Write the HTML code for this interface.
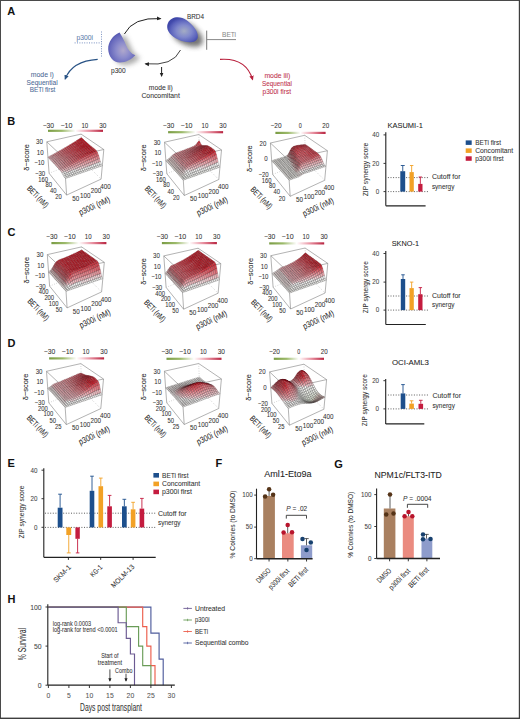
<!DOCTYPE html>
<html><head><meta charset="utf-8"><style>
html,body{margin:0;padding:0;background:#fff;}
body{width:520px;height:719px;overflow:hidden;}
svg{display:block;font-family:"Liberation Sans", sans-serif;}
text{stroke-width:0.06px;}
</style></head><body>
<svg width="520" height="719" viewBox="0 0 520 719">
<rect x="0" y="0" width="520" height="719" fill="#fff"/>
<defs>
<radialGradient id="gP300" cx="0.55" cy="0.58" r="0.62" fx="0.55" fy="0.6">
<stop offset="0" stop-color="#b0a8cc"/><stop offset="0.4" stop-color="#8c8ccc"/><stop offset="0.8" stop-color="#6668bc"/><stop offset="1" stop-color="#4a4eac"/>
</radialGradient>
<radialGradient id="gBRD" cx="0.55" cy="0.55" r="0.55" fx="0.55" fy="0.55">
<stop offset="0" stop-color="#a4acc4"/><stop offset="0.45" stop-color="#8088cc"/><stop offset="0.8" stop-color="#5a62bc"/><stop offset="1" stop-color="#4048aa"/>
</radialGradient>
<filter id="blur3" x="-50%" y="-50%" width="200%" height="200%"><feGaussianBlur stdDeviation="2.6"/></filter>
<filter id="blur1" x="-50%" y="-50%" width="200%" height="200%"><feGaussianBlur stdDeviation="0.6"/></filter>
<marker id="ahK" viewBox="0 0 10 10" refX="7" refY="5" markerWidth="5" markerHeight="5" orient="auto"><path d="M0,1 L9,5 L0,9 z" fill="#222"/></marker>
<marker id="ahB" viewBox="0 0 10 10" refX="7" refY="5" markerWidth="5" markerHeight="5" orient="auto"><path d="M0,1 L9,5 L0,9 z" fill="#2a5486"/></marker>
<marker id="ahR" viewBox="0 0 10 10" refX="7" refY="5" markerWidth="5" markerHeight="5" orient="auto"><path d="M0,1 L9,5 L0,9 z" fill="#b8203c"/></marker>
</defs>
<text x="7.2" y="15.2" font-size="11" font-weight="bold" fill="#111">A</text>
<text x="7.2" y="124.6" font-size="11" font-weight="bold" fill="#111">B</text>
<text x="7.6" y="235.8" font-size="11" font-weight="bold" fill="#111">C</text>
<text x="7.6" y="347.4" font-size="11" font-weight="bold" fill="#111">D</text>
<text x="7.4" y="467.4" font-size="11" font-weight="bold" fill="#111">E</text>
<text x="215.6" y="467.4" font-size="11" font-weight="bold" fill="#111">F</text>
<text x="334.2" y="467.6" font-size="11" font-weight="bold" fill="#111">G</text>
<text x="7.6" y="602.8" font-size="11" font-weight="bold" fill="#111">H</text>
<text x="76.50" y="39.68" font-size="6.6" fill="#5f7fae" stroke="#5f7fae" textLength="16.50" lengthAdjust="spacingAndGlyphs">p300i</text>
<line x1="74.60" y1="42.90" x2="101.30" y2="42.90" stroke="#7890c0" stroke-width="1.0" stroke-dasharray="1 1.4"/>
<line x1="101.50" y1="31.50" x2="101.50" y2="56.50" stroke="#7890c0" stroke-width="1.0" stroke-dasharray="1 1.4"/>
<path d="M119.5,32.4 C122,36 124.5,41 126,45 C128,50 131,53.5 135.3,55.3 C132,59 126,62.5 119.9,62.6 C113,62.5 108.5,56 108.2,49.2 C108,42 113,35 119.5,32.4 Z" fill="#666" opacity="0.55" filter="url(#blur3)" transform="translate(5,2.5)"/>
<path d="M119.5,32.4 C122,36 124.5,41 126,45 C128,50 131,53.5 135.3,55.3 C132,59 126,62.5 119.9,62.6 C113,62.5 108.5,56 108.2,49.2 C108,42 113,35 119.5,32.4 Z" fill="url(#gP300)"/>
<text x="111.00" y="72.78" font-size="6.6" fill="#333" stroke="#333" textLength="14.60" lengthAdjust="spacingAndGlyphs">p300</text>
<path d="M168,23 C171,16.5 180,15.5 187,20.5 C193,25 198.5,31.5 197.8,37.2 C197,42.5 190,43 184,41.6 C176,39.6 169,34.5 167.6,29.5 C167,27 167,25 168,23 Z" fill="#3a3a3a" opacity="0.7" filter="url(#blur3)" transform="translate(5,4.5)"/>
<path d="M168,23 C171,16.5 180,15.5 187,20.5 C193,25 198.5,31.5 197.8,37.2 C197,42.5 190,43 184,41.6 C176,39.6 169,34.5 167.6,29.5 C167,27 167,25 168,23 Z" fill="url(#gBRD)"/>
<text x="187.00" y="18.98" font-size="6.6" fill="#333" stroke="#333" textLength="17.00" lengthAdjust="spacingAndGlyphs">BRD4</text>
<path d="M124.4,34 Q133,17 160.5,18.6" fill="none" stroke="#222" stroke-width="1" marker-end="url(#ahK)"/>
<path d="M180.5,50 Q173,66.5 145.5,63.8" fill="none" stroke="#444" stroke-width="1" marker-end="url(#ahK)"/>
<path d="M161.6,67 L161.6,76" fill="none" stroke="#222" stroke-width="1" marker-end="url(#ahK)"/>
<path d="M97.7,59.4 Q72,61 65.2,79" fill="none" stroke="#2a5486" stroke-width="1.1" marker-end="url(#ahB)"/>
<path d="M220,59.4 Q246,57.5 252.6,79.5" fill="none" stroke="#b8203c" stroke-width="1.1" marker-end="url(#ahR)"/>
<line x1="206.70" y1="30.60" x2="206.70" y2="49.80" stroke="#777" stroke-width="1"/>
<line x1="206.70" y1="39.60" x2="236.00" y2="39.60" stroke="#888" stroke-width="1"/>
<text x="222.00" y="36.78" font-size="6.6" fill="#8a8a8a" stroke="#8a8a8a" textLength="14.00" lengthAdjust="spacingAndGlyphs">BETi</text>
<text x="30.80" y="77.23" font-size="7.3" fill="#4c6a96" stroke="#4c6a96" textLength="23.00" lengthAdjust="spacingAndGlyphs">mode i)</text>
<text x="26.60" y="84.93" font-size="7.3" fill="#4c6a96" stroke="#4c6a96" textLength="31.10" lengthAdjust="spacingAndGlyphs">Sequential</text>
<text x="29.70" y="92.33" font-size="7.3" fill="#4c6a96" stroke="#4c6a96" textLength="25.70" lengthAdjust="spacingAndGlyphs">BETi first</text>
<text x="148.80" y="89.93" font-size="7.3" fill="#333" stroke="#333" textLength="24.00" lengthAdjust="spacingAndGlyphs">mode ii)</text>
<text x="141.40" y="97.73" font-size="7.3" fill="#333" stroke="#333" textLength="38.40" lengthAdjust="spacingAndGlyphs">Concomitant</text>
<text x="264.40" y="78.43" font-size="7.3" fill="#c0304a" stroke="#c0304a" textLength="26.00" lengthAdjust="spacingAndGlyphs">mode iii)</text>
<text x="262.00" y="85.63" font-size="7.3" fill="#c0304a" stroke="#c0304a" textLength="30.00" lengthAdjust="spacingAndGlyphs">Sequential</text>
<text x="262.50" y="93.83" font-size="7.3" fill="#c0304a" stroke="#c0304a" textLength="28.50" lengthAdjust="spacingAndGlyphs">p300i first</text>
<defs><linearGradient id="cbar" x1="0" x2="1" y1="0" y2="0">
<stop offset="0" stop-color="#7a9c44"/><stop offset="0.25" stop-color="#9cba6a"/><stop offset="0.44" stop-color="#e8eedc"/>
<stop offset="0.5" stop-color="#ffffff"/><stop offset="0.56" stop-color="#fbe4e8"/><stop offset="0.75" stop-color="#e890a0"/><stop offset="1" stop-color="#b82440"/>
</linearGradient></defs>
<line x1="49.10" y1="173.30" x2="66.60" y2="195.10" stroke="#808080" stroke-width="0.6"/>
<line x1="66.60" y1="195.10" x2="101.10" y2="179.10" stroke="#808080" stroke-width="0.6"/>
<line x1="46.80" y1="141.80" x2="49.10" y2="173.30" stroke="#808080" stroke-width="0.6"/>
<line x1="103.80" y1="149.50" x2="101.10" y2="179.10" stroke="#808080" stroke-width="0.6"/>
<line x1="64.20" y1="158.20" x2="66.60" y2="195.10" stroke="#808080" stroke-width="0.6"/>
<line x1="46.80" y1="141.80" x2="81.10" y2="134.10" stroke="#808080" stroke-width="0.6"/>
<line x1="81.10" y1="134.10" x2="103.80" y2="149.50" stroke="#808080" stroke-width="0.6"/>
<line x1="46.80" y1="141.80" x2="64.20" y2="158.20" stroke="#808080" stroke-width="0.6"/>
<line x1="64.20" y1="158.20" x2="103.80" y2="149.50" stroke="#808080" stroke-width="0.6"/>
<line x1="49.10" y1="173.30" x2="82.10" y2="160.10" stroke="#999" stroke-width="0.5" stroke-dasharray="0.8 1.6"/>
<line x1="82.10" y1="160.10" x2="101.10" y2="179.10" stroke="#999" stroke-width="0.5" stroke-dasharray="0.8 1.6"/>
<line x1="81.10" y1="134.10" x2="82.10" y2="160.10" stroke="#999" stroke-width="0.5" stroke-dasharray="0.8 1.6"/>
<g stroke="#4a0810" stroke-width="0.5" stroke-opacity="0.48" stroke-linejoin="round"><path d="M80.7,139.7l1.7-1.1-1.1-1-1.7,1.1z" fill="#be1c26"/><path d="M79.0,140.8l1.7-1.1-1.1-1-1.7,1.1z" fill="#be1c26"/><path d="M81.8,140.7l1.7-1.1-1.1-1-1.7,1.1z" fill="#bf1c26"/><path d="M77.3,141.8l1.7-1.1-1.1-1-1.7,1.1z" fill="#be1c26"/><path d="M80.0,141.7l1.7-1.1-1.1-1-1.7,1.1z" fill="#bf1c26"/><path d="M82.8,141.6l1.7-1.1-1.1-1-1.7,1.1z" fill="#c01b26"/><path d="M75.6,142.9l1.7-1-1.1-1-1.7,1.1z" fill="#be1c26"/><path d="M78.3,142.8l1.7-1.1-1.1-1-1.7,1.1z" fill="#bf1c26"/><path d="M81.1,142.7l1.7-1-1.1-1-1.7,1.1z" fill="#bf1c26"/><path d="M83.9,142.6l1.7-1-1.1-1-1.7,1.1z" fill="#c01b26"/><path d="M73.9,143.9l1.7-1-1.1-.9-1.7,1z" fill="#bf202a"/><path d="M76.6,143.8l1.7-1-1.1-.9-1.7,1z" fill="#bf1c26"/><path d="M79.4,143.7l1.7-1-1.1-1-1.7,1.1z" fill="#bf1c26"/><path d="M82.2,143.6l1.7-1-1.1-1-1.7,1z" fill="#c01b26"/><path d="M85.0,143.5l1.8-1-1.1-1-1.7,1z" fill="#c01b26"/><path d="M72.2,144.9l1.7-1-1-.9-1.7,1z" fill="#c22a34"/><path d="M74.9,144.8l1.7-1-1.1-.9-1.7,1z" fill="#c0212c"/><path d="M77.7,144.7l1.7-1-1.1-.9-1.7,1z" fill="#bf1c26"/><path d="M80.5,144.6l1.7-1-1.1-1-1.7,1z" fill="#c01b26"/><path d="M83.3,144.6l1.8-1-1.1-1-1.7,1z" fill="#c01b26"/><path d="M86.1,144.5l1.8-1-1.1-1-1.8,1z" fill="#c11b26"/><path d="M70.5,145.9l1.7-1-1-.9-1.7,1z" fill="#c4343e"/><path d="M73.2,145.8l1.7-1-1-.9-1.7,1z" fill="#c22b35"/><path d="M76.0,145.7l1.7-1-1-.9-1.7,1z" fill="#c1232e"/><path d="M78.7,145.7l1.7-1-1.1-.9-1.7,1z" fill="#bf1c26"/><path d="M81.5,145.6l1.7-1-1.1-.9-1.7,1z" fill="#c01b26"/><path d="M84.3,145.5l1.8-1-1.1-.9-1.8,1z" fill="#c01b26"/><path d="M87.2,145.4l1.8-1-1.1-1-1.8,1z" fill="#c11b26"/><path d="M68.9,146.9l1.7-1-1-.9-1.7,1z" fill="#c73e47"/><path d="M71.5,146.8l1.7-1-1-.9-1.7,1z" fill="#c5353f"/><path d="M74.3,146.8l1.7-1-1-.9-1.7,1z" fill="#c32d37"/><path d="M77.0,146.7l1.7-1-1-.9-1.7,1z" fill="#c1252f"/><path d="M79.8,146.6l1.7-1-1.1-.9-1.7,1z" fill="#c01d28"/><path d="M82.6,146.5l1.8-1-1.1-.9-1.7,1z" fill="#c01b26"/><path d="M85.4,146.4l1.8-1-1.1-.9-1.8,1z" fill="#c11b26"/><path d="M88.3,146.4l1.8-1-1.1-.9-1.8,1z" fill="#c11b26"/><path d="M67.2,147.9l1.7-1-1-.9-1.7,1z" fill="#c94750"/><path d="M69.9,147.8l1.7-1-1-.9-1.7,1z" fill="#c73f48"/><path d="M72.6,147.7l1.7-1-1-.9-1.7,1z" fill="#c53640"/><path d="M75.3,147.7l1.7-1-1-.9-1.7,1z" fill="#c42e38"/><path d="M78.0,147.6l1.7-1-1-.9-1.7,1z" fill="#c22631"/><path d="M80.8,147.5l1.8-1-1.1-.9-1.7,1z" fill="#c11e29"/><path d="M83.6,147.4l1.8-1-1.1-.9-1.8,1z" fill="#c01b26"/><path d="M86.5,147.4l1.8-1-1.1-.9-1.8,1z" fill="#c11b26"/><path d="M89.4,147.3l1.8-1-1.1-.9-1.8,1z" fill="#c11b26"/><path d="M65.5,148.9l1.7-1-1-.9-1.7,1z" fill="#cc5159"/><path d="M68.2,148.8l1.7-1-1-.9-1.7,1z" fill="#ca4851"/><path d="M70.8,148.7l1.7-1-1-.9-1.7,1z" fill="#c84049"/><path d="M73.6,148.7l1.7-1-1-.9-1.7,1z" fill="#c63841"/><path d="M76.3,148.6l1.7-1-1-.9-1.7,1z" fill="#c42f3a"/><path d="M79.1,148.5l1.8-1-1-.9-1.7,1z" fill="#c32832"/><path d="M81.9,148.4l1.8-1-1.1-.9-1.8,1z" fill="#c1202b"/><path d="M84.7,148.3l1.8-1-1.1-.9-1.8,1z" fill="#c11b26"/><path d="M87.6,148.3l1.8-1-1.1-.9-1.8,1z" fill="#c11b26"/><path d="M90.5,148.2l1.8-1-1.1-.9-1.8,1z" fill="#c11b26"/><path d="M63.8,149.8l1.7-1-1-.9-1.7,1z" fill="#ce5a63" stroke="#400e14"/><path d="M66.5,149.8l1.7-1-1-.9-1.7,1z" fill="#cc525a"/><path d="M69.1,149.7l1.7-1-1-.9-1.7,1z" fill="#ca4952"/><path d="M71.8,149.6l1.7-1-1-.9-1.7,1z" fill="#c8414a"/><path d="M74.6,149.6l1.7-1-1-.9-1.7,1z" fill="#c63942"/><path d="M77.3,149.5l1.8-1-1-.9-1.7,1z" fill="#c5313b"/><path d="M80.1,149.4l1.8-1-1-.9-1.8,1z" fill="#c32933"/><path d="M82.9,149.3l1.8-1-1.1-.9-1.8,1z" fill="#c2212c"/><path d="M85.8,149.2l1.8-1-1.1-.9-1.8,1z" fill="#c11b26"/><path d="M88.6,149.2l1.8-1-1.1-.9-1.8,1z" fill="#c11b26"/><path d="M91.5,149.1l1.8-1-1.1-.9-1.8,1z" fill="#c11b26"/><path d="M62.1,150.8l1.7-.9-1-.9-1.7,.9z" fill="#d1646c" stroke="#400e14"/><path d="M64.8,150.7l1.7-1-1-.9-1.7,1z" fill="#ce5b63" stroke="#400e14"/><path d="M67.4,150.7l1.7-1-1-.9-1.7,1z" fill="#cc525b"/><path d="M70.1,150.6l1.7-1-1-.9-1.7,1z" fill="#ca4a53"/><path d="M72.8,150.5l1.7-1-1-.9-1.7,1z" fill="#c9424b"/><path d="M75.6,150.5l1.7-1-1-.9-1.7,1z" fill="#c73a43"/><path d="M78.3,150.4l1.8-1-1-.9-1.8,1z" fill="#c5323c"/><path d="M81.1,150.3l1.8-1-1-.9-1.8,1z" fill="#c42a35"/><path d="M84.0,150.2l1.8-1-1.1-.9-1.8,1z" fill="#c2232e"/><path d="M86.8,150.1l1.8-1-1.1-.9-1.8,1z" fill="#c11c27"/><path d="M89.7,150.1l1.8-1-1.1-.9-1.8,1z" fill="#c11b26"/><path d="M92.6,150.0l1.9-1-1.1-.9-1.8,1z" fill="#c11b26"/><path d="M60.5,151.7l1.7-.9-.9-.9-1.7,.9z" fill="#d36d75" stroke="#400e14"/><path d="M63.1,151.7l1.7-.9-1-.9-1.7,.9z" fill="#d1646c" stroke="#400e14"/><path d="M65.7,151.6l1.7-1-1-.9-1.7,1z" fill="#cf5b64" stroke="#400e14"/><path d="M68.4,151.6l1.7-1-1-.9-1.7,1z" fill="#cd535c"/><path d="M71.1,151.5l1.7-1-1-.9-1.7,1z" fill="#cb4b54"/><path d="M73.8,151.4l1.7-1-1-.9-1.7,1z" fill="#c9434c"/><path d="M76.6,151.4l1.8-1-1-.9-1.7,1z" fill="#c73b44"/><path d="M79.4,151.3l1.8-1-1-.9-1.8,1z" fill="#c6333d"/><path d="M82.2,151.2l1.8-1-1-.9-1.8,1z" fill="#c42b36"/><path d="M85.0,151.1l1.8-1-1.1-.9-1.8,1z" fill="#c3242f"/><path d="M87.9,151.0l1.8-1-1.1-.9-1.8,1z" fill="#c11d28"/><path d="M90.8,151.0l1.8-1-1.1-.9-1.8,1z" fill="#c11b26"/><path d="M93.7,150.9l1.9-.9-1.1-.9-1.9,1z" fill="#c11b26"/><path d="M58.8,152.6l1.7-.9-.9-.9-1.7,.9z" fill="#d6767e" stroke="#361519"/><path d="M61.4,152.6l1.7-.9-.9-.9-1.7,.9z" fill="#d36d75" stroke="#400e14"/><path d="M64.0,152.6l1.7-1-1-.9-1.7,.9z" fill="#d1656c" stroke="#400e14"/><path d="M66.7,152.5l1.7-1-1-.9-1.7,1z" fill="#cf5c64" stroke="#400e14"/><path d="M69.4,152.5l1.7-1-1-.9-1.7,1z" fill="#cd545c"/><path d="M72.1,152.4l1.7-1-1-.9-1.7,1z" fill="#cb4b54"/><path d="M74.8,152.3l1.8-1-1-.9-1.7,1z" fill="#c9434d"/><path d="M77.6,152.2l1.8-1-1-.9-1.8,1z" fill="#c83c45"/><path d="M80.4,152.2l1.8-1-1-.9-1.8,1z" fill="#c6343e"/><path d="M83.2,152.1l1.8-1-1-.9-1.8,1z" fill="#c42d37"/><path d="M86.0,152.0l1.8-1-1.1-.9-1.8,1z" fill="#c32530"/><path d="M88.9,151.9l1.8-1-1.1-.9-1.8,1z" fill="#c21e29"/><path d="M91.8,151.9l1.9-1-1.1-.9-1.8,1z" fill="#c11b26"/><path d="M94.8,151.9l1.9-.9-1.1-1-1.9,.9z" fill="#c51b26"/><path d="M57.1,153.6l1.7-.9-.9-.9-1.7,.9z" fill="#d88087" stroke="#361519"/><path d="M59.7,153.6l1.7-.9-.9-.9-1.7,.9z" fill="#d6777e" stroke="#361519"/><path d="M62.4,153.5l1.7-.9-.9-.9-1.7,.9z" fill="#d36e75" stroke="#400e14"/><path d="M65.0,153.5l1.7-1-1-.9-1.7,1z" fill="#d1656d" stroke="#400e14"/><path d="M67.7,153.4l1.7-1-1-.9-1.7,1z" fill="#cf5c65" stroke="#400e14"/><path d="M70.4,153.4l1.7-1-1-.9-1.7,1z" fill="#cd545d"/><path d="M73.1,153.3l1.8-1-1-.9-1.7,1z" fill="#cb4c55"/><path d="M75.8,153.2l1.8-1-1-.9-1.8,1z" fill="#ca444d"/><path d="M78.6,153.1l1.8-1-1-.9-1.8,1z" fill="#c83c46"/><path d="M81.4,153.1l1.8-1-1-.9-1.8,1z" fill="#c6353f"/><path d="M84.2,153.0l1.8-1-1-.9-1.8,1z" fill="#c52e38"/><path d="M87.1,152.9l1.8-1-1.1-.9-1.8,1z" fill="#c32631"/><path d="M90.0,152.8l1.9-1-1.1-.9-1.8,1z" fill="#c21f2a"/><path d="M92.9,152.8l1.9-.9-1.1-1-1.9,1z" fill="#c51b26"/><path d="M95.8,153.8l1.9-.9-1-1.9-1.9,.9z" fill="#d5454e"/><path d="M55.5,154.5l1.7-.9-.9-.9-1.7,.9z" fill="#db8990" stroke="#361519"/><path d="M58.0,154.5l1.7-.9-.9-.9-1.7,.9z" fill="#d88087" stroke="#361519"/><path d="M60.7,154.5l1.7-.9-.9-.9-1.7,.9z" fill="#d6777e" stroke="#361519"/><path d="M63.3,154.4l1.7-.9-.9-.9-1.7,.9z" fill="#d46e76" stroke="#400e14"/><path d="M65.9,154.4l1.7-1-1-.9-1.7,1z" fill="#d1656d" stroke="#400e14"/><path d="M68.6,154.3l1.7-1-1-.9-1.7,1z" fill="#cf5d65" stroke="#400e14"/><path d="M71.3,154.3l1.7-1-1-.9-1.7,1z" fill="#cd555d"/><path d="M74.1,154.2l1.8-1-1-.9-1.8,1z" fill="#cc4d56"/><path d="M76.8,154.1l1.8-1-1-.9-1.8,1z" fill="#ca454e"/><path d="M79.6,154.0l1.8-1-1-.9-1.8,1z" fill="#c83d47"/><path d="M82.4,153.9l1.8-1-1-.9-1.8,1z" fill="#c73640"/><path d="M85.3,153.9l1.8-1-1-.9-1.8,1z" fill="#c52e39"/><path d="M88.1,153.8l1.8-1-1.1-.9-1.8,1z" fill="#c42732"/><path d="M91.0,153.8l1.9-1-1.1-1-1.9,1z" fill="#c6212c"/><path d="M93.9,154.7l1.9-.9-1-1.9-1.9,.9z" fill="#d64a54"/><path d="M96.8,156.5l1.9-.8-1-2.7-1.9,.9z" fill="#dd6971"/><path d="M53.8,155.4l1.7-.9-.9-.9-1.7,.9z" fill="#de9399" stroke="#2c1b1d"/><path d="M56.4,155.4l1.7-.9-.9-.9-1.7,.9z" fill="#db8990" stroke="#361519"/><path d="M59.0,155.4l1.7-.9-.9-.9-1.7,.9z" fill="#d88087" stroke="#361519"/><path d="M61.6,155.4l1.7-.9-.9-.9-1.7,.9z" fill="#d6777e" stroke="#361519"/><path d="M64.2,155.3l1.7-1-.9-.9-1.7,.9z" fill="#d46e76" stroke="#400e14"/><path d="M66.9,155.3l1.7-1-1-.9-1.7,1z" fill="#d2666e" stroke="#400e14"/><path d="M69.6,155.2l1.7-1-1-.9-1.7,1z" fill="#d05d66" stroke="#400e14"/><path d="M72.3,155.2l1.8-1-1-.9-1.7,1z" fill="#ce555e"/><path d="M75.0,155.1l1.8-1-1-.9-1.8,1z" fill="#cc4d56"/><path d="M77.8,155.0l1.8-1-1-.9-1.8,1z" fill="#ca454f"/><path d="M80.6,154.9l1.8-1-1-.9-1.8,1z" fill="#c83e47"/><path d="M83.4,154.8l1.8-1-1-.9-1.8,1z" fill="#c73740"/><path d="M86.3,154.7l1.8-1-1-.9-1.8,1z" fill="#c52f39"/><path d="M89.2,154.7l1.9-1-1.1-1-1.8,1z" fill="#c82934"/><path d="M92.0,155.6l1.9-.9-1-1.9-1.9,1z" fill="#d75059"/><path d="M94.9,157.3l1.9-.8-1-2.7-1.9,.9z" fill="#de6e76"/><path d="M97.7,159.5l1.9-.8-.9-3.1-1.9,.8z" fill="#e68d93" stroke="#400e14"/><path d="M52.1,156.3l1.7-.9-.9-.9-1.7,.9z" fill="#e09da3" stroke="#2c1b1d"/><path d="M54.7,156.3l1.7-.9-.9-.9-1.7,.9z" fill="#de9399" stroke="#2c1b1d"/><path d="M57.3,156.3l1.7-.9-.9-.9-1.7,.9z" fill="#db8990" stroke="#361519"/><path d="M59.9,156.3l1.7-.9-.9-.9-1.7,.9z" fill="#d98087" stroke="#361519"/><path d="M62.5,156.3l1.7-.9-.9-.9-1.7,.9z" fill="#d6777e" stroke="#361519"/><path d="M65.2,156.2l1.7-1-.9-.9-1.7,1z" fill="#d46f76" stroke="#400e14"/><path d="M67.8,156.2l1.7-1-1-.9-1.7,1z" fill="#d2666e" stroke="#400e14"/><path d="M70.5,156.1l1.8-1-1-.9-1.7,1z" fill="#d05e66" stroke="#400e14"/><path d="M73.3,156.1l1.8-1-1-.9-1.8,1z" fill="#ce565e"/><path d="M76.0,156.0l1.8-1-1-.9-1.8,1z" fill="#cc4e57"/><path d="M78.8,155.9l1.8-1-1-.9-1.8,1z" fill="#ca464f"/><path d="M81.6,155.8l1.8-1-1-.9-1.8,1z" fill="#c93f48"/><path d="M84.4,155.7l1.8-1-1-.9-1.8,1z" fill="#c73741"/><path d="M87.3,155.7l1.9-1-1-1-1.8,1z" fill="#c9313c"/><path d="M90.2,156.5l1.9-.9-1-1.8-1.9,1z" fill="#d9555e"/><path d="M93.0,158.2l1.9-.9-1-2.6-1.9,.9z" fill="#e0737b"/><path d="M95.8,160.3l1.9-.8-.9-3-1.9,.8z" fill="#e79198" stroke="#400e14"/><path d="M98.6,162.5l1.8-.7-.9-3-1.9,.8z" fill="#f0b7bc" stroke="#361519"/><path d="M50.5,157.1l1.7-.9-.9-.9-1.7,.9z" fill="#e3a7ad" stroke="#2c1b1d"/><path d="M53.0,157.2l1.7-.9-.9-.9-1.7,.9z" fill="#e09da3" stroke="#2c1b1d"/><path d="M55.6,157.2l1.7-.9-.9-.9-1.7,.9z" fill="#de9399" stroke="#2c1b1d"/><path d="M58.2,157.2l1.7-.9-.9-.9-1.7,.9z" fill="#db8a90" stroke="#361519"/><path d="M60.8,157.2l1.7-.9-.9-.9-1.7,.9z" fill="#d98087" stroke="#361519"/><path d="M63.4,157.2l1.7-1-.9-.9-1.7,.9z" fill="#d6777f" stroke="#361519"/><path d="M66.1,157.2l1.7-1-.9-.9-1.7,1z" fill="#d46f76" stroke="#400e14"/><path d="M68.8,157.1l1.8-1-1-.9-1.7,1z" fill="#d2666e" stroke="#400e14"/><path d="M71.5,157.0l1.8-1-1-.9-1.8,1z" fill="#d05e66" stroke="#400e14"/><path d="M74.2,156.9l1.8-1-1-.9-1.8,1z" fill="#ce565f"/><path d="M77.0,156.9l1.8-1-1-.9-1.8,1z" fill="#cc4e57"/><path d="M79.8,156.8l1.8-1-1-.9-1.8,1z" fill="#cb4750"/><path d="M82.6,156.7l1.8-1-1-.9-1.8,1z" fill="#c93f49"/><path d="M85.5,156.7l1.8-1-1-1-1.8,1z" fill="#cb3943"/><path d="M88.3,157.5l1.9-.9-1-1.8-1.9,1z" fill="#da5b64"/><path d="M91.2,159.0l1.9-.9-1-2.5-1.9,.9z" fill="#e17980"/><path d="M94.0,161.0l1.9-.8-.9-3-1.9,.9z" fill="#e8969c" stroke="#400e14"/><path d="M96.7,163.2l1.8-.7-.9-3-1.9,.8z" fill="#f0babf" stroke="#2c1b1d"/><path d="M99.5,164.9l1.8-.7-.9-2.5-1.8,.7z" fill="#f7f6f6" stroke="#222222"/><path d="M48.8,158.0l1.7-.8-.9-.9-1.7,.8z" fill="#e7b3b8" stroke="#2c1b1d"/><path d="M51.3,158.1l1.7-.9-.9-.9-1.7,.9z" fill="#e3a7ad" stroke="#2c1b1d"/><path d="M53.9,158.1l1.7-.9-.9-.9-1.7,.9z" fill="#e09da3" stroke="#2c1b1d"/><path d="M56.5,158.2l1.7-.9-.9-.9-1.7,.9z" fill="#de9399" stroke="#2c1b1d"/><path d="M59.1,158.2l1.7-.9-.9-.9-1.7,.9z" fill="#db8a90" stroke="#361519"/><path d="M61.7,158.1l1.7-.9-.9-.9-1.7,.9z" fill="#d98087" stroke="#361519"/><path d="M64.4,158.1l1.7-1-.9-.9-1.7,1z" fill="#d6787f" stroke="#361519"/><path d="M67.0,158.1l1.7-1-.9-.9-1.7,1z" fill="#d46f77" stroke="#400e14"/><path d="M69.7,158.0l1.8-1-1-.9-1.8,1z" fill="#d2676f" stroke="#400e14"/><path d="M72.5,157.9l1.8-1-1-.9-1.8,1z" fill="#d05e67" stroke="#400e14"/><path d="M75.2,157.8l1.8-1-1-.9-1.8,1z" fill="#ce565f"/><path d="M78.0,157.7l1.8-1-1-.9-1.8,1z" fill="#cc4f58"/><path d="M80.8,157.7l1.8-1-1-.9-1.8,1z" fill="#cb4750"/><path d="M83.6,157.6l1.8-1-1-1-1.8,1z" fill="#cd414b"/><path d="M86.5,158.4l1.9-.9-1-1.8-1.8,1z" fill="#dc6169"/><path d="M89.3,159.9l1.9-.9-1-2.5-1.9,.9z" fill="#e27e85"/><path d="M92.1,161.8l1.9-.8-.9-2.9-1.9,.9z" fill="#e99aa0" stroke="#400e14"/><path d="M94.9,163.9l1.8-.7-.9-2.9-1.9,.8z" fill="#f1bdc2" stroke="#2c1b1d"/><path d="M97.7,165.6l1.8-.7-.9-2.5-1.8,.7z" fill="#f7f6f6" stroke="#222222"/><path d="M100.5,166.4l1.8-.6-1-1.5-1.8,.7z" fill="#f4f3f2" stroke="#222222"/><path d="M49.7,158.9l1.7-.8-.9-.9-1.7,.8z" fill="#e7b3b8" stroke="#2c1b1d"/><path d="M52.2,159.0l1.7-.9-.9-.9-1.7,.9z" fill="#e3a7ad" stroke="#2c1b1d"/><path d="M54.8,159.1l1.7-.9-.9-.9-1.7,.9z" fill="#e09da3" stroke="#2c1b1d"/><path d="M57.4,159.1l1.7-.9-.9-.9-1.7,.9z" fill="#de9399" stroke="#2c1b1d"/><path d="M60.0,159.1l1.7-.9-.9-.9-1.7,.9z" fill="#db8a90" stroke="#361519"/><path d="M62.6,159.1l1.7-1-.9-.9-1.7,.9z" fill="#d98188" stroke="#361519"/><path d="M65.3,159.0l1.7-1-.9-.9-1.7,1z" fill="#d6787f" stroke="#361519"/><path d="M68.0,159.0l1.8-1-.9-.9-1.7,1z" fill="#d46f77" stroke="#400e14"/><path d="M70.7,158.9l1.8-1-1-.9-1.8,1z" fill="#d2676f" stroke="#400e14"/><path d="M73.4,158.8l1.8-1-1-.9-1.8,1z" fill="#d05f67" stroke="#400e14"/><path d="M76.2,158.7l1.8-1-1-.9-1.8,1z" fill="#ce575f"/><path d="M79.0,158.6l1.8-1-1-.9-1.8,1z" fill="#cd4f58"/><path d="M81.8,158.6l1.8-1-1-1-1.8,1z" fill="#ce4953"/><path d="M84.6,159.3l1.8-.9-1-1.7-1.8,1z" fill="#dd666f"/><path d="M87.4,160.7l1.9-.9-1-2.4-1.9,.9z" fill="#e3838a"/><path d="M90.3,162.6l1.9-.8-.9-2.8-1.9,.9z" fill="#ea9fa5" stroke="#361519"/><path d="M93.0,164.6l1.8-.7-.9-2.8-1.9,.8z" fill="#f2c1c5" stroke="#2c1b1d"/><path d="M95.8,166.2l1.8-.7-.9-2.4-1.8,.7z" fill="#f7f6f6" stroke="#222222"/><path d="M98.6,167.1l1.8-.6-1-1.5-1.8,.7z" fill="#f4f3f1" stroke="#222222"/><path d="M50.5,159.9l1.7-.8-.9-.9-1.7,.8z" fill="#e7b3b8" stroke="#2c1b1d"/><path d="M53.1,160.0l1.7-.9-.9-.9-1.7,.9z" fill="#e3a7ad" stroke="#2c1b1d"/><path d="M55.7,160.0l1.7-.9-.9-.9-1.7,.9z" fill="#e09da3" stroke="#2c1b1d"/><path d="M58.3,160.0l1.7-.9-.9-.9-1.7,.9z" fill="#de9399" stroke="#2c1b1d"/><path d="M60.9,160.0l1.7-.9-.9-.9-1.7,.9z" fill="#db8a90" stroke="#361519"/><path d="M63.6,160.0l1.7-1-.9-.9-1.7,1z" fill="#d98188" stroke="#361519"/><path d="M66.2,159.9l1.8-1-.9-.9-1.7,1z" fill="#d7787f" stroke="#361519"/><path d="M68.9,159.9l1.8-1-.9-.9-1.8,1z" fill="#d46f77" stroke="#400e14"/><path d="M71.6,159.8l1.8-1-1-.9-1.8,1z" fill="#d2676f" stroke="#400e14"/><path d="M74.4,159.7l1.8-1-1-.9-1.8,1z" fill="#d05f67" stroke="#400e14"/><path d="M77.2,159.6l1.8-1-1-.9-1.8,1z" fill="#ce5760"/><path d="M80.0,159.6l1.8-1-1-1-1.8,1z" fill="#d0525b"/><path d="M82.8,160.3l1.8-.9-1-1.7-1.8,1z" fill="#df6c75"/><path d="M85.6,161.6l1.8-.9-1-2.4-1.8,.9z" fill="#e5888f" stroke="#400e14"/><path d="M88.4,163.4l1.8-.8-1-2.7-1.9,.9z" fill="#eba3a9" stroke="#361519"/><path d="M91.2,165.3l1.8-.7-.9-2.7-1.9,.8z" fill="#f3c4c8" stroke="#2c1b1d"/><path d="M94.0,166.9l1.8-.7-.9-2.4-1.8,.7z" fill="#f7f6f5" stroke="#222222"/><path d="M96.8,167.7l1.8-.6-1-1.5-1.8,.7z" fill="#f4f3f1" stroke="#222222"/><path d="M51.4,160.8l1.7-.9-.9-.9-1.7,.8z" fill="#e7b3b8" stroke="#2c1b1d"/><path d="M54.0,160.9l1.7-.9-.9-.9-1.7,.9z" fill="#e3a7ad" stroke="#2c1b1d"/><path d="M56.6,160.9l1.7-.9-.9-.9-1.7,.9z" fill="#e09da3" stroke="#2c1b1d"/><path d="M59.2,160.9l1.7-.9-.9-.9-1.7,.9z" fill="#de9399" stroke="#2c1b1d"/><path d="M61.8,160.9l1.7-1-.9-.9-1.7,.9z" fill="#db8a90" stroke="#361519"/><path d="M64.5,160.9l1.8-1-.9-.9-1.7,1z" fill="#d98188" stroke="#361519"/><path d="M67.2,160.8l1.8-1-.9-.9-1.8,1z" fill="#d7787f" stroke="#361519"/><path d="M69.9,160.8l1.8-1-.9-.9-1.8,1z" fill="#d47077" stroke="#400e14"/><path d="M72.6,160.7l1.8-1-1-.9-1.8,1z" fill="#d2676f" stroke="#400e14"/><path d="M75.3,160.6l1.8-1-1-.9-1.8,1z" fill="#d05f67" stroke="#400e14"/><path d="M78.1,160.6l1.8-1-1-1-1.8,1z" fill="#d25a62"/><path d="M80.9,161.2l1.8-.9-1-1.6-1.8,1z" fill="#e0727a"/><path d="M83.8,162.5l1.8-.9-1-2.3-1.8,.9z" fill="#e68e94" stroke="#400e14"/><path d="M86.6,164.2l1.8-.8-1-2.7-1.8,.9z" fill="#eca8ad" stroke="#361519"/><path d="M89.4,166.0l1.8-.7-.9-2.7-1.8,.8z" fill="#f3c7cb" stroke="#2c1b1d"/><path d="M92.1,167.5l1.8-.7-.9-2.3-1.8,.7z" fill="#f7f5f5" stroke="#222222"/><path d="M95.0,168.3l1.8-.6-1-1.5-1.8,.7z" fill="#f4f3f1" stroke="#222222"/><path d="M52.3,161.8l1.7-.9-.9-.9-1.7,.9z" fill="#e7b3b8" stroke="#2c1b1d"/><path d="M54.9,161.9l1.7-.9-.9-.9-1.7,.9z" fill="#e3a7ad" stroke="#2c1b1d"/><path d="M57.5,161.9l1.7-.9-.9-.9-1.7,.9z" fill="#e09da3" stroke="#2c1b1d"/><path d="M60.1,161.9l1.7-.9-.9-.9-1.7,.9z" fill="#de9399" stroke="#2c1b1d"/><path d="M62.7,161.8l1.7-1-.9-.9-1.7,1z" fill="#db8a91" stroke="#361519"/><path d="M65.4,161.8l1.8-1-.9-.9-1.8,1z" fill="#d98188" stroke="#361519"/><path d="M68.1,161.7l1.8-1-.9-.9-1.8,1z" fill="#d7787f" stroke="#361519"/><path d="M70.8,161.7l1.8-1-.9-.9-1.8,1z" fill="#d57077" stroke="#400e14"/><path d="M73.5,161.6l1.8-1-1-.9-1.8,1z" fill="#d3676f" stroke="#400e14"/><path d="M76.3,161.6l1.8-1-1-1-1.8,1z" fill="#d4626a" stroke="#400e14"/><path d="M79.1,162.1l1.8-.9-1-1.6-1.8,1z" fill="#e27880" stroke="#400e14"/><path d="M81.9,163.3l1.8-.9-1-2.2-1.8,.9z" fill="#e79399" stroke="#400e14"/><path d="M84.7,165.0l1.8-.8-1-2.6-1.8,.9z" fill="#edacb1" stroke="#361519"/><path d="M87.5,166.7l1.8-.7-.9-2.6-1.8,.8z" fill="#f4cacf" stroke="#2c1b1d"/><path d="M90.3,168.2l1.8-.7-.9-2.2-1.8,.7z" fill="#f7f5f5" stroke="#222222"/><path d="M93.1,169.0l1.8-.6-1-1.4-1.8,.7z" fill="#f3f3f1" stroke="#222222"/><path d="M53.1,162.7l1.7-.9-.9-.9-1.7,.9z" fill="#e7b3b8" stroke="#2c1b1d"/><path d="M55.7,162.8l1.7-.9-.9-.9-1.7,.9z" fill="#e3a7ad" stroke="#2c1b1d"/><path d="M58.4,162.8l1.7-.9-.9-.9-1.7,.9z" fill="#e09da3" stroke="#2c1b1d"/><path d="M61.0,162.8l1.7-1-.9-.9-1.7,.9z" fill="#de939a" stroke="#2c1b1d"/><path d="M63.6,162.8l1.8-1-.9-.9-1.7,1z" fill="#db8a91" stroke="#361519"/><path d="M66.3,162.7l1.8-1-.9-.9-1.8,1z" fill="#d98188" stroke="#361519"/><path d="M69.0,162.7l1.8-1-.9-.9-1.8,1z" fill="#d77880" stroke="#361519"/><path d="M71.7,162.6l1.8-1-.9-.9-1.8,1z" fill="#d57077" stroke="#400e14"/><path d="M74.5,162.5l1.8-1-1-1-1.8,1z" fill="#d66a72" stroke="#400e14"/><path d="M77.3,163.1l1.8-.9-1-1.6-1.8,1z" fill="#e37f86" stroke="#400e14"/><path d="M80.1,164.2l1.8-.9-1-2.2-1.8,.9z" fill="#e9989e" stroke="#400e14"/><path d="M82.9,165.8l1.8-.8-1-2.5-1.8,.9z" fill="#eeb0b6" stroke="#361519"/><path d="M85.7,167.4l1.8-.7-1-2.5-1.8,.8z" fill="#f5ced2" stroke="#2c1b1d"/><path d="M88.5,168.8l1.8-.7-.9-2.2-1.8,.7z" fill="#f6f5f5" stroke="#222222"/><path d="M91.3,169.6l1.8-.6-1-1.4-1.8,.7z" fill="#f3f3f1" stroke="#222222"/><path d="M54.0,163.7l1.7-.9-.9-.9-1.7,.9z" fill="#e7b3b8" stroke="#2c1b1d"/><path d="M56.6,163.7l1.7-.9-.9-.9-1.7,.9z" fill="#e3a7ad" stroke="#2c1b1d"/><path d="M59.2,163.8l1.7-.9-.9-.9-1.7,.9z" fill="#e09da3" stroke="#2c1b1d"/><path d="M61.9,163.7l1.8-1-.9-.9-1.7,1z" fill="#de939a" stroke="#2c1b1d"/><path d="M64.5,163.7l1.8-1-.9-.9-1.8,1z" fill="#db8a91" stroke="#361519"/><path d="M67.2,163.6l1.8-1-.9-.9-1.8,1z" fill="#d98188" stroke="#361519"/><path d="M69.9,163.6l1.8-1-.9-.9-1.8,1z" fill="#d77880" stroke="#361519"/><path d="M72.7,163.5l1.8-1-1-1-1.8,1z" fill="#d7737a" stroke="#400e14"/><path d="M75.5,164.0l1.8-.9-1-1.5-1.8,1z" fill="#e5858d" stroke="#400e14"/><path d="M78.2,165.1l1.8-.9-1-2.1-1.8,.9z" fill="#ea9da3" stroke="#361519"/><path d="M81.0,166.6l1.8-.8-1-2.4-1.8,.9z" fill="#efb5ba" stroke="#361519"/><path d="M83.8,168.1l1.8-.7-1-2.4-1.8,.8z" fill="#f6d1d5" stroke="#2c1b1d"/><path d="M86.6,169.5l1.8-.7-1-2.1-1.8,.7z" fill="#f6f5f5" stroke="#222222"/><path d="M89.4,170.2l1.8-.6-1-1.4-1.8,.7z" fill="#f3f3f1" stroke="#222222"/><path d="M54.9,164.6l1.7-.9-.9-.9-1.7,.9z" fill="#e7b3b8" stroke="#2c1b1d"/><path d="M57.5,164.7l1.7-.9-.9-.9-1.7,.9z" fill="#e3a7ad" stroke="#2c1b1d"/><path d="M60.1,164.7l1.8-1-.9-.9-1.7,.9z" fill="#e09da3" stroke="#2c1b1d"/><path d="M62.8,164.7l1.8-1-.9-.9-1.8,1z" fill="#de939a" stroke="#2c1b1d"/><path d="M65.5,164.6l1.8-1-.9-.9-1.8,1z" fill="#db8a91" stroke="#361519"/><path d="M68.2,164.5l1.8-1-.9-.9-1.8,1z" fill="#d98188" stroke="#361519"/><path d="M70.9,164.5l1.8-1-.9-1-1.8,1z" fill="#d97b82" stroke="#361519"/><path d="M73.6,165.0l1.8-1-1-1.5-1.8,1z" fill="#e78c93" stroke="#361519"/><path d="M76.4,166.0l1.8-.9-1-2-1.8,.9z" fill="#eba2a8" stroke="#361519"/><path d="M79.2,167.3l1.8-.8-1-2.3-1.8,.9z" fill="#f0b9be" stroke="#2c1b1d"/><path d="M82.0,168.8l1.8-.7-1-2.4-1.8,.8z" fill="#f7d5d8" stroke="#222222"/><path d="M84.8,170.1l1.8-.7-1-2.1-1.8,.7z" fill="#f6f5f4" stroke="#222222"/><path d="M87.6,170.9l1.8-.6-1-1.4-1.8,.7z" fill="#f3f3f1" stroke="#222222"/><path d="M55.8,165.6l1.7-.9-.9-.9-1.7,.9z" fill="#e7b3b8" stroke="#2c1b1d"/><path d="M58.4,165.6l1.7-.9-.9-.9-1.7,.9z" fill="#e3a7ad" stroke="#2c1b1d"/><path d="M61.0,165.6l1.8-1-.9-.9-1.8,1z" fill="#e09da3" stroke="#2c1b1d"/><path d="M63.7,165.6l1.8-1-.9-.9-1.8,1z" fill="#de939a" stroke="#2c1b1d"/><path d="M66.4,165.5l1.8-1-.9-.9-1.8,1z" fill="#db8a91" stroke="#361519"/><path d="M69.1,165.5l1.8-1-.9-1-1.8,1z" fill="#dc848b" stroke="#361519"/><path d="M71.8,165.9l1.8-1-1-1.5-1.8,1z" fill="#e8939a" stroke="#361519"/><path d="M74.6,166.9l1.8-.9-1-1.9-1.8,1z" fill="#eda8ae" stroke="#361519"/><path d="M77.4,168.1l1.8-.8-1-2.2-1.8,.9z" fill="#f1bec2" stroke="#2c1b1d"/><path d="M80.2,169.6l1.8-.7-1-2.3-1.8,.8z" fill="#f8d9dc" stroke="#222222"/><path d="M83.0,170.8l1.8-.7-1-2-1.8,.7z" fill="#f6f5f4" stroke="#222222"/><path d="M85.8,171.5l1.8-.6-1-1.4-1.8,.7z" fill="#f3f2f0" stroke="#222222"/><path d="M56.6,166.5l1.7-.9-.9-.9-1.7,.9z" fill="#e7b3b8" stroke="#2c1b1d"/><path d="M59.3,166.6l1.8-.9-.9-.9-1.7,.9z" fill="#e3a7ad" stroke="#2c1b1d"/><path d="M61.9,166.6l1.8-1-.9-.9-1.8,1z" fill="#e19da3" stroke="#2c1b1d"/><path d="M64.6,166.5l1.8-1-.9-.9-1.8,1z" fill="#de939a" stroke="#2c1b1d"/><path d="M67.3,166.5l1.8-1-.9-1-1.8,1z" fill="#de8d93" stroke="#361519"/><path d="M70.0,166.9l1.8-1-.9-1.4-1.8,1z" fill="#ea9ba2" stroke="#361519"/><path d="M72.8,167.7l1.8-.9-1-1.9-1.8,1z" fill="#eeaeb3" stroke="#361519"/><path d="M75.6,168.9l1.8-.8-1-2.2-1.8,.9z" fill="#f3c2c7" stroke="#2c1b1d"/><path d="M78.3,170.3l1.8-.7-1-2.2-1.8,.8z" fill="#f9dde0" stroke="#222222"/><path d="M81.1,171.5l1.8-.7-1-2-1.8,.7z" fill="#f6f5f4" stroke="#222222"/><path d="M83.9,172.1l1.8-.6-1-1.4-1.8,.7z" fill="#f3f2f0" stroke="#222222"/><path d="M57.5,167.5l1.8-.9-.9-.9-1.7,.9z" fill="#e7b3b8" stroke="#2c1b1d"/><path d="M60.1,167.5l1.8-1-.9-.9-1.8,.9z" fill="#e3a7ad" stroke="#2c1b1d"/><path d="M62.8,167.5l1.8-1-.9-.9-1.8,1z" fill="#e19da3" stroke="#2c1b1d"/><path d="M65.5,167.5l1.8-1-.9-1-1.8,1z" fill="#e0969c" stroke="#2c1b1d"/><path d="M68.2,167.8l1.8-1-.9-1.4-1.8,1z" fill="#eca3a9" stroke="#2c1b1d"/><path d="M71.0,168.6l1.8-.9-1-1.8-1.8,1z" fill="#efb3b9" stroke="#2c1b1d"/><path d="M73.7,169.7l1.8-.8-1-2.1-1.8,.9z" fill="#f4c7cb" stroke="#2c1b1d"/><path d="M76.5,171.0l1.8-.7-1-2.1-1.8,.8z" fill="#fae1e5" stroke="#222222"/><path d="M79.3,172.1l1.8-.7-1-1.9-1.8,.7z" fill="#f5f4f3" stroke="#222222"/><path d="M82.1,172.8l1.8-.6-1-1.3-1.8,.7z" fill="#f3f2f0" stroke="#222222"/><path d="M58.4,168.4l1.8-.9-.9-.9-1.8,.9z" fill="#e7b3b8" stroke="#2c1b1d"/><path d="M61.0,168.5l1.8-1-.9-.9-1.8,1z" fill="#e3a7ad" stroke="#2c1b1d"/><path d="M63.7,168.5l1.8-1-.9-1-1.8,1z" fill="#e2a0a5" stroke="#2c1b1d"/><path d="M66.4,168.8l1.8-1-.9-1.3-1.8,1z" fill="#eeabb2" stroke="#2c1b1d"/><path d="M69.1,169.5l1.8-.9-.9-1.7-1.8,1z" fill="#f1babf" stroke="#2c1b1d"/><path d="M71.9,170.5l1.8-.8-1-2-1.8,.9z" fill="#f5ccd0" stroke="#2c1b1d"/><path d="M74.7,171.7l1.8-.7-1-2-1.8,.8z" fill="#f7f5f5" stroke="#222222"/><path d="M77.5,172.8l1.8-.7-1-1.8-1.8,.7z" fill="#f5f4f3" stroke="#222222"/><path d="M80.2,173.4l1.8-.6-.9-1.3-1.8,.7z" fill="#f2f2f0" stroke="#222222"/><path d="M59.3,169.4l1.8-.9-.9-.9-1.8,.9z" fill="#e7b3b8" stroke="#2c1b1d"/><path d="M61.9,169.4l1.8-1-.9-1-1.8,1z" fill="#e5aaaf" stroke="#2c1b1d"/><path d="M64.6,169.7l1.8-.9-.9-1.3-1.8,1z" fill="#f1b4ba" stroke="#2c1b1d"/><path d="M67.3,170.4l1.8-.9-.9-1.7-1.8,1z" fill="#f3c0c5" stroke="#2c1b1d"/><path d="M70.1,171.3l1.8-.8-1-1.9-1.8,.9z" fill="#f6d1d6" stroke="#222222"/><path d="M72.9,172.4l1.8-.7-1-2-1.8,.8z" fill="#f7f5f5" stroke="#222222"/><path d="M75.6,173.4l1.8-.7-.9-1.8-1.8,.7z" fill="#f5f4f3" stroke="#222222"/><path d="M78.4,174.0l1.8-.6-.9-1.3-1.8,.7z" fill="#f2f2f0" stroke="#222222"/><path d="M60.1,170.4l1.8-.9-.9-1-1.8,.9z" fill="#e9b5ba" stroke="#2c1b1d"/><path d="M62.8,170.7l1.8-.9-.9-1.3-1.8,1z" fill="#f3bec3" stroke="#2c1b1d"/><path d="M65.5,171.3l1.8-.9-.9-1.6-1.8,.9z" fill="#f5c8cc" stroke="#2c1b1d"/><path d="M68.3,172.1l1.8-.8-.9-1.8-1.8,.9z" fill="#f8d8dc" stroke="#222222"/><path d="M71.0,173.1l1.8-.7-.9-1.9-1.8,.8z" fill="#f6f5f5" stroke="#222222"/><path d="M73.8,174.1l1.8-.7-.9-1.7-1.8,.7z" fill="#f5f4f2" stroke="#222222"/><path d="M76.6,174.7l1.8-.6-.9-1.3-1.8,.7z" fill="#f2f2f0" stroke="#222222"/><path d="M61.0,171.6l1.8-.9-.9-1.2-1.8,.9z" fill="#f5c8cd" stroke="#222222"/><path d="M63.7,172.1l1.8-.9-.9-1.5-1.8,.9z" fill="#f7d0d4" stroke="#222222"/><path d="M66.5,172.9l1.8-.8-.9-1.7-1.8,.9z" fill="#fadfe3" stroke="#222222"/><path d="M69.2,173.9l1.8-.7-.9-1.8-1.8,.8z" fill="#f6f5f4" stroke="#222222"/><path d="M72.0,174.7l1.8-.7-.9-1.7-1.8,.7z" fill="#f4f3f2" stroke="#222222"/><path d="M74.7,175.3l1.8-.6-.9-1.3-1.8,.7z" fill="#f2f2ef" stroke="#222222"/><path d="M61.9,173.0l1.8-.8-.9-1.5-1.8,.9z" fill="#f9d9dd" stroke="#222222"/><path d="M64.6,173.7l1.8-.8-.9-1.7-1.8,.9z" fill="#f6f5f4" stroke="#222222"/><path d="M67.4,174.6l1.8-.7-.9-1.7-1.8,.8z" fill="#f5f4f3" stroke="#222222"/><path d="M70.1,175.4l1.8-.7-.9-1.6-1.8,.7z" fill="#f4f3f2" stroke="#222222"/><path d="M72.9,176.0l1.8-.6-.9-1.2-1.8,.7z" fill="#f2f2ef" stroke="#222222"/><path d="M62.8,174.5l1.8-.8-.9-1.6-1.8,.8z" fill="#f6f4f4" stroke="#222222"/><path d="M65.6,175.3l1.8-.7-.9-1.6-1.8,.8z" fill="#f5f4f3" stroke="#222222"/><path d="M68.3,176.1l1.8-.7-.9-1.5-1.8,.7z" fill="#f4f3f1" stroke="#222222"/><path d="M71.0,176.6l1.8-.6-.9-1.2-1.8,.7z" fill="#f2f1ef" stroke="#222222"/><path d="M63.7,176.0l1.8-.7-.9-1.6-1.8,.8z" fill="#f4f3f2" stroke="#222222"/><path d="M66.5,176.7l1.8-.7-.9-1.5-1.8,.7z" fill="#f3f3f1" stroke="#222222"/><path d="M69.2,177.2l1.8-.6-.9-1.2-1.8,.7z" fill="#f2f1ef" stroke="#222222"/><path d="M64.6,177.4l1.8-.7-.9-1.4-1.8,.7z" fill="#f3f2f0" stroke="#222222"/><path d="M67.4,177.9l1.8-.6-.9-1.2-1.8,.7z" fill="#f1f1ef" stroke="#222222"/><path d="M65.5,178.5l1.8-.6-.9-1.1-1.8,.7z" fill="#f1f1ee" stroke="#222222"/></g>
<text x="36.00" y="144.32" font-size="7.0" fill="#333" stroke="#333" stroke-width="0.2" textLength="6.80" lengthAdjust="spacingAndGlyphs">30</text>
<text x="36.77" y="154.82" font-size="7.0" fill="#333" stroke="#333" stroke-width="0.2" textLength="6.80" lengthAdjust="spacingAndGlyphs">10</text>
<text x="34.13" y="165.32" font-size="7.0" fill="#333" stroke="#333" stroke-width="0.2" textLength="10.20" lengthAdjust="spacingAndGlyphs">&#8722;10</text>
<text x="34.90" y="175.82" font-size="7.0" fill="#333" stroke="#333" stroke-width="0.2" textLength="10.20" lengthAdjust="spacingAndGlyphs">&#8722;30</text>
<text x="38.22" y="181.52" font-size="7.0" fill="#333" stroke="#333" stroke-width="0.2" textLength="9.75" lengthAdjust="spacingAndGlyphs">160</text>
<text x="45.50" y="186.92" font-size="7.0" fill="#333" stroke="#333" stroke-width="0.2" textLength="6.50" lengthAdjust="spacingAndGlyphs">80</text>
<text x="49.90" y="193.12" font-size="7.0" fill="#333" stroke="#333" stroke-width="0.2" textLength="6.50" lengthAdjust="spacingAndGlyphs">40</text>
<text x="55.20" y="199.32" font-size="7.0" fill="#333" stroke="#333" stroke-width="0.2" textLength="6.50" lengthAdjust="spacingAndGlyphs">20</text>
<text x="72.35" y="200.82" font-size="7.0" fill="#333" stroke="#333" stroke-width="0.2" textLength="7.00" lengthAdjust="spacingAndGlyphs">50</text>
<text x="80.05" y="197.82" font-size="7.0" fill="#333" stroke="#333" stroke-width="0.2" textLength="10.50" lengthAdjust="spacingAndGlyphs">100</text>
<text x="90.80" y="193.42" font-size="7.0" fill="#333" stroke="#333" stroke-width="0.2" textLength="10.50" lengthAdjust="spacingAndGlyphs">200</text>
<text x="100.25" y="188.92" font-size="7.0" fill="#333" stroke="#333" stroke-width="0.2" textLength="10.50" lengthAdjust="spacingAndGlyphs">400</text>
<g transform="translate(25.80,157.40) rotate(-90)"><text x="-13.35" y="2.84" font-size="7.9" fill="#2a2a2a" stroke="#2a2a2a" stroke-width="0.25" textLength="26.70" lengthAdjust="spacingAndGlyphs">&#948;&#8722;score</text></g>
<g transform="translate(38.00,196.50) rotate(46)"><text x="-13.50" y="3.02" font-size="8.4" fill="#2a2a2a" stroke="#2a2a2a" stroke-width="0.25" textLength="27.00" lengthAdjust="spacingAndGlyphs">BETi (nM)</text></g>
<g transform="translate(94.30,205.70) rotate(-25)"><text x="-16.65" y="3.10" font-size="8.6" fill="#2a2a2a" stroke="#2a2a2a" stroke-width="0.25" textLength="33.30" lengthAdjust="spacingAndGlyphs">p300i (nM)</text></g>
<rect x="48.00" y="129.70" width="55.00" height="2.20" fill="url(#cbar)"/>
<text x="42.70" y="128.22" font-size="7.0" fill="#333" stroke="#333" stroke-width="0.15" textLength="11.40" lengthAdjust="spacingAndGlyphs">&#8722;30</text>
<text x="60.40" y="128.22" font-size="7.0" fill="#333" stroke="#333" stroke-width="0.15" textLength="12.00" lengthAdjust="spacingAndGlyphs">&#8722;10</text>
<text x="81.40" y="128.22" font-size="7.0" fill="#333" stroke="#333" stroke-width="0.15" textLength="6.80" lengthAdjust="spacingAndGlyphs">10</text>
<text x="99.20" y="128.22" font-size="7.0" fill="#333" stroke="#333" stroke-width="0.15" textLength="7.20" lengthAdjust="spacingAndGlyphs">30</text>
<line x1="166.80" y1="173.70" x2="184.30" y2="195.50" stroke="#808080" stroke-width="0.6"/>
<line x1="184.30" y1="195.50" x2="218.80" y2="179.50" stroke="#808080" stroke-width="0.6"/>
<line x1="164.50" y1="142.20" x2="166.80" y2="173.70" stroke="#808080" stroke-width="0.6"/>
<line x1="221.50" y1="149.90" x2="218.80" y2="179.50" stroke="#808080" stroke-width="0.6"/>
<line x1="181.90" y1="158.60" x2="184.30" y2="195.50" stroke="#808080" stroke-width="0.6"/>
<line x1="164.50" y1="142.20" x2="198.80" y2="134.50" stroke="#808080" stroke-width="0.6"/>
<line x1="198.80" y1="134.50" x2="221.50" y2="149.90" stroke="#808080" stroke-width="0.6"/>
<line x1="164.50" y1="142.20" x2="181.90" y2="158.60" stroke="#808080" stroke-width="0.6"/>
<line x1="181.90" y1="158.60" x2="221.50" y2="149.90" stroke="#808080" stroke-width="0.6"/>
<line x1="166.80" y1="173.70" x2="199.80" y2="160.50" stroke="#999" stroke-width="0.5" stroke-dasharray="0.8 1.6"/>
<line x1="199.80" y1="160.50" x2="218.80" y2="179.50" stroke="#999" stroke-width="0.5" stroke-dasharray="0.8 1.6"/>
<line x1="198.80" y1="134.50" x2="199.80" y2="160.50" stroke="#999" stroke-width="0.5" stroke-dasharray="0.8 1.6"/>
<g stroke="#4a0810" stroke-width="0.5" stroke-opacity="0.48" stroke-linejoin="round"><path d="M198.5,144.1l1.7-1.5-1.1-2-1.6,2z" fill="#c5313b"/><path d="M196.8,145.8l1.7-1.7-1.1-1.5-1.6,2.3z" fill="#b6444c"/><path d="M199.6,145.6l1.7-.9-1.1-2.1-1.7,1.5z" fill="#d9525c"/><path d="M195.1,146.8l1.7-1-1.1-.9-1.7,1.1z" fill="#ca6068" stroke="#400e14"/><path d="M197.9,146.6l1.7-1-1.1-1.5-1.7,1.7z" fill="#c9535b"/><path d="M200.6,146.2l1.7-.8-1.1-.7-1.7,.9z" fill="#bf474f"/><path d="M193.5,147.5l1.7-.7-1-.8-1.7,.7z" fill="#d36e75" stroke="#400e14"/><path d="M196.2,147.4l1.7-.8-1-.7-1.7,1z" fill="#c65c63" stroke="#400e14"/><path d="M198.9,147.0l1.7-.8-1.1-.6-1.7,1z" fill="#ba4a52"/><path d="M201.7,146.4l1.7-.9-1.1-.1-1.7,.8z" fill="#a7383f"/><path d="M191.8,148.2l1.7-.7-1-.8-1.7,.7z" fill="#d6747b" stroke="#361519"/><path d="M194.5,148.1l1.7-.7-1-.6-1.7,.7z" fill="#c86269" stroke="#400e14"/><path d="M197.2,147.8l1.7-.8-1-.4-1.7,.8z" fill="#ba4f56" stroke="#400e14"/><path d="M200.0,147.2l1.7-.9-1.1-.2-1.7,.8z" fill="#ac3d45"/><path d="M202.7,146.5l1.7-1-1.1-0-1.7,.9z" fill="#a02f36"/><path d="M190.1,148.9l1.7-.7-1-.8-1.7,.7z" fill="#d87980" stroke="#361519"/><path d="M192.8,148.8l1.7-.7-1-.6-1.7,.7z" fill="#cb686f" stroke="#400e14"/><path d="M195.5,148.6l1.7-.8-1-.4-1.7,.7z" fill="#bd555d" stroke="#400e14"/><path d="M198.2,148.1l1.7-.9-1-.2-1.7,.8z" fill="#b0444b"/><path d="M201.0,147.4l1.7-1-1.1-.1-1.7,.9z" fill="#a5343b"/><path d="M203.8,146.6l1.8-1-1.1-0-1.7,1z" fill="#9d272f"/><path d="M188.4,149.6l1.7-.7-1-.8-1.7,.7z" fill="#da7e85" stroke="#361519"/><path d="M191.1,149.6l1.7-.7-1-.6-1.7,.7z" fill="#ce6e75" stroke="#361519"/><path d="M193.8,149.4l1.7-.8-1-.5-1.7,.7z" fill="#c15c63" stroke="#400e14"/><path d="M196.5,148.9l1.7-.9-1-.3-1.7,.8z" fill="#b54a51"/><path d="M199.3,148.4l1.7-.9-1-.2-1.7,.9z" fill="#aa3a41"/><path d="M202.1,147.6l1.8-1-1.1-.1-1.7,1z" fill="#a22d34"/><path d="M204.9,146.7l1.8-1.1-1.1-.1-1.8,1z" fill="#9c2129"/><path d="M186.7,150.2l1.7-.7-1-.8-1.7,.6z" fill="#dc8289" stroke="#361519"/><path d="M189.4,150.3l1.7-.7-1-.7-1.7,.7z" fill="#d1747b" stroke="#361519"/><path d="M192.1,150.1l1.7-.8-1-.5-1.7,.7z" fill="#c6636a" stroke="#400e14"/><path d="M194.8,149.8l1.7-.8-1-.4-1.7,.8z" fill="#ba5158" stroke="#400e14"/><path d="M197.5,149.3l1.7-.9-1-.3-1.7,.9z" fill="#af4148"/><path d="M200.3,148.6l1.8-1-1.1-.2-1.7,.9z" fill="#a7333a"/><path d="M203.1,147.8l1.8-1.1-1.1-.1-1.8,1z" fill="#a1262e"/><path d="M206.0,147.0l1.8-1.2-1.1-.2-1.8,1.1z" fill="#a02129"/><path d="M185.0,150.9l1.7-.7-1-.8-1.7,.6z" fill="#de878e" stroke="#361519"/><path d="M187.7,151.0l1.7-.7-1-.7-1.7,.7z" fill="#d47a80" stroke="#361519"/><path d="M190.4,150.9l1.7-.8-1-.6-1.7,.7z" fill="#ca6a71" stroke="#361519"/><path d="M193.1,150.6l1.7-.8-1-.4-1.7,.8z" fill="#bf5860" stroke="#400e14"/><path d="M195.8,150.2l1.7-.9-1-.3-1.7,.8z" fill="#b4484f"/><path d="M198.6,149.6l1.8-1-1-.2-1.7,.9z" fill="#ac3941"/><path d="M201.3,148.9l1.8-1.1-1.1-.2-1.8,1z" fill="#a62c34"/><path d="M204.2,148.1l1.8-1.2-1.1-.3-1.8,1.1z" fill="#a32028"/><path d="M207.1,147.4l1.8-1.2-1.1-.4-1.8,1.2z" fill="#a72028"/><path d="M183.3,151.5l1.7-.6-1-.8-1.7,.6z" fill="#df8b92" stroke="#361519"/><path d="M186.0,151.6l1.7-.7-1-.7-1.7,.7z" fill="#d77f86" stroke="#361519"/><path d="M188.6,151.6l1.7-.7-1-.6-1.7,.7z" fill="#ce7077" stroke="#361519"/><path d="M191.3,151.4l1.7-.8-1-.5-1.7,.8z" fill="#c36067" stroke="#400e14"/><path d="M194.1,151.1l1.7-.9-1-.4-1.7,.8z" fill="#ba5057" stroke="#400e14"/><path d="M196.8,150.6l1.7-1-1-.3-1.7,.9z" fill="#b14048"/><path d="M199.6,149.9l1.8-1.1-1-.3-1.8,1z" fill="#ab333b"/><path d="M202.4,149.3l1.8-1.1-1.1-.3-1.8,1.1z" fill="#a8262e"/><path d="M205.3,148.6l1.8-1.2-1.1-.4-1.8,1.2z" fill="#a91f28"/><path d="M208.2,148.1l1.8-1.2-1.1-.6-1.8,1.2z" fill="#b01e27"/><path d="M181.6,152.2l1.7-.6-1-.9-1.7,.6z" fill="#e18f96" stroke="#361519"/><path d="M184.3,152.3l1.7-.7-1-.8-1.7,.6z" fill="#da848b" stroke="#361519"/><path d="M186.9,152.3l1.7-.7-1-.6-1.7,.7z" fill="#d1777e" stroke="#361519"/><path d="M189.6,152.2l1.7-.8-1-.5-1.7,.7z" fill="#c8676e" stroke="#400e14"/><path d="M192.3,151.9l1.7-.9-1-.4-1.7,.8z" fill="#bf575f" stroke="#400e14"/><path d="M195.1,151.5l1.7-.9-1-.4-1.7,.9z" fill="#b64850"/><path d="M197.8,151.0l1.8-1-1-.4-1.7,1z" fill="#b03a42"/><path d="M200.6,150.4l1.8-1.1-1.1-.4-1.8,1.1z" fill="#ac2e36"/><path d="M203.5,149.8l1.8-1.2-1.1-.5-1.8,1.1z" fill="#ac212a"/><path d="M206.3,149.3l1.8-1.2-1.1-.7-1.8,1.2z" fill="#b21e27"/><path d="M209.3,148.9l1.9-1.2-1.1-.8-1.8,1.2z" fill="#b51d27"/><path d="M179.9,152.8l1.7-.6-1-.9-1.7,.6z" fill="#e29399" stroke="#361519"/><path d="M182.6,153.0l1.7-.7-1-.8-1.7,.6z" fill="#dd8990" stroke="#361519"/><path d="M185.2,153.0l1.7-.7-1-.7-1.7,.7z" fill="#d57d84" stroke="#361519"/><path d="M187.9,153.0l1.7-.8-1-.6-1.7,.7z" fill="#cc6f76" stroke="#361519"/><path d="M190.6,152.8l1.7-.8-1-.5-1.7,.8z" fill="#c45f66" stroke="#400e14"/><path d="M193.3,152.4l1.7-.9-1-.4-1.7,.9z" fill="#bc5058" stroke="#400e14"/><path d="M196.1,152.0l1.8-1-1-.4-1.7,.9z" fill="#b5424a"/><path d="M198.8,151.4l1.8-1.1-1-.4-1.8,1z" fill="#b1353e"/><path d="M201.7,150.9l1.8-1.1-1.1-.5-1.8,1.1z" fill="#b02932"/><path d="M204.5,150.5l1.8-1.2-1.1-.7-1.8,1.2z" fill="#b31e27"/><path d="M207.4,150.1l1.8-1.2-1.1-.8-1.8,1.2z" fill="#b71d27"/><path d="M210.3,149.7l1.9-1.3-1.1-.8-1.9,1.2z" fill="#b51d27"/><path d="M178.3,153.4l1.7-.6-.9-.9-1.7,.6z" fill="#e4969d" stroke="#2c1b1d"/><path d="M180.9,153.6l1.7-.6-.9-.8-1.7,.6z" fill="#df8e95" stroke="#361519"/><path d="M183.5,153.7l1.7-.7-1-.7-1.7,.7z" fill="#d8838a" stroke="#361519"/><path d="M186.2,153.7l1.7-.8-1-.6-1.7,.7z" fill="#d1767d" stroke="#361519"/><path d="M188.9,153.6l1.7-.8-1-.6-1.7,.8z" fill="#c9676e" stroke="#400e14"/><path d="M191.6,153.3l1.7-.9-1-.5-1.7,.8z" fill="#c15960" stroke="#400e14"/><path d="M194.3,153.0l1.8-1-1-.5-1.7,.9z" fill="#bb4b52"/><path d="M197.1,152.5l1.8-1.1-1-.5-1.8,1z" fill="#b63e46"/><path d="M199.9,152.0l1.8-1.1-1-.6-1.8,1.1z" fill="#b5323b"/><path d="M202.7,151.7l1.8-1.2-1.1-.7-1.8,1.1z" fill="#b72730"/><path d="M205.6,151.3l1.8-1.2-1.1-.8-1.8,1.2z" fill="#b81d27"/><path d="M208.5,150.9l1.9-1.2-1.1-.8-1.8,1.2z" fill="#b71d27"/><path d="M211.4,150.5l1.9-1.3-1.1-.8-1.9,1.3z" fill="#b51d27"/><path d="M176.6,154.0l1.7-.6-.9-.9-1.7,.6z" fill="#e599a0" stroke="#2c1b1d"/><path d="M179.2,154.2l1.7-.6-.9-.8-1.7,.6z" fill="#e19299" stroke="#361519"/><path d="M181.8,154.4l1.7-.7-.9-.8-1.7,.6z" fill="#db898f" stroke="#361519"/><path d="M184.5,154.5l1.7-.7-1-.7-1.7,.7z" fill="#d57d84" stroke="#361519"/><path d="M187.1,154.4l1.7-.8-1-.6-1.7,.8z" fill="#cd6f76" stroke="#361519"/><path d="M189.8,154.2l1.7-.9-1-.6-1.7,.8z" fill="#c66168" stroke="#400e14"/><path d="M192.6,153.9l1.8-1-1-.5-1.7,.9z" fill="#c0535b" stroke="#400e14"/><path d="M195.3,153.5l1.8-1-1-.5-1.8,1z" fill="#bb474f"/><path d="M198.1,153.1l1.8-1.1-1-.6-1.8,1.1z" fill="#b93b44"/><path d="M200.9,152.8l1.8-1.1-1-.7-1.8,1.1z" fill="#bb303a"/><path d="M203.7,152.5l1.8-1.2-1.1-.8-1.8,1.2z" fill="#bb262f"/><path d="M206.6,152.1l1.9-1.2-1.1-.8-1.8,1.2z" fill="#b81d27"/><path d="M209.6,151.7l1.9-1.2-1.1-.8-1.9,1.2z" fill="#b71d27"/><path d="M212.5,151.3l1.9-1.3-1.1-.8-1.9,1.3z" fill="#b51d27"/><path d="M174.9,154.9l1.7-.9-.9-.9-1.7,.9z" fill="#de969c" stroke="#2c1b1d"/><path d="M177.5,154.9l1.7-.6-.9-.9-1.7,.6z" fill="#e3969d" stroke="#2c1b1d"/><path d="M180.1,155.1l1.7-.7-.9-.8-1.7,.6z" fill="#de8e95" stroke="#361519"/><path d="M182.8,155.2l1.7-.7-.9-.7-1.7,.7z" fill="#d8838a" stroke="#361519"/><path d="M185.4,155.2l1.7-.8-1-.7-1.7,.7z" fill="#d2777e" stroke="#361519"/><path d="M188.1,155.1l1.7-.9-1-.6-1.7,.8z" fill="#cb6a71" stroke="#400e14"/><path d="M190.8,154.8l1.7-.9-1-.6-1.7,.9z" fill="#c55c64" stroke="#400e14"/><path d="M193.5,154.5l1.8-1-1-.6-1.8,1z" fill="#c05058"/><path d="M196.3,154.2l1.8-1.1-1-.6-1.8,1z" fill="#be444d"/><path d="M199.1,153.9l1.8-1.1-1-.8-1.8,1.1z" fill="#bf3a43"/><path d="M201.9,153.6l1.8-1.1-1-.8-1.8,1.1z" fill="#be303a"/><path d="M204.8,153.3l1.8-1.2-1.1-.8-1.8,1.2z" fill="#bb262f"/><path d="M207.7,153.0l1.9-1.2-1.1-.8-1.9,1.2z" fill="#b81d27"/><path d="M210.6,152.6l1.9-1.3-1.1-.8-1.9,1.2z" fill="#b71d27"/><path d="M213.6,153.0l1.9-1.2-1-1.7-1.9,1.3z" fill="#cd222d"/><path d="M173.3,156.2l1.6-1.3-.9-.9-1.6,1.3z" fill="#d29398" stroke="#2c1b1d"/><path d="M175.8,155.8l1.7-.9-.9-.9-1.7,.9z" fill="#dc9399" stroke="#2c1b1d"/><path d="M178.4,155.7l1.7-.6-.9-.8-1.7,.6z" fill="#e19399" stroke="#2c1b1d"/><path d="M181.0,155.9l1.7-.7-.9-.8-1.7,.7z" fill="#dc8a90" stroke="#361519"/><path d="M183.7,155.9l1.7-.8-.9-.7-1.7,.7z" fill="#d67e85" stroke="#361519"/><path d="M186.4,155.9l1.7-.8-1-.7-1.7,.8z" fill="#cf7279" stroke="#361519"/><path d="M189.1,155.7l1.7-.9-1-.6-1.7,.9z" fill="#ca656c" stroke="#400e14"/><path d="M191.8,155.5l1.8-1-1-.6-1.7,.9z" fill="#c55961" stroke="#400e14"/><path d="M194.5,155.2l1.8-1-1-.7-1.8,1z" fill="#c24e56"/><path d="M197.3,155.0l1.8-1.1-1-.8-1.8,1.1z" fill="#c3444d"/><path d="M200.1,154.8l1.8-1.1-1-.8-1.8,1.1z" fill="#c23b44"/><path d="M203.0,154.5l1.8-1.2-1-.8-1.8,1.1z" fill="#be303a"/><path d="M205.8,154.2l1.9-1.2-1.1-.8-1.8,1.2z" fill="#bb262f"/><path d="M208.7,153.8l1.9-1.2-1.1-.8-1.9,1.2z" fill="#b81d27"/><path d="M211.7,154.2l1.9-1.2-1-1.6-1.9,1.3z" fill="#cd222d"/><path d="M214.5,155.9l1.9-1.1-.9-3-1.9,1.2z" fill="#d64852"/><path d="M171.6,157.8l1.6-1.6-.9-.9-1.6,1.6z" fill="#d1a4a8" stroke="#222222"/><path d="M174.2,157.2l1.6-1.4-.9-.9-1.6,1.3z" fill="#d19197" stroke="#2c1b1d"/><path d="M176.7,156.7l1.7-1-.9-.9-1.7,.9z" fill="#da9197" stroke="#2c1b1d"/><path d="M179.3,156.6l1.7-.7-.9-.8-1.7,.6z" fill="#df8f96" stroke="#361519"/><path d="M182.0,156.7l1.7-.7-.9-.8-1.7,.7z" fill="#da858c" stroke="#361519"/><path d="M184.6,156.7l1.7-.8-.9-.7-1.7,.8z" fill="#d47a81" stroke="#361519"/><path d="M187.3,156.6l1.7-.9-1-.7-1.7,.8z" fill="#ce6e75" stroke="#361519"/><path d="M190.0,156.5l1.8-.9-1-.7-1.7,.9z" fill="#ca626a" stroke="#400e14"/><path d="M192.8,156.2l1.8-1-1-.7-1.8,1z" fill="#c7575f" stroke="#400e14"/><path d="M195.5,156.0l1.8-1.1-1-.8-1.8,1z" fill="#c74e57"/><path d="M198.3,155.8l1.8-1.1-1-.8-1.8,1.1z" fill="#c6454e"/><path d="M201.1,155.6l1.8-1.1-1-.8-1.8,1.1z" fill="#c23b44"/><path d="M204.0,155.3l1.8-1.2-1-.8-1.8,1.2z" fill="#be303a"/><path d="M206.9,155.0l1.9-1.2-1.1-.8-1.9,1.2z" fill="#bb262f"/><path d="M209.8,155.4l1.9-1.2-1-1.6-1.9,1.2z" fill="#ce2732"/><path d="M212.6,157.0l1.9-1.1-1-2.9-1.9,1.2z" fill="#d8545d"/><path d="M215.4,159.5l1.9-1-.9-3.7-1.9,1.1z" fill="#e1777f"/><path d="M170.0,159.4l1.6-1.6-.9-.9-1.6,1.5z" fill="#cdb3b4" stroke="#222222"/><path d="M172.5,158.7l1.6-1.6-.9-.9-1.6,1.6z" fill="#d1a3a7" stroke="#222222"/><path d="M175.1,158.1l1.7-1.4-.9-.9-1.6,1.4z" fill="#d09095" stroke="#2c1b1d"/><path d="M177.6,157.5l1.7-1-.9-.8-1.7,1z" fill="#d98e94" stroke="#2c1b1d"/><path d="M180.3,157.4l1.7-.7-.9-.8-1.7,.7z" fill="#dd8c93" stroke="#361519"/><path d="M182.9,157.5l1.7-.8-.9-.8-1.7,.7z" fill="#d88289" stroke="#361519"/><path d="M185.6,157.5l1.7-.8-1-.7-1.7,.8z" fill="#d3777e" stroke="#361519"/><path d="M188.3,157.4l1.8-.9-1-.7-1.7,.9z" fill="#ce6b73" stroke="#400e14"/><path d="M191.0,157.2l1.8-1-1-.7-1.8,.9z" fill="#cb6169" stroke="#400e14"/><path d="M193.7,157.1l1.8-1-1-.8-1.8,1z" fill="#ca5860" stroke="#400e14"/><path d="M196.5,156.9l1.8-1.1-1-.9-1.8,1.1z" fill="#c94f58"/><path d="M199.3,156.7l1.8-1.1-1-.8-1.8,1.1z" fill="#c6454e"/><path d="M202.1,156.5l1.8-1.1-1-.8-1.8,1.1z" fill="#c23b44"/><path d="M205.0,156.2l1.9-1.2-1-.8-1.8,1.2z" fill="#be303a"/><path d="M207.9,156.5l1.9-1.2-1-1.6-1.9,1.2z" fill="#d2343f"/><path d="M210.7,158.1l1.9-1.1-1-2.8-1.9,1.2z" fill="#db5f67"/><path d="M213.5,160.4l1.9-1-.9-3.6-1.9,1.1z" fill="#e38188"/><path d="M216.3,163.1l1.9-.8-.8-3.8-1.9,1z" fill="#eeb0b5" stroke="#361519"/><path d="M168.4,160.7l1.6-1.3-.9-1-1.6,1.3z" fill="#d3c0be" stroke="#222222"/><path d="M170.9,160.3l1.6-1.6-.9-.9-1.6,1.6z" fill="#cdb3b3" stroke="#222222"/><path d="M173.4,159.7l1.6-1.6-.9-.9-1.6,1.6z" fill="#d0a2a6" stroke="#222222"/><path d="M176.0,159.0l1.7-1.4-.9-.9-1.7,1.4z" fill="#ce8e93" stroke="#2c1b1d"/><path d="M178.5,158.4l1.7-1-.9-.8-1.7,1z" fill="#d78b91" stroke="#2c1b1d"/><path d="M181.2,158.2l1.7-.7-.9-.8-1.7,.7z" fill="#dc8990" stroke="#361519"/><path d="M183.8,158.3l1.7-.8-.9-.8-1.7,.8z" fill="#d77f86" stroke="#361519"/><path d="M186.5,158.2l1.8-.9-1-.8-1.7,.8z" fill="#d3747b" stroke="#361519"/><path d="M189.2,158.2l1.8-.9-1-.8-1.8,.9z" fill="#cf6a72" stroke="#400e14"/><path d="M192.0,158.1l1.8-1-1-.8-1.8,1z" fill="#ce626a" stroke="#400e14"/><path d="M194.7,157.9l1.8-1-1-.9-1.8,1z" fill="#cd5961" stroke="#400e14"/><path d="M197.5,157.8l1.8-1.1-1-.9-1.8,1.1z" fill="#c94f58"/><path d="M200.3,157.6l1.8-1.1-1-.8-1.8,1.1z" fill="#c6454e"/><path d="M203.2,157.3l1.9-1.1-1-.8-1.8,1.1z" fill="#c23b44"/><path d="M206.0,157.7l1.9-1.1-1-1.5-1.9,1.2z" fill="#d5414b"/><path d="M208.9,159.1l1.9-1.1-1-2.7-1.9,1.2z" fill="#dd6971"/><path d="M211.7,161.3l1.9-.9-.9-3.4-1.9,1.1z" fill="#e58a91" stroke="#400e14"/><path d="M214.4,163.9l1.9-.8-.9-3.6-1.9,1z" fill="#f0b6bb" stroke="#2c1b1d"/><path d="M217.1,166.1l1.8-.7-.9-3.1-1.9,.8z" fill="#f6f5f5" stroke="#222222"/><path d="M166.7,161.6l1.7-.9-.9-1-1.7,.9z" fill="#e1dad6" stroke="#222222"/><path d="M169.3,161.7l1.6-1.3-.9-1-1.6,1.3z" fill="#d3c0be" stroke="#222222"/><path d="M171.8,161.3l1.6-1.6-.9-.9-1.6,1.6z" fill="#ccb3b3" stroke="#222222"/><path d="M174.3,160.6l1.6-1.6-.9-.9-1.6,1.6z" fill="#cfa0a5" stroke="#222222"/><path d="M176.9,159.9l1.7-1.5-.9-.9-1.7,1.4z" fill="#cd8c91" stroke="#2c1b1d"/><path d="M179.5,159.3l1.7-1.1-.9-.8-1.7,1z" fill="#d6898f" stroke="#2c1b1d"/><path d="M182.1,159.0l1.7-.8-.9-.8-1.7,.7z" fill="#db878d" stroke="#361519"/><path d="M184.8,159.1l1.8-.8-.9-.8-1.7,.8z" fill="#d77d84" stroke="#361519"/><path d="M187.5,159.1l1.8-.9-1-.8-1.8,.9z" fill="#d3737b" stroke="#361519"/><path d="M190.2,159.0l1.8-1-1-.8-1.8,.9z" fill="#d26b73" stroke="#400e14"/><path d="M192.9,158.9l1.8-1-1-.9-1.8,1z" fill="#d0636b" stroke="#400e14"/><path d="M195.7,158.8l1.8-1-1-.9-1.8,1z" fill="#cd5961" stroke="#400e14"/><path d="M198.5,158.6l1.8-1.1-1-.9-1.8,1.1z" fill="#c94f58"/><path d="M201.3,158.4l1.8-1.1-1-.8-1.8,1.1z" fill="#c6454e"/><path d="M204.2,158.8l1.9-1.1-1-1.5-1.9,1.1z" fill="#d84d57"/><path d="M207.0,160.2l1.9-1-1-2.6-1.9,1.1z" fill="#e0737b"/><path d="M209.8,162.3l1.9-.9-.9-3.3-1.9,1.1z" fill="#e79299" stroke="#400e14"/><path d="M212.6,164.7l1.8-.8-.9-3.5-1.9,.9z" fill="#f1bdc2" stroke="#2c1b1d"/><path d="M215.3,166.8l1.8-.7-.9-3-1.9,.8z" fill="#f6f5f4" stroke="#222222"/><path d="M218.1,167.8l1.8-.6-.9-1.8-1.8,.7z" fill="#f2f2ef" stroke="#222222"/><path d="M167.6,162.5l1.7-.9-.9-1-1.7,.9z" fill="#e1dad6" stroke="#222222"/><path d="M170.1,162.6l1.6-1.4-.9-1-1.6,1.3z" fill="#d3c0be" stroke="#222222"/><path d="M172.7,162.2l1.6-1.6-.9-.9-1.6,1.6z" fill="#ccb2b2" stroke="#222222"/><path d="M175.2,161.6l1.7-1.7-.9-.9-1.6,1.6z" fill="#ce9fa3" stroke="#222222"/><path d="M177.8,160.8l1.7-1.5-.9-.9-1.7,1.5z" fill="#cc8a8f" stroke="#2c1b1d"/><path d="M180.4,160.1l1.7-1.1-.9-.8-1.7,1.1z" fill="#d5878d" stroke="#2c1b1d"/><path d="M183.0,159.9l1.7-.8-.9-.8-1.7,.8z" fill="#da858c" stroke="#361519"/><path d="M185.7,159.9l1.8-.9-.9-.8-1.8,.8z" fill="#d77c83" stroke="#361519"/><path d="M188.4,159.9l1.8-.9-1-.9-1.8,.9z" fill="#d5747b" stroke="#361519"/><path d="M191.1,159.9l1.8-1-1-.9-1.8,1z" fill="#d46c74" stroke="#400e14"/><path d="M193.9,159.8l1.8-1-1-.9-1.8,1z" fill="#d0636b" stroke="#400e14"/><path d="M196.7,159.7l1.8-1-1-.9-1.8,1z" fill="#cd5961" stroke="#400e14"/><path d="M199.5,159.5l1.8-1.1-1-.9-1.8,1.1z" fill="#c94f58"/><path d="M202.3,159.9l1.9-1.1-1-1.5-1.8,1.1z" fill="#da5862"/><path d="M205.1,161.2l1.9-1-1-2.5-1.9,1.1z" fill="#e27d84"/><path d="M208.0,163.2l1.9-.9-.9-3.2-1.9,1z" fill="#e99ba1" stroke="#400e14"/><path d="M210.7,165.5l1.8-.8-.9-3.3-1.9,.9z" fill="#f3c4c8" stroke="#2c1b1d"/><path d="M213.5,167.5l1.8-.7-.9-2.9-1.8,.8z" fill="#f6f5f4" stroke="#222222"/><path d="M216.3,168.5l1.8-.6-1-1.7-1.8,.7z" fill="#f2f2ef" stroke="#222222"/><path d="M168.5,163.5l1.7-.9-.9-1-1.7,.9z" fill="#e1dad6" stroke="#222222"/><path d="M171.0,163.6l1.7-1.4-.9-1-1.6,1.4z" fill="#d3c0be" stroke="#222222"/><path d="M173.6,163.2l1.7-1.6-.9-.9-1.6,1.6z" fill="#ccb2b2" stroke="#222222"/><path d="M176.1,162.5l1.7-1.7-.9-.9-1.7,1.7z" fill="#ce9da2" stroke="#222222"/><path d="M178.7,161.7l1.7-1.6-.9-.9-1.7,1.5z" fill="#cb888d" stroke="#2c1b1d"/><path d="M181.3,161.0l1.7-1.1-.9-.8-1.7,1.1z" fill="#d4858c" stroke="#361519"/><path d="M183.9,160.8l1.8-.8-.9-.8-1.7,.8z" fill="#db848b" stroke="#361519"/><path d="M186.6,160.8l1.8-.9-.9-.9-1.8,.9z" fill="#d97d84" stroke="#361519"/><path d="M189.4,160.8l1.8-.9-1-.9-1.8,.9z" fill="#d7757c" stroke="#361519"/><path d="M192.1,160.8l1.8-1-1-.9-1.8,1z" fill="#d46c74" stroke="#400e14"/><path d="M194.9,160.7l1.8-1-1-.9-1.8,1z" fill="#d0636b" stroke="#400e14"/><path d="M197.7,160.6l1.8-1.1-1-.9-1.8,1z" fill="#cd5961" stroke="#400e14"/><path d="M200.5,160.9l1.8-1.1-1-1.4-1.8,1.1z" fill="#dd646c"/><path d="M203.3,162.2l1.9-1-1-2.4-1.9,1.1z" fill="#e4868d" stroke="#400e14"/><path d="M206.1,164.1l1.8-.9-.9-3-1.9,1z" fill="#eba3a8" stroke="#361519"/><path d="M208.9,166.3l1.8-.8-.9-3.2-1.9,.9z" fill="#f4cace" stroke="#2c1b1d"/><path d="M211.6,168.1l1.8-.7-.9-2.8-1.8,.8z" fill="#f5f5f4" stroke="#222222"/><path d="M214.4,169.1l1.8-.6-1-1.7-1.8,.7z" fill="#f1f2ef" stroke="#222222"/><path d="M169.3,164.5l1.7-.9-.9-1-1.7,.9z" fill="#e1dad6" stroke="#222222"/><path d="M171.9,164.6l1.7-1.4-.9-1-1.7,1.4z" fill="#d3c0be" stroke="#222222"/><path d="M174.5,164.1l1.7-1.7-.9-.9-1.7,1.6z" fill="#ccb1b2" stroke="#222222"/><path d="M177.0,163.4l1.7-1.7-.9-.9-1.7,1.7z" fill="#cd9ca0" stroke="#222222"/><path d="M179.6,162.6l1.7-1.6-.9-.9-1.7,1.6z" fill="#cb878c" stroke="#2c1b1d"/><path d="M182.2,161.9l1.7-1.1-.9-.9-1.7,1.1z" fill="#d4858b" stroke="#361519"/><path d="M184.9,161.6l1.8-.8-.9-.9-1.8,.8z" fill="#dc858c" stroke="#361519"/><path d="M187.6,161.7l1.8-.9-.9-.9-1.8,.9z" fill="#da7d85" stroke="#361519"/><path d="M190.3,161.7l1.8-.9-1-.9-1.8,.9z" fill="#d7757c" stroke="#361519"/><path d="M193.1,161.7l1.8-1-1-.9-1.8,1z" fill="#d46c74" stroke="#400e14"/><path d="M195.8,161.6l1.8-1-1-.9-1.8,1z" fill="#d0636b" stroke="#400e14"/><path d="M198.6,161.9l1.8-1-1-1.4-1.8,1.1z" fill="#e06e77" stroke="#400e14"/><path d="M201.5,163.2l1.8-1-1-2.3-1.8,1.1z" fill="#e68e95" stroke="#400e14"/><path d="M204.3,165.0l1.8-.9-1-2.9-1.9,1z" fill="#edaab0" stroke="#361519"/><path d="M207.0,167.0l1.8-.8-.9-3.1-1.8,.9z" fill="#f6d0d4" stroke="#2c1b1d"/><path d="M209.8,168.8l1.8-.7-.9-2.7-1.8,.8z" fill="#f5f4f3" stroke="#222222"/><path d="M212.6,169.8l1.8-.6-1-1.7-1.8,.7z" fill="#f1f2ee" stroke="#222222"/><path d="M170.2,165.5l1.7-.9-.9-1-1.7,.9z" fill="#e1dad6" stroke="#222222"/><path d="M172.8,165.5l1.7-1.4-.9-1-1.7,1.4z" fill="#d3c0be" stroke="#222222"/><path d="M175.3,165.1l1.7-1.7-.9-.9-1.7,1.7z" fill="#cbb1b1" stroke="#222222"/><path d="M177.9,164.4l1.7-1.8-.9-.9-1.7,1.7z" fill="#cc9b9f" stroke="#222222"/><path d="M180.5,163.5l1.7-1.6-.9-.9-1.7,1.6z" fill="#ca868c" stroke="#2c1b1d"/><path d="M183.1,162.8l1.8-1.2-.9-.9-1.7,1.1z" fill="#d5858b" stroke="#361519"/><path d="M185.8,162.6l1.8-.8-.9-.9-1.8,.8z" fill="#dd858c" stroke="#361519"/><path d="M188.5,162.6l1.8-.9-.9-.9-1.8,.9z" fill="#da7d85" stroke="#361519"/><path d="M191.3,162.6l1.8-.9-1-.9-1.8,.9z" fill="#d7757c" stroke="#361519"/><path d="M194.0,162.6l1.8-1-1-.9-1.8,1z" fill="#d46c74" stroke="#400e14"/><path d="M196.8,162.9l1.8-1-1-1.4-1.8,1z" fill="#e27880" stroke="#400e14"/><path d="M199.6,164.1l1.8-1-1-2.2-1.8,1z" fill="#e8969d" stroke="#400e14"/><path d="M202.4,165.9l1.8-.9-1-2.8-1.8,1z" fill="#eeb1b6" stroke="#361519"/><path d="M205.2,167.8l1.8-.8-.9-2.9-1.8,.9z" fill="#f7d6da" stroke="#222222"/><path d="M208.0,169.5l1.8-.7-.9-2.6-1.8,.8z" fill="#f5f4f3" stroke="#222222"/><path d="M210.8,170.4l1.8-.6-1-1.6-1.8,.7z" fill="#f1f1ee" stroke="#222222"/><path d="M171.1,166.4l1.7-.9-.9-1-1.7,.9z" fill="#e1dad6" stroke="#222222"/><path d="M173.7,166.5l1.7-1.4-.9-1-1.7,1.4z" fill="#d3bfbe" stroke="#222222"/><path d="M176.2,166.1l1.7-1.7-.9-.9-1.7,1.7z" fill="#cbb1b1" stroke="#222222"/><path d="M178.8,165.3l1.7-1.8-.9-.9-1.7,1.8z" fill="#cc9b9f" stroke="#222222"/><path d="M181.4,164.4l1.7-1.6-.9-.9-1.7,1.6z" fill="#cb868c" stroke="#2c1b1d"/><path d="M184.0,163.7l1.8-1.2-.9-.9-1.8,1.2z" fill="#d5858c" stroke="#361519"/><path d="M186.7,163.5l1.8-.9-.9-.9-1.8,.8z" fill="#dd858c" stroke="#361519"/><path d="M189.5,163.5l1.8-.9-.9-.9-1.8,.9z" fill="#da7d85" stroke="#361519"/><path d="M192.2,163.5l1.8-.9-1-.9-1.8,.9z" fill="#d7757c" stroke="#361519"/><path d="M195.0,163.9l1.8-1-1-1.4-1.8,1z" fill="#e48289" stroke="#400e14"/><path d="M197.8,165.0l1.8-.9-1-2.2-1.8,1z" fill="#ea9ea4" stroke="#361519"/><path d="M200.6,166.7l1.8-.9-1-2.7-1.8,1z" fill="#f0b8bd" stroke="#2c1b1d"/><path d="M203.4,168.6l1.8-.8-.9-2.8-1.8,.9z" fill="#f9dde0" stroke="#222222"/><path d="M206.1,170.2l1.8-.7-.9-2.5-1.8,.8z" fill="#f5f4f3" stroke="#222222"/><path d="M208.9,171.1l1.8-.6-1-1.6-1.8,.7z" fill="#f1f1ee" stroke="#222222"/><path d="M172.0,167.4l1.7-.9-.9-1-1.7,.9z" fill="#e1dad6" stroke="#222222"/><path d="M174.5,167.5l1.7-1.4-.9-1-1.7,1.4z" fill="#d2bfbe" stroke="#222222"/><path d="M177.1,167.0l1.7-1.7-.9-.9-1.7,1.7z" fill="#cbb1b1" stroke="#222222"/><path d="M179.7,166.2l1.7-1.8-.9-.9-1.7,1.8z" fill="#cc9a9f" stroke="#222222"/><path d="M182.3,165.4l1.7-1.6-.9-.9-1.7,1.6z" fill="#cb878c" stroke="#2c1b1d"/><path d="M185.0,164.6l1.8-1.2-.9-.9-1.8,1.2z" fill="#d5858c" stroke="#361519"/><path d="M187.7,164.4l1.8-.9-.9-.9-1.8,.9z" fill="#dd858c" stroke="#361519"/><path d="M190.4,164.4l1.8-.9-.9-.9-1.8,.9z" fill="#da7d85" stroke="#361519"/><path d="M193.2,164.8l1.8-.9-1-1.3-1.8,.9z" fill="#e68b92" stroke="#361519"/><path d="M196.0,165.9l1.8-.9-1-2.1-1.8,1z" fill="#eca5ab" stroke="#361519"/><path d="M198.8,167.5l1.8-.8-1-2.6-1.8,.9z" fill="#f1bec3" stroke="#2c1b1d"/><path d="M201.5,169.3l1.8-.8-1-2.7-1.8,.9z" fill="#fae4e7" stroke="#222222"/><path d="M204.3,170.9l1.8-.7-.9-2.4-1.8,.8z" fill="#f4f4f2" stroke="#222222"/><path d="M207.1,171.7l1.8-.6-1-1.5-1.8,.7z" fill="#f0f1ed" stroke="#222222"/><path d="M172.8,168.4l1.7-.9-.9-1-1.7,.9z" fill="#e1dad6" stroke="#222222"/><path d="M175.4,168.4l1.7-1.4-.9-1-1.7,1.4z" fill="#d2bfbe" stroke="#222222"/><path d="M178.0,168.0l1.7-1.7-.9-.9-1.7,1.7z" fill="#cbb1b1" stroke="#222222"/><path d="M180.6,167.2l1.7-1.8-.9-.9-1.7,1.8z" fill="#cc9b9f" stroke="#222222"/><path d="M183.2,166.3l1.7-1.7-.9-.9-1.7,1.6z" fill="#cb878c" stroke="#2c1b1d"/><path d="M185.9,165.6l1.8-1.2-.9-.9-1.8,1.2z" fill="#d5858c" stroke="#361519"/><path d="M188.6,165.3l1.8-.9-.9-.9-1.8,.9z" fill="#dd858c" stroke="#361519"/><path d="M191.3,165.7l1.8-.9-1-1.3-1.8,.9z" fill="#e8939a" stroke="#361519"/><path d="M194.1,166.8l1.8-.9-1-2-1.8,.9z" fill="#edabb1" stroke="#361519"/><path d="M196.9,168.4l1.8-.8-1-2.5-1.8,.9z" fill="#f3c4c9" stroke="#2c1b1d"/><path d="M199.7,170.1l1.8-.7-1-2.6-1.8,.8z" fill="#f7f6f6" stroke="#222222"/><path d="M202.5,171.5l1.8-.7-.9-2.3-1.8,.8z" fill="#f4f4f2" stroke="#222222"/><path d="M205.3,172.3l1.8-.6-1-1.5-1.8,.7z" fill="#f0f1ed" stroke="#222222"/><path d="M173.7,169.4l1.7-.9-.9-1-1.7,.9z" fill="#e1dad6" stroke="#222222"/><path d="M176.3,169.4l1.7-1.4-.9-1-1.7,1.4z" fill="#d2bfbe" stroke="#222222"/><path d="M178.9,168.9l1.7-1.7-.9-.9-1.7,1.7z" fill="#cbb1b1" stroke="#222222"/><path d="M181.5,168.1l1.7-1.8-.9-.9-1.7,1.8z" fill="#cc9b9f" stroke="#222222"/><path d="M184.1,167.2l1.8-1.7-.9-.9-1.7,1.7z" fill="#cb878c" stroke="#2c1b1d"/><path d="M186.8,166.5l1.8-1.2-.9-.9-1.8,1.2z" fill="#d5858c" stroke="#361519"/><path d="M189.5,166.6l1.8-.9-.9-1.3-1.8,.9z" fill="#ea9aa1" stroke="#361519"/><path d="M192.3,167.7l1.8-.8-1-2-1.8,.9z" fill="#efb2b7" stroke="#2c1b1d"/><path d="M195.1,169.2l1.8-.8-1-2.4-1.8,.9z" fill="#f4cace" stroke="#2c1b1d"/><path d="M197.9,170.8l1.8-.7-1-2.5-1.8,.8z" fill="#f7f5f5" stroke="#222222"/><path d="M200.7,172.2l1.8-.7-1-2.2-1.8,.7z" fill="#f4f4f2" stroke="#222222"/><path d="M203.4,173.0l1.8-.6-1-1.5-1.8,.7z" fill="#f0f1ed" stroke="#222222"/><path d="M174.6,170.3l1.7-.9-.9-1-1.7,.9z" fill="#e1dad6" stroke="#222222"/><path d="M177.2,170.4l1.7-1.5-.9-1-1.7,1.4z" fill="#d2bfbe" stroke="#222222"/><path d="M179.8,169.9l1.7-1.8-.9-.9-1.7,1.7z" fill="#cbb1b1" stroke="#222222"/><path d="M182.4,169.1l1.7-1.8-.9-.9-1.7,1.8z" fill="#cc9b9f" stroke="#222222"/><path d="M185.0,168.2l1.8-1.7-.9-.9-1.8,1.7z" fill="#cb878c" stroke="#2c1b1d"/><path d="M187.7,167.7l1.8-1.2-.9-1.3-1.8,1.2z" fill="#e79aa1" stroke="#2c1b1d"/><path d="M190.5,168.5l1.8-.8-1-1.9-1.8,.9z" fill="#f0b7bc" stroke="#2c1b1d"/><path d="M193.3,169.9l1.8-.8-1-2.3-1.8,.8z" fill="#f5cfd3" stroke="#2c1b1d"/><path d="M196.1,171.5l1.8-.7-1-2.4-1.8,.8z" fill="#f6f5f5" stroke="#222222"/><path d="M198.8,172.9l1.8-.7-1-2.2-1.8,.7z" fill="#f4f3f1" stroke="#222222"/><path d="M201.6,173.6l1.8-.6-1-1.5-1.8,.7z" fill="#f0f1ed" stroke="#222222"/><path d="M175.4,171.3l1.7-.9-.9-1-1.7,.9z" fill="#e1dad6" stroke="#222222"/><path d="M178.1,171.4l1.7-1.5-.9-1-1.7,1.5z" fill="#d2bfbe" stroke="#222222"/><path d="M180.7,170.8l1.7-1.8-.9-.9-1.7,1.8z" fill="#cbb1b1" stroke="#222222"/><path d="M183.3,170.0l1.7-1.9-.9-.9-1.7,1.8z" fill="#cc9b9f" stroke="#222222"/><path d="M186.0,169.4l1.8-1.6-.9-1.3-1.8,1.7z" fill="#da9a9f" stroke="#2c1b1d"/><path d="M188.7,169.5l1.8-1.1-1-1.9-1.8,1.2z" fill="#f1b9be" stroke="#2c1b1d"/><path d="M191.4,170.7l1.8-.8-1-2.3-1.8,.8z" fill="#f7d4d8" stroke="#222222"/><path d="M194.2,172.2l1.8-.7-1-2.4-1.8,.8z" fill="#f6f5f4" stroke="#222222"/><path d="M197.0,173.6l1.8-.7-1-2.1-1.8,.7z" fill="#f3f3f1" stroke="#222222"/><path d="M199.8,174.3l1.8-.6-.9-1.4-1.8,.7z" fill="#f0f0ec" stroke="#222222"/><path d="M176.3,172.3l1.7-.9-.9-1-1.7,.9z" fill="#e1dad6" stroke="#222222"/><path d="M178.9,172.3l1.7-1.5-.9-1-1.7,1.5z" fill="#d2bfbe" stroke="#222222"/><path d="M181.6,171.8l1.7-1.8-.9-.9-1.7,1.8z" fill="#cbb1b1" stroke="#222222"/><path d="M184.2,171.1l1.8-1.8-.9-1.2-1.7,1.9z" fill="#d8aeb2" stroke="#222222"/><path d="M186.9,171.0l1.8-1.4-1-1.8-1.8,1.6z" fill="#f2c2c7" stroke="#222222"/><path d="M189.6,171.6l1.8-.9-1-2.2-1.8,1.1z" fill="#f8dadd" stroke="#222222"/><path d="M192.4,172.9l1.8-.7-1-2.3-1.8,.8z" fill="#f6f5f4" stroke="#222222"/><path d="M195.2,174.2l1.8-.7-1-2-1.8,.7z" fill="#f3f3f1" stroke="#222222"/><path d="M197.9,174.9l1.8-.6-.9-1.4-1.8,.7z" fill="#eff0ec" stroke="#222222"/><path d="M177.2,173.3l1.8-1-.9-1-1.7,.9z" fill="#e1dad6" stroke="#222222"/><path d="M179.8,173.3l1.7-1.5-.9-1-1.7,1.5z" fill="#d2bfbe" stroke="#222222"/><path d="M182.5,172.9l1.7-1.7-.9-1.1-1.7,1.8z" fill="#d2bcbc" stroke="#222222"/><path d="M185.1,172.5l1.8-1.6-.9-1.6-1.8,1.8z" fill="#e7dcdc" stroke="#222222"/><path d="M187.8,172.8l1.8-1.2-1-2.1-1.8,1.4z" fill="#f6f4f4" stroke="#222222"/><path d="M190.6,173.7l1.8-.8-1-2.2-1.8,.9z" fill="#f5f4f3" stroke="#222222"/><path d="M193.4,174.9l1.8-.7-1-2-1.8,.7z" fill="#f3f3f0" stroke="#222222"/><path d="M196.1,175.6l1.8-.6-.9-1.4-1.8,.7z" fill="#eff0ec" stroke="#222222"/><path d="M178.1,174.3l1.8-1-.9-1-1.8,1z" fill="#e1dad6" stroke="#222222"/><path d="M180.7,174.3l1.7-1.4-.9-1-1.7,1.5z" fill="#d6c5c3" stroke="#222222"/><path d="M183.4,174.0l1.8-1.5-.9-1.4-1.7,1.7z" fill="#dfd1d0" stroke="#222222"/><path d="M186.0,174.1l1.8-1.3-.9-1.8-1.8,1.6z" fill="#f3f2f1" stroke="#222222"/><path d="M188.8,174.6l1.8-.9-1-2.1-1.8,1.2z" fill="#f4f3f1" stroke="#222222"/><path d="M191.5,175.6l1.8-.7-.9-2-1.8,.8z" fill="#f2f2f0" stroke="#222222"/><path d="M194.3,176.2l1.8-.6-.9-1.4-1.8,.7z" fill="#eff0ec" stroke="#222222"/><path d="M178.9,175.2l1.8-.9-.9-1-1.8,1z" fill="#e2dbd7" stroke="#222222"/><path d="M181.6,175.3l1.8-1.3-.9-1.2-1.7,1.4z" fill="#ddd2cf" stroke="#222222"/><path d="M184.3,175.3l1.8-1.2-.9-1.5-1.8,1.5z" fill="#eae5e3" stroke="#222222"/><path d="M187.0,175.6l1.8-1-.9-1.8-1.8,1.3z" fill="#f2f2ef" stroke="#222222"/><path d="M189.7,176.3l1.8-.7-.9-1.8-1.8,.9z" fill="#f1f2ef" stroke="#222222"/><path d="M192.5,176.9l1.8-.6-.9-1.4-1.8,.7z" fill="#eff0eb" stroke="#222222"/><path d="M179.8,176.2l1.8-.9-.9-1-1.8,.9z" fill="#e4dfdb" stroke="#222222"/><path d="M182.5,176.4l1.8-1.1-.9-1.3-1.8,1.3z" fill="#e5dfdb" stroke="#222222"/><path d="M185.2,176.6l1.8-1-.9-1.5-1.8,1.2z" fill="#eff0ec" stroke="#222222"/><path d="M187.9,177.0l1.8-.7-.9-1.6-1.8,1z" fill="#f0f1ed" stroke="#222222"/><path d="M190.6,177.5l1.8-.6-.9-1.3-1.8,.7z" fill="#eeefeb" stroke="#222222"/><path d="M180.7,177.2l1.8-.8-.9-1.1-1.8,.9z" fill="#e6e3de" stroke="#222222"/><path d="M183.4,177.4l1.8-.9-.9-1.3-1.8,1.1z" fill="#eae9e5" stroke="#222222"/><path d="M186.1,177.8l1.8-.7-.9-1.4-1.8,1z" fill="#efefeb" stroke="#222222"/><path d="M188.8,178.2l1.8-.6-.9-1.2-1.8,.7z" fill="#eeefea" stroke="#222222"/><path d="M181.6,178.2l1.8-.7-.9-1.1-1.8,.8z" fill="#e8e6e2" stroke="#222222"/><path d="M184.2,178.5l1.8-.7-.9-1.2-1.8,.9z" fill="#edeee9" stroke="#222222"/><path d="M187.0,178.8l1.8-.6-.9-1.1-1.8,.7z" fill="#edeee9" stroke="#222222"/><path d="M182.4,179.1l1.8-.7-.9-1-1.8,.7z" fill="#eae9e4" stroke="#222222"/><path d="M185.1,179.5l1.8-.6-.9-1.1-1.8,.7z" fill="#ebece7" stroke="#222222"/><path d="M183.3,180.1l1.8-.6-.9-1-1.8,.7z" fill="#eae9e4" stroke="#222222"/></g>
<text x="153.70" y="144.72" font-size="7.0" fill="#333" stroke="#333" stroke-width="0.2" textLength="6.80" lengthAdjust="spacingAndGlyphs">30</text>
<text x="154.47" y="155.22" font-size="7.0" fill="#333" stroke="#333" stroke-width="0.2" textLength="6.80" lengthAdjust="spacingAndGlyphs">10</text>
<text x="151.83" y="165.72" font-size="7.0" fill="#333" stroke="#333" stroke-width="0.2" textLength="10.20" lengthAdjust="spacingAndGlyphs">&#8722;10</text>
<text x="152.60" y="176.22" font-size="7.0" fill="#333" stroke="#333" stroke-width="0.2" textLength="10.20" lengthAdjust="spacingAndGlyphs">&#8722;30</text>
<text x="155.93" y="181.92" font-size="7.0" fill="#333" stroke="#333" stroke-width="0.2" textLength="9.75" lengthAdjust="spacingAndGlyphs">160</text>
<text x="163.20" y="187.32" font-size="7.0" fill="#333" stroke="#333" stroke-width="0.2" textLength="6.50" lengthAdjust="spacingAndGlyphs">80</text>
<text x="167.60" y="193.52" font-size="7.0" fill="#333" stroke="#333" stroke-width="0.2" textLength="6.50" lengthAdjust="spacingAndGlyphs">40</text>
<text x="172.90" y="199.72" font-size="7.0" fill="#333" stroke="#333" stroke-width="0.2" textLength="6.50" lengthAdjust="spacingAndGlyphs">20</text>
<text x="190.05" y="201.22" font-size="7.0" fill="#333" stroke="#333" stroke-width="0.2" textLength="7.00" lengthAdjust="spacingAndGlyphs">50</text>
<text x="197.75" y="198.22" font-size="7.0" fill="#333" stroke="#333" stroke-width="0.2" textLength="10.50" lengthAdjust="spacingAndGlyphs">100</text>
<text x="208.50" y="193.82" font-size="7.0" fill="#333" stroke="#333" stroke-width="0.2" textLength="10.50" lengthAdjust="spacingAndGlyphs">200</text>
<text x="217.95" y="189.32" font-size="7.0" fill="#333" stroke="#333" stroke-width="0.2" textLength="10.50" lengthAdjust="spacingAndGlyphs">400</text>
<g transform="translate(143.50,157.80) rotate(-90)"><text x="-13.35" y="2.84" font-size="7.9" fill="#2a2a2a" stroke="#2a2a2a" stroke-width="0.25" textLength="26.70" lengthAdjust="spacingAndGlyphs">&#948;&#8722;score</text></g>
<g transform="translate(155.70,196.90) rotate(46)"><text x="-13.50" y="3.02" font-size="8.4" fill="#2a2a2a" stroke="#2a2a2a" stroke-width="0.25" textLength="27.00" lengthAdjust="spacingAndGlyphs">BETi (nM)</text></g>
<g transform="translate(212.00,206.10) rotate(-25)"><text x="-16.65" y="3.10" font-size="8.6" fill="#2a2a2a" stroke="#2a2a2a" stroke-width="0.25" textLength="33.30" lengthAdjust="spacingAndGlyphs">p300i (nM)</text></g>
<rect x="168.10" y="131.10" width="55.00" height="2.20" fill="url(#cbar)"/>
<text x="162.80" y="128.22" font-size="7.0" fill="#333" stroke="#333" stroke-width="0.15" textLength="11.40" lengthAdjust="spacingAndGlyphs">&#8722;30</text>
<text x="180.50" y="128.22" font-size="7.0" fill="#333" stroke="#333" stroke-width="0.15" textLength="12.00" lengthAdjust="spacingAndGlyphs">&#8722;10</text>
<text x="201.50" y="128.22" font-size="7.0" fill="#333" stroke="#333" stroke-width="0.15" textLength="6.80" lengthAdjust="spacingAndGlyphs">10</text>
<text x="219.30" y="128.22" font-size="7.0" fill="#333" stroke="#333" stroke-width="0.15" textLength="7.20" lengthAdjust="spacingAndGlyphs">30</text>
<line x1="272.70" y1="174.50" x2="290.20" y2="196.30" stroke="#808080" stroke-width="0.6"/>
<line x1="290.20" y1="196.30" x2="324.70" y2="180.30" stroke="#808080" stroke-width="0.6"/>
<line x1="270.40" y1="143.00" x2="272.70" y2="174.50" stroke="#808080" stroke-width="0.6"/>
<line x1="327.40" y1="150.70" x2="324.70" y2="180.30" stroke="#808080" stroke-width="0.6"/>
<line x1="287.80" y1="159.40" x2="290.20" y2="196.30" stroke="#808080" stroke-width="0.6"/>
<line x1="270.40" y1="143.00" x2="304.70" y2="135.30" stroke="#808080" stroke-width="0.6"/>
<line x1="304.70" y1="135.30" x2="327.40" y2="150.70" stroke="#808080" stroke-width="0.6"/>
<line x1="270.40" y1="143.00" x2="287.80" y2="159.40" stroke="#808080" stroke-width="0.6"/>
<line x1="287.80" y1="159.40" x2="327.40" y2="150.70" stroke="#808080" stroke-width="0.6"/>
<line x1="272.70" y1="174.50" x2="305.70" y2="161.30" stroke="#999" stroke-width="0.5" stroke-dasharray="0.8 1.6"/>
<line x1="305.70" y1="161.30" x2="324.70" y2="180.30" stroke="#999" stroke-width="0.5" stroke-dasharray="0.8 1.6"/>
<line x1="304.70" y1="135.30" x2="305.70" y2="161.30" stroke="#999" stroke-width="0.5" stroke-dasharray="0.8 1.6"/>
<g stroke="#4a0810" stroke-width="0.5" stroke-opacity="0.48" stroke-linejoin="round"><path d="M304.4,145.2l1.7-.1-1.1-.6-1.7,.2z" fill="#cf545d"/><path d="M302.7,145.4l1.7-.1-1.1-.6-1.7,.2z" fill="#cb4c55"/><path d="M305.5,145.8l1.7-.1-1.1-.7-1.7,.1z" fill="#d2515a"/><path d="M301.0,145.5l1.7-.2-1-.5-1.7,.2z" fill="#c6444d"/><path d="M303.7,145.9l1.7-.1-1.1-.6-1.7,.1z" fill="#ce4851"/><path d="M306.5,146.5l1.7-.1-1.1-.7-1.7,.1z" fill="#d54f58"/><path d="M299.3,145.7l1.7-.2-1-.5-1.7,.3z" fill="#c23e47"/><path d="M302.0,146.1l1.7-.1-1-.6-1.7,.2z" fill="#ca404a"/><path d="M304.8,146.6l1.7-.1-1.1-.7-1.7,.1z" fill="#d34650"/><path d="M307.6,147.3l1.7-.1-1.1-.8-1.7,.1z" fill="#d84f59"/><path d="M297.5,146.0l1.7-.3-1-.4-1.7,.3z" fill="#be3a43"/><path d="M300.3,146.3l1.7-.2-1-.6-1.7,.2z" fill="#c73a43"/><path d="M303.1,146.8l1.7-.1-1.1-.7-1.7,.1z" fill="#d03e48"/><path d="M305.8,147.4l1.7-.1-1.1-.8-1.7,.1z" fill="#d74852"/><path d="M308.7,148.2l1.7-.1-1.1-.8-1.7,.1z" fill="#d9535c"/><path d="M295.8,146.4l1.7-.4-1-.4-1.7,.4z" fill="#bb3840"/><path d="M298.6,146.6l1.7-.3-1-.5-1.7,.3z" fill="#c4353f"/><path d="M301.3,147.0l1.7-.2-1-.7-1.7,.2z" fill="#ce3741"/><path d="M304.1,147.6l1.7-.2-1.1-.8-1.7,.1z" fill="#d5414c"/><path d="M306.9,148.3l1.7-.2-1.1-.8-1.7,.1z" fill="#d84f58"/><path d="M309.7,149.1l1.8-.2-1.1-.8-1.7,.1z" fill="#d9545e"/><path d="M294.1,147.0l1.7-.5-1-.4-1.7,.5z" fill="#b93740"/><path d="M296.8,147.0l1.7-.4-1-.5-1.7,.4z" fill="#c1333c"/><path d="M299.6,147.3l1.7-.3-1-.7-1.7,.3z" fill="#cb323d"/><path d="M302.4,147.8l1.7-.2-1-.8-1.7,.2z" fill="#d43c46"/><path d="M305.2,148.6l1.8-.2-1.1-.9-1.7,.2z" fill="#d74c55"/><path d="M308.0,149.3l1.8-.2-1.1-.9-1.7,.2z" fill="#d9525c"/><path d="M310.8,149.9l1.8-.3-1.1-.8-1.8,.2z" fill="#d9525c"/><path d="M292.5,148.1l1.7-1.1-1-.4-1.6,1.4z" fill="#a5363d"/><path d="M295.1,147.5l1.7-.5-1-.5-1.7,.5z" fill="#be323c"/><path d="M297.9,147.7l1.7-.4-1-.7-1.7,.4z" fill="#c9303a"/><path d="M300.6,148.2l1.7-.3-1-.9-1.7,.3z" fill="#d23641"/><path d="M303.4,148.8l1.8-.3-1.1-1-1.7,.2z" fill="#d64953"/><path d="M306.2,149.6l1.8-.3-1.1-1-1.8,.2z" fill="#d9525c"/><path d="M309.0,150.3l1.8-.3-1.1-.9-1.8,.2z" fill="#d9525c"/><path d="M311.9,150.8l1.8-.4-1.1-.8-1.8,.3z" fill="#d84e58"/><path d="M290.9,150.9l1.6-2.8-1-.1-1.6,2.9z" fill="#9c3f44" stroke="#400e14"/><path d="M293.4,148.4l1.7-.9-1-.5-1.7,1.1z" fill="#b0343c"/><path d="M296.1,148.2l1.7-.6-1-.7-1.7,.5z" fill="#c7303a"/><path d="M298.9,148.6l1.7-.4-1-.9-1.7,.4z" fill="#d1323d"/><path d="M301.7,149.2l1.8-.4-1-1-1.7,.3z" fill="#d64750"/><path d="M304.4,150.0l1.8-.4-1.1-1-1.8,.3z" fill="#d8525c"/><path d="M307.3,150.7l1.8-.4-1.1-1-1.8,.3z" fill="#d9545e"/><path d="M310.1,151.2l1.8-.4-1.1-.8-1.8,.3z" fill="#d84f59"/><path d="M312.9,151.6l1.8-.4-1.1-.7-1.8,.4z" fill="#d54c56"/><path d="M289.3,154.2l1.5-3.3-.9-.1-1.5,3.1z" fill="#a1565b" stroke="#2c1b1d"/><path d="M291.8,151.0l1.6-2.7-1-.3-1.6,2.8z" fill="#9a393f"/><path d="M294.4,149.0l1.7-.7-1-.7-1.7,.9z" fill="#bf323c"/><path d="M297.1,149.2l1.7-.6-1-.9-1.7,.6z" fill="#d0303b"/><path d="M299.9,149.7l1.7-.5-1-1.1-1.7,.4z" fill="#d5444e"/><path d="M302.7,150.4l1.8-.4-1-1.1-1.8,.4z" fill="#d8525b"/><path d="M305.5,151.1l1.8-.5-1-1.1-1.8,.4z" fill="#d95760"/><path d="M308.3,151.7l1.8-.5-1.1-.9-1.8,.4z" fill="#d9525c"/><path d="M311.1,152.1l1.8-.5-1.1-.8-1.8,.4z" fill="#d64b55"/><path d="M314.0,152.4l1.8-.5-1.1-.7-1.8,.4z" fill="#d34a54"/><path d="M287.7,156.6l1.6-2.4-.9-.3-1.6,1.9z" fill="#a9797b" stroke="#222222"/><path d="M290.2,154.5l1.6-3.5-.9-.1-1.5,3.3z" fill="#a04f54" stroke="#361519"/><path d="M292.8,151.3l1.6-2.3-1-.6-1.6,2.7z" fill="#99353b"/><path d="M295.4,149.9l1.7-.7-1-.9-1.7,.7z" fill="#cd333e"/><path d="M298.2,150.3l1.7-.6-1-1.1-1.7,.6z" fill="#d4404b"/><path d="M300.9,150.9l1.8-.5-1-1.2-1.7,.5z" fill="#d8515a"/><path d="M303.7,151.6l1.8-.5-1-1.2-1.8,.4z" fill="#da5962"/><path d="M306.5,152.2l1.8-.6-1-1-1.8,.5z" fill="#da5760"/><path d="M309.3,152.7l1.8-.6-1.1-.9-1.8,.5z" fill="#d84e58"/><path d="M312.2,153.0l1.8-.6-1.1-.8-1.8,.5z" fill="#d44a54"/><path d="M315.0,153.2l1.8-.5-1.1-.8-1.8,.5z" fill="#d44953"/><path d="M286.1,157.3l1.7-.8-.9-.8-1.7,.6z" fill="#e4dcd9" stroke="#222222"/><path d="M288.7,157.2l1.6-2.8-.9-.3-1.6,2.4z" fill="#a36f71" stroke="#222222"/><path d="M291.2,154.7l1.6-3.5-1-.2-1.6,3.5z" fill="#9e494e" stroke="#361519"/><path d="M293.7,151.7l1.7-1.9-1-.9-1.6,2.3z" fill="#a4363d"/><path d="M296.4,151.0l1.7-.7-1-1.1-1.7,.7z" fill="#d43e48"/><path d="M299.2,151.5l1.8-.6-1-1.2-1.7,.6z" fill="#d85059"/><path d="M302.0,152.2l1.8-.6-1-1.2-1.8,.5z" fill="#da5a63"/><path d="M304.7,152.9l1.8-.6-1-1.1-1.8,.5z" fill="#db5b64"/><path d="M307.6,153.3l1.8-.6-1-1-1.8,.6z" fill="#d9545d"/><path d="M310.4,153.6l1.8-.7-1.1-.9-1.8,.6z" fill="#d64c56"/><path d="M313.2,153.9l1.8-.6-1.1-.8-1.8,.6z" fill="#d34a54"/><path d="M316.1,154.1l1.8-.6-1.1-.9-1.8,.5z" fill="#d64b55"/><path d="M284.4,157.9l1.7-.5-.9-.9-1.7,.5z" fill="#eceae6" stroke="#222222"/><path d="M287.0,158.3l1.7-1-.9-.7-1.7,.8z" fill="#dacbc9" stroke="#222222"/><path d="M289.6,157.8l1.6-3.1-.9-.3-1.6,2.8z" fill="#a46f71" stroke="#222222"/><path d="M292.1,155.1l1.6-3.3-1-.4-1.6,3.5z" fill="#9d444a" stroke="#400e14"/><path d="M294.7,152.4l1.7-1.4-1-1.1-1.7,1.9z" fill="#b63b43"/><path d="M297.4,152.3l1.8-.7-1-1.3-1.7,.7z" fill="#d84e58"/><path d="M300.2,152.9l1.8-.7-1-1.3-1.8,.6z" fill="#da5a63"/><path d="M303.0,153.5l1.8-.6-1-1.2-1.8,.6z" fill="#db5e67"/><path d="M305.8,154.0l1.8-.7-1-1.1-1.8,.6z" fill="#db5a63"/><path d="M308.6,154.4l1.8-.7-1-1-1.8,.6z" fill="#d9505a"/><path d="M311.4,154.6l1.8-.7-1.1-.9-1.8,.7z" fill="#d44d57"/><path d="M314.3,154.8l1.8-.7-1.1-.9-1.8,.6z" fill="#d54c55"/><path d="M317.2,155.1l1.8-.6-1.1-1-1.8,.6z" fill="#d9525b"/><path d="M282.7,158.4l1.7-.5-.9-.9-1.7,.5z" fill="#eceae6" stroke="#222222"/><path d="M285.3,158.8l1.7-.5-.9-.9-1.7,.5z" fill="#eceae6" stroke="#222222"/><path d="M287.9,159.2l1.7-1.4-.9-.6-1.7,1z" fill="#cdb5b4" stroke="#222222"/><path d="M290.5,158.3l1.6-3.2-.9-.3-1.6,3.1z" fill="#a46064" stroke="#222222"/><path d="M293.1,155.5l1.6-3.1-1-.7-1.6,3.3z" fill="#9c4146" stroke="#400e14"/><path d="M295.7,153.3l1.7-1.1-1-1.3-1.7,1.4z" fill="#c9434d"/><path d="M298.4,153.6l1.8-.7-1-1.3-1.8,.7z" fill="#da5b64"/><path d="M301.2,154.2l1.8-.7-1-1.3-1.8,.7z" fill="#dc616a"/><path d="M304.0,154.7l1.8-.7-1-1.2-1.8,.6z" fill="#dc6069"/><path d="M306.8,155.1l1.8-.8-1-1-1.8,.7z" fill="#da5862"/><path d="M309.6,155.4l1.8-.8-1-.9-1.8,.7z" fill="#d6525c"/><path d="M312.5,155.6l1.8-.8-1.1-.9-1.8,.7z" fill="#d54f59"/><path d="M315.3,155.8l1.8-.7-1.1-1-1.8,.7z" fill="#d84f59"/><path d="M318.2,156.1l1.8-.6-1.1-1.1-1.8,.6z" fill="#db5c65"/><path d="M281.0,159.0l1.7-.5-.9-.9-1.7,.5z" fill="#eceae6" stroke="#222222"/><path d="M283.6,159.4l1.7-.5-.9-.9-1.7,.5z" fill="#eceae6" stroke="#222222"/><path d="M286.2,159.8l1.7-.6-.9-.9-1.7,.5z" fill="#eceae6" stroke="#222222"/><path d="M288.9,160.1l1.7-1.8-.9-.5-1.7,1.4z" fill="#bf9e9e" stroke="#222222"/><path d="M291.4,158.8l1.6-3.3-.9-.4-1.6,3.2z" fill="#a25a5f" stroke="#2c1b1d"/><path d="M294.0,156.0l1.7-2.7-1-.9-1.6,3.1z" fill="#9e4046" stroke="#400e14"/><path d="M296.7,154.4l1.8-.8-1-1.3-1.7,1.1z" fill="#d84e58"/><path d="M299.4,154.9l1.8-.7-1-1.3-1.8,.7z" fill="#dd646c"/><path d="M302.2,155.5l1.8-.7-1-1.2-1.8,.7z" fill="#dd656e"/><path d="M305.0,155.9l1.8-.8-1-1.1-1.8,.7z" fill="#dc6069"/><path d="M307.8,156.2l1.8-.8-1-1-1.8,.8z" fill="#d95862"/><path d="M310.6,156.4l1.8-.8-1-1-1.8,.8z" fill="#d6555e"/><path d="M313.5,156.6l1.8-.8-1-1-1.8,.8z" fill="#d7535c"/><path d="M316.4,156.8l1.8-.7-1.1-1.1-1.8,.7z" fill="#db5962"/><path d="M319.2,157.8l1.8-.6-1-1.6-1.8,.6z" fill="#e38189"/><path d="M279.3,159.5l1.7-.5-.9-.9-1.7,.5z" fill="#eceae6" stroke="#222222"/><path d="M281.9,159.9l1.7-.5-.9-.9-1.7,.5z" fill="#eceae6" stroke="#222222"/><path d="M284.5,160.3l1.7-.6-.9-.9-1.7,.5z" fill="#eceae6" stroke="#222222"/><path d="M287.2,160.7l1.7-.6-.9-.9-1.7,.6z" fill="#ebe9e6" stroke="#222222"/><path d="M289.8,161.0l1.6-2.2-.9-.5-1.7,1.8z" fill="#b3898a" stroke="#222222"/><path d="M292.4,159.3l1.6-3.2-1-.5-1.6,3.3z" fill="#a1555a" stroke="#2c1b1d"/><path d="M295.0,156.7l1.7-2.3-1-1.1-1.7,2.7z" fill="#a8464d" stroke="#400e14"/><path d="M297.7,155.6l1.8-.7-1-1.3-1.8,.8z" fill="#dc626b"/><path d="M300.4,156.2l1.8-.7-1-1.3-1.8,.7z" fill="#de6972"/><path d="M303.2,156.7l1.8-.8-1-1.2-1.8,.7z" fill="#de6770"/><path d="M306.0,157.0l1.8-.8-1-1.1-1.8,.8z" fill="#dc6069"/><path d="M308.8,157.2l1.8-.8-1-1-1.8,.8z" fill="#d85b64"/><path d="M311.7,157.4l1.8-.8-1-1-1.8,.8z" fill="#d85861"/><path d="M314.5,157.6l1.8-.8-1-1.1-1.8,.8z" fill="#db5962"/><path d="M317.4,158.5l1.8-.7-1-1.6-1.8,.7z" fill="#e37f86"/><path d="M320.2,160.1l1.8-.6-1-2.3-1.8,.6z" fill="#e99ea3" stroke="#400e14"/><path d="M277.6,160.1l1.7-.5-.9-1-1.7,.5z" fill="#eceae6" stroke="#222222"/><path d="M280.2,160.5l1.7-.5-.9-.9-1.7,.5z" fill="#eceae6" stroke="#222222"/><path d="M282.8,160.9l1.7-.6-.9-.9-1.7,.5z" fill="#eceae6" stroke="#222222"/><path d="M285.4,161.2l1.7-.6-.9-.9-1.7,.6z" fill="#eceae6" stroke="#222222"/><path d="M288.1,161.6l1.7-.7-.9-.8-1.7,.6z" fill="#e7e3df" stroke="#222222"/><path d="M290.7,161.7l1.7-2.4-.9-.5-1.6,2.2z" fill="#ab7c7e" stroke="#222222"/><path d="M293.3,159.8l1.7-3.1-1-.7-1.6,3.2z" fill="#a05257" stroke="#2c1b1d"/><path d="M295.9,157.5l1.7-1.8-1-1.2-1.7,2.3z" fill="#b65056" stroke="#400e14"/><path d="M298.7,156.9l1.8-.7-1-1.3-1.8,.7z" fill="#df6c75"/><path d="M301.4,157.4l1.8-.7-1-1.2-1.8,.7z" fill="#df6d75" stroke="#400e14"/><path d="M304.2,157.8l1.8-.8-1-1.1-1.8,.8z" fill="#de6870" stroke="#400e14"/><path d="M307.0,158.1l1.8-.8-1-1-1.8,.8z" fill="#db626b" stroke="#400e14"/><path d="M309.9,158.2l1.8-.8-1-1-1.8,.8z" fill="#d95e67"/><path d="M312.7,158.4l1.8-.8-1-1.1-1.8,.8z" fill="#da5d66"/><path d="M315.6,159.2l1.8-.7-1-1.6-1.8,.8z" fill="#e37e86" stroke="#400e14"/><path d="M318.4,160.7l1.8-.6-1-2.3-1.8,.7z" fill="#e99da3" stroke="#400e14"/><path d="M321.2,162.5l1.8-.6-.9-2.4-1.8,.6z" fill="#f0b9be" stroke="#361519"/><path d="M275.9,160.6l1.7-.5-.9-1-1.7,.5z" fill="#eceae6" stroke="#222222"/><path d="M278.5,161.0l1.7-.5-.9-1-1.7,.5z" fill="#eceae6" stroke="#222222"/><path d="M281.1,161.4l1.7-.6-.9-.9-1.7,.5z" fill="#eceae6" stroke="#222222"/><path d="M283.7,161.8l1.7-.6-.9-.9-1.7,.6z" fill="#eceae6" stroke="#222222"/><path d="M286.4,162.2l1.7-.6-.9-.9-1.7,.6z" fill="#eceae6" stroke="#222222"/><path d="M289.0,162.6l1.7-.9-.9-.7-1.7,.7z" fill="#e1d7d5" stroke="#222222"/><path d="M291.7,162.4l1.7-2.6-.9-.5-1.7,2.4z" fill="#a77678" stroke="#222222"/><path d="M294.2,160.3l1.7-2.9-1-.8-1.7,3.1z" fill="#a04f54" stroke="#361519"/><path d="M296.9,158.3l1.8-1.4-1-1.3-1.7,1.8z" fill="#c45b63" stroke="#400e14"/><path d="M299.6,158.1l1.8-.7-1-1.2-1.8,.7z" fill="#e07179" stroke="#400e14"/><path d="M302.4,158.5l1.8-.7-1-1.1-1.8,.7z" fill="#e06e77" stroke="#400e14"/><path d="M305.2,158.8l1.8-.8-1-1-1.8,.8z" fill="#de6972" stroke="#400e14"/><path d="M308.0,159.1l1.8-.8-1-1-1.8,.8z" fill="#db656e" stroke="#400e14"/><path d="M310.9,159.3l1.8-.8-1-1-1.8,.8z" fill="#db636c" stroke="#400e14"/><path d="M313.7,160.0l1.8-.8-1-1.6-1.8,.8z" fill="#e37f87" stroke="#400e14"/><path d="M316.5,161.4l1.8-.7-1-2.3-1.8,.7z" fill="#ea9ea4" stroke="#400e14"/><path d="M319.3,163.1l1.8-.6-.9-2.4-1.8,.6z" fill="#f0b9be" stroke="#2c1b1d"/><path d="M322.1,164.5l1.8-.6-1-2.1-1.8,.6z" fill="#f7d8db" stroke="#222222"/><path d="M274.3,161.1l1.7-.5-.9-1-1.7,.5z" fill="#eceae6" stroke="#222222"/><path d="M276.8,161.6l1.7-.5-.9-1-1.7,.5z" fill="#eceae6" stroke="#222222"/><path d="M279.4,162.0l1.7-.6-.9-1-1.7,.5z" fill="#eceae6" stroke="#222222"/><path d="M282.0,162.4l1.7-.6-.9-.9-1.7,.6z" fill="#eceae6" stroke="#222222"/><path d="M284.6,162.8l1.7-.6-.9-.9-1.7,.6z" fill="#eceae6" stroke="#222222"/><path d="M287.3,163.1l1.7-.6-.9-.9-1.7,.6z" fill="#eceae6" stroke="#222222"/><path d="M289.9,163.5l1.7-1.1-.9-.7-1.7,.9z" fill="#d8c9c7" stroke="#222222"/><path d="M292.6,163.0l1.7-2.7-.9-.5-1.7,2.6z" fill="#a67375" stroke="#222222"/><path d="M295.2,160.9l1.7-2.6-1-.8-1.7,2.9z" fill="#a45257" stroke="#361519"/><path d="M297.9,159.1l1.8-1-1-1.2-1.8,1.4z" fill="#d1666e" stroke="#400e14"/><path d="M300.6,159.2l1.8-.7-1-1.1-1.8,.7z" fill="#e1737b" stroke="#400e14"/><path d="M303.4,159.6l1.8-.7-1-1.1-1.8,.7z" fill="#e06f78" stroke="#400e14"/><path d="M306.2,159.9l1.8-.8-1-1-1.8,.8z" fill="#dd6c74" stroke="#400e14"/><path d="M309.0,160.1l1.8-.8-1-1-1.8,.8z" fill="#dc6972" stroke="#400e14"/><path d="M311.9,160.7l1.8-.8-1-1.5-1.8,.8z" fill="#e48289" stroke="#400e14"/><path d="M314.7,162.1l1.8-.7-1-2.2-1.8,.8z" fill="#ea9fa5" stroke="#361519"/><path d="M317.5,163.7l1.8-.6-1-2.4-1.8,.7z" fill="#f0babf" stroke="#2c1b1d"/><path d="M320.3,165.2l1.8-.6-1-2.1-1.8,.6z" fill="#f7d8db" stroke="#222222"/><path d="M323.1,166.0l1.8-.6-1-1.4-1.8,.6z" fill="#f6f4f4" stroke="#222222"/><path d="M272.6,161.7l1.7-.5-.9-1-1.7,.5z" fill="#eceae6" stroke="#222222"/><path d="M275.1,162.1l1.7-.5-.9-1-1.7,.5z" fill="#eceae6" stroke="#222222"/><path d="M277.7,162.5l1.7-.6-.9-1-1.7,.5z" fill="#eceae6" stroke="#222222"/><path d="M280.3,162.9l1.7-.6-.9-1-1.7,.6z" fill="#eceae6" stroke="#222222"/><path d="M282.9,163.3l1.7-.6-.9-.9-1.7,.6z" fill="#eceae6" stroke="#222222"/><path d="M285.6,163.7l1.7-.6-.9-.9-1.7,.6z" fill="#eceae6" stroke="#222222"/><path d="M288.2,164.1l1.7-.6-.9-.9-1.7,.6z" fill="#eceae6" stroke="#222222"/><path d="M290.9,164.4l1.7-1.4-.9-.6-1.7,1.1z" fill="#ceb7b6" stroke="#222222"/><path d="M293.5,163.6l1.7-2.7-.9-.6-1.7,2.7z" fill="#a7686c" stroke="#222222"/><path d="M296.1,161.5l1.7-2.3-1-.9-1.7,2.6z" fill="#a9565b" stroke="#361519"/><path d="M298.8,160.0l1.8-.8-1-1.1-1.8,1z" fill="#da6f77" stroke="#400e14"/><path d="M301.6,160.3l1.8-.7-1-1.1-1.8,.7z" fill="#e1747d" stroke="#400e14"/><path d="M304.4,160.6l1.8-.7-1-1-1.8,.7z" fill="#e0717a" stroke="#400e14"/><path d="M307.2,160.8l1.8-.8-1-1-1.8,.8z" fill="#de6f77" stroke="#400e14"/><path d="M310.0,161.5l1.8-.8-1-1.5-1.8,.8z" fill="#e5868d" stroke="#400e14"/><path d="M312.9,162.8l1.8-.7-1-2.1-1.8,.8z" fill="#eba2a8" stroke="#361519"/><path d="M315.7,164.4l1.8-.7-1-2.3-1.8,.7z" fill="#f1bcc0" stroke="#2c1b1d"/><path d="M318.4,165.8l1.8-.6-1-2.1-1.8,.6z" fill="#f8d8dc" stroke="#222222"/><path d="M321.3,166.6l1.8-.6-1-1.4-1.8,.6z" fill="#f6f4f4" stroke="#222222"/><path d="M324.1,166.9l1.8-.6-1-.9-1.8,.6z" fill="#f1eeed" stroke="#222222"/><path d="M273.4,162.7l1.7-.5-.9-1-1.7,.5z" fill="#eceae6" stroke="#222222"/><path d="M276.0,163.1l1.7-.6-.9-1-1.7,.5z" fill="#eceae6" stroke="#222222"/><path d="M278.6,163.5l1.7-.6-.9-1-1.7,.6z" fill="#eceae6" stroke="#222222"/><path d="M281.2,163.9l1.7-.6-.9-1-1.7,.6z" fill="#eceae6" stroke="#222222"/><path d="M283.8,164.3l1.7-.6-.9-.9-1.7,.6z" fill="#eceae6" stroke="#222222"/><path d="M286.5,164.6l1.7-.6-.9-.9-1.7,.6z" fill="#eceae6" stroke="#222222"/><path d="M289.1,165.0l1.7-.6-.9-.9-1.7,.6z" fill="#eceae6" stroke="#222222"/><path d="M291.8,165.3l1.7-1.8-.9-.6-1.7,1.4z" fill="#c3a5a5" stroke="#222222"/><path d="M294.4,164.1l1.7-2.7-.9-.6-1.7,2.7z" fill="#a66368" stroke="#222222"/><path d="M297.1,162.1l1.8-2-1-.9-1.7,2.3z" fill="#b05a60" stroke="#361519"/><path d="M299.8,161.0l1.8-.7-1-1.1-1.8,.8z" fill="#df747d" stroke="#400e14"/><path d="M302.6,161.3l1.8-.7-1-1-1.8,.7z" fill="#e1767e" stroke="#400e14"/><path d="M305.4,161.6l1.8-.7-1-1-1.8,.7z" fill="#df747c" stroke="#400e14"/><path d="M308.2,162.2l1.8-.7-1-1.4-1.8,.8z" fill="#e68991" stroke="#400e14"/><path d="M311.0,163.5l1.8-.7-1-2.1-1.8,.8z" fill="#eba5aa" stroke="#361519"/><path d="M313.8,165.0l1.8-.7-1-2.3-1.8,.7z" fill="#f1bdc2" stroke="#2c1b1d"/><path d="M316.6,166.4l1.8-.6-1-2-1.8,.7z" fill="#f8d9dd" stroke="#222222"/><path d="M319.4,167.2l1.8-.6-1-1.4-1.8,.6z" fill="#f6f4f4" stroke="#222222"/><path d="M322.3,167.5l1.8-.6-1-.9-1.8,.6z" fill="#f1eeed" stroke="#222222"/><path d="M274.3,163.6l1.7-.6-.9-1-1.7,.5z" fill="#eceae6" stroke="#222222"/><path d="M276.9,164.0l1.7-.6-.9-1-1.7,.6z" fill="#eceae6" stroke="#222222"/><path d="M279.5,164.4l1.7-.6-.9-1-1.7,.6z" fill="#eceae6" stroke="#222222"/><path d="M282.1,164.8l1.7-.6-.9-1-1.7,.6z" fill="#eceae6" stroke="#222222"/><path d="M284.7,165.2l1.7-.6-.9-.9-1.7,.6z" fill="#eceae6" stroke="#222222"/><path d="M287.4,165.6l1.7-.6-.9-.9-1.7,.6z" fill="#eceae6" stroke="#222222"/><path d="M290.0,166.0l1.7-.6-.9-.9-1.7,.6z" fill="#eae7e4" stroke="#222222"/><path d="M292.7,166.2l1.7-2-.9-.6-1.7,1.8z" fill="#ba9595" stroke="#222222"/><path d="M295.4,164.7l1.7-2.6-.9-.6-1.7,2.7z" fill="#a66065" stroke="#2c1b1d"/><path d="M298.0,162.7l1.8-1.7-1-.9-1.8,2z" fill="#b75f65" stroke="#361519"/><path d="M300.8,161.9l1.8-.6-1-1-1.8,.7z" fill="#e17880" stroke="#400e14"/><path d="M303.6,162.2l1.8-.7-1-1-1.8,.7z" fill="#e1777f" stroke="#400e14"/><path d="M306.4,162.9l1.8-.7-1-1.4-1.8,.7z" fill="#e68d94" stroke="#400e14"/><path d="M309.2,164.2l1.8-.7-1-2-1.8,.7z" fill="#eca7ad" stroke="#361519"/><path d="M312.0,165.7l1.8-.6-1-2.2-1.8,.7z" fill="#f2bfc4" stroke="#2c1b1d"/><path d="M314.8,167.0l1.8-.6-1-2-1.8,.7z" fill="#f8dade" stroke="#222222"/><path d="M317.6,167.8l1.8-.6-1-1.4-1.8,.6z" fill="#f6f4f4" stroke="#222222"/><path d="M320.4,168.1l1.8-.6-1-.9-1.8,.6z" fill="#f1eeed" stroke="#222222"/><path d="M275.2,164.6l1.7-.6-.9-1-1.7,.6z" fill="#eceae6" stroke="#222222"/><path d="M277.8,165.0l1.7-.6-.9-1-1.7,.6z" fill="#eceae6" stroke="#222222"/><path d="M280.4,165.4l1.7-.6-.9-1-1.7,.6z" fill="#eceae6" stroke="#222222"/><path d="M283.0,165.8l1.7-.6-.9-1-1.7,.6z" fill="#eceae6" stroke="#222222"/><path d="M285.6,166.2l1.7-.6-.9-.9-1.7,.6z" fill="#eceae6" stroke="#222222"/><path d="M288.3,166.5l1.7-.6-.9-.9-1.7,.6z" fill="#eceae6" stroke="#222222"/><path d="M291.0,166.9l1.8-.7-.9-.8-1.7,.6z" fill="#e6e0dd" stroke="#222222"/><path d="M293.6,166.9l1.7-2.2-.9-.5-1.7,2z" fill="#b3898a" stroke="#222222"/><path d="M296.3,165.2l1.7-2.5-.9-.6-1.7,2.6z" fill="#a65e62" stroke="#2c1b1d"/><path d="M299.0,163.3l1.8-1.4-1-1-1.8,1.7z" fill="#c1676d" stroke="#361519"/><path d="M301.7,162.9l1.8-.6-1-1-1.8,.6z" fill="#e17a82" stroke="#400e14"/><path d="M304.5,163.6l1.8-.7-1-1.4-1.8,.7z" fill="#e78f96" stroke="#361519"/><path d="M307.3,164.8l1.8-.7-1-2-1.8,.7z" fill="#edaaaf" stroke="#361519"/><path d="M310.1,166.3l1.8-.6-1-2.2-1.8,.7z" fill="#f2c1c5" stroke="#2c1b1d"/><path d="M312.9,167.6l1.8-.6-1-2-1.8,.6z" fill="#f8dbde" stroke="#222222"/><path d="M315.8,168.5l1.8-.6-1-1.4-1.8,.6z" fill="#f6f4f4" stroke="#222222"/><path d="M318.6,168.7l1.8-.6-1-.9-1.8,.6z" fill="#f1eeed" stroke="#222222"/><path d="M276.1,165.6l1.7-.6-.9-1-1.7,.6z" fill="#eceae6" stroke="#222222"/><path d="M278.7,166.0l1.7-.6-.9-1-1.7,.6z" fill="#eceae6" stroke="#222222"/><path d="M281.3,166.4l1.7-.6-.9-1-1.7,.6z" fill="#eceae6" stroke="#222222"/><path d="M283.9,166.8l1.7-.6-.9-1-1.7,.6z" fill="#eceae6" stroke="#222222"/><path d="M286.5,167.1l1.7-.6-.9-.9-1.7,.6z" fill="#eceae6" stroke="#222222"/><path d="M289.2,167.5l1.8-.6-.9-.9-1.7,.6z" fill="#eceae6" stroke="#222222"/><path d="M291.9,167.8l1.8-.9-.9-.7-1.8,.7z" fill="#e0d5d3" stroke="#222222"/><path d="M294.6,167.6l1.7-2.4-.9-.5-1.7,2.2z" fill="#ae8183" stroke="#222222"/><path d="M297.2,165.7l1.8-2.4-.9-.6-1.7,2.5z" fill="#a85c61" stroke="#2c1b1d"/><path d="M299.9,163.9l1.8-1.1-1-1-1.8,1.4z" fill="#cb6e75" stroke="#361519"/><path d="M302.7,164.2l1.8-.6-1-1.3-1.8,.6z" fill="#e79198" stroke="#361519"/><path d="M305.5,165.5l1.8-.6-1-1.9-1.8,.7z" fill="#edabb1" stroke="#361519"/><path d="M308.3,166.9l1.8-.6-1-2.1-1.8,.7z" fill="#f2c2c6" stroke="#2c1b1d"/><path d="M311.1,168.3l1.8-.6-1-2-1.8,.6z" fill="#f8dcdf" stroke="#222222"/><path d="M313.9,169.1l1.8-.6-1-1.4-1.8,.6z" fill="#f6f4f4" stroke="#222222"/><path d="M316.8,169.4l1.8-.6-1-.9-1.8,.6z" fill="#f1eeed" stroke="#222222"/><path d="M276.9,166.6l1.7-.6-.9-1-1.7,.6z" fill="#eceae6" stroke="#222222"/><path d="M279.5,166.9l1.7-.6-.9-1-1.7,.6z" fill="#eceae6" stroke="#222222"/><path d="M282.2,167.3l1.7-.6-.9-1-1.7,.6z" fill="#eceae6" stroke="#222222"/><path d="M284.8,167.7l1.7-.6-.9-1-1.7,.6z" fill="#eceae6" stroke="#222222"/><path d="M287.5,168.1l1.8-.6-.9-.9-1.7,.6z" fill="#eceae6" stroke="#222222"/><path d="M290.1,168.4l1.8-.6-.9-.9-1.8,.6z" fill="#eceae6" stroke="#222222"/><path d="M292.8,168.8l1.8-1.2-.9-.7-1.8,.9z" fill="#d8c7c5" stroke="#222222"/><path d="M295.5,168.2l1.7-2.5-.9-.5-1.7,2.4z" fill="#ab7c7e" stroke="#222222"/><path d="M298.1,166.2l1.8-2.3-1-.7-1.8,2.4z" fill="#aa5c61" stroke="#2c1b1d"/><path d="M300.9,165.0l1.8-.8-1-1.3-1.8,1.1z" fill="#e6878f" stroke="#361519"/><path d="M303.7,166.1l1.8-.6-1-1.9-1.8,.6z" fill="#edacb2" stroke="#361519"/><path d="M306.5,167.6l1.8-.6-1-2.1-1.8,.6z" fill="#f2c3c7" stroke="#2c1b1d"/><path d="M309.3,168.9l1.8-.6-1-2-1.8,.6z" fill="#f9dce0" stroke="#222222"/><path d="M312.1,169.7l1.8-.6-1-1.4-1.8,.6z" fill="#f6f4f4" stroke="#222222"/><path d="M314.9,170.0l1.8-.6-1-.9-1.8,.6z" fill="#f1eeed" stroke="#222222"/><path d="M277.8,167.5l1.7-.6-.9-1-1.7,.6z" fill="#eceae6" stroke="#222222"/><path d="M280.4,167.9l1.7-.6-.9-1-1.7,.6z" fill="#eceae6" stroke="#222222"/><path d="M283.0,168.3l1.7-.6-.9-1-1.7,.6z" fill="#eceae6" stroke="#222222"/><path d="M285.7,168.7l1.8-.6-.9-1-1.7,.6z" fill="#eceae6" stroke="#222222"/><path d="M288.4,169.0l1.8-.6-.9-.9-1.8,.6z" fill="#eceae6" stroke="#222222"/><path d="M291.0,169.4l1.8-.6-.9-.9-1.8,.6z" fill="#eceae6" stroke="#222222"/><path d="M293.7,169.7l1.8-1.5-.9-.6-1.8,1.2z" fill="#cdb6b5" stroke="#222222"/><path d="M296.4,168.8l1.7-2.5-.9-.5-1.7,2.5z" fill="#ab7074" stroke="#222222"/><path d="M299.1,167.0l1.8-1.9-1-1.1-1.8,2.3z" fill="#bc6d73" stroke="#361519"/><path d="M301.9,166.7l1.8-.7-1-1.9-1.8,.8z" fill="#edabb0" stroke="#361519"/><path d="M304.6,168.2l1.8-.6-1-2.1-1.8,.6z" fill="#f3c3c8" stroke="#2c1b1d"/><path d="M307.4,169.5l1.8-.6-1-1.9-1.8,.6z" fill="#f9dde0" stroke="#222222"/><path d="M310.2,170.3l1.8-.6-1-1.4-1.8,.6z" fill="#f5f4f4" stroke="#222222"/><path d="M313.1,170.6l1.8-.6-1-.9-1.8,.6z" fill="#f1eeed" stroke="#222222"/><path d="M278.7,168.5l1.7-.6-.9-1-1.7,.6z" fill="#eceae6" stroke="#222222"/><path d="M281.3,168.9l1.7-.6-.9-1-1.7,.6z" fill="#eceae6" stroke="#222222"/><path d="M283.9,169.3l1.8-.6-.9-1-1.7,.6z" fill="#eceae6" stroke="#222222"/><path d="M286.6,169.6l1.8-.6-.9-1-1.8,.6z" fill="#eceae6" stroke="#222222"/><path d="M289.3,170.0l1.8-.6-.9-.9-1.8,.6z" fill="#eceae6" stroke="#222222"/><path d="M291.9,170.3l1.8-.6-.9-.9-1.8,.6z" fill="#ece9e6" stroke="#222222"/><path d="M294.6,170.6l1.8-1.8-.9-.6-1.8,1.5z" fill="#c2a3a3" stroke="#222222"/><path d="M297.3,169.4l1.8-2.4-.9-.8-1.7,2.5z" fill="#b27479" stroke="#222222"/><path d="M300.0,168.3l1.8-1.5-1-1.7-1.8,1.9z" fill="#dd949b" stroke="#2c1b1d"/><path d="M302.8,168.8l1.8-.6-1-2.1-1.8,.7z" fill="#f3c4c8" stroke="#2c1b1d"/><path d="M305.6,170.1l1.8-.6-1-1.9-1.8,.6z" fill="#f9dde1" stroke="#222222"/><path d="M308.4,171.0l1.8-.6-1-1.4-1.8,.6z" fill="#f5f4f4" stroke="#222222"/><path d="M311.2,171.3l1.8-.6-1-.9-1.8,.6z" fill="#f1eeed" stroke="#222222"/><path d="M279.5,169.5l1.7-.6-.9-1-1.7,.6z" fill="#eceae6" stroke="#222222"/><path d="M282.2,169.8l1.8-.6-.9-1-1.7,.6z" fill="#eceae6" stroke="#222222"/><path d="M284.8,170.2l1.8-.6-.9-1-1.8,.6z" fill="#eceae6" stroke="#222222"/><path d="M287.5,170.6l1.8-.6-.9-1-1.8,.6z" fill="#eceae6" stroke="#222222"/><path d="M290.2,170.9l1.8-.6-.9-.9-1.8,.6z" fill="#eceae6" stroke="#222222"/><path d="M292.9,171.3l1.8-.7-.9-.9-1.8,.6z" fill="#e9e5e2" stroke="#222222"/><path d="M295.6,171.4l1.8-2-.9-.7-1.8,1.8z" fill="#bd9a9b" stroke="#222222"/><path d="M298.3,170.3l1.8-2.1-1-1.3-1.8,2.4z" fill="#c68f94" stroke="#222222"/><path d="M301.0,169.9l1.8-1.1-1-2-1.8,1.5z" fill="#f3bfc4" stroke="#2c1b1d"/><path d="M303.8,170.7l1.8-.6-1-1.9-1.8,.6z" fill="#f9dee1" stroke="#222222"/><path d="M306.6,171.6l1.8-.6-1-1.4-1.8,.6z" fill="#f5f4f4" stroke="#222222"/><path d="M309.4,171.9l1.8-.6-1-.9-1.8,.6z" fill="#f1eeed" stroke="#222222"/><path d="M280.4,170.4l1.8-.6-.9-1-1.7,.6z" fill="#eceae6" stroke="#222222"/><path d="M283.1,170.8l1.8-.6-.9-1-1.8,.6z" fill="#eceae6" stroke="#222222"/><path d="M285.7,171.2l1.8-.6-.9-1-1.8,.6z" fill="#eceae6" stroke="#222222"/><path d="M288.4,171.5l1.8-.6-.9-1-1.8,.6z" fill="#eceae6" stroke="#222222"/><path d="M291.1,171.9l1.8-.6-.9-.9-1.8,.6z" fill="#eceae6" stroke="#222222"/><path d="M293.8,172.2l1.8-.8-.9-.8-1.8,.7z" fill="#e5dedb" stroke="#222222"/><path d="M296.5,172.2l1.8-1.9-.9-.9-1.8,2z" fill="#c3a4a4" stroke="#222222"/><path d="M299.2,171.5l1.8-1.6-1-1.6-1.8,2.1z" fill="#e2bcc0" stroke="#222222"/><path d="M301.9,171.6l1.8-.8-1-2-1.8,1.1z" fill="#fae1e4" stroke="#222222"/><path d="M304.7,172.2l1.8-.6-1-1.5-1.8,.6z" fill="#f5f4f4" stroke="#222222"/><path d="M307.5,172.5l1.8-.6-1-.9-1.8,.6z" fill="#f1eeed" stroke="#222222"/><path d="M281.3,171.4l1.8-.6-.9-1-1.8,.6z" fill="#eceae6" stroke="#222222"/><path d="M283.9,171.8l1.8-.6-.9-1-1.8,.6z" fill="#eceae6" stroke="#222222"/><path d="M286.6,172.1l1.8-.6-.9-1-1.8,.6z" fill="#eceae6" stroke="#222222"/><path d="M289.3,172.5l1.8-.6-.9-1-1.8,.6z" fill="#eceae6" stroke="#222222"/><path d="M292.0,172.8l1.8-.6-.9-.9-1.8,.6z" fill="#eceae6" stroke="#222222"/><path d="M294.7,173.2l1.8-1-.9-.8-1.8,.8z" fill="#e1d8d5" stroke="#222222"/><path d="M297.4,173.1l1.8-1.6-.9-1.2-1.8,1.9z" fill="#d0b9b9" stroke="#222222"/><path d="M300.1,172.8l1.8-1.2-1-1.7-1.8,1.6z" fill="#efebea" stroke="#222222"/><path d="M302.9,172.9l1.8-.7-1-1.5-1.8,.8z" fill="#f5f4f3" stroke="#222222"/><path d="M305.7,173.1l1.8-.6-1-.9-1.8,.6z" fill="#f1eeed" stroke="#222222"/><path d="M282.2,172.4l1.8-.6-.9-1-1.8,.6z" fill="#eceae6" stroke="#222222"/><path d="M284.8,172.7l1.8-.6-.9-1-1.8,.6z" fill="#eceae6" stroke="#222222"/><path d="M287.5,173.1l1.8-.6-.9-1-1.8,.6z" fill="#eceae6" stroke="#222222"/><path d="M290.2,173.5l1.8-.6-.9-1-1.8,.6z" fill="#eceae6" stroke="#222222"/><path d="M292.9,173.8l1.8-.6-.9-.9-1.8,.6z" fill="#eceae6" stroke="#222222"/><path d="M295.6,174.1l1.8-1-.9-.9-1.8,1z" fill="#e1d7d4" stroke="#222222"/><path d="M298.3,174.1l1.8-1.3-.9-1.3-1.8,1.6z" fill="#ded1d0" stroke="#222222"/><path d="M301.1,173.9l1.8-1-.9-1.3-1.8,1.2z" fill="#f0edec" stroke="#222222"/><path d="M303.8,173.8l1.8-.7-.9-.9-1.8,.7z" fill="#eee9e8" stroke="#222222"/><path d="M283.0,173.4l1.8-.6-.9-1-1.8,.6z" fill="#eceae6" stroke="#222222"/><path d="M285.7,173.7l1.8-.6-.9-1-1.8,.6z" fill="#eceae6" stroke="#222222"/><path d="M288.4,174.1l1.8-.6-.9-1-1.8,.6z" fill="#eceae6" stroke="#222222"/><path d="M291.1,174.4l1.8-.6-.9-1-1.8,.6z" fill="#eceae6" stroke="#222222"/><path d="M293.8,174.7l1.8-.6-.9-.9-1.8,.6z" fill="#eceae6" stroke="#222222"/><path d="M296.5,175.1l1.8-1-.9-1-1.8,1z" fill="#e2dad7" stroke="#222222"/><path d="M299.2,175.0l1.8-1.1-.9-1.1-1.8,1.3z" fill="#e3d9d8" stroke="#222222"/><path d="M302.0,174.7l1.8-1-.9-.9-1.8,1z" fill="#e2d7d6" stroke="#222222"/><path d="M283.9,174.3l1.8-.6-.9-1-1.8,.6z" fill="#eceae6" stroke="#222222"/><path d="M286.6,174.7l1.8-.6-.9-1-1.8,.6z" fill="#eceae6" stroke="#222222"/><path d="M289.3,175.0l1.8-.6-.9-1-1.8,.6z" fill="#eceae6" stroke="#222222"/><path d="M292.0,175.4l1.8-.6-.9-1-1.8,.6z" fill="#eceae6" stroke="#222222"/><path d="M294.7,175.7l1.8-.6-.9-.9-1.8,.6z" fill="#ebe9e6" stroke="#222222"/><path d="M297.4,176.0l1.8-1-.9-1-1.8,1z" fill="#e3dbd8" stroke="#222222"/><path d="M300.2,175.9l1.8-1.1-.9-.8-1.8,1.1z" fill="#dccecc" stroke="#222222"/><path d="M284.8,175.3l1.8-.6-.9-1-1.8,.6z" fill="#eceae6" stroke="#222222"/><path d="M287.5,175.6l1.8-.6-.9-1-1.8,.6z" fill="#eceae6" stroke="#222222"/><path d="M290.2,176.0l1.8-.6-.9-1-1.8,.6z" fill="#eceae6" stroke="#222222"/><path d="M292.9,176.3l1.8-.6-.9-1-1.8,.6z" fill="#eceae6" stroke="#222222"/><path d="M295.6,176.6l1.8-.7-.9-.9-1.8,.6z" fill="#ebe8e4" stroke="#222222"/><path d="M298.3,176.9l1.8-1-.9-.8-1.8,1z" fill="#e0d5d3" stroke="#222222"/><path d="M285.7,176.3l1.8-.6-.9-1-1.8,.6z" fill="#eceae6" stroke="#222222"/><path d="M288.3,176.6l1.8-.6-.9-1-1.8,.6z" fill="#eceae6" stroke="#222222"/><path d="M291.0,177.0l1.8-.6-.9-1-1.8,.6z" fill="#eceae6" stroke="#222222"/><path d="M293.8,177.3l1.8-.6-.9-1-1.8,.6z" fill="#eceae6" stroke="#222222"/><path d="M296.5,177.6l1.8-.7-.9-.9-1.8,.7z" fill="#e9e6e2" stroke="#222222"/><path d="M286.5,177.2l1.8-.6-.9-1-1.8,.6z" fill="#eceae6" stroke="#222222"/><path d="M289.2,177.6l1.8-.6-.9-1-1.8,.6z" fill="#eceae6" stroke="#222222"/><path d="M291.9,177.9l1.8-.6-.9-1-1.8,.6z" fill="#eceae6" stroke="#222222"/><path d="M294.7,178.2l1.8-.6-.9-1-1.8,.6z" fill="#eceae6" stroke="#222222"/><path d="M287.4,178.2l1.8-.6-.9-1-1.8,.6z" fill="#eceae6" stroke="#222222"/><path d="M290.1,178.5l1.8-.6-.9-1-1.8,.6z" fill="#eceae6" stroke="#222222"/><path d="M292.8,178.9l1.8-.6-.9-1-1.8,.6z" fill="#eceae6" stroke="#222222"/><path d="M288.3,179.2l1.8-.6-.9-1-1.8,.6z" fill="#eceae6" stroke="#222222"/><path d="M291.0,179.5l1.8-.6-.9-1-1.8,.6z" fill="#eceae6" stroke="#222222"/><path d="M289.1,180.2l1.8-.6-.9-1-1.8,.6z" fill="#eceae6" stroke="#222222"/></g>
<text x="259.60" y="145.52" font-size="7.0" fill="#333" stroke="#333" stroke-width="0.2" textLength="6.80" lengthAdjust="spacingAndGlyphs">20</text>
<text x="264.15" y="161.27" font-size="7.0" fill="#333" stroke="#333" stroke-width="0.2" textLength="3.40" lengthAdjust="spacingAndGlyphs">0</text>
<text x="258.50" y="177.02" font-size="7.0" fill="#333" stroke="#333" stroke-width="0.2" textLength="10.20" lengthAdjust="spacingAndGlyphs">&#8722;20</text>
<text x="261.82" y="182.72" font-size="7.0" fill="#333" stroke="#333" stroke-width="0.2" textLength="9.75" lengthAdjust="spacingAndGlyphs">160</text>
<text x="269.10" y="188.12" font-size="7.0" fill="#333" stroke="#333" stroke-width="0.2" textLength="6.50" lengthAdjust="spacingAndGlyphs">80</text>
<text x="273.50" y="194.32" font-size="7.0" fill="#333" stroke="#333" stroke-width="0.2" textLength="6.50" lengthAdjust="spacingAndGlyphs">40</text>
<text x="278.80" y="200.52" font-size="7.0" fill="#333" stroke="#333" stroke-width="0.2" textLength="6.50" lengthAdjust="spacingAndGlyphs">20</text>
<text x="295.95" y="202.02" font-size="7.0" fill="#333" stroke="#333" stroke-width="0.2" textLength="7.00" lengthAdjust="spacingAndGlyphs">50</text>
<text x="303.65" y="199.02" font-size="7.0" fill="#333" stroke="#333" stroke-width="0.2" textLength="10.50" lengthAdjust="spacingAndGlyphs">100</text>
<text x="314.40" y="194.62" font-size="7.0" fill="#333" stroke="#333" stroke-width="0.2" textLength="10.50" lengthAdjust="spacingAndGlyphs">200</text>
<text x="323.85" y="190.12" font-size="7.0" fill="#333" stroke="#333" stroke-width="0.2" textLength="10.50" lengthAdjust="spacingAndGlyphs">400</text>
<g transform="translate(249.40,158.60) rotate(-90)"><text x="-13.35" y="2.84" font-size="7.9" fill="#2a2a2a" stroke="#2a2a2a" stroke-width="0.25" textLength="26.70" lengthAdjust="spacingAndGlyphs">&#948;&#8722;score</text></g>
<g transform="translate(261.60,197.70) rotate(46)"><text x="-13.50" y="3.02" font-size="8.4" fill="#2a2a2a" stroke="#2a2a2a" stroke-width="0.25" textLength="27.00" lengthAdjust="spacingAndGlyphs">BETi (nM)</text></g>
<g transform="translate(317.90,206.90) rotate(-25)"><text x="-16.65" y="3.10" font-size="8.6" fill="#2a2a2a" stroke="#2a2a2a" stroke-width="0.25" textLength="33.30" lengthAdjust="spacingAndGlyphs">p300i (nM)</text></g>
<rect x="275.40" y="131.80" width="50.20" height="2.20" fill="url(#cbar)"/>
<text x="270.50" y="128.22" font-size="7.0" fill="#333" stroke="#333" stroke-width="0.15" textLength="11.00" lengthAdjust="spacingAndGlyphs">&#8722;20</text>
<text x="298.80" y="128.22" font-size="7.0" fill="#333" stroke="#333" stroke-width="0.15" textLength="3.00" lengthAdjust="spacingAndGlyphs">0</text>
<text x="322.30" y="128.22" font-size="7.0" fill="#333" stroke="#333" stroke-width="0.15" textLength="6.90" lengthAdjust="spacingAndGlyphs">20</text>
<line x1="49.60" y1="286.10" x2="67.10" y2="307.90" stroke="#808080" stroke-width="0.6"/>
<line x1="67.10" y1="307.90" x2="101.60" y2="291.90" stroke="#808080" stroke-width="0.6"/>
<line x1="47.30" y1="254.60" x2="49.60" y2="286.10" stroke="#808080" stroke-width="0.6"/>
<line x1="104.30" y1="262.30" x2="101.60" y2="291.90" stroke="#808080" stroke-width="0.6"/>
<line x1="64.70" y1="271.00" x2="67.10" y2="307.90" stroke="#808080" stroke-width="0.6"/>
<line x1="47.30" y1="254.60" x2="81.60" y2="246.90" stroke="#808080" stroke-width="0.6"/>
<line x1="81.60" y1="246.90" x2="104.30" y2="262.30" stroke="#808080" stroke-width="0.6"/>
<line x1="47.30" y1="254.60" x2="64.70" y2="271.00" stroke="#808080" stroke-width="0.6"/>
<line x1="64.70" y1="271.00" x2="104.30" y2="262.30" stroke="#808080" stroke-width="0.6"/>
<line x1="49.60" y1="286.10" x2="82.60" y2="272.90" stroke="#999" stroke-width="0.5" stroke-dasharray="0.8 1.6"/>
<line x1="82.60" y1="272.90" x2="101.60" y2="291.90" stroke="#999" stroke-width="0.5" stroke-dasharray="0.8 1.6"/>
<line x1="81.60" y1="246.90" x2="82.60" y2="272.90" stroke="#999" stroke-width="0.5" stroke-dasharray="0.8 1.6"/>
<g stroke="#4a0810" stroke-width="0.5" stroke-opacity="0.48" stroke-linejoin="round"><path d="M81.1,251.6l1.7-.9-1.1-.8-1.7,.8z" fill="#be1c26"/><path d="M79.4,252.4l1.7-.8-1.1-.8-1.7,.8z" fill="#bf1c26"/><path d="M82.2,252.4l1.7-.9-1.1-.8-1.7,.9z" fill="#be1c26"/><path d="M77.7,253.2l1.7-.8-1.1-.8-1.7,.8z" fill="#bf1c26"/><path d="M80.5,253.2l1.7-.8-1.1-.8-1.7,.8z" fill="#bf1c26"/><path d="M83.3,253.2l1.7-.9-1.1-.8-1.7,.9z" fill="#be1c26"/><path d="M76.0,254.0l1.7-.8-1.1-.8-1.7,.8z" fill="#c01b26"/><path d="M78.8,254.0l1.7-.8-1.1-.8-1.7,.8z" fill="#bf1c26"/><path d="M81.6,254.0l1.7-.8-1.1-.8-1.7,.8z" fill="#bf1c26"/><path d="M84.4,254.0l1.8-.9-1.1-.8-1.7,.9z" fill="#be1c26"/><path d="M74.3,254.8l1.7-.8-1.1-.8-1.7,.8z" fill="#c11b26"/><path d="M77.1,254.9l1.7-.8-1.1-.8-1.7,.8z" fill="#c01b26"/><path d="M79.9,254.9l1.7-.8-1.1-.8-1.7,.8z" fill="#bf1c26"/><path d="M82.7,254.8l1.7-.9-1.1-.8-1.7,.8z" fill="#bf1c26"/><path d="M85.5,254.8l1.8-.9-1.1-.8-1.8,.9z" fill="#be1c26"/><path d="M72.6,255.6l1.7-.8-1-.8-1.7,.8z" fill="#c11b26"/><path d="M75.4,255.7l1.7-.8-1.1-.8-1.7,.8z" fill="#c11b26"/><path d="M78.1,255.7l1.7-.8-1.1-.8-1.7,.8z" fill="#c01b26"/><path d="M80.9,255.7l1.7-.8-1.1-.8-1.7,.8z" fill="#bf1c26"/><path d="M83.8,255.6l1.8-.9-1.1-.8-1.7,.9z" fill="#bf1c26"/><path d="M86.6,255.6l1.8-.9-1.1-.8-1.8,.9z" fill="#be1c26"/><path d="M70.9,256.4l1.7-.8-1-.8-1.7,.8z" fill="#c21b26"/><path d="M73.6,256.4l1.7-.8-1-.8-1.7,.8z" fill="#c11b26"/><path d="M76.4,256.5l1.7-.8-1.1-.8-1.7,.8z" fill="#c11b26"/><path d="M79.2,256.5l1.7-.8-1.1-.8-1.7,.8z" fill="#c01b26"/><path d="M82.0,256.5l1.8-.8-1.1-.8-1.7,.8z" fill="#bf1c26"/><path d="M84.8,256.4l1.8-.9-1.1-.8-1.8,.9z" fill="#bf1c26"/><path d="M87.7,256.4l1.8-.9-1.1-.8-1.8,.9z" fill="#be1c26"/><path d="M69.2,257.1l1.7-.7-1-.8-1.7,.7z" fill="#c21b26"/><path d="M71.9,257.2l1.7-.8-1-.8-1.7,.8z" fill="#c21b26"/><path d="M74.7,257.3l1.7-.8-1-.8-1.7,.8z" fill="#c11b26"/><path d="M77.4,257.3l1.7-.8-1.1-.8-1.7,.8z" fill="#c11b26"/><path d="M80.2,257.3l1.8-.8-1.1-.8-1.7,.8z" fill="#c01b26"/><path d="M83.1,257.3l1.8-.9-1.1-.8-1.8,.8z" fill="#bf1c26"/><path d="M85.9,257.2l1.8-.9-1.1-.8-1.8,.9z" fill="#bf1c26"/><path d="M88.8,257.2l1.8-.9-1.1-.8-1.8,.9z" fill="#be1c26"/><path d="M67.5,257.8l1.7-.7-1-.8-1.7,.7z" fill="#c31b26"/><path d="M70.2,258.0l1.7-.7-1-.8-1.7,.7z" fill="#c21b26"/><path d="M73.0,258.0l1.7-.8-1-.8-1.7,.8z" fill="#c21b26"/><path d="M75.7,258.1l1.7-.8-1-.8-1.7,.8z" fill="#c11b26"/><path d="M78.5,258.1l1.8-.8-1.1-.8-1.7,.8z" fill="#c11b26"/><path d="M81.3,258.1l1.8-.8-1.1-.8-1.8,.8z" fill="#c01b26"/><path d="M84.1,258.1l1.8-.9-1.1-.8-1.8,.9z" fill="#bf1c26"/><path d="M87.0,258.0l1.8-.9-1.1-.8-1.8,.9z" fill="#bf1c26"/><path d="M89.9,258.0l1.8-.9-1.1-.8-1.8,.9z" fill="#be1c26"/><path d="M65.8,258.5l1.7-.7-1-.8-1.7,.7z" fill="#c41b26"/><path d="M68.5,258.7l1.7-.7-1-.8-1.7,.7z" fill="#c31b26"/><path d="M71.2,258.8l1.7-.8-1-.8-1.7,.7z" fill="#c21b26"/><path d="M74.0,258.9l1.7-.8-1-.8-1.7,.8z" fill="#c21b26"/><path d="M76.7,258.9l1.8-.8-1-.8-1.7,.8z" fill="#c11b26"/><path d="M79.5,258.9l1.8-.8-1.1-.8-1.8,.8z" fill="#c11b26"/><path d="M82.4,258.9l1.8-.8-1.1-.8-1.8,.8z" fill="#c01b26"/><path d="M85.2,258.9l1.8-.9-1.1-.8-1.8,.9z" fill="#bf1c26"/><path d="M88.1,258.8l1.8-.9-1.1-.8-1.8,.9z" fill="#bf1c26"/><path d="M91.0,258.7l1.8-.9-1.1-.8-1.8,.9z" fill="#be1c26"/><path d="M64.1,259.2l1.7-.7-1-.8-1.7,.7z" fill="#c51f2a"/><path d="M66.8,259.4l1.7-.7-1-.8-1.7,.7z" fill="#c41b26"/><path d="M69.5,259.5l1.7-.7-1-.8-1.7,.7z" fill="#c31b26"/><path d="M72.2,259.6l1.7-.8-1-.8-1.7,.8z" fill="#c21b26"/><path d="M75.0,259.7l1.7-.8-1-.8-1.7,.8z" fill="#c21b26"/><path d="M77.8,259.7l1.8-.8-1-.8-1.8,.8z" fill="#c11b26"/><path d="M80.6,259.8l1.8-.8-1.1-.8-1.8,.8z" fill="#c11b26"/><path d="M83.4,259.7l1.8-.9-1.1-.8-1.8,.8z" fill="#c01b26"/><path d="M86.3,259.7l1.8-.9-1.1-.8-1.8,.9z" fill="#bf1c26"/><path d="M89.2,259.6l1.8-.9-1.1-.8-1.8,.9z" fill="#bf1c26"/><path d="M92.1,259.5l1.9-.9-1.1-.8-1.8,.9z" fill="#be1c26"/><path d="M62.4,259.9l1.7-.7-1-.9-1.7,.7z" fill="#c7232e"/><path d="M65.1,260.1l1.7-.7-1-.8-1.7,.7z" fill="#c51f2a"/><path d="M67.8,260.2l1.7-.7-1-.8-1.7,.7z" fill="#c41b26"/><path d="M70.5,260.4l1.7-.7-1-.8-1.7,.7z" fill="#c31b26"/><path d="M73.2,260.5l1.7-.8-1-.8-1.7,.8z" fill="#c21b26"/><path d="M76.0,260.5l1.8-.8-1-.8-1.7,.8z" fill="#c21b26"/><path d="M78.8,260.6l1.8-.8-1-.8-1.8,.8z" fill="#c11b26"/><path d="M81.6,260.6l1.8-.8-1.1-.8-1.8,.8z" fill="#c11b26"/><path d="M84.5,260.6l1.8-.9-1.1-.8-1.8,.9z" fill="#c01b26"/><path d="M87.3,260.5l1.8-.9-1.1-.8-1.8,.9z" fill="#bf1c26"/><path d="M90.3,260.4l1.8-.9-1.1-.8-1.8,.9z" fill="#bf1c26"/><path d="M93.2,260.3l1.9-.9-1.1-.8-1.9,.9z" fill="#be1c26"/><path d="M60.7,260.5l1.7-.6-1-.9-1.7,.6z" fill="#c82732"/><path d="M63.4,260.8l1.7-.7-1-.9-1.7,.7z" fill="#c7232e"/><path d="M66.1,260.9l1.7-.7-1-.8-1.7,.7z" fill="#c51f2a"/><path d="M68.8,261.1l1.7-.7-1-.8-1.7,.7z" fill="#c41b26"/><path d="M71.5,261.2l1.7-.7-1-.8-1.7,.7z" fill="#c31b26"/><path d="M74.2,261.3l1.8-.8-1-.8-1.7,.8z" fill="#c21b26"/><path d="M77.0,261.4l1.8-.8-1-.8-1.8,.8z" fill="#c21b26"/><path d="M79.8,261.4l1.8-.8-1-.8-1.8,.8z" fill="#c11b26"/><path d="M82.7,261.4l1.8-.8-1.1-.8-1.8,.8z" fill="#c11b26"/><path d="M85.5,261.4l1.8-.9-1.1-.8-1.8,.9z" fill="#c01b26"/><path d="M88.4,261.3l1.8-.9-1.1-.8-1.8,.9z" fill="#bf1c26"/><path d="M91.3,261.2l1.9-.9-1.1-.8-1.8,.9z" fill="#bf1c26"/><path d="M94.3,261.1l1.9-.9-1.1-.8-1.9,.9z" fill="#be1c26"/><path d="M59.0,261.2l1.7-.6-.9-.9-1.7,.6z" fill="#ca2a35"/><path d="M61.7,261.4l1.7-.7-1-.9-1.7,.6z" fill="#c82732"/><path d="M64.4,261.6l1.7-.7-1-.9-1.7,.7z" fill="#c7232e"/><path d="M67.0,261.8l1.7-.7-1-.8-1.7,.7z" fill="#c51f2a"/><path d="M69.8,261.9l1.7-.7-1-.8-1.7,.7z" fill="#c41b26"/><path d="M72.5,262.1l1.8-.8-1-.8-1.7,.7z" fill="#c31b26"/><path d="M75.3,262.1l1.8-.8-1-.8-1.8,.8z" fill="#c21b26"/><path d="M78.0,262.2l1.8-.8-1-.8-1.8,.8z" fill="#c21b26"/><path d="M80.9,262.2l1.8-.8-1-.8-1.8,.8z" fill="#c11b26"/><path d="M83.7,262.2l1.8-.8-1.1-.8-1.8,.8z" fill="#c11b26"/><path d="M86.6,262.2l1.8-.9-1.1-.8-1.8,.9z" fill="#c01b26"/><path d="M89.5,262.1l1.9-.9-1.1-.8-1.8,.9z" fill="#bf1c26"/><path d="M92.4,262.0l1.9-.9-1.1-.8-1.9,.9z" fill="#bf1c26"/><path d="M95.4,261.9l1.9-.9-1.1-.8-1.9,.9z" fill="#be1c26"/><path d="M57.4,262.4l1.7-1.2-.9-.9-1.6,1.2z" fill="#bc303a"/><path d="M60.0,262.0l1.7-.6-.9-.9-1.7,.6z" fill="#ca2a35"/><path d="M62.6,262.3l1.7-.7-1-.9-1.7,.7z" fill="#c82732"/><path d="M65.3,262.5l1.7-.7-1-.9-1.7,.7z" fill="#c7232e"/><path d="M68.0,262.7l1.7-.7-1-.8-1.7,.7z" fill="#c51f2a"/><path d="M70.7,262.8l1.8-.7-1-.8-1.7,.7z" fill="#c41b26"/><path d="M73.5,262.9l1.8-.8-1-.8-1.8,.8z" fill="#c31b26"/><path d="M76.3,263.0l1.8-.8-1-.8-1.8,.8z" fill="#c21b26"/><path d="M79.1,263.0l1.8-.8-1-.8-1.8,.8z" fill="#c21b26"/><path d="M81.9,263.1l1.8-.8-1-.8-1.8,.8z" fill="#c11b26"/><path d="M84.7,263.0l1.8-.9-1.1-.8-1.8,.8z" fill="#c11b26"/><path d="M87.6,263.0l1.9-.9-1.1-.8-1.8,.9z" fill="#c01b26"/><path d="M90.6,262.9l1.9-.9-1.1-.8-1.9,.9z" fill="#bf1c26"/><path d="M93.5,262.9l1.9-.9-1.1-.8-1.9,.9z" fill="#bf1c26"/><path d="M96.5,263.6l1.9-.9-1.1-1.7-1.9,.9z" fill="#d33b45"/><path d="M55.8,264.5l1.6-2.1-.9-.9-1.6,2.1z" fill="#ab3b42"/><path d="M58.3,263.3l1.7-1.2-.9-.9-1.7,1.2z" fill="#bc303a"/><path d="M60.9,262.9l1.7-.6-.9-.9-1.7,.6z" fill="#ca2a35"/><path d="M63.6,263.1l1.7-.7-1-.9-1.7,.7z" fill="#c82732"/><path d="M66.3,263.3l1.7-.7-1-.9-1.7,.7z" fill="#c7232e"/><path d="M69.0,263.5l1.8-.7-1-.8-1.7,.7z" fill="#c51f2a"/><path d="M71.7,263.6l1.8-.7-1-.8-1.8,.7z" fill="#c41b26"/><path d="M74.5,263.7l1.8-.8-1-.8-1.8,.8z" fill="#c31b26"/><path d="M77.3,263.8l1.8-.8-1-.8-1.8,.8z" fill="#c21b26"/><path d="M80.1,263.9l1.8-.8-1-.8-1.8,.8z" fill="#c21b26"/><path d="M82.9,263.9l1.8-.8-1-.8-1.8,.8z" fill="#c11b26"/><path d="M85.8,263.9l1.8-.9-1.1-.8-1.8,.9z" fill="#c11b26"/><path d="M88.7,263.8l1.9-.9-1.1-.8-1.9,.9z" fill="#c01b26"/><path d="M91.6,263.8l1.9-.9-1.1-.8-1.9,.9z" fill="#bf1c26"/><path d="M94.6,264.5l1.9-.9-1-1.7-1.9,.9z" fill="#d33b45"/><path d="M97.4,266.7l1.9-.9-1-3.1-1.9,.9z" fill="#d74e58"/><path d="M54.2,267.1l1.6-2.6-.9-.9-1.6,2.5z" fill="#a84b51" stroke="#400e14"/><path d="M56.7,265.4l1.6-2.1-.9-.9-1.6,2.1z" fill="#ab3b42"/><path d="M59.2,264.2l1.7-1.2-.9-.9-1.7,1.2z" fill="#bc303a"/><path d="M61.8,263.8l1.7-.6-.9-.9-1.7,.6z" fill="#ca2a35"/><path d="M64.5,264.0l1.7-.7-1-.9-1.7,.7z" fill="#c82732"/><path d="M67.2,264.2l1.8-.7-1-.9-1.7,.7z" fill="#c7232e"/><path d="M69.9,264.4l1.8-.7-1-.8-1.8,.7z" fill="#c51f2a"/><path d="M72.7,264.5l1.8-.7-1-.8-1.8,.7z" fill="#c41b26"/><path d="M75.5,264.6l1.8-.8-1-.8-1.8,.8z" fill="#c31b26"/><path d="M78.3,264.7l1.8-.8-1-.8-1.8,.8z" fill="#c21b26"/><path d="M81.1,264.7l1.8-.8-1-.8-1.8,.8z" fill="#c21b26"/><path d="M83.9,264.7l1.8-.8-1-.8-1.8,.8z" fill="#c11b26"/><path d="M86.8,264.7l1.9-.9-1.1-.8-1.8,.9z" fill="#c11b26"/><path d="M89.7,264.6l1.9-.9-1.1-.8-1.9,.9z" fill="#c01b26"/><path d="M92.7,265.4l1.9-.9-1-1.7-1.9,.9z" fill="#d33b45"/><path d="M95.5,267.5l1.9-.8-1-3.1-1.9,.9z" fill="#d74f58"/><path d="M98.3,270.5l1.9-.8-.9-3.8-1.9,.9z" fill="#dc656d"/><path d="M52.7,269.6l1.6-2.6-.9-.9-1.5,2.5z" fill="#af6368" stroke="#2c1b1d"/><path d="M55.1,268.0l1.6-2.6-.9-.9-1.6,2.6z" fill="#a84b51" stroke="#400e14"/><path d="M57.6,266.3l1.6-2.2-.9-.9-1.6,2.1z" fill="#ab3b42"/><path d="M60.1,265.0l1.7-1.3-.9-.9-1.7,1.2z" fill="#bc303a"/><path d="M62.8,264.7l1.7-.6-.9-.9-1.7,.6z" fill="#ca2a35"/><path d="M65.5,264.9l1.8-.7-1-.9-1.7,.7z" fill="#c82732"/><path d="M68.2,265.1l1.8-.7-1-.9-1.8,.7z" fill="#c7232e"/><path d="M70.9,265.2l1.8-.7-1-.8-1.8,.7z" fill="#c51f2a"/><path d="M73.7,265.3l1.8-.8-1-.8-1.8,.7z" fill="#c41b26"/><path d="M76.5,265.4l1.8-.8-1-.8-1.8,.8z" fill="#c31b26"/><path d="M79.3,265.5l1.8-.8-1-.8-1.8,.8z" fill="#c21b26"/><path d="M82.1,265.5l1.8-.8-1-.8-1.8,.8z" fill="#c21b26"/><path d="M85.0,265.5l1.9-.8-1-.8-1.8,.8z" fill="#c11b26"/><path d="M87.9,265.5l1.9-.9-1.1-.8-1.9,.9z" fill="#c11b26"/><path d="M90.8,266.3l1.9-.9-1-1.7-1.9,.9z" fill="#d33b45"/><path d="M93.6,268.4l1.9-.8-1-3-1.9,.9z" fill="#d75059"/><path d="M96.4,271.2l1.9-.8-.9-3.8-1.9,.8z" fill="#dd6a73"/><path d="M99.2,274.3l1.9-.7-.8-3.9-1.9,.8z" fill="#e9999f" stroke="#400e14"/><path d="M51.1,271.7l1.6-2.1-.9-.9-1.6,2.1z" fill="#be9a9c" stroke="#222222"/><path d="M53.6,270.6l1.6-2.6-.9-.9-1.6,2.6z" fill="#af6368" stroke="#2c1b1d"/><path d="M56.0,268.9l1.6-2.6-.9-.9-1.6,2.6z" fill="#a84b51" stroke="#400e14"/><path d="M58.5,267.2l1.6-2.2-.9-.9-1.6,2.2z" fill="#ab3b42"/><path d="M61.1,265.9l1.7-1.3-.9-.9-1.7,1.3z" fill="#bc303a"/><path d="M63.7,265.5l1.8-.6-.9-.9-1.7,.6z" fill="#ca2a35"/><path d="M66.4,265.7l1.8-.7-1-.9-1.8,.7z" fill="#c82732"/><path d="M69.1,265.9l1.8-.7-1-.9-1.8,.7z" fill="#c7232e"/><path d="M71.9,266.1l1.8-.7-1-.8-1.8,.7z" fill="#c51f2a"/><path d="M74.7,266.2l1.8-.8-1-.8-1.8,.8z" fill="#c41b26"/><path d="M77.5,266.3l1.8-.8-1-.8-1.8,.8z" fill="#c31b26"/><path d="M80.3,266.3l1.8-.8-1-.8-1.8,.8z" fill="#c21b26"/><path d="M83.1,266.4l1.9-.8-1-.8-1.8,.8z" fill="#c21b26"/><path d="M86.0,266.4l1.9-.9-1-.8-1.9,.8z" fill="#c11b26"/><path d="M88.9,267.1l1.9-.9-1-1.6-1.9,.9z" fill="#d33b46"/><path d="M91.8,269.2l1.9-.8-1-3-1.9,.9z" fill="#d7515a"/><path d="M94.6,272.0l1.9-.8-.9-3.7-1.9,.8z" fill="#df7077"/><path d="M97.3,275.0l1.9-.7-.9-3.8-1.9,.8z" fill="#e99da3" stroke="#400e14"/><path d="M100.0,277.4l1.8-.7-.9-3.2-1.9,.7z" fill="#f6d3d7" stroke="#2c1b1d"/><path d="M49.4,272.9l1.6-1.2-.9-1-1.6,1.2z" fill="#dacbca" stroke="#222222"/><path d="M52.0,272.7l1.6-2.1-.9-.9-1.6,2.1z" fill="#be9a9c" stroke="#222222"/><path d="M54.4,271.5l1.6-2.6-.9-.9-1.6,2.6z" fill="#af6368" stroke="#2c1b1d"/><path d="M56.9,269.8l1.6-2.6-.9-.9-1.6,2.6z" fill="#a84b51" stroke="#400e14"/><path d="M59.4,268.1l1.6-2.2-.9-.9-1.6,2.2z" fill="#ab3b42"/><path d="M62.0,266.8l1.7-1.3-.9-.9-1.7,1.3z" fill="#bc303a"/><path d="M64.7,266.4l1.8-.7-.9-.9-1.8,.6z" fill="#ca2a35"/><path d="M67.4,266.6l1.8-.7-1-.9-1.8,.7z" fill="#c82732"/><path d="M70.1,266.8l1.8-.7-1-.9-1.8,.7z" fill="#c7232e"/><path d="M72.9,266.9l1.8-.7-1-.8-1.8,.7z" fill="#c51f2a"/><path d="M75.6,267.0l1.8-.8-1-.8-1.8,.8z" fill="#c41b26"/><path d="M78.4,267.1l1.8-.8-1-.8-1.8,.8z" fill="#c31b26"/><path d="M81.3,267.2l1.8-.8-1-.8-1.8,.8z" fill="#c21b26"/><path d="M84.1,267.2l1.9-.8-1-.8-1.9,.8z" fill="#c21b26"/><path d="M87.0,268.0l1.9-.8-1-1.6-1.9,.9z" fill="#d33c46"/><path d="M89.9,270.0l1.9-.8-1-2.9-1.9,.9z" fill="#d8555e"/><path d="M92.7,272.8l1.9-.8-.9-3.6-1.9,.8z" fill="#e0747c"/><path d="M95.4,275.7l1.9-.7-.9-3.7-1.9,.8z" fill="#eaa1a6" stroke="#361519"/><path d="M98.2,278.1l1.8-.7-.9-3.2-1.9,.7z" fill="#f7d5d9" stroke="#222222"/><path d="M101.0,279.2l1.8-.6-1-1.8-1.8,.7z" fill="#f5f4f3" stroke="#222222"/><path d="M50.3,273.9l1.7-1.2-.9-1-1.6,1.2z" fill="#dacbca" stroke="#222222"/><path d="M52.8,273.6l1.6-2.1-.9-.9-1.6,2.1z" fill="#be9a9c" stroke="#222222"/><path d="M55.3,272.5l1.6-2.6-.9-.9-1.6,2.6z" fill="#af6368" stroke="#2c1b1d"/><path d="M57.8,270.8l1.6-2.7-.9-.9-1.6,2.6z" fill="#a84b51" stroke="#400e14"/><path d="M60.3,269.0l1.7-2.2-.9-.9-1.6,2.2z" fill="#ab3b42"/><path d="M62.9,267.7l1.7-1.3-.9-.9-1.7,1.3z" fill="#bc303a"/><path d="M65.6,267.3l1.8-.7-.9-.9-1.8,.7z" fill="#ca2a35"/><path d="M68.3,267.5l1.8-.7-1-.9-1.8,.7z" fill="#c82732"/><path d="M71.1,267.6l1.8-.7-1-.9-1.8,.7z" fill="#c7232e"/><path d="M73.8,267.8l1.8-.7-1-.8-1.8,.7z" fill="#c51f2a"/><path d="M76.6,267.9l1.8-.8-1-.8-1.8,.8z" fill="#c41b26"/><path d="M79.4,268.0l1.8-.8-1-.8-1.8,.8z" fill="#c31b26"/><path d="M82.3,268.0l1.9-.8-1-.8-1.8,.8z" fill="#c21b26"/><path d="M85.2,268.8l1.9-.8-1-1.6-1.9,.8z" fill="#d33c46"/><path d="M88.0,270.8l1.9-.8-1-2.9-1.9,.8z" fill="#d95a63"/><path d="M90.8,273.5l1.9-.8-.9-3.6-1.9,.8z" fill="#e17980"/><path d="M93.6,276.4l1.9-.7-.9-3.7-1.9,.8z" fill="#eba4aa" stroke="#361519"/><path d="M96.3,278.7l1.8-.7-.9-3.1-1.9,.7z" fill="#f7d8db" stroke="#222222"/><path d="M99.1,279.9l1.8-.6-1-1.8-1.8,.7z" fill="#f5f4f3" stroke="#222222"/><path d="M51.2,274.8l1.7-1.2-.9-1-1.7,1.2z" fill="#dacbca" stroke="#222222"/><path d="M53.7,274.6l1.6-2.1-.9-.9-1.6,2.1z" fill="#be9a9c" stroke="#222222"/><path d="M56.2,273.4l1.6-2.6-.9-.9-1.6,2.6z" fill="#af6368" stroke="#2c1b1d"/><path d="M58.7,271.7l1.6-2.7-.9-.9-1.6,2.7z" fill="#a84b51" stroke="#400e14"/><path d="M61.2,269.9l1.7-2.2-.9-.9-1.7,2.2z" fill="#ab3b42"/><path d="M63.8,268.6l1.7-1.3-.9-.9-1.7,1.3z" fill="#bc303a"/><path d="M66.5,268.1l1.8-.7-.9-.9-1.8,.7z" fill="#ca2a35"/><path d="M69.3,268.3l1.8-.7-1-.9-1.8,.7z" fill="#c82732"/><path d="M72.0,268.5l1.8-.7-1-.9-1.8,.7z" fill="#c7232e"/><path d="M74.8,268.6l1.8-.7-1-.8-1.8,.7z" fill="#c51f2a"/><path d="M77.6,268.7l1.8-.8-1-.8-1.8,.8z" fill="#c41b26"/><path d="M80.4,268.8l1.9-.8-1-.8-1.8,.8z" fill="#c31b26"/><path d="M83.3,269.6l1.9-.8-1-1.6-1.9,.8z" fill="#d33c46"/><path d="M86.1,271.6l1.9-.8-1-2.8-1.9,.8z" fill="#db5f68"/><path d="M89.0,274.3l1.9-.7-.9-3.5-1.9,.8z" fill="#e27d85"/><path d="M91.7,277.1l1.9-.7-.9-3.6-1.9,.8z" fill="#eca7ad" stroke="#361519"/><path d="M94.5,279.4l1.8-.7-.9-3.1-1.9,.7z" fill="#f8dadd" stroke="#222222"/><path d="M97.3,280.5l1.8-.6-1-1.8-1.8,.7z" fill="#f5f4f3" stroke="#222222"/><path d="M52.1,275.8l1.7-1.2-.9-1-1.7,1.2z" fill="#dacbca" stroke="#222222"/><path d="M54.6,275.6l1.6-2.2-.9-.9-1.6,2.1z" fill="#be9a9c" stroke="#222222"/><path d="M57.1,274.3l1.6-2.7-.9-.9-1.6,2.6z" fill="#af6368" stroke="#2c1b1d"/><path d="M59.6,272.6l1.6-2.7-.9-.9-1.6,2.7z" fill="#a84b51" stroke="#400e14"/><path d="M62.2,270.8l1.7-2.2-.9-.9-1.7,2.2z" fill="#ab3b42"/><path d="M64.8,269.4l1.8-1.3-.9-.9-1.7,1.3z" fill="#bc303a"/><path d="M67.5,269.0l1.8-.7-.9-.9-1.8,.7z" fill="#ca2a35"/><path d="M70.2,269.2l1.8-.7-1-.9-1.8,.7z" fill="#c82732"/><path d="M73.0,269.4l1.8-.7-1-.9-1.8,.7z" fill="#c7232e"/><path d="M75.8,269.5l1.8-.8-1-.8-1.8,.7z" fill="#c51f2a"/><path d="M78.6,269.6l1.9-.8-1-.8-1.8,.8z" fill="#c41b26"/><path d="M81.4,270.4l1.9-.8-1-1.6-1.9,.8z" fill="#d33e48"/><path d="M84.3,272.4l1.9-.8-1-2.8-1.9,.8z" fill="#dc646c"/><path d="M87.1,275.0l1.9-.7-1-3.5-1.9,.8z" fill="#e38188"/><path d="M89.9,277.8l1.8-.7-.9-3.5-1.9,.7z" fill="#edaab0" stroke="#361519"/><path d="M92.7,280.0l1.8-.7-.9-3-1.9,.7z" fill="#f8dcdf" stroke="#222222"/><path d="M95.5,281.1l1.8-.6-1-1.8-1.8,.7z" fill="#f5f4f2" stroke="#222222"/><path d="M52.9,276.8l1.7-1.2-.9-1-1.7,1.2z" fill="#dacbca" stroke="#222222"/><path d="M55.5,276.5l1.6-2.2-.9-.9-1.6,2.2z" fill="#be9a9c" stroke="#222222"/><path d="M58.0,275.3l1.6-2.7-.9-.9-1.6,2.7z" fill="#af6368" stroke="#2c1b1d"/><path d="M60.5,273.5l1.6-2.7-.9-.9-1.6,2.7z" fill="#a84b51" stroke="#400e14"/><path d="M63.1,271.7l1.7-2.3-.9-.9-1.7,2.2z" fill="#ab3b42"/><path d="M65.7,270.3l1.8-1.3-.9-.9-1.8,1.3z" fill="#bc303a"/><path d="M68.4,269.9l1.8-.7-.9-.9-1.8,.7z" fill="#ca2a35"/><path d="M71.1,270.1l1.8-.7-1-.9-1.8,.7z" fill="#c82732"/><path d="M73.9,270.2l1.8-.7-1-.9-1.8,.7z" fill="#c7232e"/><path d="M76.7,270.3l1.8-.8-1-.8-1.8,.8z" fill="#c51f2a"/><path d="M79.6,271.2l1.9-.8-1-1.6-1.9,.8z" fill="#d4434d"/><path d="M82.4,273.1l1.9-.8-1-2.8-1.9,.8z" fill="#dd6870"/><path d="M85.2,275.7l1.9-.7-1-3.4-1.9,.8z" fill="#e4858c"/><path d="M88.0,278.4l1.8-.7-.9-3.5-1.9,.7z" fill="#edadb2" stroke="#361519"/><path d="M90.8,280.7l1.8-.6-.9-3-1.8,.7z" fill="#f9dee1" stroke="#222222"/><path d="M93.6,281.8l1.8-.6-1-1.7-1.8,.7z" fill="#f4f4f2" stroke="#222222"/><path d="M53.8,277.7l1.7-1.2-.9-1-1.7,1.2z" fill="#dacbca" stroke="#222222"/><path d="M56.4,277.5l1.6-2.2-.9-.9-1.6,2.2z" fill="#be9a9c" stroke="#222222"/><path d="M58.9,276.2l1.6-2.7-.9-.9-1.6,2.7z" fill="#af6368" stroke="#2c1b1d"/><path d="M61.4,274.4l1.7-2.7-.9-.9-1.6,2.7z" fill="#a84b51" stroke="#400e14"/><path d="M64.0,272.6l1.7-2.3-.9-.9-1.7,2.3z" fill="#ab3b42"/><path d="M66.6,271.2l1.8-1.3-.9-.9-1.8,1.3z" fill="#bc303a"/><path d="M69.3,270.7l1.8-.7-.9-.9-1.8,.7z" fill="#ca2a35"/><path d="M72.1,270.9l1.8-.7-1-.9-1.8,.7z" fill="#c82732"/><path d="M74.9,271.1l1.8-.7-1-.9-1.8,.7z" fill="#c7232e"/><path d="M77.7,271.9l1.9-.8-1-1.6-1.8,.8z" fill="#d54751"/><path d="M80.6,273.9l1.9-.7-1-2.7-1.9,.8z" fill="#de6c74"/><path d="M83.4,276.5l1.9-.7-1-3.4-1.9,.8z" fill="#e5898f"/><path d="M86.2,279.1l1.8-.7-.9-3.4-1.9,.7z" fill="#eeb0b5" stroke="#361519"/><path d="M89.0,281.3l1.8-.6-.9-2.9-1.8,.7z" fill="#f9e0e3" stroke="#222222"/><path d="M91.8,282.4l1.8-.6-1-1.7-1.8,.6z" fill="#f4f4f2" stroke="#222222"/><path d="M54.7,278.7l1.7-1.2-.9-1-1.7,1.2z" fill="#dacbca" stroke="#222222"/><path d="M57.2,278.4l1.6-2.2-.9-.9-1.6,2.2z" fill="#be9a9c" stroke="#222222"/><path d="M59.8,277.2l1.6-2.7-.9-.9-1.6,2.7z" fill="#af6368" stroke="#2c1b1d"/><path d="M62.3,275.4l1.7-2.8-.9-.9-1.7,2.7z" fill="#a84b51" stroke="#400e14"/><path d="M64.9,273.5l1.7-2.3-.9-.9-1.7,2.3z" fill="#ab3b42"/><path d="M67.5,272.1l1.8-1.3-.9-.9-1.8,1.3z" fill="#bc303a"/><path d="M70.3,271.6l1.8-.7-.9-.9-1.8,.7z" fill="#ca2a35"/><path d="M73.0,271.8l1.8-.7-1-.9-1.8,.7z" fill="#c82732"/><path d="M75.9,272.7l1.9-.7-1-1.6-1.8,.7z" fill="#d64b55"/><path d="M78.7,274.6l1.9-.7-1-2.7-1.9,.8z" fill="#df7078"/><path d="M81.5,277.2l1.9-.7-1-3.3-1.9,.7z" fill="#e58c93" stroke="#400e14"/><path d="M84.4,279.8l1.8-.7-1-3.4-1.9,.7z" fill="#eeb2b7" stroke="#361519"/><path d="M87.1,282.0l1.8-.6-.9-2.9-1.8,.7z" fill="#fae2e5" stroke="#222222"/><path d="M89.9,283.0l1.8-.6-1-1.7-1.8,.6z" fill="#f4f4f2" stroke="#222222"/><path d="M55.5,279.7l1.7-1.2-.9-1-1.7,1.2z" fill="#dacbca" stroke="#222222"/><path d="M58.1,279.4l1.7-2.2-.9-.9-1.6,2.2z" fill="#be9a9c" stroke="#222222"/><path d="M60.7,278.1l1.6-2.7-.9-.9-1.6,2.7z" fill="#af6368" stroke="#2c1b1d"/><path d="M63.2,276.3l1.7-2.8-.9-.9-1.7,2.8z" fill="#a84b51" stroke="#400e14"/><path d="M65.8,274.4l1.7-2.3-.9-.9-1.7,2.3z" fill="#ab3b42"/><path d="M68.5,273.0l1.8-1.3-.9-.9-1.8,1.3z" fill="#bc303a"/><path d="M71.2,272.5l1.8-.7-.9-.9-1.8,.7z" fill="#ca2a35"/><path d="M74.0,273.4l1.9-.7-1-1.6-1.8,.7z" fill="#d74f58"/><path d="M76.9,275.3l1.9-.7-1-2.7-1.9,.7z" fill="#df737b"/><path d="M79.7,277.9l1.8-.7-1-3.3-1.9,.7z" fill="#e68f95" stroke="#400e14"/><path d="M82.5,280.5l1.8-.7-1-3.4-1.9,.7z" fill="#efb4b9" stroke="#361519"/><path d="M85.3,282.6l1.8-.6-.9-2.8-1.8,.7z" fill="#fae3e6" stroke="#222222"/><path d="M88.1,283.7l1.8-.6-1-1.7-1.8,.6z" fill="#f4f4f2" stroke="#222222"/><path d="M56.4,280.6l1.7-1.2-.9-1-1.7,1.2z" fill="#dacbca" stroke="#222222"/><path d="M59.0,280.4l1.7-2.3-.9-.9-1.7,2.2z" fill="#be9a9c" stroke="#222222"/><path d="M61.6,279.0l1.7-2.8-.9-.9-1.6,2.7z" fill="#af6368" stroke="#2c1b1d"/><path d="M64.1,277.2l1.7-2.8-.9-.9-1.7,2.8z" fill="#a84b51" stroke="#400e14"/><path d="M66.7,275.3l1.7-2.3-.9-.9-1.7,2.3z" fill="#ab3b42"/><path d="M69.4,273.8l1.8-1.4-.9-.9-1.8,1.3z" fill="#bc303a"/><path d="M72.2,274.1l1.8-.7-1-1.6-1.8,.7z" fill="#d8525b"/><path d="M75.0,276.0l1.9-.7-1-2.7-1.9,.7z" fill="#e0767e"/><path d="M77.8,278.5l1.8-.7-1-3.3-1.9,.7z" fill="#e79298" stroke="#400e14"/><path d="M80.7,281.1l1.8-.7-1-3.3-1.8,.7z" fill="#efb6bb" stroke="#361519"/><path d="M83.5,283.3l1.8-.6-1-2.8-1.8,.7z" fill="#fbe5e8" stroke="#222222"/><path d="M86.3,284.3l1.8-.6-1-1.7-1.8,.6z" fill="#f4f4f2" stroke="#222222"/><path d="M57.3,281.6l1.7-1.3-.9-1-1.7,1.2z" fill="#dacbca" stroke="#222222"/><path d="M59.9,281.3l1.7-2.3-.9-.9-1.7,2.3z" fill="#be9a9c" stroke="#222222"/><path d="M62.4,280.0l1.7-2.8-.9-.9-1.7,2.8z" fill="#af6368" stroke="#2c1b1d"/><path d="M65.0,278.1l1.7-2.8-.9-.9-1.7,2.8z" fill="#a84b51" stroke="#400e14"/><path d="M67.6,276.2l1.8-2.4-.9-.9-1.7,2.3z" fill="#ab3b42"/><path d="M70.3,275.4l1.8-1.3-1-1.6-1.8,1.4z" fill="#d23944"/><path d="M73.1,276.7l1.8-.7-1-2.6-1.8,.7z" fill="#e17980"/><path d="M76.0,279.2l1.8-.7-1-3.2-1.9,.7z" fill="#e7949a" stroke="#400e14"/><path d="M78.8,281.8l1.8-.7-1-3.3-1.8,.7z" fill="#f0b8bd" stroke="#361519"/><path d="M81.6,283.9l1.8-.6-1-2.8-1.8,.7z" fill="#fbe7ea" stroke="#222222"/><path d="M84.4,284.9l1.8-.6-1-1.7-1.8,.6z" fill="#f4f3f2" stroke="#222222"/><path d="M58.2,282.6l1.7-1.3-.9-1-1.7,1.3z" fill="#dacbca" stroke="#222222"/><path d="M60.8,282.3l1.7-2.3-.9-.9-1.7,2.3z" fill="#be9a9c" stroke="#222222"/><path d="M63.3,280.9l1.7-2.8-.9-.9-1.7,2.8z" fill="#af6368" stroke="#2c1b1d"/><path d="M65.9,279.0l1.7-2.8-.9-.9-1.7,2.8z" fill="#a84b51" stroke="#400e14"/><path d="M68.6,277.6l1.8-2.2-.9-1.5-1.8,2.4z" fill="#bc454d"/><path d="M71.3,277.9l1.8-1.2-1-2.6-1.8,1.3z" fill="#de6c74"/><path d="M74.2,279.9l1.8-.7-1-3.2-1.8,.7z" fill="#e8969c" stroke="#400e14"/><path d="M77.0,282.5l1.8-.7-1-3.3-1.8,.7z" fill="#f0babf" stroke="#2c1b1d"/><path d="M79.8,284.5l1.8-.6-1-2.8-1.8,.7z" fill="#f7f6f6" stroke="#222222"/><path d="M82.6,285.6l1.8-.6-1-1.7-1.8,.6z" fill="#f4f3f2" stroke="#222222"/><path d="M59.0,283.5l1.7-1.3-.9-1-1.7,1.3z" fill="#dacbca" stroke="#222222"/><path d="M61.7,283.2l1.7-2.3-.9-.9-1.7,2.3z" fill="#be9a9c" stroke="#222222"/><path d="M64.2,281.9l1.7-2.8-.9-.9-1.7,2.8z" fill="#af6368" stroke="#2c1b1d"/><path d="M66.8,280.3l1.7-2.7-.9-1.4-1.7,2.8z" fill="#b6565d" stroke="#400e14"/><path d="M69.5,279.8l1.8-1.9-1-2.5-1.8,2.2z" fill="#d86169" stroke="#400e14"/><path d="M72.3,280.9l1.8-1-1-3.2-1.8,1.2z" fill="#e79399" stroke="#400e14"/><path d="M75.1,283.1l1.8-.6-1-3.2-1.8,.7z" fill="#f1bbc0" stroke="#2c1b1d"/><path d="M78.0,285.2l1.8-.6-1-2.7-1.8,.7z" fill="#f7f6f6" stroke="#222222"/><path d="M80.7,286.2l1.8-.6-.9-1.7-1.8,.6z" fill="#f4f3f2" stroke="#222222"/><path d="M59.9,284.5l1.7-1.3-.9-1-1.7,1.3z" fill="#dacbca" stroke="#222222"/><path d="M62.5,284.2l1.7-2.3-.9-.9-1.7,2.3z" fill="#be9a9c" stroke="#222222"/><path d="M65.1,283.0l1.7-2.7-.9-1.3-1.7,2.8z" fill="#b96f74" stroke="#2c1b1d"/><path d="M67.8,282.1l1.8-2.3-1-2.2-1.7,2.7z" fill="#ce737a" stroke="#361519"/><path d="M70.5,282.4l1.8-1.5-1-3-1.8,1.9z" fill="#e79097" stroke="#361519"/><path d="M73.3,283.9l1.8-.8-1-3.2-1.8,1z" fill="#f1bcc1" stroke="#2c1b1d"/><path d="M76.1,285.8l1.8-.6-1-2.7-1.8,.6z" fill="#f7f6f6" stroke="#222222"/><path d="M78.9,286.8l1.8-.6-.9-1.7-1.8,.6z" fill="#f4f3f2" stroke="#222222"/><path d="M60.8,285.5l1.7-1.3-.9-1-1.7,1.3z" fill="#dacbca" stroke="#222222"/><path d="M63.4,285.2l1.7-2.2-.9-1.1-1.7,2.3z" fill="#c4a4a5" stroke="#222222"/><path d="M66.0,284.4l1.7-2.3-.9-1.8-1.7,2.7z" fill="#cd8b91" stroke="#2c1b1d"/><path d="M68.7,284.2l1.8-1.8-1-2.6-1.8,2.3z" fill="#e89fa5" stroke="#2c1b1d"/><path d="M71.5,285.0l1.8-1.1-1-3-1.8,1.5z" fill="#f2c0c5" stroke="#2c1b1d"/><path d="M74.3,286.5l1.8-.7-1-2.7-1.8,.8z" fill="#f7f6f5" stroke="#222222"/><path d="M77.1,287.5l1.8-.6-.9-1.7-1.8,.6z" fill="#f4f3f2" stroke="#222222"/><path d="M61.7,286.5l1.8-1.3-.9-1-1.7,1.3z" fill="#dccecd" stroke="#222222"/><path d="M64.3,286.3l1.7-1.9-.9-1.4-1.7,2.2z" fill="#d0b8b9" stroke="#222222"/><path d="M67.0,285.9l1.8-1.8-1-2.1-1.7,2.3z" fill="#e6b6bb" stroke="#222222"/><path d="M69.7,286.2l1.8-1.2-1-2.6-1.8,1.8z" fill="#f7d0d5" stroke="#222222"/><path d="M72.5,287.3l1.8-.8-1-2.6-1.8,1.1z" fill="#f6f5f5" stroke="#222222"/><path d="M75.2,288.1l1.8-.6-.9-1.7-1.8,.7z" fill="#f4f3f1" stroke="#222222"/><path d="M62.5,287.4l1.8-1.1-.9-1.1-1.8,1.3z" fill="#e1d6d4" stroke="#222222"/><path d="M65.2,287.4l1.8-1.5-.9-1.5-1.7,1.9z" fill="#dfd0d0" stroke="#222222"/><path d="M67.9,287.5l1.8-1.2-1-2.1-1.8,1.8z" fill="#f5f3f3" stroke="#222222"/><path d="M70.6,288.1l1.8-.8-1-2.3-1.8,1.2z" fill="#f5f4f3" stroke="#222222"/><path d="M73.4,288.8l1.8-.6-.9-1.6-1.8,.8z" fill="#f3f3f1" stroke="#222222"/><path d="M63.4,288.4l1.8-1-.9-1.1-1.8,1.1z" fill="#e6dfdd" stroke="#222222"/><path d="M66.1,288.5l1.8-1.1-.9-1.5-1.8,1.5z" fill="#ece8e6" stroke="#222222"/><path d="M68.8,288.9l1.8-.8-.9-1.8-1.8,1.2z" fill="#f4f3f1" stroke="#222222"/><path d="M71.5,289.4l1.8-.6-.9-1.5-1.8,.8z" fill="#f3f2f0" stroke="#222222"/><path d="M64.3,289.4l1.8-.8-.9-1.1-1.8,1z" fill="#ebe6e4" stroke="#222222"/><path d="M67.0,289.6l1.8-.8-.9-1.4-1.8,1.1z" fill="#f2f1ef" stroke="#222222"/><path d="M69.7,290.0l1.8-.6-.9-1.3-1.8,.8z" fill="#f2f1ef" stroke="#222222"/><path d="M65.1,290.3l1.8-.7-.9-1.1-1.8,.8z" fill="#eeebe9" stroke="#222222"/><path d="M67.9,290.7l1.8-.6-.9-1.1-1.8,.8z" fill="#f1f1ee" stroke="#222222"/><path d="M66.0,291.3l1.8-.6-.9-1-1.8,.7z" fill="#eeece9" stroke="#222222"/></g>
<text x="36.50" y="257.12" font-size="7.0" fill="#333" stroke="#333" stroke-width="0.2" textLength="6.80" lengthAdjust="spacingAndGlyphs">30</text>
<text x="37.27" y="267.62" font-size="7.0" fill="#333" stroke="#333" stroke-width="0.2" textLength="6.80" lengthAdjust="spacingAndGlyphs">10</text>
<text x="34.63" y="278.12" font-size="7.0" fill="#333" stroke="#333" stroke-width="0.2" textLength="10.20" lengthAdjust="spacingAndGlyphs">&#8722;10</text>
<text x="35.40" y="288.62" font-size="7.0" fill="#333" stroke="#333" stroke-width="0.2" textLength="10.20" lengthAdjust="spacingAndGlyphs">&#8722;30</text>
<text x="38.72" y="294.32" font-size="7.0" fill="#333" stroke="#333" stroke-width="0.2" textLength="9.75" lengthAdjust="spacingAndGlyphs">400</text>
<text x="44.38" y="299.72" font-size="7.0" fill="#333" stroke="#333" stroke-width="0.2" textLength="9.75" lengthAdjust="spacingAndGlyphs">200</text>
<text x="48.77" y="305.92" font-size="7.0" fill="#333" stroke="#333" stroke-width="0.2" textLength="9.75" lengthAdjust="spacingAndGlyphs">100</text>
<text x="55.70" y="312.12" font-size="7.0" fill="#333" stroke="#333" stroke-width="0.2" textLength="6.50" lengthAdjust="spacingAndGlyphs">50</text>
<text x="72.85" y="313.62" font-size="7.0" fill="#333" stroke="#333" stroke-width="0.2" textLength="7.00" lengthAdjust="spacingAndGlyphs">50</text>
<text x="80.55" y="310.62" font-size="7.0" fill="#333" stroke="#333" stroke-width="0.2" textLength="10.50" lengthAdjust="spacingAndGlyphs">100</text>
<text x="91.30" y="306.22" font-size="7.0" fill="#333" stroke="#333" stroke-width="0.2" textLength="10.50" lengthAdjust="spacingAndGlyphs">200</text>
<text x="100.75" y="301.72" font-size="7.0" fill="#333" stroke="#333" stroke-width="0.2" textLength="10.50" lengthAdjust="spacingAndGlyphs">400</text>
<g transform="translate(26.30,270.20) rotate(-90)"><text x="-13.35" y="2.84" font-size="7.9" fill="#2a2a2a" stroke="#2a2a2a" stroke-width="0.25" textLength="26.70" lengthAdjust="spacingAndGlyphs">&#948;&#8722;score</text></g>
<g transform="translate(38.50,309.30) rotate(46)"><text x="-13.50" y="3.02" font-size="8.4" fill="#2a2a2a" stroke="#2a2a2a" stroke-width="0.25" textLength="27.00" lengthAdjust="spacingAndGlyphs">BETi (nM)</text></g>
<g transform="translate(94.80,318.50) rotate(-25)"><text x="-16.65" y="3.10" font-size="8.6" fill="#2a2a2a" stroke="#2a2a2a" stroke-width="0.25" textLength="33.30" lengthAdjust="spacingAndGlyphs">p300i (nM)</text></g>
<rect x="51.40" y="242.00" width="55.00" height="2.20" fill="url(#cbar)"/>
<text x="46.10" y="239.42" font-size="7.0" fill="#333" stroke="#333" stroke-width="0.15" textLength="11.40" lengthAdjust="spacingAndGlyphs">&#8722;30</text>
<text x="63.80" y="239.42" font-size="7.0" fill="#333" stroke="#333" stroke-width="0.15" textLength="12.00" lengthAdjust="spacingAndGlyphs">&#8722;10</text>
<text x="84.80" y="239.42" font-size="7.0" fill="#333" stroke="#333" stroke-width="0.15" textLength="6.80" lengthAdjust="spacingAndGlyphs">10</text>
<text x="102.60" y="239.42" font-size="7.0" fill="#333" stroke="#333" stroke-width="0.15" textLength="7.20" lengthAdjust="spacingAndGlyphs">30</text>
<line x1="166.10" y1="287.40" x2="183.60" y2="309.20" stroke="#808080" stroke-width="0.6"/>
<line x1="183.60" y1="309.20" x2="218.10" y2="293.20" stroke="#808080" stroke-width="0.6"/>
<line x1="163.80" y1="255.90" x2="166.10" y2="287.40" stroke="#808080" stroke-width="0.6"/>
<line x1="220.80" y1="263.60" x2="218.10" y2="293.20" stroke="#808080" stroke-width="0.6"/>
<line x1="181.20" y1="272.30" x2="183.60" y2="309.20" stroke="#808080" stroke-width="0.6"/>
<line x1="163.80" y1="255.90" x2="198.10" y2="248.20" stroke="#808080" stroke-width="0.6"/>
<line x1="198.10" y1="248.20" x2="220.80" y2="263.60" stroke="#808080" stroke-width="0.6"/>
<line x1="163.80" y1="255.90" x2="181.20" y2="272.30" stroke="#808080" stroke-width="0.6"/>
<line x1="181.20" y1="272.30" x2="220.80" y2="263.60" stroke="#808080" stroke-width="0.6"/>
<line x1="166.10" y1="287.40" x2="199.10" y2="274.20" stroke="#999" stroke-width="0.5" stroke-dasharray="0.8 1.6"/>
<line x1="199.10" y1="274.20" x2="218.10" y2="293.20" stroke="#999" stroke-width="0.5" stroke-dasharray="0.8 1.6"/>
<line x1="198.10" y1="248.20" x2="199.10" y2="274.20" stroke="#999" stroke-width="0.5" stroke-dasharray="0.8 1.6"/>
<g stroke="#4a0810" stroke-width="0.5" stroke-opacity="0.48" stroke-linejoin="round"><path d="M197.6,252.3l1.7-1.2-1.1-.8-1.7,1.2z" fill="#b41d27"/><path d="M195.9,253.5l1.7-1.2-1.1-.8-1.7,1.2z" fill="#b51d27"/><path d="M198.7,253.1l1.7-1.2-1.1-.8-1.7,1.2z" fill="#b41d27"/><path d="M194.2,254.6l1.7-1.1-1.1-.8-1.7,1.1z" fill="#b71d27"/><path d="M197.0,254.3l1.7-1.2-1.1-.8-1.7,1.2z" fill="#b51d27"/><path d="M199.8,253.9l1.7-1.2-1.1-.8-1.7,1.2z" fill="#b41d27"/><path d="M192.5,255.7l1.7-1.1-1.1-.8-1.7,1.1z" fill="#b81d27"/><path d="M195.3,255.4l1.7-1.1-1.1-.8-1.7,1.1z" fill="#b71d27"/><path d="M198.1,255.1l1.7-1.2-1.1-.8-1.7,1.2z" fill="#b51d27"/><path d="M200.9,254.7l1.7-1.2-1.1-.8-1.7,1.2z" fill="#b41d27"/><path d="M190.8,256.8l1.7-1.1-1.1-.8-1.7,1.1z" fill="#b91d27"/><path d="M193.6,256.6l1.7-1.1-1.1-.8-1.7,1.1z" fill="#b81d27"/><path d="M196.4,256.3l1.7-1.2-1.1-.8-1.7,1.1z" fill="#b71d27"/><path d="M199.2,255.9l1.7-1.2-1.1-.8-1.7,1.2z" fill="#b51d27"/><path d="M202.0,255.5l1.8-1.2-1.1-.8-1.7,1.2z" fill="#b41d27"/><path d="M189.2,257.9l1.7-1.1-1-.8-1.7,1z" fill="#ba1c27"/><path d="M191.9,257.7l1.7-1.1-1.1-.8-1.7,1.1z" fill="#b91d27"/><path d="M194.6,257.4l1.7-1.1-1.1-.8-1.7,1.1z" fill="#b81d27"/><path d="M197.4,257.1l1.7-1.2-1.1-.8-1.7,1.2z" fill="#b71d27"/><path d="M200.3,256.7l1.8-1.2-1.1-.8-1.7,1.2z" fill="#b51d27"/><path d="M203.1,256.3l1.8-1.2-1.1-.8-1.8,1.2z" fill="#b41d27"/><path d="M187.5,258.9l1.7-1-1-.8-1.7,1z" fill="#bc212b"/><path d="M190.2,258.7l1.7-1.1-1-.8-1.7,1.1z" fill="#ba1c27"/><path d="M192.9,258.5l1.7-1.1-1.1-.8-1.7,1.1z" fill="#b91d27"/><path d="M195.7,258.2l1.7-1.1-1.1-.8-1.7,1.1z" fill="#b81d27"/><path d="M198.5,257.9l1.8-1.2-1.1-.8-1.7,1.2z" fill="#b71d27"/><path d="M201.3,257.5l1.8-1.2-1.1-.8-1.8,1.2z" fill="#b51d27"/><path d="M204.2,257.1l1.8-1.2-1.1-.8-1.8,1.2z" fill="#b41d27"/><path d="M185.8,259.9l1.7-1-1-.8-1.7,1z" fill="#c02a34"/><path d="M188.5,259.7l1.7-1-1-.8-1.7,1z" fill="#bc212b"/><path d="M191.2,259.5l1.7-1.1-1-.8-1.7,1.1z" fill="#ba1c27"/><path d="M194.0,259.3l1.7-1.1-1.1-.8-1.7,1.1z" fill="#b91d27"/><path d="M196.8,259.0l1.7-1.1-1.1-.8-1.7,1.1z" fill="#b81d27"/><path d="M199.6,258.7l1.8-1.2-1.1-.8-1.8,1.2z" fill="#b71d27"/><path d="M202.4,258.3l1.8-1.2-1.1-.8-1.8,1.2z" fill="#b51d27"/><path d="M205.3,257.9l1.8-1.2-1.1-.8-1.8,1.2z" fill="#b41d27"/><path d="M184.1,260.9l1.7-1-1-.8-1.7,1z" fill="#c3333c"/><path d="M186.8,260.7l1.7-1-1-.8-1.7,1z" fill="#c02a34"/><path d="M189.5,260.6l1.7-1-1-.8-1.7,1z" fill="#bc212b"/><path d="M192.2,260.4l1.7-1.1-1-.8-1.7,1.1z" fill="#ba1c27"/><path d="M195.0,260.1l1.7-1.1-1.1-.8-1.7,1.1z" fill="#b91d27"/><path d="M197.8,259.8l1.8-1.2-1.1-.8-1.7,1.1z" fill="#b81d27"/><path d="M200.6,259.5l1.8-1.2-1.1-.8-1.8,1.2z" fill="#b71d27"/><path d="M203.5,259.1l1.8-1.2-1.1-.8-1.8,1.2z" fill="#b51d27"/><path d="M206.4,258.7l1.8-1.3-1.1-.8-1.8,1.2z" fill="#b41d27"/><path d="M182.4,261.8l1.7-.9-1-.9-1.7,.9z" fill="#c63b45"/><path d="M185.1,261.7l1.7-1-1-.8-1.7,1z" fill="#c3333c"/><path d="M187.8,261.6l1.7-1-1-.8-1.7,1z" fill="#c02a34"/><path d="M190.5,261.4l1.7-1-1-.8-1.7,1z" fill="#bc212b"/><path d="M193.3,261.2l1.7-1.1-1-.8-1.7,1.1z" fill="#ba1c27"/><path d="M196.0,261.0l1.8-1.1-1.1-.8-1.7,1.1z" fill="#b91d27"/><path d="M198.9,260.7l1.8-1.2-1.1-.8-1.8,1.2z" fill="#b81d27"/><path d="M201.7,260.3l1.8-1.2-1.1-.8-1.8,1.2z" fill="#b71d27"/><path d="M204.6,259.9l1.8-1.2-1.1-.8-1.8,1.2z" fill="#b51d27"/><path d="M207.5,259.5l1.9-1.3-1.1-.8-1.8,1.3z" fill="#b41d27"/><path d="M180.8,262.7l1.7-.9-1-.9-1.7,.9z" fill="#c9444d"/><path d="M183.4,262.6l1.7-.9-1-.9-1.7,.9z" fill="#c63b45"/><path d="M186.1,262.6l1.7-1-1-.8-1.7,1z" fill="#c3333c"/><path d="M188.8,262.4l1.7-1-1-.8-1.7,1z" fill="#c02a34"/><path d="M191.5,262.3l1.7-1.1-1-.8-1.7,1z" fill="#bc212b"/><path d="M194.3,262.0l1.8-1.1-1-.8-1.7,1.1z" fill="#ba1c27"/><path d="M197.1,261.8l1.8-1.1-1.1-.8-1.8,1.1z" fill="#b91d27"/><path d="M199.9,261.5l1.8-1.2-1.1-.8-1.8,1.2z" fill="#b81d27"/><path d="M202.8,261.1l1.8-1.2-1.1-.8-1.8,1.2z" fill="#b71d27"/><path d="M205.7,260.7l1.8-1.2-1.1-.8-1.8,1.2z" fill="#b51d27"/><path d="M208.6,260.3l1.9-1.3-1.1-.8-1.9,1.3z" fill="#b41d27"/><path d="M179.1,263.5l1.7-.9-1-.9-1.7,.8z" fill="#cc4b54"/><path d="M181.7,263.5l1.7-.9-1-.9-1.7,.9z" fill="#c9444d"/><path d="M184.4,263.5l1.7-.9-1-.9-1.7,.9z" fill="#c63b45"/><path d="M187.1,263.4l1.7-1-1-.8-1.7,1z" fill="#c3333c"/><path d="M189.8,263.3l1.7-1-1-.8-1.7,1z" fill="#c02a34"/><path d="M192.5,263.1l1.8-1.1-1-.8-1.7,1.1z" fill="#bc212b"/><path d="M195.3,262.9l1.8-1.1-1-.8-1.8,1.1z" fill="#ba1c27"/><path d="M198.1,262.6l1.8-1.1-1.1-.8-1.8,1.1z" fill="#b91d27"/><path d="M201.0,262.3l1.8-1.2-1.1-.8-1.8,1.2z" fill="#b81d27"/><path d="M203.8,261.9l1.8-1.2-1.1-.8-1.8,1.2z" fill="#b71d27"/><path d="M206.8,261.5l1.9-1.2-1.1-.8-1.8,1.2z" fill="#b51d27"/><path d="M209.7,261.1l1.9-1.3-1.1-.8-1.9,1.3z" fill="#b41d27"/><path d="M177.4,264.3l1.7-.8-1-.9-1.7,.8z" fill="#cf535c"/><path d="M180.0,264.4l1.7-.9-1-.9-1.7,.9z" fill="#cc4b54"/><path d="M182.7,264.4l1.7-.9-1-.9-1.7,.9z" fill="#c9444d"/><path d="M185.4,264.4l1.7-.9-1-.9-1.7,.9z" fill="#c63b45"/><path d="M188.1,264.3l1.7-1-1-.8-1.7,1z" fill="#c3333c"/><path d="M190.8,264.1l1.7-1-1-.8-1.7,1z" fill="#c02a34"/><path d="M193.6,264.0l1.8-1.1-1-.8-1.8,1.1z" fill="#bc212b"/><path d="M196.3,263.7l1.8-1.1-1-.8-1.8,1.1z" fill="#ba1c27"/><path d="M199.2,263.4l1.8-1.1-1.1-.8-1.8,1.1z" fill="#b91d27"/><path d="M202.0,263.1l1.8-1.2-1.1-.8-1.8,1.2z" fill="#b81d27"/><path d="M204.9,262.7l1.9-1.2-1.1-.8-1.8,1.2z" fill="#b71d27"/><path d="M207.9,262.3l1.9-1.3-1.1-.8-1.9,1.2z" fill="#b51d27"/><path d="M210.8,261.9l1.9-1.3-1.1-.8-1.9,1.3z" fill="#b41d27"/><path d="M175.7,265.1l1.7-.8-.9-.9-1.7,.8z" fill="#d25a62"/><path d="M178.3,265.2l1.7-.8-1-.9-1.7,.8z" fill="#cf535c"/><path d="M181.0,265.3l1.7-.9-1-.9-1.7,.9z" fill="#cc4b54"/><path d="M183.6,265.3l1.7-.9-1-.9-1.7,.9z" fill="#c9444d"/><path d="M186.3,265.2l1.7-1-1-.9-1.7,.9z" fill="#c63b45"/><path d="M189.0,265.1l1.7-1-1-.8-1.7,1z" fill="#c3333c"/><path d="M191.8,265.0l1.8-1-1-.8-1.7,1z" fill="#c02a34"/><path d="M194.6,264.8l1.8-1.1-1-.8-1.8,1.1z" fill="#bc212b"/><path d="M197.4,264.5l1.8-1.1-1-.8-1.8,1.1z" fill="#ba1c27"/><path d="M200.2,264.3l1.8-1.2-1.1-.8-1.8,1.1z" fill="#b91d27"/><path d="M203.1,263.9l1.8-1.2-1.1-.8-1.8,1.2z" fill="#b81d27"/><path d="M206.0,263.5l1.9-1.2-1.1-.8-1.9,1.2z" fill="#b71d27"/><path d="M208.9,263.1l1.9-1.3-1.1-.8-1.9,1.3z" fill="#b51d27"/><path d="M211.9,262.6l1.9-1.3-1.1-.8-1.9,1.3z" fill="#b41d27"/><path d="M174.0,265.9l1.7-.7-.9-.9-1.7,.7z" fill="#d46068" stroke="#400e14"/><path d="M176.6,266.0l1.7-.8-.9-.9-1.7,.8z" fill="#d25a62"/><path d="M179.3,266.1l1.7-.8-1-.9-1.7,.8z" fill="#cf535c"/><path d="M181.9,266.2l1.7-.9-1-.9-1.7,.9z" fill="#cc4b54"/><path d="M184.6,266.2l1.7-.9-1-.9-1.7,.9z" fill="#c9444d"/><path d="M187.3,266.1l1.7-1-1-.9-1.7,1z" fill="#c63b45"/><path d="M190.0,266.0l1.8-1-1-.8-1.7,1z" fill="#c3333c"/><path d="M192.8,265.8l1.8-1-1-.8-1.8,1z" fill="#c02a34"/><path d="M195.6,265.6l1.8-1.1-1-.8-1.8,1.1z" fill="#bc212b"/><path d="M198.4,265.4l1.8-1.1-1-.8-1.8,1.1z" fill="#ba1c27"/><path d="M201.2,265.1l1.8-1.2-1.1-.8-1.8,1.2z" fill="#b91d27"/><path d="M204.1,264.7l1.9-1.2-1.1-.8-1.8,1.2z" fill="#b81d27"/><path d="M207.1,264.4l1.9-1.2-1.1-.8-1.9,1.2z" fill="#b71d27"/><path d="M210.0,263.9l1.9-1.3-1.1-.8-1.9,1.3z" fill="#b51d27"/><path d="M213.0,263.4l1.9-1.3-1.1-.8-1.9,1.3z" fill="#b41d27"/><path d="M172.3,266.6l1.7-.7-.9-.9-1.7,.7z" fill="#d7656d" stroke="#400e14"/><path d="M174.9,266.8l1.7-.7-.9-.9-1.7,.7z" fill="#d46068" stroke="#400e14"/><path d="M177.6,266.9l1.7-.8-.9-.9-1.7,.8z" fill="#d25a62"/><path d="M180.2,267.0l1.7-.8-1-.9-1.7,.8z" fill="#cf535c"/><path d="M182.9,267.0l1.7-.9-1-.9-1.7,.9z" fill="#cc4b54"/><path d="M185.6,267.0l1.7-.9-1-.9-1.7,.9z" fill="#c9444d"/><path d="M188.3,267.0l1.8-1-1-.9-1.7,1z" fill="#c63b45"/><path d="M191.0,266.9l1.8-1-1-.8-1.8,1z" fill="#c3333c"/><path d="M193.8,266.7l1.8-1.1-1-.8-1.8,1z" fill="#c02a34"/><path d="M196.6,266.5l1.8-1.1-1-.8-1.8,1.1z" fill="#bc212b"/><path d="M199.4,266.2l1.8-1.1-1-.8-1.8,1.1z" fill="#ba1c27"/><path d="M202.3,265.9l1.8-1.2-1.1-.8-1.8,1.2z" fill="#b91d27"/><path d="M205.2,265.6l1.9-1.2-1.1-.8-1.9,1.2z" fill="#b81d27"/><path d="M208.1,265.2l1.9-1.2-1.1-.8-1.9,1.2z" fill="#b71d27"/><path d="M211.1,264.7l1.9-1.3-1.1-.8-1.9,1.3z" fill="#b51d27"/><path d="M214.1,265.6l1.9-1.2-1-2.2-1.9,1.3z" fill="#d1323c"/><path d="M170.7,268.0l1.6-1.5-.9-.9-1.6,1.5z" fill="#c25f66" stroke="#400e14"/><path d="M173.2,267.5l1.7-.7-.9-.9-1.7,.7z" fill="#d7656d" stroke="#400e14"/><path d="M175.9,267.7l1.7-.7-.9-.9-1.7,.7z" fill="#d46068" stroke="#400e14"/><path d="M178.5,267.8l1.7-.8-.9-.9-1.7,.8z" fill="#d25a62"/><path d="M181.2,267.9l1.7-.8-1-.9-1.7,.8z" fill="#cf535c"/><path d="M183.8,267.9l1.7-.9-1-.9-1.7,.9z" fill="#cc4b54"/><path d="M186.5,267.9l1.8-.9-1-.9-1.7,.9z" fill="#c9444d"/><path d="M189.3,267.8l1.8-1-1-.9-1.8,1z" fill="#c63b45"/><path d="M192.0,267.7l1.8-1-1-.8-1.8,1z" fill="#c3333c"/><path d="M194.8,267.5l1.8-1.1-1-.8-1.8,1.1z" fill="#c02a34"/><path d="M197.6,267.3l1.8-1.1-1-.8-1.8,1.1z" fill="#bc212b"/><path d="M200.4,267.1l1.8-1.1-1-.8-1.8,1.1z" fill="#ba1c27"/><path d="M203.3,266.7l1.9-1.2-1.1-.8-1.8,1.2z" fill="#b91d27"/><path d="M206.2,266.4l1.9-1.2-1.1-.8-1.9,1.2z" fill="#b81d27"/><path d="M209.2,266.0l1.9-1.3-1.1-.8-1.9,1.2z" fill="#b71d27"/><path d="M212.1,266.8l1.9-1.2-1-2.1-1.9,1.3z" fill="#d1323d"/><path d="M214.9,269.6l1.9-1.1-.9-4.2-1.9,1.2z" fill="#d4444e"/><path d="M169.1,270.5l1.6-2.4-.9-.9-1.6,2.4z" fill="#b06066" stroke="#361519"/><path d="M171.6,269.0l1.6-1.5-.9-.9-1.6,1.5z" fill="#c25f66" stroke="#400e14"/><path d="M174.1,268.4l1.7-.7-.9-.9-1.7,.7z" fill="#d7656d" stroke="#400e14"/><path d="M176.8,268.5l1.7-.8-.9-.9-1.7,.7z" fill="#d46068" stroke="#400e14"/><path d="M179.4,268.7l1.7-.8-.9-.9-1.7,.8z" fill="#d25a62"/><path d="M182.1,268.8l1.7-.9-1-.9-1.7,.8z" fill="#cf535c"/><path d="M184.8,268.8l1.7-.9-1-.9-1.7,.9z" fill="#cc4b54"/><path d="M187.5,268.8l1.8-.9-1-.9-1.8,.9z" fill="#c9444d"/><path d="M190.2,268.7l1.8-1-1-.9-1.8,1z" fill="#c63b45"/><path d="M193.0,268.6l1.8-1-1-.8-1.8,1z" fill="#c3333c"/><path d="M195.8,268.4l1.8-1.1-1-.8-1.8,1.1z" fill="#c02a34"/><path d="M198.6,268.2l1.8-1.1-1-.8-1.8,1.1z" fill="#bc212b"/><path d="M201.5,267.9l1.9-1.1-1-.8-1.8,1.1z" fill="#ba1c27"/><path d="M204.4,267.6l1.9-1.2-1.1-.8-1.9,1.2z" fill="#b91d27"/><path d="M207.3,267.2l1.9-1.2-1.1-.8-1.9,1.2z" fill="#b81d27"/><path d="M210.2,268.0l1.9-1.2-1-2.1-1.9,1.3z" fill="#d1323d"/><path d="M213.0,270.6l1.9-1.1-.9-4-1.9,1.2z" fill="#d5454f"/><path d="M215.7,274.2l1.9-.9-.8-4.9-1.9,1.1z" fill="#df7179"/><path d="M167.6,272.8l1.6-2.4-.9-.9-1.6,2.3z" fill="#b98185" stroke="#222222"/><path d="M170.0,271.4l1.6-2.4-.9-.9-1.6,2.4z" fill="#b06066" stroke="#361519"/><path d="M172.5,269.9l1.7-1.5-.9-.9-1.6,1.5z" fill="#c25f66" stroke="#400e14"/><path d="M175.1,269.3l1.7-.7-.9-.9-1.7,.7z" fill="#d7656d" stroke="#400e14"/><path d="M177.7,269.4l1.7-.8-.9-.9-1.7,.8z" fill="#d46068" stroke="#400e14"/><path d="M180.4,269.6l1.7-.8-.9-.9-1.7,.8z" fill="#d25a62"/><path d="M183.0,269.7l1.7-.9-1-.9-1.7,.9z" fill="#cf535c"/><path d="M185.7,269.7l1.8-.9-1-.9-1.7,.9z" fill="#cc4b54"/><path d="M188.5,269.6l1.8-.9-1-.9-1.8,.9z" fill="#c9444d"/><path d="M191.2,269.6l1.8-1-1-.9-1.8,1z" fill="#c63b45"/><path d="M194.0,269.4l1.8-1-1-.8-1.8,1z" fill="#c3333c"/><path d="M196.8,269.2l1.8-1.1-1-.8-1.8,1.1z" fill="#c02a34"/><path d="M199.6,269.0l1.8-1.1-1-.8-1.8,1.1z" fill="#bc212b"/><path d="M202.5,268.7l1.9-1.2-1-.8-1.9,1.1z" fill="#ba1c27"/><path d="M205.4,268.4l1.9-1.2-1.1-.8-1.9,1.2z" fill="#b91d27"/><path d="M208.3,269.1l1.9-1.2-1-2-1.9,1.2z" fill="#d1333d"/><path d="M211.1,271.7l1.9-1-.9-3.8-1.9,1.2z" fill="#d64a53"/><path d="M213.9,275.1l1.9-.9-.8-4.7-1.9,1.1z" fill="#e17981"/><path d="M216.6,278.3l1.9-.7-.8-4.2-1.9,.9z" fill="#f1babf" stroke="#2c1b1d"/><path d="M165.9,274.2l1.6-1.4-.9-1-1.6,1.4z" fill="#d4bfbf" stroke="#222222"/><path d="M168.4,273.8l1.6-2.4-.9-.9-1.6,2.4z" fill="#b98185" stroke="#222222"/><path d="M170.9,272.3l1.6-2.5-.9-.9-1.6,2.4z" fill="#b06066" stroke="#361519"/><path d="M173.4,270.8l1.7-1.5-.9-.9-1.7,1.5z" fill="#c25f66" stroke="#400e14"/><path d="M176.0,270.2l1.7-.7-.9-.9-1.7,.7z" fill="#d7656d" stroke="#400e14"/><path d="M178.6,270.3l1.7-.8-.9-.9-1.7,.8z" fill="#d46068" stroke="#400e14"/><path d="M181.3,270.5l1.7-.8-.9-.9-1.7,.8z" fill="#d25a62"/><path d="M184.0,270.5l1.8-.9-1-.9-1.7,.9z" fill="#cf535c"/><path d="M186.7,270.6l1.8-.9-1-.9-1.8,.9z" fill="#cc4b54"/><path d="M189.4,270.5l1.8-1-1-.9-1.8,.9z" fill="#c9444d"/><path d="M192.2,270.4l1.8-1-1-.9-1.8,1z" fill="#c63b45"/><path d="M195.0,270.3l1.8-1-1-.8-1.8,1z" fill="#c3333c"/><path d="M197.8,270.1l1.8-1.1-1-.8-1.8,1.1z" fill="#c02a34"/><path d="M200.6,269.8l1.9-1.1-1-.8-1.8,1.1z" fill="#bc212b"/><path d="M203.5,269.6l1.9-1.2-1-.8-1.9,1.2z" fill="#ba1c27"/><path d="M206.4,270.3l1.9-1.1-1-1.9-1.9,1.2z" fill="#d1333e"/><path d="M209.2,272.7l1.9-1-.9-3.7-1.9,1.2z" fill="#d8545d"/><path d="M212.0,275.9l1.9-.9-.8-4.5-1.9,1z" fill="#e38189"/><path d="M214.7,279.0l1.8-.7-.8-4.1-1.9,.9z" fill="#f2bfc4" stroke="#2c1b1d"/><path d="M217.5,280.5l1.8-.6-.9-2.3-1.9,.7z" fill="#f6f5f4" stroke="#222222"/><path d="M166.8,275.2l1.6-1.4-.9-1-1.6,1.4z" fill="#d4bfbf" stroke="#222222"/><path d="M169.3,274.7l1.6-2.4-.9-.9-1.6,2.4z" fill="#b98185" stroke="#222222"/><path d="M171.8,273.3l1.6-2.5-.9-.9-1.6,2.5z" fill="#b06066" stroke="#361519"/><path d="M174.3,271.7l1.7-1.5-.9-.9-1.7,1.5z" fill="#c25f66" stroke="#400e14"/><path d="M176.9,271.1l1.7-.7-.9-.9-1.7,.7z" fill="#d7656d" stroke="#400e14"/><path d="M179.5,271.2l1.7-.8-.9-.9-1.7,.8z" fill="#d46068" stroke="#400e14"/><path d="M182.2,271.4l1.8-.8-.9-.9-1.7,.8z" fill="#d25a62"/><path d="M184.9,271.4l1.8-.9-1-.9-1.8,.9z" fill="#cf535c"/><path d="M187.6,271.4l1.8-.9-1-.9-1.8,.9z" fill="#cc4b54"/><path d="M190.4,271.4l1.8-1-1-.9-1.8,1z" fill="#c9444d"/><path d="M193.2,271.3l1.8-1-1-.9-1.8,1z" fill="#c63b45"/><path d="M196.0,271.1l1.8-1-1-.8-1.8,1z" fill="#c3333c"/><path d="M198.8,270.9l1.8-1.1-1-.8-1.8,1.1z" fill="#c02a34"/><path d="M201.6,270.7l1.9-1.1-1-.8-1.9,1.1z" fill="#bc212b"/><path d="M204.5,271.4l1.9-1.1-1-1.9-1.9,1.2z" fill="#d23641"/><path d="M207.4,273.7l1.9-1-.9-3.5-1.9,1.1z" fill="#db5e67"/><path d="M210.1,276.8l1.9-.8-.9-4.3-1.9,1z" fill="#e58990" stroke="#400e14"/><path d="M212.9,279.7l1.8-.7-.8-3.9-1.9,.9z" fill="#f3c4c8" stroke="#2c1b1d"/><path d="M215.6,281.2l1.8-.6-.9-2.2-1.8,.7z" fill="#f6f5f4" stroke="#222222"/><path d="M167.7,276.1l1.6-1.4-.9-1-1.6,1.4z" fill="#d4bfbf" stroke="#222222"/><path d="M170.2,275.7l1.6-2.4-.9-.9-1.6,2.4z" fill="#b98185" stroke="#222222"/><path d="M172.7,274.2l1.6-2.5-.9-.9-1.6,2.5z" fill="#b06066" stroke="#361519"/><path d="M175.2,272.6l1.7-1.6-.9-.9-1.7,1.5z" fill="#c25f66" stroke="#400e14"/><path d="M177.8,272.0l1.7-.7-.9-.9-1.7,.7z" fill="#d7656d" stroke="#400e14"/><path d="M180.5,272.1l1.8-.8-.9-.9-1.7,.8z" fill="#d46068" stroke="#400e14"/><path d="M183.1,272.3l1.8-.8-.9-.9-1.8,.8z" fill="#d25a62"/><path d="M185.9,272.3l1.8-.9-1-.9-1.8,.9z" fill="#cf535c"/><path d="M188.6,272.3l1.8-.9-1-.9-1.8,.9z" fill="#cc4b54"/><path d="M191.3,272.3l1.8-1-1-.9-1.8,1z" fill="#c9444d"/><path d="M194.1,272.2l1.8-1-1-.9-1.8,1z" fill="#c63b45"/><path d="M196.9,272.0l1.8-1.1-1-.8-1.8,1z" fill="#c3333c"/><path d="M199.8,271.8l1.9-1.1-1-.8-1.8,1.1z" fill="#c02a34"/><path d="M202.6,272.5l1.9-1.1-1-1.8-1.9,1.1z" fill="#d4414b"/><path d="M205.5,274.7l1.9-1-1-3.4-1.9,1.1z" fill="#dd6870"/><path d="M208.3,277.6l1.9-.8-.9-4.1-1.9,1z" fill="#e79097" stroke="#400e14"/><path d="M211.0,280.4l1.8-.7-.9-3.8-1.9,.8z" fill="#f4c8cc" stroke="#2c1b1d"/><path d="M213.8,281.8l1.8-.6-.9-2.2-1.8,.7z" fill="#f5f5f4" stroke="#222222"/><path d="M168.6,277.1l1.7-1.4-.9-1-1.6,1.4z" fill="#d4bfbf" stroke="#222222"/><path d="M171.1,276.7l1.6-2.4-.9-.9-1.6,2.4z" fill="#b98185" stroke="#222222"/><path d="M173.6,275.1l1.6-2.5-.9-.9-1.6,2.5z" fill="#b06066" stroke="#361519"/><path d="M176.1,273.5l1.7-1.6-.9-.9-1.7,1.6z" fill="#c25f66" stroke="#400e14"/><path d="M178.7,272.9l1.8-.7-.9-.9-1.7,.7z" fill="#d7656d" stroke="#400e14"/><path d="M181.4,273.0l1.8-.8-.9-.9-1.8,.8z" fill="#d46068" stroke="#400e14"/><path d="M184.1,273.1l1.8-.8-.9-.9-1.8,.8z" fill="#d25a62"/><path d="M186.8,273.2l1.8-.9-1-.9-1.8,.9z" fill="#cf535c"/><path d="M189.5,273.2l1.8-.9-1-.9-1.8,.9z" fill="#cc4b54"/><path d="M192.3,273.1l1.8-1-1-.9-1.8,1z" fill="#c9444d"/><path d="M195.1,273.0l1.8-1-1-.9-1.8,1z" fill="#c63b45"/><path d="M197.9,272.9l1.9-1.1-1-.8-1.8,1.1z" fill="#c3333c"/><path d="M200.8,273.5l1.9-1.1-1-1.8-1.9,1.1z" fill="#d74b54"/><path d="M203.6,275.6l1.9-1-1-3.3-1.9,1.1z" fill="#df7178"/><path d="M206.4,278.4l1.9-.8-.9-3.9-1.9,1z" fill="#e8979e" stroke="#400e14"/><path d="M209.2,281.1l1.8-.7-.9-3.6-1.9,.8z" fill="#f5ccd0" stroke="#2c1b1d"/><path d="M212.0,282.4l1.8-.6-.9-2.1-1.8,.7z" fill="#f5f4f3" stroke="#222222"/><path d="M169.4,278.1l1.7-1.4-.9-1-1.7,1.4z" fill="#d4bfbf" stroke="#222222"/><path d="M172.0,277.6l1.6-2.5-.9-.9-1.6,2.4z" fill="#b98185" stroke="#222222"/><path d="M174.5,276.1l1.6-2.5-.9-.9-1.6,2.5z" fill="#b06066" stroke="#361519"/><path d="M177.0,274.5l1.7-1.6-.9-.9-1.7,1.6z" fill="#c25f66" stroke="#400e14"/><path d="M179.6,273.8l1.8-.7-.9-.9-1.8,.7z" fill="#d7656d" stroke="#400e14"/><path d="M182.3,273.9l1.8-.8-.9-.9-1.8,.8z" fill="#d46068" stroke="#400e14"/><path d="M185.0,274.0l1.8-.8-.9-.9-1.8,.8z" fill="#d25a62"/><path d="M187.7,274.1l1.8-.9-1-.9-1.8,.9z" fill="#cf535c"/><path d="M190.5,274.1l1.8-.9-1-.9-1.8,.9z" fill="#cc4b54"/><path d="M193.3,274.0l1.8-1-1-.9-1.8,1z" fill="#c9444d"/><path d="M196.1,273.9l1.8-1-1-.9-1.8,1z" fill="#c63b45"/><path d="M198.9,274.6l1.9-1-1-1.8-1.9,1.1z" fill="#d9545d"/><path d="M201.7,276.6l1.9-.9-1-3.1-1.9,1.1z" fill="#e17980"/><path d="M204.6,279.2l1.9-.8-.9-3.8-1.9,1z" fill="#ea9ea4" stroke="#361519"/><path d="M207.3,281.8l1.8-.7-.9-3.5-1.9,.8z" fill="#f6d0d4" stroke="#2c1b1d"/><path d="M210.1,283.1l1.8-.6-.9-2-1.8,.7z" fill="#f5f4f3" stroke="#222222"/><path d="M170.3,279.0l1.7-1.4-.9-1-1.7,1.4z" fill="#d4bfbf" stroke="#222222"/><path d="M172.9,278.6l1.6-2.5-.9-.9-1.6,2.5z" fill="#b98185" stroke="#222222"/><path d="M175.4,277.0l1.6-2.6-.9-.9-1.6,2.5z" fill="#b06066" stroke="#361519"/><path d="M177.9,275.4l1.7-1.6-.9-.9-1.7,1.6z" fill="#c25f66" stroke="#400e14"/><path d="M180.5,274.7l1.8-.7-.9-.9-1.8,.7z" fill="#d7656d" stroke="#400e14"/><path d="M183.2,274.8l1.8-.8-.9-.9-1.8,.8z" fill="#d46068" stroke="#400e14"/><path d="M185.9,274.9l1.8-.8-.9-.9-1.8,.8z" fill="#d25a62"/><path d="M188.7,275.0l1.8-.9-1-.9-1.8,.9z" fill="#cf535c"/><path d="M191.4,274.9l1.8-.9-1-.9-1.8,.9z" fill="#cc4b54"/><path d="M194.2,274.9l1.8-1-1-.9-1.8,1z" fill="#c9444d"/><path d="M197.1,275.6l1.9-1-1-1.7-1.8,1z" fill="#db5d66"/><path d="M199.9,277.5l1.9-.9-1-3-1.9,1z" fill="#e38188"/><path d="M202.7,280.0l1.9-.8-.9-3.6-1.9,.9z" fill="#eba4aa" stroke="#361519"/><path d="M205.5,282.5l1.8-.7-.9-3.3-1.9,.8z" fill="#f7d4d8" stroke="#222222"/><path d="M208.3,283.7l1.8-.6-.9-2-1.8,.7z" fill="#f5f4f3" stroke="#222222"/><path d="M171.2,280.0l1.7-1.4-.9-1-1.7,1.4z" fill="#d4bfbf" stroke="#222222"/><path d="M173.7,279.5l1.6-2.5-.9-.9-1.6,2.5z" fill="#b98185" stroke="#222222"/><path d="M176.2,278.0l1.6-2.6-.9-.9-1.6,2.6z" fill="#b06066" stroke="#361519"/><path d="M178.8,276.3l1.7-1.6-.9-.9-1.7,1.6z" fill="#c25f66" stroke="#400e14"/><path d="M181.4,275.6l1.8-.8-.9-.9-1.8,.7z" fill="#d7656d" stroke="#400e14"/><path d="M184.1,275.7l1.8-.8-.9-.9-1.8,.8z" fill="#d46068" stroke="#400e14"/><path d="M186.9,275.8l1.8-.9-.9-.9-1.8,.8z" fill="#d25a62"/><path d="M189.6,275.8l1.8-.9-1-.9-1.8,.9z" fill="#cf535c"/><path d="M192.4,275.8l1.8-1-1-.9-1.8,.9z" fill="#cc4b54"/><path d="M195.2,276.5l1.8-1-1-1.7-1.8,1z" fill="#dd656e"/><path d="M198.0,278.4l1.9-.9-1-2.9-1.9,1z" fill="#e4888f" stroke="#400e14"/><path d="M200.9,280.8l1.8-.8-1-3.5-1.9,.9z" fill="#ecaaaf" stroke="#361519"/><path d="M203.6,283.1l1.8-.7-.9-3.2-1.9,.8z" fill="#f8d8dc" stroke="#222222"/><path d="M206.4,284.3l1.8-.6-1-1.9-1.8,.7z" fill="#f5f4f3" stroke="#222222"/><path d="M172.0,281.0l1.7-1.4-.9-1-1.7,1.4z" fill="#d4bfbf" stroke="#222222"/><path d="M174.6,280.5l1.6-2.5-.9-.9-1.6,2.5z" fill="#b98185" stroke="#222222"/><path d="M177.1,278.9l1.7-2.6-.9-.9-1.6,2.6z" fill="#b06066" stroke="#361519"/><path d="M179.7,277.2l1.7-1.6-.9-.9-1.7,1.6z" fill="#c25f66" stroke="#400e14"/><path d="M182.3,276.5l1.8-.8-.9-.9-1.8,.8z" fill="#d7656d" stroke="#400e14"/><path d="M185.1,276.6l1.8-.8-.9-.9-1.8,.8z" fill="#d46068" stroke="#400e14"/><path d="M187.8,276.7l1.8-.9-.9-.9-1.8,.9z" fill="#d25a62"/><path d="M190.6,276.7l1.8-.9-1-.9-1.8,.9z" fill="#cf535c"/><path d="M193.4,277.4l1.8-.9-1-1.6-1.8,1z" fill="#df6d75"/><path d="M196.2,279.2l1.8-.9-1-2.8-1.8,1z" fill="#e68e95" stroke="#400e14"/><path d="M199.0,281.6l1.8-.8-1-3.3-1.9,.9z" fill="#eeafb4" stroke="#361519"/><path d="M201.8,283.8l1.8-.7-.9-3.1-1.8,.8z" fill="#f8dcdf" stroke="#222222"/><path d="M204.6,285.0l1.8-.6-1-1.9-1.8,.7z" fill="#f5f4f3" stroke="#222222"/><path d="M172.9,281.9l1.7-1.5-.9-1-1.7,1.4z" fill="#d4bfbf" stroke="#222222"/><path d="M175.5,281.4l1.6-2.5-.9-.9-1.6,2.5z" fill="#b98185" stroke="#222222"/><path d="M178.0,279.8l1.7-2.6-.9-.9-1.7,2.6z" fill="#b06066" stroke="#361519"/><path d="M180.6,278.1l1.7-1.6-.9-.9-1.7,1.6z" fill="#c25f66" stroke="#400e14"/><path d="M183.3,277.4l1.8-.8-.9-.9-1.8,.8z" fill="#d7656d" stroke="#400e14"/><path d="M186.0,277.5l1.8-.8-.9-.9-1.8,.8z" fill="#d46068" stroke="#400e14"/><path d="M188.7,277.6l1.8-.9-.9-.9-1.8,.9z" fill="#d25a62"/><path d="M191.5,278.3l1.8-.9-1-1.6-1.8,.9z" fill="#e0747c"/><path d="M194.3,280.1l1.8-.8-1-2.7-1.8,.9z" fill="#e7949b" stroke="#400e14"/><path d="M197.2,282.4l1.8-.8-1-3.2-1.8,.9z" fill="#efb4b9" stroke="#361519"/><path d="M200.0,284.5l1.8-.7-1-3-1.8,.8z" fill="#f9e0e3" stroke="#222222"/><path d="M202.8,285.6l1.8-.6-1-1.8-1.8,.7z" fill="#f4f4f2" stroke="#222222"/><path d="M173.8,282.9l1.7-1.5-.9-1-1.7,1.5z" fill="#d4bfbf" stroke="#222222"/><path d="M176.4,282.4l1.7-2.6-.9-.9-1.6,2.5z" fill="#b98185" stroke="#222222"/><path d="M178.9,280.8l1.7-2.6-.9-.9-1.7,2.6z" fill="#b06066" stroke="#361519"/><path d="M181.5,279.0l1.8-1.6-.9-.9-1.7,1.6z" fill="#c25f66" stroke="#400e14"/><path d="M184.2,278.3l1.8-.8-.9-.9-1.8,.8z" fill="#d7656d" stroke="#400e14"/><path d="M186.9,278.4l1.8-.8-.9-.9-1.8,.8z" fill="#d46068" stroke="#400e14"/><path d="M189.7,279.2l1.8-.8-1-1.6-1.8,.9z" fill="#e27a82" stroke="#400e14"/><path d="M192.5,280.9l1.8-.8-1-2.7-1.8,.9z" fill="#e99aa0" stroke="#400e14"/><path d="M195.3,283.1l1.8-.7-1-3.1-1.8,.8z" fill="#f0b8bd" stroke="#2c1b1d"/><path d="M198.1,285.2l1.8-.7-1-2.9-1.8,.8z" fill="#fae3e6" stroke="#222222"/><path d="M200.9,286.2l1.8-.6-1-1.8-1.8,.7z" fill="#f4f4f2" stroke="#222222"/><path d="M174.7,283.9l1.7-1.5-.9-1-1.7,1.5z" fill="#d4bfbf" stroke="#222222"/><path d="M177.3,283.4l1.7-2.6-.9-.9-1.7,2.6z" fill="#b98185" stroke="#222222"/><path d="M179.8,281.7l1.7-2.7-.9-.9-1.7,2.6z" fill="#b06066" stroke="#361519"/><path d="M182.4,280.0l1.8-1.7-.9-.9-1.8,1.6z" fill="#c25f66" stroke="#400e14"/><path d="M185.1,279.2l1.8-.8-.9-.9-1.8,.8z" fill="#d7656d" stroke="#400e14"/><path d="M187.9,280.0l1.8-.8-1-1.6-1.8,.8z" fill="#e37f87" stroke="#400e14"/><path d="M190.7,281.7l1.8-.8-1-2.6-1.8,.8z" fill="#ea9fa4" stroke="#361519"/><path d="M193.5,283.9l1.8-.7-1-3-1.8,.8z" fill="#f1bcc1" stroke="#2c1b1d"/><path d="M196.3,285.8l1.8-.7-1-2.8-1.8,.7z" fill="#fbe8eb" stroke="#222222"/><path d="M199.1,286.9l1.8-.6-1-1.7-1.8,.7z" fill="#f4f4f2" stroke="#222222"/><path d="M175.5,284.8l1.7-1.5-.9-1-1.7,1.5z" fill="#d4bfbf" stroke="#222222"/><path d="M178.1,284.3l1.7-2.6-.9-.9-1.7,2.6z" fill="#b98185" stroke="#222222"/><path d="M180.7,282.6l1.7-2.7-.9-.9-1.7,2.7z" fill="#b06066" stroke="#361519"/><path d="M183.3,280.9l1.8-1.7-.9-.9-1.8,1.7z" fill="#c25f66" stroke="#400e14"/><path d="M186.0,280.7l1.8-.8-.9-1.6-1.8,.8z" fill="#e4848c" stroke="#400e14"/><path d="M188.8,282.5l1.8-.8-1-2.5-1.8,.8z" fill="#eba3a9" stroke="#361519"/><path d="M191.7,284.6l1.8-.7-1-2.9-1.8,.8z" fill="#f2c0c4" stroke="#2c1b1d"/><path d="M194.5,286.5l1.8-.7-1-2.7-1.8,.7z" fill="#f7f6f6" stroke="#222222"/><path d="M197.2,287.5l1.8-.6-.9-1.7-1.8,.7z" fill="#f4f3f2" stroke="#222222"/><path d="M176.4,285.8l1.7-1.5-.9-1-1.7,1.5z" fill="#d4bfbf" stroke="#222222"/><path d="M179.0,285.3l1.7-2.6-.9-.9-1.7,2.6z" fill="#b98185" stroke="#222222"/><path d="M181.6,283.6l1.7-2.7-.9-.9-1.7,2.7z" fill="#b06066" stroke="#361519"/><path d="M184.2,282.3l1.8-1.6-.9-1.5-1.8,1.7z" fill="#d8757c" stroke="#361519"/><path d="M187.0,283.2l1.8-.7-1-2.5-1.8,.8z" fill="#eca6ac" stroke="#361519"/><path d="M189.8,285.3l1.8-.7-1-2.9-1.8,.8z" fill="#f2c3c7" stroke="#2c1b1d"/><path d="M192.6,287.1l1.8-.7-1-2.6-1.8,.7z" fill="#f7f6f6" stroke="#222222"/><path d="M195.4,288.1l1.8-.6-.9-1.7-1.8,.7z" fill="#f4f3f2" stroke="#222222"/><path d="M177.3,286.8l1.7-1.5-.9-1-1.7,1.5z" fill="#d4bfbf" stroke="#222222"/><path d="M179.9,286.2l1.7-2.6-.9-.9-1.7,2.6z" fill="#b98185" stroke="#222222"/><path d="M182.5,284.8l1.7-2.5-.9-1.4-1.7,2.7z" fill="#c07278" stroke="#2c1b1d"/><path d="M185.2,284.5l1.8-1.3-1-2.4-1.8,1.6z" fill="#eb9ea4" stroke="#361519"/><path d="M188.0,286.0l1.8-.7-1-2.8-1.8,.7z" fill="#f3c5ca" stroke="#2c1b1d"/><path d="M190.8,287.8l1.8-.7-1-2.6-1.8,.7z" fill="#f7f6f5" stroke="#222222"/><path d="M193.6,288.8l1.8-.6-.9-1.7-1.8,.7z" fill="#f4f3f2" stroke="#222222"/><path d="M178.2,287.8l1.7-1.5-.9-1-1.7,1.5z" fill="#d4bfbf" stroke="#222222"/><path d="M180.8,287.3l1.7-2.5-.9-1.2-1.7,2.6z" fill="#c39094" stroke="#222222"/><path d="M183.4,286.5l1.8-2-1-2.2-1.7,2.5z" fill="#dc9ba1" stroke="#2c1b1d"/><path d="M186.2,287.0l1.8-1-1-2.8-1.8,1.3z" fill="#f4c6cb" stroke="#2c1b1d"/><path d="M188.9,288.4l1.8-.6-1-2.5-1.8,.7z" fill="#f7f6f5" stroke="#222222"/><path d="M191.7,289.4l1.8-.6-.9-1.6-1.8,.7z" fill="#f4f3f1" stroke="#222222"/><path d="M179.0,288.7l1.8-1.4-.9-1.1-1.7,1.5z" fill="#d7c5c4" stroke="#222222"/><path d="M181.7,288.5l1.7-2-.9-1.7-1.7,2.5z" fill="#d4bdbe" stroke="#222222"/><path d="M184.4,288.3l1.8-1.4-1-2.5-1.8,2z" fill="#f8d4d9" stroke="#222222"/><path d="M187.1,289.2l1.8-.7-1-2.5-1.8,1z" fill="#f6f5f5" stroke="#222222"/><path d="M189.9,290.1l1.8-.6-.9-1.6-1.8,.6z" fill="#f4f3f1" stroke="#222222"/><path d="M179.9,289.7l1.8-1.2-.9-1.2-1.8,1.4z" fill="#dfd2d1" stroke="#222222"/><path d="M182.6,289.7l1.8-1.4-.9-1.8-1.7,2z" fill="#e8dfde" stroke="#222222"/><path d="M185.3,290.0l1.8-.9-1-2.2-1.8,1.4z" fill="#f5f4f3" stroke="#222222"/><path d="M188.0,290.7l1.8-.6-.9-1.6-1.8,.7z" fill="#f3f3f1" stroke="#222222"/><path d="M180.8,290.7l1.8-1-.9-1.2-1.8,1.2z" fill="#e8e1df" stroke="#222222"/><path d="M183.5,290.9l1.8-.8-.9-1.7-1.8,1.4z" fill="#f2f2f0" stroke="#222222"/><path d="M186.2,291.3l1.8-.6-.9-1.5-1.8,.9z" fill="#f2f2f0" stroke="#222222"/><path d="M181.6,291.6l1.8-.7-.9-1.2-1.8,1z" fill="#eeebe9" stroke="#222222"/><path d="M184.4,292.0l1.8-.6-.9-1.3-1.8,.8z" fill="#f1f1ee" stroke="#222222"/><path d="M182.5,292.6l1.8-.6-.9-1.1-1.8,.7z" fill="#eeedea" stroke="#222222"/></g>
<text x="153.00" y="258.42" font-size="7.0" fill="#333" stroke="#333" stroke-width="0.2" textLength="6.80" lengthAdjust="spacingAndGlyphs">30</text>
<text x="153.77" y="268.92" font-size="7.0" fill="#333" stroke="#333" stroke-width="0.2" textLength="6.80" lengthAdjust="spacingAndGlyphs">10</text>
<text x="151.13" y="279.42" font-size="7.0" fill="#333" stroke="#333" stroke-width="0.2" textLength="10.20" lengthAdjust="spacingAndGlyphs">&#8722;10</text>
<text x="151.90" y="289.92" font-size="7.0" fill="#333" stroke="#333" stroke-width="0.2" textLength="10.20" lengthAdjust="spacingAndGlyphs">&#8722;30</text>
<text x="155.23" y="295.62" font-size="7.0" fill="#333" stroke="#333" stroke-width="0.2" textLength="9.75" lengthAdjust="spacingAndGlyphs">400</text>
<text x="160.88" y="301.02" font-size="7.0" fill="#333" stroke="#333" stroke-width="0.2" textLength="9.75" lengthAdjust="spacingAndGlyphs">200</text>
<text x="165.28" y="307.22" font-size="7.0" fill="#333" stroke="#333" stroke-width="0.2" textLength="9.75" lengthAdjust="spacingAndGlyphs">100</text>
<text x="172.20" y="313.42" font-size="7.0" fill="#333" stroke="#333" stroke-width="0.2" textLength="6.50" lengthAdjust="spacingAndGlyphs">50</text>
<text x="189.35" y="314.92" font-size="7.0" fill="#333" stroke="#333" stroke-width="0.2" textLength="7.00" lengthAdjust="spacingAndGlyphs">50</text>
<text x="197.05" y="311.92" font-size="7.0" fill="#333" stroke="#333" stroke-width="0.2" textLength="10.50" lengthAdjust="spacingAndGlyphs">100</text>
<text x="207.80" y="307.52" font-size="7.0" fill="#333" stroke="#333" stroke-width="0.2" textLength="10.50" lengthAdjust="spacingAndGlyphs">200</text>
<text x="217.25" y="303.02" font-size="7.0" fill="#333" stroke="#333" stroke-width="0.2" textLength="10.50" lengthAdjust="spacingAndGlyphs">400</text>
<g transform="translate(142.80,271.50) rotate(-90)"><text x="-13.35" y="2.84" font-size="7.9" fill="#2a2a2a" stroke="#2a2a2a" stroke-width="0.25" textLength="26.70" lengthAdjust="spacingAndGlyphs">&#948;&#8722;score</text></g>
<g transform="translate(155.00,310.60) rotate(46)"><text x="-13.50" y="3.02" font-size="8.4" fill="#2a2a2a" stroke="#2a2a2a" stroke-width="0.25" textLength="27.00" lengthAdjust="spacingAndGlyphs">BETi (nM)</text></g>
<g transform="translate(211.30,319.80) rotate(-25)"><text x="-16.65" y="3.10" font-size="8.6" fill="#2a2a2a" stroke="#2a2a2a" stroke-width="0.25" textLength="33.30" lengthAdjust="spacingAndGlyphs">p300i (nM)</text></g>
<rect x="161.90" y="242.00" width="55.00" height="2.20" fill="url(#cbar)"/>
<text x="156.60" y="239.42" font-size="7.0" fill="#333" stroke="#333" stroke-width="0.15" textLength="11.40" lengthAdjust="spacingAndGlyphs">&#8722;30</text>
<text x="174.30" y="239.42" font-size="7.0" fill="#333" stroke="#333" stroke-width="0.15" textLength="12.00" lengthAdjust="spacingAndGlyphs">&#8722;10</text>
<text x="195.30" y="239.42" font-size="7.0" fill="#333" stroke="#333" stroke-width="0.15" textLength="6.80" lengthAdjust="spacingAndGlyphs">10</text>
<text x="213.10" y="239.42" font-size="7.0" fill="#333" stroke="#333" stroke-width="0.15" textLength="7.20" lengthAdjust="spacingAndGlyphs">30</text>
<line x1="273.10" y1="287.20" x2="290.60" y2="309.00" stroke="#808080" stroke-width="0.6"/>
<line x1="290.60" y1="309.00" x2="325.10" y2="293.00" stroke="#808080" stroke-width="0.6"/>
<line x1="270.80" y1="255.70" x2="273.10" y2="287.20" stroke="#808080" stroke-width="0.6"/>
<line x1="327.80" y1="263.40" x2="325.10" y2="293.00" stroke="#808080" stroke-width="0.6"/>
<line x1="288.20" y1="272.10" x2="290.60" y2="309.00" stroke="#808080" stroke-width="0.6"/>
<line x1="270.80" y1="255.70" x2="305.10" y2="248.00" stroke="#808080" stroke-width="0.6"/>
<line x1="305.10" y1="248.00" x2="327.80" y2="263.40" stroke="#808080" stroke-width="0.6"/>
<line x1="270.80" y1="255.70" x2="288.20" y2="272.10" stroke="#808080" stroke-width="0.6"/>
<line x1="288.20" y1="272.10" x2="327.80" y2="263.40" stroke="#808080" stroke-width="0.6"/>
<line x1="273.10" y1="287.20" x2="306.10" y2="274.00" stroke="#999" stroke-width="0.5" stroke-dasharray="0.8 1.6"/>
<line x1="306.10" y1="274.00" x2="325.10" y2="293.00" stroke="#999" stroke-width="0.5" stroke-dasharray="0.8 1.6"/>
<line x1="305.10" y1="248.00" x2="306.10" y2="274.00" stroke="#999" stroke-width="0.5" stroke-dasharray="0.8 1.6"/>
<g stroke="#4a0810" stroke-width="0.5" stroke-opacity="0.48" stroke-linejoin="round"><path d="M304.7,255.2l1.7-1.7-1.1-.8-1.7,1.7z" fill="#a91f28"/><path d="M303.0,256.8l1.7-1.5-1.1-.8-1.7,1.5z" fill="#ad242c"/><path d="M305.8,256.1l1.7-1.7-1.1-.8-1.7,1.7z" fill="#a91f28"/><path d="M301.4,258.2l1.7-1.4-1.1-.8-1.7,1.4z" fill="#b5323b"/><path d="M304.1,257.6l1.7-1.6-1.1-.8-1.7,1.5z" fill="#ad242c"/><path d="M306.9,256.9l1.7-1.7-1.1-.8-1.7,1.7z" fill="#a91f28"/><path d="M299.7,259.5l1.7-1.3-1-.8-1.7,1.3z" fill="#bc424a"/><path d="M302.4,259.0l1.7-1.4-1.1-.8-1.7,1.4z" fill="#b5323b"/><path d="M305.2,258.4l1.7-1.6-1.1-.8-1.7,1.6z" fill="#ad242c"/><path d="M308.0,257.7l1.7-1.7-1.1-.8-1.7,1.7z" fill="#a91f28"/><path d="M298.0,260.7l1.7-1.2-1-.8-1.7,1.2z" fill="#c35159"/><path d="M300.7,260.4l1.7-1.3-1-.8-1.7,1.3z" fill="#bc424a"/><path d="M303.5,259.9l1.7-1.4-1.1-.8-1.7,1.4z" fill="#b5323b"/><path d="M306.2,259.3l1.7-1.6-1.1-.8-1.7,1.6z" fill="#ad242c"/><path d="M309.0,258.5l1.8-1.7-1.1-.8-1.7,1.7z" fill="#a91f28"/><path d="M296.4,261.8l1.7-1.1-1-.9-1.7,1.1z" fill="#ca5f67" stroke="#400e14"/><path d="M299.0,261.6l1.7-1.2-1-.8-1.7,1.2z" fill="#c35159"/><path d="M301.8,261.2l1.7-1.3-1-.8-1.7,1.3z" fill="#bc424a"/><path d="M304.5,260.7l1.7-1.5-1.1-.8-1.7,1.4z" fill="#b5323b"/><path d="M307.3,260.1l1.7-1.6-1.1-.8-1.7,1.6z" fill="#ad242c"/><path d="M310.1,259.3l1.8-1.7-1.1-.8-1.8,1.7z" fill="#a91f28"/><path d="M294.7,262.8l1.7-1-1-.9-1.7,1z" fill="#d06d75" stroke="#400e14"/><path d="M297.4,262.7l1.7-1.1-1-.9-1.7,1.1z" fill="#ca5f67" stroke="#400e14"/><path d="M300.1,262.4l1.7-1.2-1-.8-1.7,1.2z" fill="#c35159"/><path d="M302.8,262.1l1.7-1.3-1-.8-1.7,1.3z" fill="#bc424a"/><path d="M305.6,261.6l1.7-1.5-1.1-.8-1.7,1.5z" fill="#b5323b"/><path d="M308.4,260.9l1.8-1.6-1.1-.8-1.7,1.6z" fill="#ad242c"/><path d="M311.2,260.1l1.8-1.7-1.1-.8-1.8,1.7z" fill="#a91f28"/><path d="M293.0,263.8l1.7-.9-1-.9-1.7,.9z" fill="#d67a81" stroke="#361519"/><path d="M295.7,263.7l1.7-1-1-.9-1.7,1z" fill="#d06d75" stroke="#400e14"/><path d="M298.4,263.6l1.7-1.1-1-.9-1.7,1.1z" fill="#ca5f67" stroke="#400e14"/><path d="M301.1,263.3l1.7-1.2-1-.8-1.7,1.2z" fill="#c35159"/><path d="M303.8,262.9l1.7-1.4-1-.8-1.7,1.3z" fill="#bc424a"/><path d="M306.6,262.4l1.8-1.5-1.1-.8-1.7,1.5z" fill="#b5323b"/><path d="M309.4,261.7l1.8-1.6-1.1-.8-1.8,1.6z" fill="#ad242c"/><path d="M312.3,260.9l1.8-1.8-1.1-.8-1.8,1.7z" fill="#a91f28"/><path d="M291.3,264.6l1.7-.9-1-.9-1.7,.9z" fill="#db868d" stroke="#361519"/><path d="M294.0,264.7l1.7-.9-1-.9-1.7,.9z" fill="#d67a81" stroke="#361519"/><path d="M296.7,264.6l1.7-1-1-.9-1.7,1z" fill="#d06d75" stroke="#400e14"/><path d="M299.4,264.4l1.7-1.1-1-.9-1.7,1.1z" fill="#ca5f67" stroke="#400e14"/><path d="M302.1,264.1l1.7-1.2-1-.8-1.7,1.2z" fill="#c35159"/><path d="M304.9,263.8l1.7-1.4-1-.8-1.7,1.4z" fill="#bc424a"/><path d="M307.7,263.2l1.8-1.5-1.1-.8-1.8,1.5z" fill="#b5323b"/><path d="M310.5,262.6l1.8-1.6-1.1-.8-1.8,1.6z" fill="#ad242c"/><path d="M313.4,261.8l1.8-1.8-1.1-.8-1.8,1.8z" fill="#a91f28"/><path d="M289.6,265.4l1.7-.8-1-.9-1.7,.8z" fill="#df9197" stroke="#361519"/><path d="M292.3,265.5l1.7-.9-1-.9-1.7,.9z" fill="#db868d" stroke="#361519"/><path d="M295.0,265.5l1.7-1-1-.9-1.7,.9z" fill="#d67a81" stroke="#361519"/><path d="M297.7,265.5l1.7-1-1-.9-1.7,1z" fill="#d06d75" stroke="#400e14"/><path d="M300.4,265.3l1.7-1.1-1-.9-1.7,1.1z" fill="#ca5f67" stroke="#400e14"/><path d="M303.1,265.0l1.7-1.3-1-.8-1.7,1.2z" fill="#c35159"/><path d="M305.9,264.6l1.8-1.4-1-.8-1.7,1.4z" fill="#bc424a"/><path d="M308.7,264.1l1.8-1.5-1.1-.8-1.8,1.5z" fill="#b5323b"/><path d="M311.5,263.4l1.8-1.6-1.1-.8-1.8,1.6z" fill="#ad242c"/><path d="M314.4,262.6l1.9-1.8-1.1-.8-1.8,1.8z" fill="#a91f28"/><path d="M288.0,266.2l1.7-.7-1-.9-1.7,.7z" fill="#e399a0" stroke="#2c1b1d"/><path d="M290.6,266.3l1.7-.8-1-.9-1.7,.8z" fill="#df9197" stroke="#361519"/><path d="M293.3,266.4l1.7-.9-1-.9-1.7,.9z" fill="#db868d" stroke="#361519"/><path d="M296.0,266.4l1.7-1-1-.9-1.7,1z" fill="#d67a81" stroke="#361519"/><path d="M298.7,266.3l1.7-1.1-1-.9-1.7,1z" fill="#d06d75" stroke="#400e14"/><path d="M301.4,266.2l1.7-1.2-1-.9-1.7,1.1z" fill="#ca5f67" stroke="#400e14"/><path d="M304.1,265.9l1.8-1.3-1-.8-1.7,1.3z" fill="#c35159"/><path d="M306.9,265.4l1.8-1.4-1-.8-1.8,1.4z" fill="#bc424a"/><path d="M309.7,264.9l1.8-1.5-1.1-.8-1.8,1.5z" fill="#b5323b"/><path d="M312.6,264.2l1.8-1.6-1.1-.8-1.8,1.6z" fill="#ad242c"/><path d="M315.5,263.4l1.9-1.8-1.1-.8-1.9,1.8z" fill="#a91f28"/><path d="M286.3,266.9l1.7-.7-1-.9-1.7,.7z" fill="#e6a1a7" stroke="#2c1b1d"/><path d="M288.9,267.1l1.7-.7-1-.9-1.7,.7z" fill="#e399a0" stroke="#2c1b1d"/><path d="M291.6,267.2l1.7-.8-1-.9-1.7,.8z" fill="#df9197" stroke="#361519"/><path d="M294.2,267.3l1.7-.9-1-.9-1.7,.9z" fill="#db868d" stroke="#361519"/><path d="M296.9,267.3l1.7-1-1-.9-1.7,1z" fill="#d67a81" stroke="#361519"/><path d="M299.6,267.2l1.7-1.1-1-.9-1.7,1.1z" fill="#d06d75" stroke="#400e14"/><path d="M302.4,267.0l1.7-1.2-1-.9-1.7,1.2z" fill="#ca5f67" stroke="#400e14"/><path d="M305.2,266.7l1.8-1.3-1-.8-1.8,1.3z" fill="#c35159"/><path d="M308.0,266.3l1.8-1.4-1-.8-1.8,1.4z" fill="#bc424a"/><path d="M310.8,265.7l1.8-1.5-1.1-.8-1.8,1.5z" fill="#b5323b"/><path d="M313.7,265.0l1.9-1.7-1.1-.8-1.8,1.6z" fill="#ad242c"/><path d="M316.6,264.2l1.9-1.8-1.1-.8-1.9,1.8z" fill="#a91f28"/><path d="M284.6,267.5l1.7-.6-.9-.9-1.7,.6z" fill="#e8a6ac" stroke="#2c1b1d"/><path d="M287.2,267.8l1.7-.7-1-.9-1.7,.7z" fill="#e6a1a7" stroke="#2c1b1d"/><path d="M289.9,268.0l1.7-.7-1-.9-1.7,.7z" fill="#e399a0" stroke="#2c1b1d"/><path d="M292.5,268.1l1.7-.8-1-.9-1.7,.8z" fill="#df9197" stroke="#361519"/><path d="M295.2,268.2l1.7-.9-1-.9-1.7,.9z" fill="#db868d" stroke="#361519"/><path d="M297.9,268.2l1.7-1-1-.9-1.7,1z" fill="#d67a81" stroke="#361519"/><path d="M300.6,268.1l1.7-1.1-1-.9-1.7,1.1z" fill="#d06d75" stroke="#400e14"/><path d="M303.4,267.9l1.8-1.2-1-.9-1.7,1.2z" fill="#ca5f67" stroke="#400e14"/><path d="M306.2,267.6l1.8-1.3-1-.8-1.8,1.3z" fill="#c35159"/><path d="M309.0,267.1l1.8-1.4-1-.8-1.8,1.4z" fill="#bc424a"/><path d="M311.8,266.6l1.8-1.5-1.1-.8-1.8,1.5z" fill="#b5323b"/><path d="M314.7,265.9l1.9-1.7-1.1-.8-1.9,1.7z" fill="#ad242c"/><path d="M317.7,265.0l1.9-1.8-1.1-.8-1.9,1.8z" fill="#a91f28"/><path d="M282.9,268.1l1.7-.6-.9-.9-1.7,.6z" fill="#eaabb1" stroke="#2c1b1d"/><path d="M285.5,268.4l1.7-.6-.9-.9-1.7,.6z" fill="#e8a6ac" stroke="#2c1b1d"/><path d="M288.2,268.7l1.7-.7-1-.9-1.7,.7z" fill="#e6a1a7" stroke="#2c1b1d"/><path d="M290.8,268.9l1.7-.8-1-.9-1.7,.7z" fill="#e399a0" stroke="#2c1b1d"/><path d="M293.5,269.0l1.7-.8-1-.9-1.7,.8z" fill="#df9197" stroke="#361519"/><path d="M296.2,269.1l1.7-.9-1-.9-1.7,.9z" fill="#db868d" stroke="#361519"/><path d="M298.9,269.1l1.7-1-1-.9-1.7,1z" fill="#d67a81" stroke="#361519"/><path d="M301.6,269.0l1.8-1.1-1-.9-1.7,1.1z" fill="#d06d75" stroke="#400e14"/><path d="M304.4,268.7l1.8-1.2-1-.9-1.8,1.2z" fill="#ca5f67" stroke="#400e14"/><path d="M307.2,268.4l1.8-1.3-1-.8-1.8,1.3z" fill="#c35159"/><path d="M310.0,268.0l1.8-1.4-1-.8-1.8,1.4z" fill="#bc424a"/><path d="M312.9,267.4l1.8-1.5-1.1-.8-1.8,1.5z" fill="#b5323b"/><path d="M315.8,266.7l1.9-1.7-1.1-.8-1.9,1.7z" fill="#ad242c"/><path d="M318.8,265.8l1.9-1.8-1.1-.8-1.9,1.8z" fill="#a91f28"/><path d="M281.2,268.9l1.7-.8-.9-.9-1.7,.8z" fill="#e5a9af" stroke="#2c1b1d"/><path d="M283.8,269.0l1.7-.6-.9-.9-1.7,.6z" fill="#eaabb1" stroke="#2c1b1d"/><path d="M286.5,269.3l1.7-.7-.9-.9-1.7,.6z" fill="#e8a6ac" stroke="#2c1b1d"/><path d="M289.1,269.6l1.7-.7-1-.9-1.7,.7z" fill="#e6a1a7" stroke="#2c1b1d"/><path d="M291.8,269.8l1.7-.8-1-.9-1.7,.8z" fill="#e399a0" stroke="#2c1b1d"/><path d="M294.5,269.9l1.7-.8-1-.9-1.7,.8z" fill="#df9197" stroke="#361519"/><path d="M297.2,270.0l1.7-.9-1-.9-1.7,.9z" fill="#db868d" stroke="#361519"/><path d="M299.9,269.9l1.8-1-1-.9-1.7,1z" fill="#d67a81" stroke="#361519"/><path d="M302.6,269.8l1.8-1.1-1-.9-1.8,1.1z" fill="#d06d75" stroke="#400e14"/><path d="M305.4,269.6l1.8-1.2-1-.9-1.8,1.2z" fill="#ca5f67" stroke="#400e14"/><path d="M308.2,269.3l1.8-1.3-1-.8-1.8,1.3z" fill="#c35159"/><path d="M311.1,268.8l1.8-1.4-1-.8-1.8,1.4z" fill="#bc424a"/><path d="M313.9,268.2l1.9-1.6-1.1-.8-1.8,1.5z" fill="#b5323b"/><path d="M316.9,267.5l1.9-1.7-1.1-.8-1.9,1.7z" fill="#ad242c"/><path d="M319.8,267.4l1.9-1.7-1.1-1.6-1.9,1.8z" fill="#bf1c26"/><path d="M279.6,270.0l1.7-1.1-.9-.9-1.6,1.1z" fill="#dda8ad" stroke="#222222"/><path d="M282.1,269.8l1.7-.8-.9-.9-1.7,.8z" fill="#e5a9af" stroke="#2c1b1d"/><path d="M284.7,269.9l1.7-.6-.9-.9-1.7,.6z" fill="#eaabb1" stroke="#2c1b1d"/><path d="M287.4,270.2l1.7-.7-.9-.9-1.7,.7z" fill="#e8a6ac" stroke="#2c1b1d"/><path d="M290.0,270.5l1.7-.7-1-.9-1.7,.7z" fill="#e6a1a7" stroke="#2c1b1d"/><path d="M292.7,270.7l1.7-.8-1-.9-1.7,.8z" fill="#e399a0" stroke="#2c1b1d"/><path d="M295.4,270.8l1.7-.8-1-.9-1.7,.8z" fill="#df9197" stroke="#361519"/><path d="M298.1,270.9l1.8-.9-1-.9-1.7,.9z" fill="#db868d" stroke="#361519"/><path d="M300.9,270.8l1.8-1-1-.9-1.8,1z" fill="#d67a81" stroke="#361519"/><path d="M303.6,270.7l1.8-1.1-1-.9-1.8,1.1z" fill="#d06d75" stroke="#400e14"/><path d="M306.4,270.5l1.8-1.2-1-.9-1.8,1.2z" fill="#ca5f67" stroke="#400e14"/><path d="M309.2,270.1l1.8-1.3-1-.8-1.8,1.3z" fill="#c35159"/><path d="M312.1,269.7l1.8-1.4-1-.8-1.8,1.4z" fill="#bc424a"/><path d="M315.0,269.1l1.9-1.6-1.1-.8-1.9,1.6z" fill="#b5323b"/><path d="M317.9,269.0l1.9-1.6-1-1.5-1.9,1.7z" fill="#c42832"/><path d="M320.8,270.0l1.9-1.5-1-2.9-1.9,1.7z" fill="#d33a45"/><path d="M277.9,271.3l1.6-1.3-.9-.9-1.6,1.3z" fill="#d8c3c4" stroke="#222222"/><path d="M280.5,271.0l1.7-1.1-.9-.9-1.7,1.1z" fill="#dda8ad" stroke="#222222"/><path d="M283.1,270.8l1.7-.8-.9-.9-1.7,.8z" fill="#e5a9af" stroke="#2c1b1d"/><path d="M285.7,270.9l1.7-.6-.9-.9-1.7,.6z" fill="#eaabb1" stroke="#2c1b1d"/><path d="M288.3,271.2l1.7-.7-.9-.9-1.7,.7z" fill="#e8a6ac" stroke="#2c1b1d"/><path d="M291.0,271.4l1.7-.7-1-.9-1.7,.7z" fill="#e6a1a7" stroke="#2c1b1d"/><path d="M293.7,271.6l1.7-.8-1-.9-1.7,.8z" fill="#e399a0" stroke="#2c1b1d"/><path d="M296.4,271.7l1.8-.8-1-.9-1.7,.8z" fill="#df9197" stroke="#361519"/><path d="M299.1,271.7l1.8-.9-1-.9-1.8,.9z" fill="#db868d" stroke="#361519"/><path d="M301.9,271.7l1.8-1-1-.9-1.8,1z" fill="#d67a81" stroke="#361519"/><path d="M304.6,271.6l1.8-1.1-1-.9-1.8,1.1z" fill="#d06d75" stroke="#400e14"/><path d="M307.4,271.3l1.8-1.2-1-.9-1.8,1.2z" fill="#ca5f67" stroke="#400e14"/><path d="M310.3,271.0l1.8-1.3-1-.8-1.8,1.3z" fill="#c35159"/><path d="M313.1,270.5l1.9-1.4-1-.8-1.8,1.4z" fill="#bc424a"/><path d="M316.0,270.5l1.9-1.5-1-1.5-1.9,1.6z" fill="#cb3c45"/><path d="M318.9,271.4l1.9-1.4-1-2.6-1.9,1.6z" fill="#d8515b"/><path d="M321.7,273.2l1.9-1.2-.9-3.5-1.9,1.5z" fill="#e0737b"/><path d="M276.3,272.6l1.6-1.3-.9-.9-1.6,1.3z" fill="#d6c3c3" stroke="#222222"/><path d="M278.8,272.3l1.6-1.3-.9-.9-1.6,1.3z" fill="#d8c3c4" stroke="#222222"/><path d="M281.4,271.9l1.7-1.1-.9-.9-1.7,1.1z" fill="#dda8ad" stroke="#222222"/><path d="M284.0,271.7l1.7-.8-.9-.9-1.7,.8z" fill="#e5a9af" stroke="#2c1b1d"/><path d="M286.6,271.8l1.7-.6-.9-.9-1.7,.6z" fill="#eaabb1" stroke="#2c1b1d"/><path d="M289.3,272.1l1.7-.7-.9-.9-1.7,.7z" fill="#e8a6ac" stroke="#2c1b1d"/><path d="M291.9,272.3l1.7-.7-1-.9-1.7,.7z" fill="#e6a1a7" stroke="#2c1b1d"/><path d="M294.6,272.5l1.8-.8-1-.9-1.7,.8z" fill="#e399a0" stroke="#2c1b1d"/><path d="M297.3,272.6l1.8-.8-1-.9-1.8,.8z" fill="#df9197" stroke="#361519"/><path d="M300.1,272.6l1.8-.9-1-.9-1.8,.9z" fill="#db868d" stroke="#361519"/><path d="M302.8,272.6l1.8-1-1-.9-1.8,1z" fill="#d67a81" stroke="#361519"/><path d="M305.6,272.5l1.8-1.1-1-.9-1.8,1.1z" fill="#d06d75" stroke="#400e14"/><path d="M308.4,272.2l1.8-1.2-1-.9-1.8,1.2z" fill="#ca5f67" stroke="#400e14"/><path d="M311.3,271.9l1.8-1.3-1-.8-1.8,1.3z" fill="#c35159"/><path d="M314.1,271.9l1.9-1.4-1-1.4-1.9,1.4z" fill="#d14e58"/><path d="M317.0,272.8l1.9-1.3-1-2.5-1.9,1.5z" fill="#dd666f"/><path d="M319.8,274.4l1.9-1.2-.9-3.2-1.9,1.4z" fill="#e4858c" stroke="#400e14"/><path d="M322.6,276.5l1.9-1-.9-3.5-1.9,1.2z" fill="#eeadb2" stroke="#361519"/><path d="M274.6,273.7l1.6-1.1-.9-1-1.6,1.1z" fill="#dbcccb" stroke="#222222"/><path d="M277.2,273.6l1.6-1.3-.9-.9-1.6,1.3z" fill="#d6c3c3" stroke="#222222"/><path d="M279.7,273.2l1.7-1.3-.9-.9-1.6,1.3z" fill="#d8c3c4" stroke="#222222"/><path d="M282.3,272.8l1.7-1.2-.9-.9-1.7,1.1z" fill="#dda8ad" stroke="#222222"/><path d="M284.9,272.6l1.7-.8-.9-.9-1.7,.8z" fill="#e5a9af" stroke="#2c1b1d"/><path d="M287.5,272.7l1.7-.6-.9-.9-1.7,.6z" fill="#eaabb1" stroke="#2c1b1d"/><path d="M290.2,273.0l1.7-.7-.9-.9-1.7,.7z" fill="#e8a6ac" stroke="#2c1b1d"/><path d="M292.9,273.2l1.8-.7-1-.9-1.7,.7z" fill="#e6a1a7" stroke="#2c1b1d"/><path d="M295.6,273.4l1.8-.8-1-.9-1.8,.8z" fill="#e399a0" stroke="#2c1b1d"/><path d="M298.3,273.5l1.8-.9-1-.9-1.8,.8z" fill="#df9197" stroke="#361519"/><path d="M301.1,273.5l1.8-.9-1-.9-1.8,.9z" fill="#db868d" stroke="#361519"/><path d="M303.8,273.5l1.8-1-1-.9-1.8,1z" fill="#d67a81" stroke="#361519"/><path d="M306.6,273.3l1.8-1.1-1-.9-1.8,1.1z" fill="#d06d75" stroke="#400e14"/><path d="M309.4,273.1l1.8-1.2-1-.9-1.8,1.2z" fill="#ca5f67" stroke="#400e14"/><path d="M312.3,273.2l1.9-1.3-1-1.4-1.8,1.3z" fill="#d76069" stroke="#400e14"/><path d="M315.1,274.0l1.9-1.2-1-2.3-1.9,1.4z" fill="#e17880" stroke="#400e14"/><path d="M317.9,275.5l1.9-1.1-.9-3-1.9,1.3z" fill="#e8949a" stroke="#400e14"/><path d="M320.7,277.4l1.9-.9-.9-3.2-1.9,1.2z" fill="#f0b8bd" stroke="#2c1b1d"/><path d="M323.5,279.2l1.8-.7-.9-2.9-1.9,1z" fill="#f7f5f5" stroke="#222222"/><path d="M273.0,274.5l1.7-.8-.9-1-1.7,.8z" fill="#e5dfdc" stroke="#222222"/><path d="M275.5,274.7l1.7-1.1-.9-1-1.6,1.1z" fill="#dbcccb" stroke="#222222"/><path d="M278.1,274.5l1.7-1.3-.9-.9-1.6,1.3z" fill="#d6c3c3" stroke="#222222"/><path d="M280.6,274.2l1.7-1.3-.9-.9-1.7,1.3z" fill="#d8c3c4" stroke="#222222"/><path d="M283.2,273.8l1.7-1.2-.9-.9-1.7,1.2z" fill="#dda8ad" stroke="#222222"/><path d="M285.8,273.5l1.7-.8-.9-.9-1.7,.8z" fill="#e5a9af" stroke="#2c1b1d"/><path d="M288.5,273.6l1.7-.6-.9-.9-1.7,.6z" fill="#eaabb1" stroke="#2c1b1d"/><path d="M291.1,273.9l1.8-.7-.9-.9-1.7,.7z" fill="#e8a6ac" stroke="#2c1b1d"/><path d="M293.8,274.1l1.8-.7-1-.9-1.8,.7z" fill="#e6a1a7" stroke="#2c1b1d"/><path d="M296.5,274.3l1.8-.8-1-.9-1.8,.8z" fill="#e399a0" stroke="#2c1b1d"/><path d="M299.3,274.4l1.8-.9-1-.9-1.8,.9z" fill="#df9197" stroke="#361519"/><path d="M302.0,274.4l1.8-.9-1-.9-1.8,.9z" fill="#db868d" stroke="#361519"/><path d="M304.8,274.4l1.8-1-1-.9-1.8,1z" fill="#d67a81" stroke="#361519"/><path d="M307.6,274.2l1.8-1.1-1-.9-1.8,1.1z" fill="#d06d75" stroke="#400e14"/><path d="M310.4,274.3l1.8-1.2-1-1.3-1.8,1.2z" fill="#dd7179" stroke="#400e14"/><path d="M313.3,275.2l1.9-1.2-1-2.1-1.9,1.3z" fill="#e5888f" stroke="#400e14"/><path d="M316.1,276.6l1.9-1-.9-2.7-1.9,1.2z" fill="#eba1a7" stroke="#361519"/><path d="M318.9,278.3l1.9-.9-.9-3-1.9,1.1z" fill="#f3c3c8" stroke="#2c1b1d"/><path d="M321.6,279.9l1.8-.7-.9-2.7-1.9,.9z" fill="#f6f5f5" stroke="#222222"/><path d="M324.4,280.8l1.8-.6-1-1.7-1.8,.7z" fill="#f3f3f0" stroke="#222222"/><path d="M273.8,275.5l1.7-.8-.9-1-1.7,.8z" fill="#e5dfdc" stroke="#222222"/><path d="M276.4,275.7l1.7-1.1-.9-1-1.7,1.1z" fill="#dbcccb" stroke="#222222"/><path d="M279.0,275.5l1.7-1.3-.9-.9-1.7,1.3z" fill="#d6c3c3" stroke="#222222"/><path d="M281.5,275.1l1.7-1.3-.9-.9-1.7,1.3z" fill="#d8c3c4" stroke="#222222"/><path d="M284.1,274.7l1.7-1.2-.9-.9-1.7,1.2z" fill="#dda8ad" stroke="#222222"/><path d="M286.7,274.5l1.7-.8-.9-.9-1.7,.8z" fill="#e5a9af" stroke="#2c1b1d"/><path d="M289.4,274.5l1.8-.6-.9-.9-1.7,.6z" fill="#eaabb1" stroke="#2c1b1d"/><path d="M292.1,274.8l1.8-.7-.9-.9-1.8,.7z" fill="#e8a6ac" stroke="#2c1b1d"/><path d="M294.8,275.0l1.8-.7-1-.9-1.8,.7z" fill="#e6a1a7" stroke="#2c1b1d"/><path d="M297.5,275.2l1.8-.8-1-.9-1.8,.8z" fill="#e399a0" stroke="#2c1b1d"/><path d="M300.2,275.3l1.8-.9-1-.9-1.8,.9z" fill="#df9197" stroke="#361519"/><path d="M303.0,275.3l1.8-.9-1-.9-1.8,.9z" fill="#db868d" stroke="#361519"/><path d="M305.8,275.2l1.8-1-1-.9-1.8,1z" fill="#d67a81" stroke="#361519"/><path d="M308.6,275.4l1.8-1.1-1-1.3-1.8,1.1z" fill="#e28087" stroke="#361519"/><path d="M311.4,276.3l1.8-1.1-1-2-1.8,1.2z" fill="#e9969d" stroke="#361519"/><path d="M314.2,277.6l1.9-1-1-2.5-1.9,1.2z" fill="#eeadb3" stroke="#361519"/><path d="M317.0,279.1l1.8-.9-.9-2.8-1.9,1z" fill="#f5cdd1" stroke="#2c1b1d"/><path d="M319.8,280.6l1.8-.7-.9-2.5-1.9,.9z" fill="#f6f5f4" stroke="#222222"/><path d="M322.6,281.5l1.8-.6-1-1.6-1.8,.7z" fill="#f3f3f0" stroke="#222222"/><path d="M274.7,276.5l1.7-.8-.9-1-1.7,.8z" fill="#e5dfdc" stroke="#222222"/><path d="M277.3,276.6l1.7-1.2-.9-1-1.7,1.1z" fill="#dbcccb" stroke="#222222"/><path d="M279.8,276.4l1.7-1.3-.9-.9-1.7,1.3z" fill="#d6c3c3" stroke="#222222"/><path d="M282.4,276.1l1.7-1.3-.9-.9-1.7,1.3z" fill="#d8c3c4" stroke="#222222"/><path d="M285.0,275.6l1.7-1.2-.9-.9-1.7,1.2z" fill="#dda8ad" stroke="#222222"/><path d="M287.6,275.4l1.7-.9-.9-.9-1.7,.8z" fill="#e5a9af" stroke="#2c1b1d"/><path d="M290.3,275.5l1.8-.6-.9-.9-1.8,.6z" fill="#eaabb1" stroke="#2c1b1d"/><path d="M293.0,275.7l1.8-.7-.9-.9-1.8,.7z" fill="#e8a6ac" stroke="#2c1b1d"/><path d="M295.7,275.9l1.8-.7-1-.9-1.8,.7z" fill="#e6a1a7" stroke="#2c1b1d"/><path d="M298.4,276.1l1.8-.8-1-.9-1.8,.8z" fill="#e399a0" stroke="#2c1b1d"/><path d="M301.2,276.2l1.8-.9-1-.9-1.8,.9z" fill="#df9197" stroke="#361519"/><path d="M304.0,276.2l1.8-1-1-.9-1.8,.9z" fill="#db868d" stroke="#361519"/><path d="M306.8,276.5l1.8-1-1-1.2-1.8,1z" fill="#e78d95" stroke="#361519"/><path d="M309.6,277.3l1.8-1-1-1.9-1.8,1.1z" fill="#eba2a8" stroke="#361519"/><path d="M312.4,278.5l1.8-.9-1-2.4-1.8,1.1z" fill="#f0b8bd" stroke="#2c1b1d"/><path d="M315.2,280.0l1.8-.8-.9-2.6-1.9,1z" fill="#f7d6da" stroke="#222222"/><path d="M318.0,281.3l1.8-.7-.9-2.3-1.8,.9z" fill="#f6f5f4" stroke="#222222"/><path d="M320.8,282.1l1.8-.6-1-1.5-1.8,.7z" fill="#f2f2f0" stroke="#222222"/><path d="M275.6,277.4l1.7-.8-.9-1-1.7,.8z" fill="#e5dfdc" stroke="#222222"/><path d="M278.2,277.6l1.7-1.2-.9-1-1.7,1.2z" fill="#dbcccb" stroke="#222222"/><path d="M280.7,277.4l1.7-1.3-.9-.9-1.7,1.3z" fill="#d6c3c3" stroke="#222222"/><path d="M283.3,277.0l1.7-1.4-.9-.9-1.7,1.3z" fill="#d8c3c4" stroke="#222222"/><path d="M285.9,276.6l1.7-1.2-.9-.9-1.7,1.2z" fill="#dda8ad" stroke="#222222"/><path d="M288.6,276.3l1.7-.9-.9-.9-1.7,.9z" fill="#e5a9af" stroke="#2c1b1d"/><path d="M291.2,276.4l1.8-.7-.9-.9-1.8,.6z" fill="#eaabb1" stroke="#2c1b1d"/><path d="M293.9,276.6l1.8-.7-.9-.9-1.8,.7z" fill="#e8a6ac" stroke="#2c1b1d"/><path d="M296.7,276.8l1.8-.8-1-.9-1.8,.7z" fill="#e6a1a7" stroke="#2c1b1d"/><path d="M299.4,277.0l1.8-.8-1-.9-1.8,.8z" fill="#e399a0" stroke="#2c1b1d"/><path d="M302.2,277.1l1.8-.9-1-.9-1.8,.9z" fill="#df9197" stroke="#361519"/><path d="M304.9,277.4l1.8-.9-1-1.2-1.8,1z" fill="#ea99a0" stroke="#361519"/><path d="M307.7,278.2l1.8-.9-1-1.8-1.8,1z" fill="#eeacb2" stroke="#361519"/><path d="M310.5,279.4l1.8-.9-1-2.2-1.8,1z" fill="#f2c1c6" stroke="#2c1b1d"/><path d="M313.3,280.7l1.8-.8-.9-2.4-1.8,.9z" fill="#f9dfe2" stroke="#222222"/><path d="M316.1,282.0l1.8-.7-.9-2.2-1.8,.8z" fill="#f5f4f3" stroke="#222222"/><path d="M318.9,282.7l1.8-.6-1-1.5-1.8,.7z" fill="#f2f2ef" stroke="#222222"/><path d="M276.5,278.4l1.7-.8-.9-1-1.7,.8z" fill="#e5dfdc" stroke="#222222"/><path d="M279.0,278.6l1.7-1.2-.9-1-1.7,1.2z" fill="#dbcccb" stroke="#222222"/><path d="M281.6,278.4l1.7-1.4-.9-.9-1.7,1.3z" fill="#d6c3c3" stroke="#222222"/><path d="M284.2,277.9l1.7-1.4-.9-.9-1.7,1.4z" fill="#d8c3c4" stroke="#222222"/><path d="M286.8,277.5l1.7-1.2-.9-.9-1.7,1.2z" fill="#dda8ad" stroke="#222222"/><path d="M289.5,277.2l1.8-.9-.9-.9-1.7,.9z" fill="#e5a9af" stroke="#2c1b1d"/><path d="M292.2,277.3l1.8-.7-.9-.9-1.8,.7z" fill="#eaabb1" stroke="#2c1b1d"/><path d="M294.9,277.5l1.8-.7-.9-.9-1.8,.7z" fill="#e8a6ac" stroke="#2c1b1d"/><path d="M297.6,277.7l1.8-.8-1-.9-1.8,.8z" fill="#e6a1a7" stroke="#2c1b1d"/><path d="M300.3,277.9l1.8-.8-1-.9-1.8,.8z" fill="#e399a0" stroke="#2c1b1d"/><path d="M303.1,278.3l1.8-.9-1-1.2-1.8,.9z" fill="#eca3a9" stroke="#2c1b1d"/><path d="M305.9,279.1l1.8-.9-1-1.7-1.8,.9z" fill="#f0b5ba" stroke="#2c1b1d"/><path d="M308.7,280.2l1.8-.8-1-2.1-1.8,.9z" fill="#f4c9cd" stroke="#2c1b1d"/><path d="M311.5,281.5l1.8-.8-1-2.3-1.8,.9z" fill="#f7f5f5" stroke="#222222"/><path d="M314.3,282.7l1.8-.7-.9-2.1-1.8,.8z" fill="#f5f4f3" stroke="#222222"/><path d="M317.1,283.4l1.8-.6-1-1.4-1.8,.7z" fill="#f2f2ef" stroke="#222222"/><path d="M277.3,279.4l1.7-.8-.9-1-1.7,.8z" fill="#e5dfdc" stroke="#222222"/><path d="M279.9,279.5l1.7-1.2-.9-1-1.7,1.2z" fill="#dbcccb" stroke="#222222"/><path d="M282.5,279.3l1.7-1.4-.9-.9-1.7,1.4z" fill="#d6c3c3" stroke="#222222"/><path d="M285.1,278.9l1.7-1.4-.9-.9-1.7,1.4z" fill="#d8c3c4" stroke="#222222"/><path d="M287.7,278.5l1.7-1.2-.9-.9-1.7,1.2z" fill="#dda8ad" stroke="#222222"/><path d="M290.4,278.2l1.8-.9-.9-.9-1.8,.9z" fill="#e5a9af" stroke="#2c1b1d"/><path d="M293.1,278.2l1.8-.7-.9-.9-1.8,.7z" fill="#eaabb1" stroke="#2c1b1d"/><path d="M295.8,278.5l1.8-.7-.9-.9-1.8,.7z" fill="#e8a6ac" stroke="#2c1b1d"/><path d="M298.5,278.6l1.8-.8-1-.9-1.8,.8z" fill="#e6a1a7" stroke="#2c1b1d"/><path d="M301.3,279.1l1.8-.8-1-1.2-1.8,.8z" fill="#eeabb1" stroke="#2c1b1d"/><path d="M304.1,279.9l1.8-.8-1-1.7-1.8,.9z" fill="#f1bcc1" stroke="#2c1b1d"/><path d="M306.9,281.0l1.8-.8-1-2-1.8,.9z" fill="#f6d0d4" stroke="#2c1b1d"/><path d="M309.7,282.3l1.8-.7-1-2.1-1.8,.8z" fill="#f7f5f5" stroke="#222222"/><path d="M312.5,283.4l1.8-.7-1-2-1.8,.8z" fill="#f4f4f2" stroke="#222222"/><path d="M315.3,284.0l1.8-.6-1-1.4-1.8,.7z" fill="#f1f1ee" stroke="#222222"/><path d="M278.2,280.4l1.7-.8-.9-1-1.7,.8z" fill="#e5dfdc" stroke="#222222"/><path d="M280.8,280.5l1.7-1.2-.9-1-1.7,1.2z" fill="#dbcccb" stroke="#222222"/><path d="M283.4,280.3l1.7-1.4-.9-.9-1.7,1.4z" fill="#d6c3c3" stroke="#222222"/><path d="M286.0,279.8l1.7-1.4-.9-.9-1.7,1.4z" fill="#d8c3c4" stroke="#222222"/><path d="M288.6,279.4l1.7-1.2-.9-.9-1.7,1.2z" fill="#dda8ad" stroke="#222222"/><path d="M291.3,279.1l1.8-.9-.9-.9-1.8,.9z" fill="#e5a9af" stroke="#2c1b1d"/><path d="M294.0,279.1l1.8-.7-.9-.9-1.8,.7z" fill="#eaabb1" stroke="#2c1b1d"/><path d="M296.7,279.4l1.8-.7-.9-.9-1.8,.7z" fill="#e8a6ac" stroke="#2c1b1d"/><path d="M299.5,279.8l1.8-.8-1-1.2-1.8,.8z" fill="#f0b1b7" stroke="#2c1b1d"/><path d="M302.3,280.7l1.8-.8-1-1.6-1.8,.8z" fill="#f3c2c6" stroke="#2c1b1d"/><path d="M305.1,281.8l1.8-.8-1-1.9-1.8,.8z" fill="#f7d6da" stroke="#222222"/><path d="M307.8,283.0l1.8-.7-1-2-1.8,.8z" fill="#f6f5f5" stroke="#222222"/><path d="M310.6,284.0l1.8-.7-1-1.9-1.8,.7z" fill="#f4f4f2" stroke="#222222"/><path d="M313.4,284.7l1.8-.6-1-1.3-1.8,.7z" fill="#f1f1ee" stroke="#222222"/><path d="M279.1,281.3l1.7-.8-.9-1-1.7,.8z" fill="#e5dfdc" stroke="#222222"/><path d="M281.7,281.5l1.7-1.2-.9-1-1.7,1.2z" fill="#dbcccb" stroke="#222222"/><path d="M284.3,281.2l1.7-1.4-.9-.9-1.7,1.4z" fill="#d6c3c3" stroke="#222222"/><path d="M286.9,280.8l1.7-1.4-.9-.9-1.7,1.4z" fill="#d8c3c4" stroke="#222222"/><path d="M289.5,280.3l1.8-1.2-.9-.9-1.7,1.2z" fill="#dda8ad" stroke="#222222"/><path d="M292.2,280.0l1.8-.9-.9-.9-1.8,.9z" fill="#e5a9af" stroke="#2c1b1d"/><path d="M294.9,280.0l1.8-.7-.9-.9-1.8,.7z" fill="#eaabb1" stroke="#2c1b1d"/><path d="M297.7,280.5l1.8-.7-.9-1.2-1.8,.7z" fill="#f1b6bb" stroke="#2c1b1d"/><path d="M300.4,281.4l1.8-.7-1-1.6-1.8,.8z" fill="#f4c6cb" stroke="#2c1b1d"/><path d="M303.2,282.5l1.8-.7-1-1.9-1.8,.8z" fill="#f9dbdf" stroke="#222222"/><path d="M306.0,283.7l1.8-.7-1-2-1.8,.8z" fill="#f6f5f4" stroke="#222222"/><path d="M308.8,284.7l1.8-.7-1-1.8-1.8,.7z" fill="#f4f3f1" stroke="#222222"/><path d="M311.6,285.3l1.8-.6-1-1.3-1.8,.7z" fill="#f1f1ee" stroke="#222222"/><path d="M280.0,282.3l1.7-.8-.9-1-1.7,.8z" fill="#e5dfdc" stroke="#222222"/><path d="M282.6,282.4l1.7-1.2-.9-1-1.7,1.2z" fill="#dbcccb" stroke="#222222"/><path d="M285.2,282.2l1.7-1.4-.9-.9-1.7,1.4z" fill="#d6c3c3" stroke="#222222"/><path d="M287.8,281.7l1.7-1.4-.9-.9-1.7,1.4z" fill="#d8c3c4" stroke="#222222"/><path d="M290.5,281.3l1.8-1.2-.9-.9-1.8,1.2z" fill="#dda8ad" stroke="#222222"/><path d="M293.1,280.9l1.8-.9-.9-.9-1.8,.9z" fill="#e5a9af" stroke="#2c1b1d"/><path d="M295.9,281.2l1.8-.7-.9-1.2-1.8,.7z" fill="#f1b9bf" stroke="#2c1b1d"/><path d="M298.6,282.1l1.8-.7-1-1.6-1.8,.7z" fill="#f5cacf" stroke="#2c1b1d"/><path d="M301.4,283.2l1.8-.7-1-1.8-1.8,.7z" fill="#fae0e3" stroke="#222222"/><path d="M304.2,284.4l1.8-.7-1-1.9-1.8,.7z" fill="#f6f5f4" stroke="#222222"/><path d="M307.0,285.4l1.8-.7-1-1.7-1.8,.7z" fill="#f3f3f1" stroke="#222222"/><path d="M309.8,285.9l1.8-.6-1-1.3-1.8,.7z" fill="#f1f1ee" stroke="#222222"/><path d="M280.8,283.3l1.7-.8-.9-1-1.7,.8z" fill="#e5dfdc" stroke="#222222"/><path d="M283.5,283.4l1.7-1.2-.9-1-1.7,1.2z" fill="#dbcccb" stroke="#222222"/><path d="M286.1,283.1l1.7-1.4-.9-.9-1.7,1.4z" fill="#d6c3c3" stroke="#222222"/><path d="M288.7,282.7l1.8-1.4-.9-.9-1.7,1.4z" fill="#d8c3c4" stroke="#222222"/><path d="M291.4,282.2l1.8-1.3-.9-.9-1.8,1.2z" fill="#dda8ad" stroke="#222222"/><path d="M294.1,282.1l1.8-.9-.9-1.2-1.8,.9z" fill="#f2bbc1" stroke="#2c1b1d"/><path d="M296.8,282.8l1.8-.7-1-1.6-1.8,.7z" fill="#f5cdd1" stroke="#2c1b1d"/><path d="M299.6,283.9l1.8-.7-1-1.8-1.8,.7z" fill="#fbe4e8" stroke="#222222"/><path d="M302.4,285.0l1.8-.7-1-1.9-1.8,.7z" fill="#f5f4f4" stroke="#222222"/><path d="M305.1,286.0l1.8-.7-1-1.7-1.8,.7z" fill="#f3f3f1" stroke="#222222"/><path d="M307.9,286.6l1.8-.6-1-1.2-1.8,.7z" fill="#f0f1ed" stroke="#222222"/><path d="M281.7,284.3l1.7-.8-.9-1-1.7,.8z" fill="#e5dfdc" stroke="#222222"/><path d="M284.3,284.4l1.7-1.2-.9-1-1.7,1.2z" fill="#dbcccb" stroke="#222222"/><path d="M287.0,284.1l1.7-1.4-.9-.9-1.7,1.4z" fill="#d6c3c3" stroke="#222222"/><path d="M289.6,283.6l1.8-1.4-.9-.9-1.8,1.4z" fill="#d8c3c4" stroke="#222222"/><path d="M292.3,283.3l1.8-1.2-.9-1.2-1.8,1.3z" fill="#e9b9be" stroke="#222222"/><path d="M295.0,283.6l1.8-.8-.9-1.6-1.8,.9z" fill="#f6cfd3" stroke="#222222"/><path d="M297.8,284.6l1.8-.7-1-1.8-1.8,.7z" fill="#f7f5f5" stroke="#222222"/><path d="M300.5,285.7l1.8-.7-1-1.8-1.8,.7z" fill="#f5f4f3" stroke="#222222"/><path d="M303.3,286.7l1.8-.6-1-1.6-1.8,.7z" fill="#f3f3f1" stroke="#222222"/><path d="M306.1,287.2l1.8-.6-1-1.2-1.8,.7z" fill="#f0f1ed" stroke="#222222"/><path d="M282.6,285.2l1.8-.9-.9-1-1.7,.8z" fill="#e5dfdc" stroke="#222222"/><path d="M285.2,285.3l1.7-1.2-.9-1-1.7,1.2z" fill="#dbcccb" stroke="#222222"/><path d="M287.8,285.1l1.8-1.4-.9-.9-1.7,1.4z" fill="#d6c3c3" stroke="#222222"/><path d="M290.5,284.7l1.8-1.4-.9-1.1-1.8,1.4z" fill="#e0d1d1" stroke="#222222"/><path d="M293.2,284.7l1.8-1.1-.9-1.5-1.8,1.2z" fill="#f9dade" stroke="#222222"/><path d="M295.9,285.3l1.8-.8-.9-1.8-1.8,.8z" fill="#f6f5f5" stroke="#222222"/><path d="M298.7,286.3l1.8-.6-1-1.8-1.8,.7z" fill="#f5f4f3" stroke="#222222"/><path d="M301.5,287.3l1.8-.6-.9-1.6-1.8,.7z" fill="#f3f3f0" stroke="#222222"/><path d="M304.2,287.9l1.8-.6-.9-1.2-1.8,.6z" fill="#f0f1ed" stroke="#222222"/><path d="M283.5,286.2l1.8-.9-.9-1-1.8,.9z" fill="#e5dfdc" stroke="#222222"/><path d="M286.1,286.3l1.8-1.3-.9-1-1.7,1.2z" fill="#dbcccb" stroke="#222222"/><path d="M288.7,286.1l1.8-1.4-.9-1.1-1.8,1.4z" fill="#dccccb" stroke="#222222"/><path d="M291.4,286.0l1.8-1.2-.9-1.4-1.8,1.4z" fill="#ede7e7" stroke="#222222"/><path d="M294.1,286.3l1.8-1-.9-1.7-1.8,1.1z" fill="#f5f4f3" stroke="#222222"/><path d="M296.9,287.1l1.8-.7-.9-1.8-1.8,.8z" fill="#f5f4f3" stroke="#222222"/><path d="M299.6,288.0l1.8-.6-.9-1.6-1.8,.6z" fill="#f3f3f0" stroke="#222222"/><path d="M302.4,288.5l1.8-.6-.9-1.2-1.8,.6z" fill="#f0f0ed" stroke="#222222"/><path d="M284.3,287.2l1.8-.9-.9-1-1.8,.9z" fill="#e5dfdc" stroke="#222222"/><path d="M287.0,287.3l1.8-1.2-.9-1-1.8,1.3z" fill="#ded1cf" stroke="#222222"/><path d="M289.6,287.2l1.8-1.2-.9-1.3-1.8,1.4z" fill="#e5dcdb" stroke="#222222"/><path d="M292.3,287.3l1.8-1-.9-1.6-1.8,1.2z" fill="#f3f2f1" stroke="#222222"/><path d="M295.1,287.9l1.8-.8-.9-1.7-1.8,1z" fill="#f4f3f1" stroke="#222222"/><path d="M297.8,288.6l1.8-.7-.9-1.6-1.8,.7z" fill="#f3f2f0" stroke="#222222"/><path d="M300.6,289.2l1.8-.6-.9-1.2-1.8,.6z" fill="#f0f0ed" stroke="#222222"/><path d="M285.2,288.1l1.8-.9-.9-1-1.8,.9z" fill="#e6e0dd" stroke="#222222"/><path d="M287.9,288.3l1.8-1.1-.9-1.1-1.8,1.2z" fill="#e3dad8" stroke="#222222"/><path d="M290.5,288.4l1.8-1-.9-1.4-1.8,1.2z" fill="#eeebe8" stroke="#222222"/><path d="M293.3,288.7l1.8-.9-.9-1.6-1.8,1z" fill="#f2f2f0" stroke="#222222"/><path d="M296.0,289.3l1.8-.7-.9-1.6-1.8,.8z" fill="#f2f2ef" stroke="#222222"/><path d="M298.7,289.8l1.8-.6-.9-1.2-1.8,.7z" fill="#f0f0ed" stroke="#222222"/><path d="M286.1,289.1l1.8-.8-.9-1-1.8,.9z" fill="#e7e3df" stroke="#222222"/><path d="M288.7,289.3l1.8-1-.9-1.2-1.8,1.1z" fill="#e8e3e1" stroke="#222222"/><path d="M291.4,289.6l1.8-.9-.9-1.4-1.8,1z" fill="#f1f1ee" stroke="#222222"/><path d="M294.2,290.0l1.8-.7-.9-1.4-1.8,.9z" fill="#f1f1ee" stroke="#222222"/><path d="M296.9,290.4l1.8-.6-.9-1.2-1.8,.7z" fill="#f0f0ed" stroke="#222222"/><path d="M286.9,290.1l1.8-.8-.9-1-1.8,.8z" fill="#e9e6e2" stroke="#222222"/><path d="M289.6,290.4l1.8-.8-.9-1.2-1.8,1z" fill="#ecebe7" stroke="#222222"/><path d="M292.3,290.7l1.8-.7-.9-1.3-1.8,.9z" fill="#f0f0ed" stroke="#222222"/><path d="M295.1,291.1l1.8-.6-.9-1.1-1.8,.7z" fill="#eff0ec" stroke="#222222"/><path d="M287.8,291.1l1.8-.7-.9-1-1.8,.8z" fill="#ebe8e5" stroke="#222222"/><path d="M290.5,291.4l1.8-.7-.9-1.1-1.8,.8z" fill="#eeeeea" stroke="#222222"/><path d="M293.2,291.7l1.8-.6-.9-1.1-1.8,.7z" fill="#efefec" stroke="#222222"/><path d="M288.7,292.0l1.8-.7-.9-1-1.8,.7z" fill="#ebeae6" stroke="#222222"/><path d="M291.4,292.4l1.8-.6-.9-1-1.8,.7z" fill="#edece8" stroke="#222222"/><path d="M289.6,293.0l1.8-.6-.9-1-1.8,.7z" fill="#ebeae6" stroke="#222222"/></g>
<text x="260.00" y="258.22" font-size="7.0" fill="#333" stroke="#333" stroke-width="0.2" textLength="6.80" lengthAdjust="spacingAndGlyphs">30</text>
<text x="260.77" y="268.72" font-size="7.0" fill="#333" stroke="#333" stroke-width="0.2" textLength="6.80" lengthAdjust="spacingAndGlyphs">10</text>
<text x="258.13" y="279.22" font-size="7.0" fill="#333" stroke="#333" stroke-width="0.2" textLength="10.20" lengthAdjust="spacingAndGlyphs">&#8722;10</text>
<text x="258.90" y="289.72" font-size="7.0" fill="#333" stroke="#333" stroke-width="0.2" textLength="10.20" lengthAdjust="spacingAndGlyphs">&#8722;30</text>
<text x="262.23" y="295.42" font-size="7.0" fill="#333" stroke="#333" stroke-width="0.2" textLength="9.75" lengthAdjust="spacingAndGlyphs">400</text>
<text x="267.88" y="300.82" font-size="7.0" fill="#333" stroke="#333" stroke-width="0.2" textLength="9.75" lengthAdjust="spacingAndGlyphs">200</text>
<text x="272.28" y="307.02" font-size="7.0" fill="#333" stroke="#333" stroke-width="0.2" textLength="9.75" lengthAdjust="spacingAndGlyphs">100</text>
<text x="279.20" y="313.22" font-size="7.0" fill="#333" stroke="#333" stroke-width="0.2" textLength="6.50" lengthAdjust="spacingAndGlyphs">50</text>
<text x="296.35" y="314.72" font-size="7.0" fill="#333" stroke="#333" stroke-width="0.2" textLength="7.00" lengthAdjust="spacingAndGlyphs">50</text>
<text x="304.05" y="311.72" font-size="7.0" fill="#333" stroke="#333" stroke-width="0.2" textLength="10.50" lengthAdjust="spacingAndGlyphs">100</text>
<text x="314.80" y="307.32" font-size="7.0" fill="#333" stroke="#333" stroke-width="0.2" textLength="10.50" lengthAdjust="spacingAndGlyphs">200</text>
<text x="324.25" y="302.82" font-size="7.0" fill="#333" stroke="#333" stroke-width="0.2" textLength="10.50" lengthAdjust="spacingAndGlyphs">400</text>
<g transform="translate(249.80,271.30) rotate(-90)"><text x="-13.35" y="2.84" font-size="7.9" fill="#2a2a2a" stroke="#2a2a2a" stroke-width="0.25" textLength="26.70" lengthAdjust="spacingAndGlyphs">&#948;&#8722;score</text></g>
<g transform="translate(262.00,310.40) rotate(46)"><text x="-13.50" y="3.02" font-size="8.4" fill="#2a2a2a" stroke="#2a2a2a" stroke-width="0.25" textLength="27.00" lengthAdjust="spacingAndGlyphs">BETi (nM)</text></g>
<g transform="translate(318.30,319.60) rotate(-25)"><text x="-16.65" y="3.10" font-size="8.6" fill="#2a2a2a" stroke="#2a2a2a" stroke-width="0.25" textLength="33.30" lengthAdjust="spacingAndGlyphs">p300i (nM)</text></g>
<rect x="269.20" y="242.30" width="55.00" height="2.20" fill="url(#cbar)"/>
<text x="263.90" y="239.42" font-size="7.0" fill="#333" stroke="#333" stroke-width="0.15" textLength="11.40" lengthAdjust="spacingAndGlyphs">&#8722;30</text>
<text x="281.60" y="239.42" font-size="7.0" fill="#333" stroke="#333" stroke-width="0.15" textLength="12.00" lengthAdjust="spacingAndGlyphs">&#8722;10</text>
<text x="302.60" y="239.42" font-size="7.0" fill="#333" stroke="#333" stroke-width="0.15" textLength="6.80" lengthAdjust="spacingAndGlyphs">10</text>
<text x="320.40" y="239.42" font-size="7.0" fill="#333" stroke="#333" stroke-width="0.15" textLength="7.20" lengthAdjust="spacingAndGlyphs">30</text>
<line x1="48.80" y1="402.80" x2="66.30" y2="424.60" stroke="#808080" stroke-width="0.6"/>
<line x1="66.30" y1="424.60" x2="100.80" y2="408.60" stroke="#808080" stroke-width="0.6"/>
<line x1="46.50" y1="371.30" x2="48.80" y2="402.80" stroke="#808080" stroke-width="0.6"/>
<line x1="103.50" y1="379.00" x2="100.80" y2="408.60" stroke="#808080" stroke-width="0.6"/>
<line x1="63.90" y1="387.70" x2="66.30" y2="424.60" stroke="#808080" stroke-width="0.6"/>
<line x1="46.50" y1="371.30" x2="80.80" y2="363.60" stroke="#808080" stroke-width="0.6"/>
<line x1="80.80" y1="363.60" x2="103.50" y2="379.00" stroke="#808080" stroke-width="0.6"/>
<line x1="46.50" y1="371.30" x2="63.90" y2="387.70" stroke="#808080" stroke-width="0.6"/>
<line x1="63.90" y1="387.70" x2="103.50" y2="379.00" stroke="#808080" stroke-width="0.6"/>
<line x1="48.80" y1="402.80" x2="81.80" y2="389.60" stroke="#999" stroke-width="0.5" stroke-dasharray="0.8 1.6"/>
<line x1="81.80" y1="389.60" x2="100.80" y2="408.60" stroke="#999" stroke-width="0.5" stroke-dasharray="0.8 1.6"/>
<line x1="80.80" y1="363.60" x2="81.80" y2="389.60" stroke="#999" stroke-width="0.5" stroke-dasharray="0.8 1.6"/>
<g stroke="#4a0810" stroke-width="0.5" stroke-opacity="0.48" stroke-linejoin="round"><path d="M80.5,374.2l1.7-.6-1.1-.7-1.7,.6z" fill="#cc5961" stroke="#400e14"/><path d="M78.8,374.8l1.7-.7-1.1-.7-1.7,.7z" fill="#cd5c64" stroke="#400e14"/><path d="M81.6,374.8l1.7-.6-1.1-.6-1.7,.6z" fill="#c7525a"/><path d="M77.1,375.5l1.7-.7-1-.7-1.7,.7z" fill="#ce6068" stroke="#400e14"/><path d="M79.9,375.4l1.7-.7-1.1-.6-1.7,.7z" fill="#c7555d" stroke="#400e14"/><path d="M82.6,375.2l1.7-.6-1.1-.5-1.7,.6z" fill="#c04a52"/><path d="M75.4,376.3l1.7-.7-1-.7-1.7,.7z" fill="#d0656d" stroke="#400e14"/><path d="M78.2,376.2l1.7-.7-1-.6-1.7,.7z" fill="#c85961" stroke="#400e14"/><path d="M80.9,376.0l1.7-.7-1.1-.5-1.7,.7z" fill="#c04c54"/><path d="M83.7,375.6l1.7-.6-1.1-.4-1.7,.6z" fill="#b94149"/><path d="M73.8,377.0l1.7-.8-1-.7-1.7,.7z" fill="#d26b73" stroke="#400e14"/><path d="M76.5,377.0l1.7-.8-1-.6-1.7,.7z" fill="#ca5e66" stroke="#400e14"/><path d="M79.2,376.7l1.7-.8-1-.5-1.7,.7z" fill="#c15158"/><path d="M82.0,376.4l1.7-.7-1.1-.4-1.7,.7z" fill="#b9434b"/><path d="M84.7,375.9l1.7-.6-1.1-.3-1.7,.6z" fill="#b33840"/><path d="M72.1,377.8l1.7-.8-1-.8-1.7,.7z" fill="#d57279" stroke="#400e14"/><path d="M74.8,377.8l1.7-.8-1-.7-1.7,.8z" fill="#cd656d" stroke="#400e14"/><path d="M77.5,377.6l1.7-.8-1-.6-1.7,.8z" fill="#c3565e" stroke="#400e14"/><path d="M80.2,377.2l1.7-.8-1-.4-1.7,.8z" fill="#ba484f"/><path d="M83.0,376.7l1.7-.8-1.1-.3-1.7,.7z" fill="#b23a42"/><path d="M85.8,376.2l1.8-.7-1.1-.2-1.7,.6z" fill="#ad2f38"/><path d="M70.4,378.5l1.7-.8-1-.8-1.7,.7z" fill="#d87980" stroke="#361519"/><path d="M73.1,378.6l1.7-.8-1-.7-1.7,.8z" fill="#d16d74" stroke="#400e14"/><path d="M75.8,378.4l1.7-.9-1-.6-1.7,.8z" fill="#c75e65" stroke="#400e14"/><path d="M78.5,378.1l1.7-.9-1-.5-1.7,.8z" fill="#bd4e55"/><path d="M81.3,377.6l1.7-.9-1-.3-1.7,.8z" fill="#b33f47"/><path d="M84.1,377.0l1.8-.8-1.1-.2-1.7,.8z" fill="#ac323a"/><path d="M86.9,376.4l1.8-.7-1.1-.2-1.8,.7z" fill="#a92830"/><path d="M68.7,379.3l1.7-.7-1-.8-1.7,.7z" fill="#dc8087" stroke="#361519"/><path d="M71.4,379.4l1.7-.8-1-.8-1.7,.8z" fill="#d5757c" stroke="#361519"/><path d="M74.1,379.3l1.7-.9-1-.7-1.7,.8z" fill="#cc666e" stroke="#400e14"/><path d="M76.8,379.0l1.7-.9-1-.5-1.7,.9z" fill="#c1565d" stroke="#400e14"/><path d="M79.5,378.6l1.7-1-1-.4-1.7,.9z" fill="#b6454d"/><path d="M82.3,377.9l1.8-.9-1.1-.3-1.7,.9z" fill="#ad373e"/><path d="M85.1,377.2l1.8-.8-1.1-.2-1.8,.8z" fill="#a82b33"/><path d="M88.0,376.5l1.8-.7-1.1-.2-1.8,.7z" fill="#a72029"/><path d="M67.0,380.0l1.7-.7-1-.9-1.7,.7z" fill="#df878e" stroke="#361519"/><path d="M69.7,380.1l1.7-.8-1-.8-1.7,.7z" fill="#d97d84" stroke="#361519"/><path d="M72.4,380.1l1.7-.9-1-.7-1.7,.8z" fill="#d16f77" stroke="#361519"/><path d="M75.1,379.9l1.7-.9-1-.6-1.7,.9z" fill="#c65f66" stroke="#400e14"/><path d="M77.8,379.6l1.7-1-1-.5-1.7,.9z" fill="#ba4d55"/><path d="M80.6,379.0l1.8-1-1-.3-1.7,1z" fill="#b03d45"/><path d="M83.4,378.2l1.8-1-1.1-.2-1.8,.9z" fill="#a82f37"/><path d="M86.2,377.4l1.8-.9-1.1-.2-1.8,.8z" fill="#a5242c"/><path d="M89.1,376.8l1.8-.7-1.1-.2-1.8,.7z" fill="#a91f28"/><path d="M65.3,380.7l1.7-.7-1-.9-1.7,.7z" fill="#e18d94" stroke="#361519"/><path d="M68.0,380.9l1.7-.8-1-.9-1.7,.7z" fill="#dd858c" stroke="#361519"/><path d="M70.7,381.0l1.7-.8-1-.8-1.7,.8z" fill="#d67980" stroke="#361519"/><path d="M73.4,380.9l1.7-.9-1-.7-1.7,.9z" fill="#cc6970" stroke="#400e14"/><path d="M76.1,380.6l1.7-1-1-.5-1.7,.9z" fill="#c0575f" stroke="#400e14"/><path d="M78.8,380.0l1.7-1.1-1-.4-1.7,1z" fill="#b4454d"/><path d="M81.6,379.3l1.8-1.1-1-.3-1.8,1z" fill="#ab363d"/><path d="M84.4,378.5l1.8-1.1-1.1-.2-1.8,1z" fill="#a62931"/><path d="M87.3,377.7l1.8-.9-1.1-.2-1.8,.9z" fill="#a62028"/><path d="M90.2,377.1l1.8-.7-1.1-.3-1.8,.7z" fill="#ad1f28"/><path d="M63.6,381.4l1.7-.7-1-.9-1.7,.7z" fill="#e3939a" stroke="#361519"/><path d="M66.3,381.6l1.7-.7-1-.9-1.7,.7z" fill="#e08c93" stroke="#361519"/><path d="M69.0,381.8l1.7-.8-1-.8-1.7,.8z" fill="#da8289" stroke="#361519"/><path d="M71.6,381.7l1.7-.9-1-.7-1.7,.8z" fill="#d2747b" stroke="#361519"/><path d="M74.3,381.6l1.7-1-1-.6-1.7,.9z" fill="#c7636a" stroke="#400e14"/><path d="M77.1,381.2l1.7-1.1-1-.5-1.7,1z" fill="#bb5057" stroke="#400e14"/><path d="M79.8,380.5l1.8-1.2-1-.4-1.7,1.1z" fill="#b03e46"/><path d="M82.6,379.7l1.8-1.2-1.1-.3-1.8,1.1z" fill="#a82f37"/><path d="M85.5,378.8l1.8-1.1-1.1-.3-1.8,1.1z" fill="#a5232b"/><path d="M88.3,378.0l1.8-.9-1.1-.3-1.8,.9z" fill="#a91f28"/><path d="M91.3,377.5l1.8-.7-1.1-.4-1.8,.7z" fill="#b41d27"/><path d="M62.0,382.1l1.7-.7-1-.9-1.7,.7z" fill="#e5999f" stroke="#2c1b1d"/><path d="M64.6,382.3l1.7-.7-1-.9-1.7,.7z" fill="#e3939a" stroke="#361519"/><path d="M67.3,382.5l1.7-.8-1-.9-1.7,.7z" fill="#de8b91" stroke="#361519"/><path d="M69.9,382.6l1.7-.8-1-.8-1.7,.8z" fill="#d77f86" stroke="#361519"/><path d="M72.6,382.5l1.7-1-1-.7-1.7,.9z" fill="#ce6f76" stroke="#361519"/><path d="M75.3,382.2l1.7-1.1-1-.6-1.7,1z" fill="#c25c63" stroke="#400e14"/><path d="M78.1,381.7l1.8-1.2-1-.5-1.7,1.1z" fill="#b64950"/><path d="M80.8,381.0l1.8-1.3-1-.4-1.8,1.2z" fill="#ac3840"/><path d="M83.7,380.1l1.8-1.3-1.1-.3-1.8,1.2z" fill="#a62a32"/><path d="M86.5,379.2l1.8-1.2-1.1-.3-1.8,1.1z" fill="#a62028"/><path d="M89.4,378.5l1.8-1-1.1-.4-1.8,.9z" fill="#ae1e28"/><path d="M92.4,378.1l1.9-.7-1.1-.6-1.8,.7z" fill="#bc1c27"/><path d="M60.3,382.8l1.7-.7-.9-.9-1.7,.7z" fill="#e79ea4" stroke="#2c1b1d"/><path d="M62.9,383.0l1.7-.7-1-.9-1.7,.7z" fill="#e599a0" stroke="#2c1b1d"/><path d="M65.5,383.3l1.7-.7-1-.9-1.7,.7z" fill="#e29299" stroke="#361519"/><path d="M68.2,383.4l1.7-.8-1-.8-1.7,.8z" fill="#dc888f" stroke="#361519"/><path d="M70.9,383.4l1.7-.9-1-.8-1.7,.8z" fill="#d47b81" stroke="#361519"/><path d="M73.6,383.3l1.7-1-1-.7-1.7,1z" fill="#ca6970" stroke="#400e14"/><path d="M76.3,382.9l1.7-1.2-1-.6-1.7,1.1z" fill="#be555d" stroke="#400e14"/><path d="M79.1,382.3l1.8-1.3-1-.5-1.8,1.2z" fill="#b2434a"/><path d="M81.9,381.5l1.8-1.4-1-.4-1.8,1.3z" fill="#aa333b"/><path d="M84.7,380.6l1.8-1.4-1.1-.4-1.8,1.3z" fill="#a7252d"/><path d="M87.6,379.7l1.8-1.2-1.1-.5-1.8,1.2z" fill="#ab1f28"/><path d="M90.5,379.1l1.9-1-1.1-.6-1.8,1z" fill="#b61d27"/><path d="M93.5,379.0l1.9-.7-1.1-.8-1.9,.7z" fill="#c61a26"/><path d="M58.6,383.5l1.7-.7-.9-.9-1.7,.7z" fill="#e8a2a8" stroke="#2c1b1d"/><path d="M61.2,383.7l1.7-.7-.9-.9-1.7,.7z" fill="#e79ea5" stroke="#2c1b1d"/><path d="M63.8,384.0l1.7-.7-1-.9-1.7,.7z" fill="#e599a0" stroke="#2c1b1d"/><path d="M66.5,384.2l1.7-.8-1-.9-1.7,.7z" fill="#e19198" stroke="#361519"/><path d="M69.2,384.3l1.7-.9-1-.8-1.7,.8z" fill="#da868c" stroke="#361519"/><path d="M71.9,384.2l1.7-1-1-.7-1.7,.9z" fill="#d1767d" stroke="#361519"/><path d="M74.6,384.0l1.7-1.1-1-.7-1.7,1z" fill="#c6636b" stroke="#400e14"/><path d="M77.3,383.5l1.8-1.3-1-.6-1.7,1.2z" fill="#ba5057" stroke="#400e14"/><path d="M80.1,382.8l1.8-1.4-1-.5-1.8,1.3z" fill="#b03e46"/><path d="M82.9,382.0l1.8-1.4-1-.5-1.8,1.4z" fill="#aa2f37"/><path d="M85.8,381.1l1.8-1.4-1.1-.5-1.8,1.4z" fill="#a9212a"/><path d="M88.7,380.4l1.9-1.3-1.1-.6-1.8,1.2z" fill="#b01e27"/><path d="M91.6,380.0l1.9-1-1.1-.8-1.9,1z" fill="#be1c26"/><path d="M94.5,380.0l1.9-.7-1.1-1.1-1.9,.7z" fill="#cd212c"/><path d="M56.9,384.1l1.7-.7-.9-1-1.7,.7z" fill="#e9a7ad" stroke="#2c1b1d"/><path d="M59.5,384.4l1.7-.7-.9-.9-1.7,.7z" fill="#e8a3a9" stroke="#2c1b1d"/><path d="M62.1,384.7l1.7-.7-.9-.9-1.7,.7z" fill="#e79fa5" stroke="#2c1b1d"/><path d="M64.8,384.9l1.7-.7-1-.9-1.7,.7z" fill="#e4999f" stroke="#2c1b1d"/><path d="M67.5,385.1l1.7-.8-1-.9-1.7,.8z" fill="#df9096" stroke="#361519"/><path d="M70.1,385.1l1.7-.9-1-.8-1.7,.9z" fill="#d88389" stroke="#361519"/><path d="M72.8,385.0l1.7-1-1-.7-1.7,1z" fill="#ce7279" stroke="#361519"/><path d="M75.6,384.7l1.8-1.2-1-.6-1.7,1.1z" fill="#c35f66" stroke="#400e14"/><path d="M78.3,384.2l1.8-1.3-1-.6-1.8,1.3z" fill="#b84c53"/><path d="M81.1,383.5l1.8-1.5-1-.5-1.8,1.4z" fill="#b03b42"/><path d="M83.9,382.6l1.8-1.5-1-.6-1.8,1.4z" fill="#ac2c34"/><path d="M86.8,381.8l1.9-1.4-1.1-.7-1.8,1.4z" fill="#ad1f28"/><path d="M89.7,381.2l1.9-1.3-1.1-.8-1.9,1.3z" fill="#b71d27"/><path d="M92.7,381.0l1.9-1-1.1-1.1-1.9,1z" fill="#c61a26"/><path d="M95.6,381.3l1.9-.7-1.1-1.3-1.9,.7z" fill="#d1333e"/><path d="M55.2,384.8l1.7-.7-.9-1-1.7,.7z" fill="#eaabb1" stroke="#2c1b1d"/><path d="M57.8,385.1l1.7-.7-.9-1-1.7,.7z" fill="#e9a8ae" stroke="#2c1b1d"/><path d="M60.4,385.4l1.7-.7-.9-.9-1.7,.7z" fill="#e8a4aa" stroke="#2c1b1d"/><path d="M63.1,385.6l1.7-.7-.9-.9-1.7,.7z" fill="#e69fa6" stroke="#2c1b1d"/><path d="M65.7,385.8l1.7-.8-1-.9-1.7,.7z" fill="#e3989f" stroke="#2c1b1d"/><path d="M68.4,386.0l1.7-.8-1-.9-1.7,.8z" fill="#de8e95" stroke="#361519"/><path d="M71.1,386.0l1.7-1-1-.8-1.7,.9z" fill="#d68086" stroke="#361519"/><path d="M73.8,385.8l1.8-1.1-1-.7-1.7,1z" fill="#cc6e75" stroke="#361519"/><path d="M76.5,385.5l1.8-1.3-1-.7-1.8,1.2z" fill="#c15b62" stroke="#400e14"/><path d="M79.3,384.9l1.8-1.4-1-.6-1.8,1.3z" fill="#b74950"/><path d="M82.1,384.2l1.8-1.5-1-.6-1.8,1.5z" fill="#b13840"/><path d="M85.0,383.4l1.8-1.6-1-.7-1.8,1.5z" fill="#af2a33"/><path d="M87.8,382.7l1.9-1.5-1.1-.8-1.9,1.4z" fill="#b31e27"/><path d="M90.8,382.3l1.9-1.3-1.1-1-1.9,1.3z" fill="#be1c26"/><path d="M93.7,382.3l1.9-1-1.1-1.3-1.9,1z" fill="#cc1d29"/><path d="M96.7,382.8l1.9-.7-1.1-1.5-1.9,.7z" fill="#d4404a"/><path d="M53.6,385.8l1.7-1-.9-1-1.7,1z" fill="#e1a7ac" stroke="#2c1b1d"/><path d="M56.1,385.8l1.7-.7-.9-1-1.7,.7z" fill="#eaacb2" stroke="#2c1b1d"/><path d="M58.7,386.0l1.7-.7-.9-1-1.7,.7z" fill="#eaa9af" stroke="#2c1b1d"/><path d="M61.4,386.3l1.7-.7-.9-.9-1.7,.7z" fill="#e8a5ab" stroke="#2c1b1d"/><path d="M64.0,386.6l1.7-.7-.9-.9-1.7,.7z" fill="#e6a0a6" stroke="#2c1b1d"/><path d="M66.7,386.8l1.7-.8-1-.9-1.7,.8z" fill="#e2989e" stroke="#2c1b1d"/><path d="M69.4,386.9l1.7-.9-1-.9-1.7,.8z" fill="#dc8c93" stroke="#361519"/><path d="M72.1,386.8l1.7-1-1-.8-1.7,1z" fill="#d47d84" stroke="#361519"/><path d="M74.8,386.6l1.8-1.2-1-.7-1.8,1.1z" fill="#ca6b72" stroke="#361519"/><path d="M77.5,386.2l1.8-1.3-1-.7-1.8,1.3z" fill="#c0585f" stroke="#400e14"/><path d="M80.3,385.7l1.8-1.5-1-.7-1.8,1.4z" fill="#b8474e"/><path d="M83.1,385.0l1.8-1.6-1-.7-1.8,1.5z" fill="#b43840"/><path d="M86.0,384.3l1.9-1.6-1-.9-1.8,1.6z" fill="#b42a33"/><path d="M88.9,383.7l1.9-1.5-1.1-1-1.9,1.5z" fill="#b91d27"/><path d="M91.8,383.5l1.9-1.2-1.1-1.3-1.9,1.3z" fill="#c51b26"/><path d="M94.7,383.7l1.9-1-1-1.5-1.9,1z" fill="#cf2c37"/><path d="M97.6,385.7l1.9-.7-.9-3-1.9,.7z" fill="#da5e67"/><path d="M51.9,387.1l1.6-1.3-.9-1-1.6,1.3z" fill="#daaaaf" stroke="#222222"/><path d="M54.5,386.7l1.7-1-.9-1-1.7,1z" fill="#e2a8ad" stroke="#2c1b1d"/><path d="M57.0,386.7l1.7-.7-.9-1-1.7,.7z" fill="#ebadb3" stroke="#2c1b1d"/><path d="M59.7,387.0l1.7-.7-.9-.9-1.7,.7z" fill="#eaaaaf" stroke="#2c1b1d"/><path d="M62.3,387.3l1.7-.7-.9-.9-1.7,.7z" fill="#e8a5ab" stroke="#2c1b1d"/><path d="M65.0,387.5l1.7-.7-.9-.9-1.7,.7z" fill="#e6a0a6" stroke="#2c1b1d"/><path d="M67.6,387.7l1.7-.8-1-.9-1.7,.8z" fill="#e2979d" stroke="#2c1b1d"/><path d="M70.3,387.7l1.7-.9-1-.9-1.7,.9z" fill="#db8b91" stroke="#361519"/><path d="M73.0,387.7l1.8-1.1-1-.8-1.7,1z" fill="#d37b82" stroke="#361519"/><path d="M75.8,387.5l1.8-1.2-1-.8-1.8,1.2z" fill="#c96970" stroke="#361519"/><path d="M78.5,387.0l1.8-1.4-1-.8-1.8,1.3z" fill="#c0575e" stroke="#400e14"/><path d="M81.3,386.5l1.8-1.5-1-.8-1.8,1.5z" fill="#ba474e"/><path d="M84.1,385.9l1.8-1.6-1-.9-1.8,1.6z" fill="#b83841"/><path d="M87.0,385.3l1.9-1.6-1-1-1.9,1.6z" fill="#ba2c35"/><path d="M89.9,384.9l1.9-1.4-1-1.2-1.9,1.5z" fill="#c0202b"/><path d="M92.8,384.9l1.9-1.2-1-1.4-1.9,1.2z" fill="#cb1a26"/><path d="M95.7,386.6l1.9-.9-.9-2.9-1.9,1z" fill="#d95a63"/><path d="M98.4,389.9l1.9-.6-.8-4.2-1.9,.7z" fill="#e3848b"/><path d="M50.3,388.3l1.6-1.2-.9-1-1.6,1.2z" fill="#dbc9ca" stroke="#222222"/><path d="M52.8,388.0l1.6-1.3-.9-1-1.6,1.3z" fill="#dbabb0" stroke="#222222"/><path d="M55.4,387.7l1.7-1-.9-1-1.7,1z" fill="#e2a9ae" stroke="#2c1b1d"/><path d="M57.9,387.7l1.7-.7-.9-1-1.7,.7z" fill="#ebaeb4" stroke="#2c1b1d"/><path d="M60.6,387.9l1.7-.7-.9-.9-1.7,.7z" fill="#eaaab0" stroke="#2c1b1d"/><path d="M63.2,388.2l1.7-.7-.9-.9-1.7,.7z" fill="#e8a6ac" stroke="#2c1b1d"/><path d="M65.9,388.4l1.7-.8-.9-.9-1.7,.7z" fill="#e5a0a6" stroke="#2c1b1d"/><path d="M68.6,388.6l1.7-.8-1-.9-1.7,.8z" fill="#e1969d" stroke="#2c1b1d"/><path d="M71.3,388.6l1.8-1-1-.9-1.7,.9z" fill="#da8990" stroke="#361519"/><path d="M74.0,388.6l1.8-1.1-1-.8-1.8,1.1z" fill="#d27a80" stroke="#361519"/><path d="M76.7,388.3l1.8-1.3-1-.8-1.8,1.2z" fill="#c9686f" stroke="#400e14"/><path d="M79.5,387.9l1.8-1.4-1-.8-1.8,1.4z" fill="#c2575f" stroke="#400e14"/><path d="M82.3,387.4l1.8-1.5-1-.9-1.8,1.5z" fill="#bd4850"/><path d="M85.2,386.9l1.9-1.6-1-1-1.8,1.6z" fill="#bd3b44"/><path d="M88.0,386.4l1.9-1.5-1-1.2-1.9,1.6z" fill="#c0303a"/><path d="M90.9,386.3l1.9-1.4-1-1.4-1.9,1.4z" fill="#c82833"/><path d="M93.8,387.6l1.9-1.1-1-2.9-1.9,1.2z" fill="#da5962"/><path d="M96.6,390.6l1.9-.8-.8-4.2-1.9,.9z" fill="#e4858c"/><path d="M99.3,393.5l1.8-.6-.8-3.6-1.9,.6z" fill="#f2c0c4" stroke="#2c1b1d"/><path d="M48.6,389.1l1.7-.8-.9-1-1.7,.8z" fill="#e8dfde" stroke="#222222"/><path d="M51.1,389.2l1.7-1.2-.9-1-1.6,1.2z" fill="#dbcaca" stroke="#222222"/><path d="M53.7,389.0l1.7-1.3-.9-1-1.6,1.3z" fill="#dbacb1" stroke="#222222"/><path d="M56.3,388.6l1.7-1-.9-1-1.7,1z" fill="#e3aaaf" stroke="#2c1b1d"/><path d="M58.9,388.6l1.7-.7-.9-1-1.7,.7z" fill="#ebafb4" stroke="#2c1b1d"/><path d="M61.5,388.9l1.7-.7-.9-.9-1.7,.7z" fill="#eaabb1" stroke="#2c1b1d"/><path d="M64.1,389.2l1.7-.7-.9-.9-1.7,.7z" fill="#e8a7ac" stroke="#2c1b1d"/><path d="M66.8,389.4l1.7-.8-.9-.9-1.7,.8z" fill="#e5a0a6" stroke="#2c1b1d"/><path d="M69.5,389.5l1.8-.9-1-.9-1.7,.8z" fill="#e1969c" stroke="#2c1b1d"/><path d="M72.2,389.5l1.8-1-1-.9-1.8,1z" fill="#da898f" stroke="#361519"/><path d="M75.0,389.5l1.8-1.1-1-.9-1.8,1.1z" fill="#d27980" stroke="#361519"/><path d="M77.7,389.2l1.8-1.3-1-.9-1.8,1.3z" fill="#cb6970" stroke="#400e14"/><path d="M80.5,388.8l1.8-1.4-1-.9-1.8,1.4z" fill="#c55961" stroke="#400e14"/><path d="M83.3,388.4l1.8-1.5-1-1-1.8,1.5z" fill="#c24c54"/><path d="M86.2,388.0l1.9-1.6-1-1.2-1.9,1.6z" fill="#c3414a"/><path d="M89.0,387.7l1.9-1.5-1-1.3-1.9,1.5z" fill="#c83842"/><path d="M91.9,388.8l1.9-1.2-1-2.7-1.9,1.4z" fill="#db5d66"/><path d="M94.7,391.5l1.9-.9-.9-4.1-1.9,1.1z" fill="#e58990" stroke="#400e14"/><path d="M97.4,394.2l1.8-.7-.8-3.6-1.9,.8z" fill="#f2c1c5" stroke="#2c1b1d"/><path d="M100.2,395.4l1.8-.6-.9-1.9-1.8,.6z" fill="#f6f5f5" stroke="#222222"/><path d="M49.5,390.0l1.7-.8-.9-1-1.7,.8z" fill="#e8dfde" stroke="#222222"/><path d="M52.0,390.2l1.7-1.2-.9-1-1.7,1.2z" fill="#dbcacb" stroke="#222222"/><path d="M54.6,389.9l1.7-1.3-.9-1-1.7,1.3z" fill="#dcadb2" stroke="#222222"/><path d="M57.2,389.6l1.7-1-.9-1-1.7,1z" fill="#e3abb0" stroke="#2c1b1d"/><path d="M59.8,389.6l1.7-.7-.9-1-1.7,.7z" fill="#ebb0b5" stroke="#2c1b1d"/><path d="M62.4,389.8l1.7-.7-.9-.9-1.7,.7z" fill="#eaacb2" stroke="#2c1b1d"/><path d="M65.1,390.1l1.7-.7-.9-.9-1.7,.7z" fill="#e8a7ad" stroke="#2c1b1d"/><path d="M67.8,390.3l1.8-.8-.9-.9-1.7,.8z" fill="#e5a0a6" stroke="#2c1b1d"/><path d="M70.5,390.4l1.8-.9-1-.9-1.8,.9z" fill="#e0969c" stroke="#2c1b1d"/><path d="M73.2,390.5l1.8-1-1-.9-1.8,1z" fill="#da8990" stroke="#361519"/><path d="M75.9,390.4l1.8-1.2-1-.9-1.8,1.1z" fill="#d37a81" stroke="#361519"/><path d="M78.7,390.2l1.8-1.3-1-.9-1.8,1.3z" fill="#cd6b72" stroke="#400e14"/><path d="M81.5,389.8l1.8-1.4-1-1-1.8,1.4z" fill="#c85d65" stroke="#400e14"/><path d="M84.3,389.5l1.9-1.5-1-1.1-1.8,1.5z" fill="#c7525a"/><path d="M87.2,389.2l1.9-1.5-1-1.3-1.9,1.6z" fill="#ca4952"/><path d="M90.0,390.1l1.9-1.3-1-2.6-1.9,1.5z" fill="#dd656e"/><path d="M92.8,392.4l1.9-.9-.9-3.9-1.9,1.2z" fill="#e69096" stroke="#400e14"/><path d="M95.6,394.9l1.8-.7-.9-3.5-1.9,.9z" fill="#f3c4c8" stroke="#2c1b1d"/><path d="M98.4,396.0l1.8-.6-.9-1.9-1.8,.7z" fill="#f6f5f4" stroke="#222222"/><path d="M50.3,391.0l1.7-.8-.9-1-1.7,.8z" fill="#e8dfde" stroke="#222222"/><path d="M52.9,391.1l1.7-1.2-.9-1-1.7,1.2z" fill="#dccbcb" stroke="#222222"/><path d="M55.5,390.9l1.7-1.3-.9-1-1.7,1.3z" fill="#dcaeb3" stroke="#222222"/><path d="M58.0,390.5l1.7-1-.9-1-1.7,1z" fill="#e4acb1" stroke="#2c1b1d"/><path d="M60.7,390.5l1.7-.7-.9-1-1.7,.7z" fill="#ecb1b6" stroke="#2c1b1d"/><path d="M63.3,390.8l1.7-.7-.9-.9-1.7,.7z" fill="#ebadb3" stroke="#2c1b1d"/><path d="M66.0,391.0l1.8-.7-.9-.9-1.7,.7z" fill="#e8a8ae" stroke="#2c1b1d"/><path d="M68.7,391.2l1.8-.8-.9-.9-1.8,.8z" fill="#e5a1a7" stroke="#2c1b1d"/><path d="M71.4,391.4l1.8-.9-1-.9-1.8,.9z" fill="#e1979d" stroke="#2c1b1d"/><path d="M74.1,391.4l1.8-1-1-.9-1.8,1z" fill="#db8a91" stroke="#361519"/><path d="M76.9,391.3l1.8-1.2-1-.9-1.8,1.2z" fill="#d57d83" stroke="#361519"/><path d="M79.7,391.1l1.8-1.3-1-1-1.8,1.3z" fill="#d06f76" stroke="#361519"/><path d="M82.5,390.9l1.8-1.4-1-1.1-1.8,1.4z" fill="#cd636b" stroke="#400e14"/><path d="M85.3,390.7l1.9-1.4-1-1.2-1.9,1.5z" fill="#cd5962" stroke="#400e14"/><path d="M88.1,391.4l1.9-1.3-1-2.4-1.9,1.5z" fill="#e0717a" stroke="#400e14"/><path d="M91.0,393.4l1.9-1-.9-3.6-1.9,1.3z" fill="#e9989f" stroke="#400e14"/><path d="M93.7,395.6l1.8-.7-.9-3.4-1.9,.9z" fill="#f4c8cc" stroke="#2c1b1d"/><path d="M96.5,396.7l1.8-.6-1-1.9-1.8,.7z" fill="#f6f5f4" stroke="#222222"/><path d="M51.2,392.0l1.7-.8-.9-1-1.7,.8z" fill="#e8dfde" stroke="#222222"/><path d="M53.8,392.1l1.7-1.2-.9-1-1.7,1.2z" fill="#dccbcb" stroke="#222222"/><path d="M56.4,391.8l1.7-1.3-.9-1-1.7,1.3z" fill="#ddafb4" stroke="#222222"/><path d="M58.9,391.5l1.7-1-.9-1-1.7,1z" fill="#e4adb2" stroke="#2c1b1d"/><path d="M61.6,391.5l1.7-.7-.9-1-1.7,.7z" fill="#ecb1b7" stroke="#2c1b1d"/><path d="M64.2,391.8l1.8-.7-.9-.9-1.7,.7z" fill="#ebaeb3" stroke="#2c1b1d"/><path d="M66.9,392.0l1.8-.8-.9-.9-1.8,.7z" fill="#e9a9ae" stroke="#2c1b1d"/><path d="M69.6,392.2l1.8-.8-.9-.9-1.8,.8z" fill="#e6a2a8" stroke="#2c1b1d"/><path d="M72.4,392.3l1.8-.9-1-.9-1.8,.9z" fill="#e1989e" stroke="#2c1b1d"/><path d="M75.1,392.4l1.8-1-1-1-1.8,1z" fill="#dd8d93" stroke="#361519"/><path d="M77.9,392.3l1.8-1.2-1-1-1.8,1.2z" fill="#d88087" stroke="#361519"/><path d="M80.6,392.2l1.8-1.3-1-1.1-1.8,1.3z" fill="#d4757c" stroke="#361519"/><path d="M83.5,392.0l1.9-1.4-1-1.2-1.8,1.4z" fill="#d36b72" stroke="#400e14"/><path d="M86.3,392.6l1.9-1.3-1-2.1-1.9,1.4z" fill="#e38087" stroke="#400e14"/><path d="M89.1,394.4l1.9-1-.9-3.3-1.9,1.3z" fill="#eba3a9" stroke="#361519"/><path d="M91.9,396.3l1.8-.7-.9-3.1-1.9,1z" fill="#f5cdd1" stroke="#2c1b1d"/><path d="M94.7,397.3l1.8-.6-1-1.8-1.8,.7z" fill="#f6f5f4" stroke="#222222"/><path d="M52.1,392.9l1.7-.8-.9-1-1.7,.8z" fill="#e8dfde" stroke="#222222"/><path d="M54.7,393.0l1.7-1.2-.9-1-1.7,1.2z" fill="#dccbcc" stroke="#222222"/><path d="M57.3,392.8l1.7-1.3-.9-1-1.7,1.3z" fill="#ddb0b5" stroke="#222222"/><path d="M59.8,392.5l1.7-1-.9-1-1.7,1z" fill="#e5aeb3" stroke="#2c1b1d"/><path d="M62.5,392.4l1.8-.7-.9-1-1.7,.7z" fill="#ecb2b8" stroke="#2c1b1d"/><path d="M65.2,392.7l1.8-.7-.9-1-1.8,.7z" fill="#ebafb4" stroke="#2c1b1d"/><path d="M67.9,393.0l1.8-.8-.9-.9-1.8,.8z" fill="#e9aab0" stroke="#2c1b1d"/><path d="M70.6,393.2l1.8-.8-.9-.9-1.8,.8z" fill="#e6a3a9" stroke="#2c1b1d"/><path d="M73.3,393.3l1.8-.9-1-1-1.8,.9z" fill="#e39aa0" stroke="#2c1b1d"/><path d="M76.0,393.3l1.8-1-1-1-1.8,1z" fill="#df9096" stroke="#361519"/><path d="M78.8,393.3l1.8-1.1-1-1-1.8,1.2z" fill="#db858c" stroke="#361519"/><path d="M81.6,393.3l1.8-1.2-1-1.1-1.8,1.3z" fill="#d97c83" stroke="#361519"/><path d="M84.4,393.8l1.9-1.2-1-2-1.9,1.4z" fill="#e78f96" stroke="#361519"/><path d="M87.2,395.3l1.9-1-.9-3-1.9,1.3z" fill="#eeadb3" stroke="#361519"/><path d="M90.0,397.0l1.8-.7-.9-2.9-1.9,1z" fill="#f6d3d7" stroke="#222222"/><path d="M92.8,397.9l1.8-.6-1-1.7-1.8,.7z" fill="#f6f5f4" stroke="#222222"/><path d="M53.0,393.9l1.7-.8-.9-1-1.7,.8z" fill="#e8dfde" stroke="#222222"/><path d="M55.6,394.0l1.7-1.2-.9-1-1.7,1.2z" fill="#dccccc" stroke="#222222"/><path d="M58.1,393.7l1.7-1.3-.9-1-1.7,1.3z" fill="#deb1b6" stroke="#222222"/><path d="M60.7,393.4l1.7-1-.9-1-1.7,1z" fill="#e5afb4" stroke="#2c1b1d"/><path d="M63.4,393.4l1.8-.7-.9-1-1.8,.7z" fill="#edb3b9" stroke="#2c1b1d"/><path d="M66.1,393.7l1.8-.7-.9-1-1.8,.7z" fill="#ecb0b6" stroke="#2c1b1d"/><path d="M68.8,393.9l1.8-.8-.9-1-1.8,.8z" fill="#eaabb1" stroke="#2c1b1d"/><path d="M71.5,394.1l1.8-.8-.9-1-1.8,.8z" fill="#e7a5ab" stroke="#2c1b1d"/><path d="M74.2,394.3l1.8-.9-1-1-1.8,.9z" fill="#e49da3" stroke="#2c1b1d"/><path d="M77.0,394.4l1.8-1-1-1-1.8,1z" fill="#e1949b" stroke="#2c1b1d"/><path d="M79.8,394.4l1.8-1.1-1-1.1-1.8,1.1z" fill="#df8c92" stroke="#361519"/><path d="M82.6,394.9l1.8-1.1-1-1.8-1.8,1.2z" fill="#ea9da3" stroke="#361519"/><path d="M85.4,396.2l1.8-.9-1-2.7-1.9,1.2z" fill="#f0b8bd" stroke="#2c1b1d"/><path d="M88.2,397.7l1.8-.7-.9-2.6-1.9,1z" fill="#f8d9dd" stroke="#222222"/><path d="M91.0,398.6l1.8-.6-1-1.7-1.8,.7z" fill="#f5f4f3" stroke="#222222"/><path d="M53.8,394.8l1.7-.8-.9-1-1.7,.8z" fill="#e8e0df" stroke="#222222"/><path d="M56.4,395.0l1.7-1.2-.9-1-1.7,1.2z" fill="#ddcccc" stroke="#222222"/><path d="M59.0,394.7l1.7-1.3-.9-1-1.7,1.3z" fill="#deb2b7" stroke="#222222"/><path d="M61.6,394.4l1.7-1-.9-1-1.7,1z" fill="#e6b0b5" stroke="#2c1b1d"/><path d="M64.3,394.4l1.8-.7-.9-1-1.8,.7z" fill="#edb5ba" stroke="#2c1b1d"/><path d="M67.0,394.6l1.8-.7-.9-1-1.8,.7z" fill="#ecb1b7" stroke="#2c1b1d"/><path d="M69.7,394.9l1.8-.8-.9-1-1.8,.8z" fill="#ebadb3" stroke="#2c1b1d"/><path d="M72.4,395.1l1.8-.8-.9-1-1.8,.8z" fill="#e8a7ad" stroke="#2c1b1d"/><path d="M75.2,395.3l1.8-.9-1-1-1.8,.9z" fill="#e6a1a7" stroke="#2c1b1d"/><path d="M78.0,395.4l1.8-1-1-1.1-1.8,1z" fill="#e49aa0" stroke="#2c1b1d"/><path d="M80.7,395.9l1.8-1-1-1.6-1.8,1.1z" fill="#eda9af" stroke="#2c1b1d"/><path d="M83.5,397.1l1.8-.9-1-2.4-1.8,1.1z" fill="#f2c1c6" stroke="#2c1b1d"/><path d="M86.3,398.4l1.8-.7-.9-2.4-1.8,.9z" fill="#fae0e3" stroke="#222222"/><path d="M89.2,399.2l1.8-.6-1-1.6-1.8,.7z" fill="#f5f4f3" stroke="#222222"/><path d="M54.7,395.8l1.7-.8-.9-1-1.7,.8z" fill="#e8e0df" stroke="#222222"/><path d="M57.3,395.9l1.7-1.2-.9-1-1.7,1.2z" fill="#ddcccd" stroke="#222222"/><path d="M59.9,395.6l1.7-1.3-.9-1-1.7,1.3z" fill="#dfb3b8" stroke="#222222"/><path d="M62.5,395.3l1.8-1-.9-1-1.7,1z" fill="#e6b1b6" stroke="#2c1b1d"/><path d="M65.2,395.3l1.8-.7-.9-1-1.8,.7z" fill="#eeb6bb" stroke="#2c1b1d"/><path d="M67.9,395.6l1.8-.7-.9-1-1.8,.7z" fill="#edb3b9" stroke="#2c1b1d"/><path d="M70.6,395.8l1.8-.8-.9-1-1.8,.8z" fill="#ebafb5" stroke="#2c1b1d"/><path d="M73.4,396.1l1.8-.8-.9-1-1.8,.8z" fill="#eaaab0" stroke="#2c1b1d"/><path d="M76.1,396.3l1.8-.9-1-1-1.8,.9z" fill="#e8a5ab" stroke="#2c1b1d"/><path d="M78.9,396.8l1.8-.9-1-1.5-1.8,1z" fill="#f0b4b9" stroke="#2c1b1d"/><path d="M81.7,397.9l1.8-.8-1-2.2-1.8,1z" fill="#f4c9cd" stroke="#2c1b1d"/><path d="M84.5,399.1l1.8-.7-1-2.2-1.8,.9z" fill="#f7f5f5" stroke="#222222"/><path d="M87.3,399.8l1.8-.6-1-1.5-1.8,.7z" fill="#f5f4f3" stroke="#222222"/><path d="M55.6,396.8l1.7-.9-.9-1-1.7,.8z" fill="#e8e0df" stroke="#222222"/><path d="M58.2,396.9l1.7-1.2-.9-1-1.7,1.2z" fill="#ddcdcd" stroke="#222222"/><path d="M60.8,396.6l1.7-1.3-.9-1-1.7,1.3z" fill="#dfb4b9" stroke="#222222"/><path d="M63.4,396.3l1.8-1-.9-1-1.8,1z" fill="#e7b2b8" stroke="#2c1b1d"/><path d="M66.1,396.3l1.8-.7-.9-1-1.8,.7z" fill="#eeb7bd" stroke="#2c1b1d"/><path d="M68.8,396.6l1.8-.7-.9-1-1.8,.7z" fill="#edb5ba" stroke="#2c1b1d"/><path d="M71.6,396.8l1.8-.8-.9-1-1.8,.8z" fill="#edb2b7" stroke="#2c1b1d"/><path d="M74.3,397.1l1.8-.8-.9-1-1.8,.8z" fill="#ebaeb4" stroke="#2c1b1d"/><path d="M77.1,397.6l1.8-.8-1-1.4-1.8,.9z" fill="#f2bbc1" stroke="#2c1b1d"/><path d="M79.9,398.7l1.8-.8-1-2-1.8,.9z" fill="#f6cfd4" stroke="#222222"/><path d="M82.7,399.8l1.8-.7-1-2-1.8,.8z" fill="#f7f5f5" stroke="#222222"/><path d="M85.5,400.5l1.8-.6-1-1.4-1.8,.7z" fill="#f4f3f2" stroke="#222222"/><path d="M56.5,397.7l1.7-.9-.9-1-1.7,.9z" fill="#e8e0df" stroke="#222222"/><path d="M59.1,397.8l1.7-1.2-.9-1-1.7,1.2z" fill="#ddcdcd" stroke="#222222"/><path d="M61.7,397.6l1.7-1.3-.9-1-1.7,1.3z" fill="#e0b5ba" stroke="#222222"/><path d="M64.3,397.2l1.8-1-.9-1-1.8,1z" fill="#e7b4b9" stroke="#222222"/><path d="M67.0,397.2l1.8-.7-.9-1-1.8,.7z" fill="#efb9be" stroke="#2c1b1d"/><path d="M69.8,397.5l1.8-.7-.9-1-1.8,.7z" fill="#eeb7bc" stroke="#2c1b1d"/><path d="M72.5,397.8l1.8-.7-.9-1-1.8,.8z" fill="#eeb4ba" stroke="#2c1b1d"/><path d="M75.3,398.4l1.8-.8-1-1.4-1.8,.8z" fill="#f3c1c6" stroke="#2c1b1d"/><path d="M78.0,399.4l1.8-.7-1-1.9-1.8,.8z" fill="#f7d5d9" stroke="#222222"/><path d="M80.8,400.4l1.8-.7-1-1.9-1.8,.8z" fill="#f6f5f5" stroke="#222222"/><path d="M83.6,401.1l1.8-.6-1-1.4-1.8,.7z" fill="#f4f3f2" stroke="#222222"/><path d="M57.3,398.7l1.8-.9-.9-1-1.7,.9z" fill="#e8e0df" stroke="#222222"/><path d="M60.0,398.8l1.7-1.2-.9-1-1.7,1.2z" fill="#ddcdce" stroke="#222222"/><path d="M62.6,398.5l1.8-1.3-.9-1-1.7,1.3z" fill="#e0b7bb" stroke="#222222"/><path d="M65.2,398.2l1.8-1-.9-1-1.8,1z" fill="#e8b5ba" stroke="#222222"/><path d="M67.9,398.2l1.8-.7-.9-1-1.8,.7z" fill="#efbac0" stroke="#2c1b1d"/><path d="M70.7,398.5l1.8-.7-.9-1-1.8,.7z" fill="#efb9be" stroke="#2c1b1d"/><path d="M73.4,399.1l1.8-.7-.9-1.3-1.8,.7z" fill="#f4c6cb" stroke="#2c1b1d"/><path d="M76.2,400.1l1.8-.7-1-1.8-1.8,.8z" fill="#f8d9dc" stroke="#222222"/><path d="M79.0,401.1l1.8-.7-1-1.8-1.8,.7z" fill="#f6f5f4" stroke="#222222"/><path d="M81.8,401.7l1.8-.6-1-1.3-1.8,.7z" fill="#f4f3f2" stroke="#222222"/><path d="M58.2,399.7l1.8-.9-.9-1-1.8,.9z" fill="#e8e0df" stroke="#222222"/><path d="M60.8,399.8l1.8-1.2-.9-1-1.7,1.2z" fill="#decece" stroke="#222222"/><path d="M63.5,399.5l1.8-1.3-.9-1-1.8,1.3z" fill="#e1b8bc" stroke="#222222"/><path d="M66.1,399.2l1.8-1-.9-1-1.8,1z" fill="#e9b7bc" stroke="#222222"/><path d="M68.9,399.2l1.8-.7-.9-1-1.8,.7z" fill="#f0bcc1" stroke="#2c1b1d"/><path d="M71.6,399.8l1.8-.7-.9-1.3-1.8,.7z" fill="#f5c9ce" stroke="#222222"/><path d="M74.4,400.8l1.8-.7-1-1.7-1.8,.7z" fill="#f9dcdf" stroke="#222222"/><path d="M77.2,401.7l1.8-.6-1-1.7-1.8,.7z" fill="#f6f5f4" stroke="#222222"/><path d="M79.9,402.3l1.8-.6-.9-1.3-1.8,.7z" fill="#f4f3f2" stroke="#222222"/><path d="M59.1,400.6l1.8-.9-.9-1-1.8,.9z" fill="#e8e0df" stroke="#222222"/><path d="M61.7,400.7l1.8-1.2-.9-1-1.8,1.2z" fill="#decece" stroke="#222222"/><path d="M64.4,400.4l1.8-1.3-.9-1-1.8,1.3z" fill="#e2b9bd" stroke="#222222"/><path d="M67.0,400.1l1.8-.9-.9-1-1.8,1z" fill="#e9b8bd" stroke="#222222"/><path d="M69.8,400.4l1.8-.7-.9-1.3-1.8,.7z" fill="#f6cbd0" stroke="#222222"/><path d="M72.5,401.4l1.8-.6-.9-1.7-1.8,.7z" fill="#fadee2" stroke="#222222"/><path d="M75.3,402.4l1.8-.6-.9-1.6-1.8,.7z" fill="#f6f4f4" stroke="#222222"/><path d="M78.1,403.0l1.8-.6-.9-1.2-1.8,.6z" fill="#f4f3f1" stroke="#222222"/><path d="M59.9,401.6l1.8-.9-.9-1-1.8,.9z" fill="#e8e0df" stroke="#222222"/><path d="M62.6,401.7l1.8-1.2-.9-1-1.8,1.2z" fill="#decfcf" stroke="#222222"/><path d="M65.3,401.4l1.8-1.3-.9-1-1.8,1.3z" fill="#e2bbbf" stroke="#222222"/><path d="M68.0,401.3l1.8-.9-.9-1.3-1.8,.9z" fill="#f7ced2" stroke="#222222"/><path d="M70.7,402.0l1.8-.6-.9-1.6-1.8,.7z" fill="#fae0e3" stroke="#222222"/><path d="M73.5,403.0l1.8-.6-.9-1.6-1.8,.6z" fill="#f6f4f4" stroke="#222222"/><path d="M76.2,403.6l1.8-.6-.9-1.2-1.8,.6z" fill="#f4f3f1" stroke="#222222"/><path d="M60.8,402.6l1.8-.9-.9-1-1.8,.9z" fill="#e8e0df" stroke="#222222"/><path d="M63.5,402.6l1.8-1.2-.9-1-1.8,1.2z" fill="#decfcf" stroke="#222222"/><path d="M66.2,402.5l1.8-1.2-.9-1.2-1.8,1.3z" fill="#eae1e1" stroke="#222222"/><path d="M68.9,402.8l1.8-.8-.9-1.6-1.8,.9z" fill="#f6f5f5" stroke="#222222"/><path d="M71.6,403.6l1.8-.6-.9-1.6-1.8,.6z" fill="#f6f4f4" stroke="#222222"/><path d="M74.4,404.2l1.8-.6-.9-1.2-1.8,.6z" fill="#f4f3f1" stroke="#222222"/><path d="M61.7,403.5l1.8-.9-.9-1-1.8,.9z" fill="#e8e0df" stroke="#222222"/><path d="M64.4,403.6l1.8-1.1-.9-1.1-1.8,1.2z" fill="#e4d9d9" stroke="#222222"/><path d="M67.1,403.8l1.8-.9-.9-1.5-1.8,1.2z" fill="#f5f3f3" stroke="#222222"/><path d="M69.8,404.3l1.8-.7-.9-1.6-1.8,.8z" fill="#f5f4f3" stroke="#222222"/><path d="M72.6,404.9l1.8-.6-.9-1.2-1.8,.6z" fill="#f4f3f1" stroke="#222222"/><path d="M62.6,404.5l1.8-.9-.9-1-1.8,.9z" fill="#eae3e2" stroke="#222222"/><path d="M65.3,404.7l1.8-.9-.9-1.3-1.8,1.1z" fill="#eeeae9" stroke="#222222"/><path d="M68.0,405.0l1.8-.7-.9-1.5-1.8,.9z" fill="#f4f3f2" stroke="#222222"/><path d="M70.7,405.5l1.8-.6-.9-1.2-1.8,.7z" fill="#f4f3f1" stroke="#222222"/><path d="M63.4,405.5l1.8-.8-.9-1.1-1.8,.9z" fill="#ede8e7" stroke="#222222"/><path d="M66.1,405.7l1.8-.7-.9-1.3-1.8,.9z" fill="#f3f2f1" stroke="#222222"/><path d="M68.9,406.1l1.8-.6-.9-1.2-1.8,.7z" fill="#f3f2f1" stroke="#222222"/><path d="M64.3,406.4l1.8-.7-.9-1.1-1.8,.8z" fill="#efeceb" stroke="#222222"/><path d="M67.0,406.8l1.8-.6-.9-1.1-1.8,.7z" fill="#f2f1f0" stroke="#222222"/><path d="M65.2,407.4l1.8-.6-.9-1-1.8,.7z" fill="#f0edeb" stroke="#222222"/></g>
<text x="35.70" y="373.82" font-size="7.0" fill="#333" stroke="#333" stroke-width="0.2" textLength="6.80" lengthAdjust="spacingAndGlyphs">30</text>
<text x="36.47" y="384.32" font-size="7.0" fill="#333" stroke="#333" stroke-width="0.2" textLength="6.80" lengthAdjust="spacingAndGlyphs">10</text>
<text x="33.83" y="394.82" font-size="7.0" fill="#333" stroke="#333" stroke-width="0.2" textLength="10.20" lengthAdjust="spacingAndGlyphs">&#8722;10</text>
<text x="34.60" y="405.32" font-size="7.0" fill="#333" stroke="#333" stroke-width="0.2" textLength="10.20" lengthAdjust="spacingAndGlyphs">&#8722;30</text>
<text x="37.92" y="411.02" font-size="7.0" fill="#333" stroke="#333" stroke-width="0.2" textLength="9.75" lengthAdjust="spacingAndGlyphs">200</text>
<text x="43.58" y="416.42" font-size="7.0" fill="#333" stroke="#333" stroke-width="0.2" textLength="9.75" lengthAdjust="spacingAndGlyphs">100</text>
<text x="49.60" y="422.62" font-size="7.0" fill="#333" stroke="#333" stroke-width="0.2" textLength="6.50" lengthAdjust="spacingAndGlyphs">50</text>
<text x="54.90" y="428.82" font-size="7.0" fill="#333" stroke="#333" stroke-width="0.2" textLength="6.50" lengthAdjust="spacingAndGlyphs">25</text>
<text x="72.05" y="430.32" font-size="7.0" fill="#333" stroke="#333" stroke-width="0.2" textLength="7.00" lengthAdjust="spacingAndGlyphs">50</text>
<text x="79.75" y="427.32" font-size="7.0" fill="#333" stroke="#333" stroke-width="0.2" textLength="10.50" lengthAdjust="spacingAndGlyphs">100</text>
<text x="90.50" y="422.92" font-size="7.0" fill="#333" stroke="#333" stroke-width="0.2" textLength="10.50" lengthAdjust="spacingAndGlyphs">200</text>
<text x="99.95" y="418.42" font-size="7.0" fill="#333" stroke="#333" stroke-width="0.2" textLength="10.50" lengthAdjust="spacingAndGlyphs">400</text>
<g transform="translate(25.50,386.90) rotate(-90)"><text x="-13.35" y="2.84" font-size="7.9" fill="#2a2a2a" stroke="#2a2a2a" stroke-width="0.25" textLength="26.70" lengthAdjust="spacingAndGlyphs">&#948;&#8722;score</text></g>
<g transform="translate(37.70,426.00) rotate(46)"><text x="-13.50" y="3.02" font-size="8.4" fill="#2a2a2a" stroke="#2a2a2a" stroke-width="0.25" textLength="27.00" lengthAdjust="spacingAndGlyphs">BETi (nM)</text></g>
<g transform="translate(94.00,435.20) rotate(-25)"><text x="-16.65" y="3.10" font-size="8.6" fill="#2a2a2a" stroke="#2a2a2a" stroke-width="0.25" textLength="33.30" lengthAdjust="spacingAndGlyphs">p300i (nM)</text></g>
<rect x="49.10" y="357.30" width="55.00" height="2.20" fill="url(#cbar)"/>
<text x="43.80" y="354.42" font-size="7.0" fill="#333" stroke="#333" stroke-width="0.15" textLength="11.40" lengthAdjust="spacingAndGlyphs">&#8722;30</text>
<text x="61.50" y="354.42" font-size="7.0" fill="#333" stroke="#333" stroke-width="0.15" textLength="12.00" lengthAdjust="spacingAndGlyphs">&#8722;10</text>
<text x="82.50" y="354.42" font-size="7.0" fill="#333" stroke="#333" stroke-width="0.15" textLength="6.80" lengthAdjust="spacingAndGlyphs">10</text>
<text x="100.30" y="354.42" font-size="7.0" fill="#333" stroke="#333" stroke-width="0.15" textLength="7.20" lengthAdjust="spacingAndGlyphs">30</text>
<line x1="166.70" y1="402.70" x2="184.20" y2="424.50" stroke="#808080" stroke-width="0.6"/>
<line x1="184.20" y1="424.50" x2="218.70" y2="408.50" stroke="#808080" stroke-width="0.6"/>
<line x1="164.40" y1="371.20" x2="166.70" y2="402.70" stroke="#808080" stroke-width="0.6"/>
<line x1="221.40" y1="378.90" x2="218.70" y2="408.50" stroke="#808080" stroke-width="0.6"/>
<line x1="181.80" y1="387.60" x2="184.20" y2="424.50" stroke="#808080" stroke-width="0.6"/>
<line x1="164.40" y1="371.20" x2="198.70" y2="363.50" stroke="#808080" stroke-width="0.6"/>
<line x1="198.70" y1="363.50" x2="221.40" y2="378.90" stroke="#808080" stroke-width="0.6"/>
<line x1="164.40" y1="371.20" x2="181.80" y2="387.60" stroke="#808080" stroke-width="0.6"/>
<line x1="181.80" y1="387.60" x2="221.40" y2="378.90" stroke="#808080" stroke-width="0.6"/>
<line x1="166.70" y1="402.70" x2="199.70" y2="389.50" stroke="#999" stroke-width="0.5" stroke-dasharray="0.8 1.6"/>
<line x1="199.70" y1="389.50" x2="218.70" y2="408.50" stroke="#999" stroke-width="0.5" stroke-dasharray="0.8 1.6"/>
<line x1="198.70" y1="363.50" x2="199.70" y2="389.50" stroke="#999" stroke-width="0.5" stroke-dasharray="0.8 1.6"/>
<g stroke="#4a0810" stroke-width="0.5" stroke-opacity="0.48" stroke-linejoin="round"><path d="M198.6,378.5l1.7-.5-1-.9-1.7,.5z" fill="#f0eceb" stroke="#222222"/><path d="M196.9,379.1l1.7-.5-1-.9-1.7,.5z" fill="#f0eceb" stroke="#222222"/><path d="M199.6,379.4l1.7-.5-1-.9-1.7,.5z" fill="#efeceb" stroke="#222222"/><path d="M195.2,379.6l1.7-.5-1-.9-1.7,.5z" fill="#efeceb" stroke="#222222"/><path d="M197.9,379.9l1.7-.5-1-.9-1.7,.5z" fill="#efebea" stroke="#222222"/><path d="M200.6,380.3l1.7-.5-1-.9-1.7,.5z" fill="#efebea" stroke="#222222"/><path d="M193.5,380.1l1.7-.5-1-.9-1.7,.5z" fill="#efebea" stroke="#222222"/><path d="M196.2,380.5l1.7-.5-1-.9-1.7,.5z" fill="#efebea" stroke="#222222"/><path d="M198.9,380.8l1.7-.5-1-.9-1.7,.5z" fill="#efeae9" stroke="#222222"/><path d="M201.7,381.1l1.7-.5-1-.8-1.7,.5z" fill="#eeeae9" stroke="#222222"/><path d="M191.8,380.7l1.7-.5-1-.9-1.7,.5z" fill="#efebea" stroke="#222222"/><path d="M194.5,381.0l1.7-.5-1-.9-1.7,.5z" fill="#efeae9" stroke="#222222"/><path d="M197.2,381.3l1.7-.5-1-.8-1.7,.5z" fill="#eee9e8" stroke="#222222"/><path d="M199.9,381.6l1.7-.5-1-.8-1.7,.5z" fill="#ede8e7" stroke="#222222"/><path d="M202.7,381.9l1.7-.5-1-.8-1.7,.5z" fill="#ede7e6" stroke="#222222"/><path d="M190.1,381.2l1.7-.5-1-.9-1.7,.5z" fill="#efebea" stroke="#222222"/><path d="M192.8,381.5l1.7-.5-1-.9-1.7,.5z" fill="#eeeae9" stroke="#222222"/><path d="M195.5,381.8l1.7-.5-1-.8-1.7,.5z" fill="#ede8e7" stroke="#222222"/><path d="M198.2,382.1l1.7-.5-1-.8-1.7,.5z" fill="#ece6e5" stroke="#222222"/><path d="M201.0,382.4l1.7-.5-1-.8-1.7,.5z" fill="#ebe4e3" stroke="#222222"/><path d="M203.7,382.6l1.7-.5-1-.8-1.7,.5z" fill="#eae2e1" stroke="#222222"/><path d="M188.4,381.7l1.7-.5-1-.9-1.7,.5z" fill="#efeae9" stroke="#222222"/><path d="M191.1,382.0l1.7-.5-1-.9-1.7,.5z" fill="#eee9e8" stroke="#222222"/><path d="M193.8,382.3l1.7-.5-1-.8-1.7,.5z" fill="#ece7e6" stroke="#222222"/><path d="M196.5,382.6l1.7-.5-1-.8-1.7,.5z" fill="#ebe3e3" stroke="#222222"/><path d="M199.2,382.8l1.7-.5-1-.8-1.7,.5z" fill="#e9e0df" stroke="#222222"/><path d="M202.0,383.0l1.7-.4-1-.7-1.7,.5z" fill="#e7dcdc" stroke="#222222"/><path d="M204.8,383.2l1.7-.4-1-.7-1.7,.5z" fill="#e5dada" stroke="#222222"/><path d="M186.7,382.2l1.7-.5-1-.9-1.7,.5z" fill="#eeeae9" stroke="#222222"/><path d="M189.4,382.6l1.7-.5-1-.9-1.7,.5z" fill="#ede8e7" stroke="#222222"/><path d="M192.1,382.8l1.7-.5-1-.8-1.7,.5z" fill="#ebe5e4" stroke="#222222"/><path d="M194.8,383.1l1.7-.5-1-.8-1.7,.5z" fill="#e9e0e0" stroke="#222222"/><path d="M197.5,383.2l1.7-.4-1-.7-1.7,.5z" fill="#e5dbda" stroke="#222222"/><path d="M200.3,383.4l1.7-.4-1-.6-1.7,.5z" fill="#e2d5d5" stroke="#222222"/><path d="M203.0,383.5l1.7-.3-1-.6-1.7,.4z" fill="#e0d1d2" stroke="#222222"/><path d="M205.8,383.7l1.7-.3-1-.6-1.7,.4z" fill="#dfd0d0" stroke="#222222"/><path d="M185.1,382.8l1.7-.5-1-.9-1.7,.5z" fill="#eee9e8" stroke="#222222"/><path d="M187.7,383.1l1.7-.5-1-.8-1.7,.5z" fill="#ece7e6" stroke="#222222"/><path d="M190.4,383.3l1.7-.5-1-.8-1.7,.5z" fill="#eae2e2" stroke="#222222"/><path d="M193.1,383.5l1.7-.5-1-.7-1.7,.5z" fill="#e6dcdc" stroke="#222222"/><path d="M195.8,383.7l1.7-.4-1-.7-1.7,.5z" fill="#e2d4d4" stroke="#222222"/><path d="M198.5,383.7l1.7-.3-1-.6-1.7,.4z" fill="#ddcccd" stroke="#222222"/><path d="M201.3,383.8l1.7-.3-1-.5-1.7,.4z" fill="#ddb4b8" stroke="#222222"/><path d="M204.0,383.8l1.7-.2-1-.5-1.7,.3z" fill="#d9a9ae" stroke="#222222"/><path d="M206.8,384.0l1.8-.1-1.1-.5-1.7,.3z" fill="#d9a6ab" stroke="#222222"/><path d="M183.4,383.3l1.7-.5-1-.9-1.7,.5z" fill="#eee9e8" stroke="#222222"/><path d="M186.0,383.6l1.7-.5-1-.8-1.7,.5z" fill="#ece5e5" stroke="#222222"/><path d="M188.7,383.8l1.7-.5-1-.8-1.7,.5z" fill="#e9e0df" stroke="#222222"/><path d="M191.4,384.0l1.7-.5-1-.7-1.7,.5z" fill="#e4d8d8" stroke="#222222"/><path d="M194.1,384.1l1.7-.4-1-.6-1.7,.5z" fill="#decdce" stroke="#222222"/><path d="M196.8,384.0l1.7-.3-1-.5-1.7,.4z" fill="#dbb1b6" stroke="#222222"/><path d="M199.5,384.0l1.7-.2-1-.4-1.7,.3z" fill="#d29ea2" stroke="#222222"/><path d="M202.3,383.9l1.8-.1-1-.3-1.7,.3z" fill="#cd9297" stroke="#2c1b1d"/><path d="M205.1,383.9l1.8,0-1-.3-1.7,.2z" fill="#cd8e93" stroke="#2c1b1d"/><path d="M207.9,384.1l1.8,.1-1.1-.4-1.8,.1z" fill="#d19297" stroke="#2c1b1d"/><path d="M181.7,383.8l1.7-.5-1-.9-1.7,.5z" fill="#ede8e7" stroke="#222222"/><path d="M184.3,384.1l1.7-.5-1-.8-1.7,.5z" fill="#ebe4e4" stroke="#222222"/><path d="M187.0,384.3l1.7-.5-1-.8-1.7,.5z" fill="#e7dedd" stroke="#222222"/><path d="M189.6,384.5l1.7-.5-1-.7-1.7,.5z" fill="#e1d3d4" stroke="#222222"/><path d="M192.3,384.5l1.7-.4-1-.5-1.7,.5z" fill="#d9c6c7" stroke="#222222"/><path d="M195.0,384.3l1.7-.3-1-.4-1.7,.4z" fill="#d2a0a4" stroke="#222222"/><path d="M197.8,384.1l1.8-.2-1-.2-1.7,.3z" fill="#c78b8f" stroke="#2c1b1d"/><path d="M200.5,383.9l1.8-0-1-.1-1.7,.2z" fill="#c17d82" stroke="#2c1b1d"/><path d="M203.3,383.8l1.8,.1-1-.1-1.8,.1z" fill="#c0787d" stroke="#2c1b1d"/><path d="M206.1,383.9l1.8,.2-1.1-.2-1.8-0z" fill="#c57a80" stroke="#2c1b1d"/><path d="M209.0,384.3l1.8,.2-1.1-.3-1.8-.1z" fill="#ce848a" stroke="#2c1b1d"/><path d="M180.0,384.4l1.7-.5-.9-.9-1.7,.5z" fill="#ede8e7" stroke="#222222"/><path d="M182.6,384.6l1.7-.5-1-.8-1.7,.5z" fill="#ebe4e3" stroke="#222222"/><path d="M185.3,384.9l1.7-.5-1-.7-1.7,.5z" fill="#e6dcdb" stroke="#222222"/><path d="M187.9,384.9l1.7-.5-1-.6-1.7,.5z" fill="#dfcfd0" stroke="#222222"/><path d="M190.6,384.9l1.7-.4-1-.5-1.7,.5z" fill="#d9b1b5" stroke="#222222"/><path d="M193.3,384.6l1.7-.3-1-.3-1.7,.4z" fill="#ca9196" stroke="#222222"/><path d="M196.0,384.3l1.8-.2-1-.1-1.7,.3z" fill="#bd7a7f" stroke="#2c1b1d"/><path d="M198.8,383.9l1.8,0-1,0-1.8,.2z" fill="#b66b70" stroke="#2c1b1d"/><path d="M201.6,383.7l1.8,.2-1,.1-1.8,0z" fill="#b5646a" stroke="#361519"/><path d="M204.4,383.6l1.8,.3-1-0-1.8-.1z" fill="#b9656b" stroke="#361519"/><path d="M207.2,384.0l1.8,.4-1.1-.2-1.8-.2z" fill="#c36e74" stroke="#361519"/><path d="M210.0,384.6l1.8,.3-1.1-.4-1.8-.2z" fill="#d17e84" stroke="#361519"/><path d="M178.3,384.9l1.7-.5-.9-.9-1.7,.5z" fill="#ede8e7" stroke="#222222"/><path d="M180.9,385.2l1.7-.5-.9-.8-1.7,.5z" fill="#eae3e2" stroke="#222222"/><path d="M183.6,385.4l1.7-.5-.9-.7-1.7,.5z" fill="#e5dada" stroke="#222222"/><path d="M186.2,385.4l1.7-.5-1-.6-1.7,.5z" fill="#ddcccd" stroke="#222222"/><path d="M188.9,385.3l1.7-.4-1-.4-1.7,.5z" fill="#d4a6ab" stroke="#222222"/><path d="M191.6,385.0l1.7-.3-1-.2-1.7,.4z" fill="#c3868a" stroke="#2c1b1d"/><path d="M194.3,384.5l1.8-.2-1,0-1.7,.3z" fill="#b56c72" stroke="#2c1b1d"/><path d="M197.0,383.9l1.8-0-1,.2-1.8,.2z" fill="#ac5c61" stroke="#361519"/><path d="M199.8,383.5l1.8,.2-1,.3-1.8-0z" fill="#ab545a" stroke="#361519"/><path d="M202.6,383.3l1.8,.3-1,.2-1.8-.2z" fill="#af545a" stroke="#400e14"/><path d="M205.4,383.5l1.8,.4-1.1-0-1.8-.3z" fill="#ba5a60" stroke="#400e14"/><path d="M208.3,384.1l1.8,.4-1.1-.3-1.8-.4z" fill="#c9686f" stroke="#400e14"/><path d="M211.1,385.1l1.8,.4-1.1-.5-1.8-.3z" fill="#db7f86" stroke="#361519"/><path d="M176.6,385.4l1.7-.5-.9-.9-1.7,.5z" fill="#ede8e7" stroke="#222222"/><path d="M179.2,385.7l1.7-.5-.9-.8-1.7,.5z" fill="#eae3e2" stroke="#222222"/><path d="M181.9,385.9l1.7-.5-.9-.7-1.7,.5z" fill="#e5dad9" stroke="#222222"/><path d="M184.5,385.9l1.7-.5-.9-.6-1.7,.5z" fill="#dccacb" stroke="#222222"/><path d="M187.1,385.8l1.7-.5-.9-.4-1.7,.5z" fill="#d1a0a4" stroke="#222222"/><path d="M189.8,385.4l1.7-.4-1-.1-1.7,.4z" fill="#be7d82" stroke="#2c1b1d"/><path d="M192.5,384.7l1.8-.3-1,.2-1.7,.3z" fill="#ae6268" stroke="#2c1b1d"/><path d="M195.2,384.0l1.8-.1-1,.4-1.8,.2z" fill="#a55156" stroke="#361519"/><path d="M198.0,383.4l1.8,.1-1,.4-1.8,0z" fill="#a3484e" stroke="#400e14"/><path d="M200.8,383.0l1.8,.3-1,.4-1.8-.2z" fill="#a7464c" stroke="#400e14"/><path d="M203.6,383.1l1.8,.5-1.1,.1-1.8-.3z" fill="#b24a50" stroke="#400e14"/><path d="M206.5,383.6l1.8,.5-1.1-.2-1.8-.4z" fill="#c2555c" stroke="#400e14"/><path d="M209.3,384.7l1.8,.4-1.1-.5-1.8-.4z" fill="#d66a72" stroke="#400e14"/><path d="M212.1,385.9l1.8,.3-1.1-.8-1.8-.4z" fill="#e6888f" stroke="#361519"/><path d="M174.9,386.0l1.7-.5-.9-.9-1.7,.5z" fill="#ede8e7" stroke="#222222"/><path d="M177.5,386.3l1.7-.5-.9-.8-1.7,.5z" fill="#eae3e2" stroke="#222222"/><path d="M180.1,386.5l1.7-.6-.9-.7-1.7,.5z" fill="#e5dada" stroke="#222222"/><path d="M182.8,386.5l1.7-.5-.9-.6-1.7,.5z" fill="#dccaca" stroke="#222222"/><path d="M185.4,386.3l1.7-.5-.9-.3-1.7,.5z" fill="#cf9da2" stroke="#222222"/><path d="M188.1,385.8l1.7-.5-.9-.1-1.7,.5z" fill="#bb797e" stroke="#2c1b1d"/><path d="M190.7,385.1l1.8-.4-1,.2-1.7,.4z" fill="#aa5c61" stroke="#2c1b1d"/><path d="M193.5,384.2l1.8-.2-1,.5-1.8,.3z" fill="#9f4a4f" stroke="#361519"/><path d="M196.2,383.4l1.8-0-1,.6-1.8,.1z" fill="#9c4046" stroke="#400e14"/><path d="M199.0,382.8l1.8,.2-1,.5-1.8-.1z" fill="#a03c42"/><path d="M201.8,382.7l1.8,.4-1,.2-1.8-.3z" fill="#ac3d44"/><path d="M204.7,383.2l1.8,.5-1.1-.1-1.8-.5z" fill="#bd444c"/><path d="M207.5,384.2l1.8,.4-1.1-.5-1.8-.5z" fill="#d2565f"/><path d="M210.4,385.6l1.8,.3-1.1-.8-1.8-.4z" fill="#e2777f" stroke="#400e14"/><path d="M213.2,387.1l1.8,.2-1-1-1.8-.3z" fill="#e9999f" stroke="#361519"/><path d="M173.2,386.5l1.7-.5-.9-.9-1.7,.5z" fill="#eee8e8" stroke="#222222"/><path d="M175.8,386.8l1.7-.6-.9-.8-1.7,.5z" fill="#ebe4e3" stroke="#222222"/><path d="M178.4,387.0l1.7-.6-.9-.7-1.7,.5z" fill="#e5dbda" stroke="#222222"/><path d="M181.1,387.1l1.7-.6-.9-.6-1.7,.6z" fill="#dccbcb" stroke="#222222"/><path d="M183.7,386.9l1.7-.6-.9-.4-1.7,.5z" fill="#d09ea2" stroke="#222222"/><path d="M186.3,386.4l1.7-.6-.9-.1-1.7,.5z" fill="#ba777c" stroke="#2c1b1d"/><path d="M189.0,385.6l1.8-.5-.9,.3-1.7,.5z" fill="#a8595e" stroke="#2c1b1d"/><path d="M191.7,384.6l1.8-.4-1,.5-1.8,.4z" fill="#9e464c" stroke="#361519"/><path d="M194.4,383.6l1.8-.2-1,.6-1.8,.2z" fill="#9b3d42" stroke="#400e14"/><path d="M197.2,382.8l1.8-0-1,.6-1.8,0z" fill="#9c353c"/><path d="M200.0,382.5l1.8,.2-1,.3-1.8-.2z" fill="#a7333b"/><path d="M202.9,382.9l1.8,.3-1-.1-1.8-.4z" fill="#ba363f"/><path d="M205.7,383.8l1.8,.4-1.1-.6-1.8-.5z" fill="#d1444e"/><path d="M208.6,385.3l1.8,.3-1-.9-1.8-.4z" fill="#de6b74"/><path d="M211.4,386.9l1.8,.2-1-1.2-1.8-.3z" fill="#e68f96" stroke="#400e14"/><path d="M214.2,388.5l1.8-0-1-1.3-1.8-.2z" fill="#eda9af" stroke="#361519"/><path d="M171.5,387.0l1.7-.5-.9-.9-1.7,.5z" fill="#eee9e8" stroke="#222222"/><path d="M174.1,387.4l1.7-.6-.9-.9-1.7,.5z" fill="#ebe5e4" stroke="#222222"/><path d="M176.7,387.6l1.7-.6-.9-.8-1.7,.6z" fill="#e6dcdc" stroke="#222222"/><path d="M179.3,387.7l1.7-.6-.9-.6-1.7,.6z" fill="#decdce" stroke="#222222"/><path d="M182.0,387.5l1.7-.6-.9-.4-1.7,.6z" fill="#d2a2a6" stroke="#222222"/><path d="M184.6,387.0l1.7-.6-.9-.1-1.7,.6z" fill="#bc7a7f" stroke="#2c1b1d"/><path d="M187.2,386.2l1.7-.6-.9,.2-1.7,.6z" fill="#a95a5f" stroke="#2c1b1d"/><path d="M189.9,385.2l1.8-.6-.9,.5-1.8,.5z" fill="#9d464b" stroke="#361519"/><path d="M192.6,384.0l1.8-.5-1,.6-1.8,.4z" fill="#9b3b41"/><path d="M195.4,383.1l1.8-.3-1,.6-1.8,.2z" fill="#993238"/><path d="M198.2,382.6l1.8-.1-1,.3-1.8,0z" fill="#a52d35"/><path d="M201.0,382.8l1.8,.1-1-.2-1.8-.2z" fill="#ba2c35"/><path d="M203.9,383.7l1.8,.2-1-.7-1.8-.3z" fill="#d23540"/><path d="M206.7,385.1l1.8,.2-1-1.1-1.8-.4z" fill="#dd666f"/><path d="M209.6,386.8l1.8,.1-1-1.3-1.8-.3z" fill="#e5888f" stroke="#400e14"/><path d="M212.4,388.6l1.8-0-1-1.4-1.8-.2z" fill="#eba2a8" stroke="#361519"/><path d="M215.2,390.1l1.8-.2-1-1.4-1.8,0z" fill="#f0b8bd" stroke="#2c1b1d"/><path d="M169.9,387.6l1.7-.5-.9-.9-1.7,.5z" fill="#eee9e8" stroke="#222222"/><path d="M172.4,387.9l1.7-.6-.9-.9-1.7,.5z" fill="#ece6e5" stroke="#222222"/><path d="M175.0,388.2l1.7-.6-.9-.8-1.7,.6z" fill="#e8dede" stroke="#222222"/><path d="M177.6,388.3l1.7-.6-.9-.7-1.7,.6z" fill="#e0d1d1" stroke="#222222"/><path d="M180.2,388.2l1.7-.7-.9-.4-1.7,.6z" fill="#d6a9ad" stroke="#222222"/><path d="M182.9,387.8l1.7-.7-.9-.2-1.7,.6z" fill="#c08085" stroke="#2c1b1d"/><path d="M185.5,387.0l1.7-.8-.9,.2-1.7,.6z" fill="#ac5e63" stroke="#2c1b1d"/><path d="M188.2,385.9l1.8-.8-.9,.4-1.7,.6z" fill="#9e474c" stroke="#361519"/><path d="M190.9,384.7l1.8-.7-.9,.6-1.8,.6z" fill="#9b3b41"/><path d="M193.6,383.7l1.8-.6-1,.5-1.8,.5z" fill="#993137"/><path d="M196.4,383.0l1.8-.4-1,.2-1.8,.3z" fill="#a42a32"/><path d="M199.2,383.0l1.8-.2-1-.3-1.8,.1z" fill="#bb242e"/><path d="M202.1,383.8l1.8-.1-1-.8-1.8-.1z" fill="#d23640"/><path d="M204.9,385.1l1.8-0-1-1.3-1.8-.2z" fill="#dc666e"/><path d="M207.8,386.9l1.8-0-1-1.6-1.8-.2z" fill="#e3858b"/><path d="M210.6,388.7l1.8-.1-1-1.6-1.8-.1z" fill="#e99da3" stroke="#400e14"/><path d="M213.4,390.3l1.8-.2-1-1.6-1.8,0z" fill="#eeb2b7" stroke="#361519"/><path d="M216.2,391.7l1.8-.4-1-1.4-1.8,.2z" fill="#f3c5c9" stroke="#2c1b1d"/><path d="M168.2,388.1l1.7-.5-.9-.9-1.7,.5z" fill="#eeeae9" stroke="#222222"/><path d="M170.7,388.5l1.7-.6-.9-.9-1.7,.5z" fill="#ede7e6" stroke="#222222"/><path d="M173.3,388.8l1.7-.6-.9-.8-1.7,.6z" fill="#e9e0e0" stroke="#222222"/><path d="M175.9,388.9l1.7-.6-.9-.7-1.7,.6z" fill="#e2d5d5" stroke="#222222"/><path d="M178.5,388.9l1.7-.7-.9-.5-1.7,.6z" fill="#d7c2c3" stroke="#222222"/><path d="M181.1,388.6l1.7-.8-.9-.3-1.7,.7z" fill="#c68a8e" stroke="#222222"/><path d="M183.8,387.9l1.7-.9-.9,0-1.7,.7z" fill="#b1666b" stroke="#2c1b1d"/><path d="M186.4,386.9l1.8-.9-.9,.3-1.7,.8z" fill="#a14c51" stroke="#361519"/><path d="M189.1,385.7l1.8-1-.9,.4-1.8,.8z" fill="#9b3d43" stroke="#400e14"/><path d="M191.8,384.6l1.8-.9-1,.4-1.8,.7z" fill="#9a3339"/><path d="M194.6,383.8l1.8-.8-1,.1-1.8,.6z" fill="#a62b32"/><path d="M197.4,383.6l1.8-.6-1-.4-1.8,.4z" fill="#bc222c"/><path d="M200.2,384.2l1.8-.4-1-1-1.8,.2z" fill="#d23843"/><path d="M203.1,385.4l1.8-.3-1-1.5-1.8,.1z" fill="#dc666e"/><path d="M205.9,387.1l1.8-.2-1-1.8-1.8,0z" fill="#e28188"/><path d="M208.7,389.0l1.8-.3-1-1.9-1.8,0z" fill="#e8989e" stroke="#400e14"/><path d="M211.6,390.7l1.8-.3-1-1.8-1.8,.1z" fill="#edadb2" stroke="#361519"/><path d="M214.4,392.1l1.8-.4-1-1.6-1.8,.2z" fill="#f2c0c5" stroke="#2c1b1d"/><path d="M217.2,393.1l1.8-.5-1-1.3-1.8,.4z" fill="#f6d2d6" stroke="#222222"/><path d="M166.5,388.7l1.7-.5-.9-.9-1.7,.5z" fill="#efeae9" stroke="#222222"/><path d="M169.0,389.1l1.7-.6-.9-.9-1.7,.5z" fill="#ede8e7" stroke="#222222"/><path d="M171.6,389.4l1.7-.6-.9-.8-1.7,.6z" fill="#eae3e2" stroke="#222222"/><path d="M174.2,389.6l1.7-.6-.9-.7-1.7,.6z" fill="#e5d9d9" stroke="#222222"/><path d="M176.8,389.6l1.7-.7-.9-.6-1.7,.6z" fill="#dbc9c9" stroke="#222222"/><path d="M179.4,389.4l1.7-.8-.9-.4-1.7,.7z" fill="#cd969b" stroke="#222222"/><path d="M182.0,388.8l1.7-.9-.9-.1-1.7,.8z" fill="#b97176" stroke="#2c1b1d"/><path d="M184.7,387.9l1.7-1.1-.9,.1-1.7,.9z" fill="#a8555a" stroke="#361519"/><path d="M187.3,386.8l1.8-1.1-.9,.2-1.8,.9z" fill="#9f4248" stroke="#400e14"/><path d="M190.0,385.7l1.8-1.2-.9,.2-1.8,1z" fill="#9f373e"/><path d="M192.8,384.9l1.8-1.1-1-.1-1.8,.9z" fill="#a92e36"/><path d="M195.6,384.6l1.8-1-1-.6-1.8,.8z" fill="#be252f"/><path d="M198.4,385.0l1.8-.8-1-1.2-1.8,.6z" fill="#d23641"/><path d="M201.2,386.1l1.8-.6-1-1.7-1.8,.4z" fill="#db6069"/><path d="M204.1,387.6l1.8-.5-1-2-1.8,.3z" fill="#e17b82"/><path d="M206.9,389.4l1.8-.4-1-2.1-1.8,.2z" fill="#e69298"/><path d="M209.7,391.1l1.8-.4-1-2-1.8,.3z" fill="#eca8ae" stroke="#361519"/><path d="M212.5,392.5l1.8-.5-1-1.7-1.8,.3z" fill="#f1bcc1" stroke="#2c1b1d"/><path d="M215.3,393.6l1.8-.5-1-1.5-1.8,.4z" fill="#f5ced2" stroke="#2c1b1d"/><path d="M218.2,394.4l1.8-.6-1-1.2-1.8,.5z" fill="#fbe2e5" stroke="#222222"/><path d="M167.3,389.6l1.7-.6-.9-.9-1.7,.5z" fill="#eee9e8" stroke="#222222"/><path d="M169.9,390.0l1.7-.6-.9-.9-1.7,.6z" fill="#ece5e4" stroke="#222222"/><path d="M172.5,390.2l1.7-.6-.9-.8-1.7,.6z" fill="#e7dddd" stroke="#222222"/><path d="M175.1,390.3l1.7-.7-.9-.7-1.7,.6z" fill="#dfd0d0" stroke="#222222"/><path d="M177.7,390.2l1.7-.8-.9-.5-1.7,.7z" fill="#d5a5aa" stroke="#222222"/><path d="M180.3,389.8l1.7-1-.9-.3-1.7,.8z" fill="#c28085" stroke="#2c1b1d"/><path d="M182.9,389.1l1.7-1.1-.9-.1-1.7,.9z" fill="#b16267" stroke="#361519"/><path d="M185.6,388.1l1.7-1.3-.9,0-1.7,1.1z" fill="#a74c52" stroke="#400e14"/><path d="M188.3,387.1l1.8-1.4-.9-0-1.8,1.1z" fill="#a53f46"/><path d="M191.0,386.3l1.8-1.4-1-.3-1.8,1.2z" fill="#ae363e"/><path d="M193.7,385.9l1.8-1.3-1-.8-1.8,1.1z" fill="#bf2d37"/><path d="M196.6,386.1l1.8-1.1-1-1.4-1.8,1z" fill="#d1323d"/><path d="M199.4,387.0l1.8-.9-1-1.9-1.8,.8z" fill="#d95861"/><path d="M202.2,388.4l1.8-.7-1-2.2-1.8,.6z" fill="#e0747c"/><path d="M205.1,390.0l1.8-.6-1-2.3-1.8,.5z" fill="#e58d93"/><path d="M207.9,391.6l1.8-.6-1-2.1-1.8,.4z" fill="#eba4aa" stroke="#361519"/><path d="M210.7,393.1l1.8-.5-1-1.9-1.8,.4z" fill="#f0b9be" stroke="#2c1b1d"/><path d="M213.5,394.2l1.8-.5-1-1.6-1.8,.5z" fill="#f5ccd0" stroke="#2c1b1d"/><path d="M216.3,395.0l1.8-.6-1-1.3-1.8,.5z" fill="#fadee1" stroke="#222222"/><path d="M168.2,390.5l1.7-.6-.9-.9-1.7,.6z" fill="#ede7e6" stroke="#222222"/><path d="M170.8,390.8l1.7-.6-.9-.8-1.7,.6z" fill="#e9e1e0" stroke="#222222"/><path d="M173.4,391.0l1.7-.7-.9-.7-1.7,.6z" fill="#e3d7d7" stroke="#222222"/><path d="M176.0,391.0l1.7-.8-.9-.6-1.7,.7z" fill="#deb8bc" stroke="#222222"/><path d="M178.6,390.7l1.7-1-.9-.4-1.7,.8z" fill="#cc9297" stroke="#222222"/><path d="M181.2,390.2l1.7-1.1-.9-.3-1.7,1z" fill="#bc7278" stroke="#2c1b1d"/><path d="M183.8,389.4l1.7-1.3-.9-.2-1.7,1.1z" fill="#b15b61" stroke="#361519"/><path d="M186.5,388.6l1.8-1.5-.9-.3-1.7,1.3z" fill="#ae4b52" stroke="#400e14"/><path d="M189.2,387.8l1.8-1.5-1-.5-1.8,1.4z" fill="#b44149"/><path d="M191.9,387.4l1.8-1.5-1-1-1.8,1.4z" fill="#c13942"/><path d="M194.7,387.5l1.8-1.4-1-1.5-1.8,1.3z" fill="#d13540"/><path d="M197.5,388.2l1.8-1.2-1-2-1.8,1.1z" fill="#d8535c"/><path d="M200.4,389.4l1.8-1-1-2.3-1.8,.9z" fill="#df6f77"/><path d="M203.2,390.8l1.8-.8-1-2.4-1.8,.7z" fill="#e58990" stroke="#400e14"/><path d="M206.0,392.3l1.8-.7-1-2.2-1.8,.6z" fill="#eaa2a7" stroke="#361519"/><path d="M208.8,393.7l1.8-.6-1-2-1.8,.6z" fill="#f0b7bc" stroke="#2c1b1d"/><path d="M211.7,394.8l1.8-.6-1-1.7-1.8,.5z" fill="#f4cace" stroke="#2c1b1d"/><path d="M214.5,395.6l1.9-.6-1-1.4-1.8,.5z" fill="#f9dcdf" stroke="#222222"/><path d="M169.1,391.4l1.7-.6-.9-.9-1.7,.6z" fill="#ebe4e3" stroke="#222222"/><path d="M171.7,391.7l1.7-.7-.9-.8-1.7,.6z" fill="#e7dcdc" stroke="#222222"/><path d="M174.3,391.8l1.7-.8-.9-.7-1.7,.7z" fill="#e0d0d1" stroke="#222222"/><path d="M176.9,391.7l1.7-.9-.9-.6-1.7,.8z" fill="#d7a6aa" stroke="#222222"/><path d="M179.5,391.3l1.7-1.1-.9-.4-1.7,1z" fill="#c8868b" stroke="#2c1b1d"/><path d="M182.1,390.8l1.7-1.3-.9-.4-1.7,1.1z" fill="#bd6d73" stroke="#361519"/><path d="M184.8,390.1l1.7-1.5-.9-.5-1.7,1.3z" fill="#b85b62" stroke="#361519"/><path d="M187.4,389.4l1.8-1.6-.9-.7-1.8,1.5z" fill="#bb5058" stroke="#400e14"/><path d="M190.2,389.0l1.8-1.6-1-1.1-1.8,1.5z" fill="#c54951"/><path d="M192.9,389.1l1.8-1.6-1-1.6-1.8,1.5z" fill="#d1454f"/><path d="M195.7,389.6l1.8-1.4-1-2.1-1.8,1.4z" fill="#d9555f"/><path d="M198.5,390.5l1.8-1.2-1-2.4-1.8,1.2z" fill="#df6f77"/><path d="M201.4,391.8l1.8-1-1-2.5-1.8,1z" fill="#e58990" stroke="#400e14"/><path d="M204.2,393.1l1.8-.8-1-2.3-1.8,.8z" fill="#eaa1a7" stroke="#361519"/><path d="M207.0,394.4l1.8-.7-1-2-1.8,.7z" fill="#f0b7bc" stroke="#2c1b1d"/><path d="M209.8,395.4l1.9-.7-1-1.7-1.8,.6z" fill="#f4cace" stroke="#2c1b1d"/><path d="M212.6,396.2l1.9-.6-1-1.4-1.8,.6z" fill="#f9dbdf" stroke="#222222"/><path d="M170.0,392.3l1.7-.7-.9-.8-1.7,.6z" fill="#e9e1e1" stroke="#222222"/><path d="M172.5,392.5l1.7-.7-.9-.8-1.7,.7z" fill="#e4d8d8" stroke="#222222"/><path d="M175.1,392.5l1.7-.9-.9-.7-1.7,.8z" fill="#e1bbbf" stroke="#222222"/><path d="M177.8,392.4l1.7-1-.9-.6-1.7,.9z" fill="#d49ca1" stroke="#222222"/><path d="M180.4,392.0l1.7-1.3-.9-.6-1.7,1.1z" fill="#c98288" stroke="#2c1b1d"/><path d="M183.0,391.5l1.7-1.5-.9-.6-1.7,1.3z" fill="#c36f75" stroke="#361519"/><path d="M185.7,391.0l1.8-1.6-.9-.9-1.7,1.5z" fill="#c4636a" stroke="#400e14"/><path d="M188.4,390.7l1.8-1.7-1-1.2-1.8,1.6z" fill="#ca5b63" stroke="#400e14"/><path d="M191.1,390.7l1.8-1.6-1-1.7-1.8,1.6z" fill="#d45861"/><path d="M193.9,391.1l1.8-1.5-1-2.1-1.8,1.6z" fill="#dc6069"/><path d="M196.7,391.9l1.8-1.3-1-2.4-1.8,1.4z" fill="#e1757d" stroke="#400e14"/><path d="M199.5,392.9l1.8-1.1-1-2.4-1.8,1.2z" fill="#e68c93" stroke="#400e14"/><path d="M202.3,394.1l1.8-.9-1-2.3-1.8,1z" fill="#eba3a9" stroke="#361519"/><path d="M205.1,395.2l1.8-.8-1-2.1-1.8,.8z" fill="#f0b8bd" stroke="#2c1b1d"/><path d="M208.0,396.1l1.9-.7-1-1.8-1.8,.7z" fill="#f5cbcf" stroke="#2c1b1d"/><path d="M210.8,396.9l1.9-.7-1-1.5-1.9,.7z" fill="#f9dcdf" stroke="#222222"/><path d="M170.8,393.2l1.7-.7-.9-.8-1.7,.7z" fill="#e8dfde" stroke="#222222"/><path d="M173.4,393.3l1.7-.8-.9-.8-1.7,.7z" fill="#e3d6d6" stroke="#222222"/><path d="M176.0,393.3l1.7-1-.9-.7-1.7,.9z" fill="#dfb2b6" stroke="#222222"/><path d="M178.6,393.2l1.7-1.2-.9-.7-1.7,1z" fill="#d5999e" stroke="#2c1b1d"/><path d="M181.3,392.9l1.7-1.3-.9-.8-1.7,1.3z" fill="#ce858b" stroke="#2c1b1d"/><path d="M183.9,392.6l1.7-1.5-.9-1-1.7,1.5z" fill="#cd787e" stroke="#361519"/><path d="M186.6,392.3l1.8-1.6-1-1.3-1.8,1.6z" fill="#d17077" stroke="#361519"/><path d="M189.3,392.3l1.8-1.6-1-1.7-1.8,1.7z" fill="#d86d75" stroke="#400e14"/><path d="M192.1,392.6l1.8-1.5-1-2-1.8,1.6z" fill="#e07179" stroke="#400e14"/><path d="M194.9,393.2l1.8-1.4-1-2.3-1.8,1.5z" fill="#e48188" stroke="#400e14"/><path d="M197.7,394.1l1.8-1.2-1-2.4-1.8,1.3z" fill="#e8949b" stroke="#361519"/><path d="M200.5,395.1l1.8-1-1-2.3-1.8,1.1z" fill="#eda8ae" stroke="#361519"/><path d="M203.3,396.0l1.8-.8-1-2-1.8,.9z" fill="#f1bcc1" stroke="#2c1b1d"/><path d="M206.1,396.9l1.9-.7-1-1.7-1.8,.8z" fill="#f5cdd1" stroke="#2c1b1d"/><path d="M208.9,397.6l1.9-.7-1-1.5-1.9,.7z" fill="#fadee1" stroke="#222222"/><path d="M171.7,394.1l1.7-.8-.9-.8-1.7,.7z" fill="#e7dddd" stroke="#222222"/><path d="M174.3,394.2l1.7-.9-.9-.8-1.7,.8z" fill="#e3d6d6" stroke="#222222"/><path d="M176.9,394.2l1.7-1-.9-.8-1.7,1z" fill="#e0b0b5" stroke="#222222"/><path d="M179.5,394.1l1.7-1.2-.9-.9-1.7,1.2z" fill="#da9da2" stroke="#2c1b1d"/><path d="M182.2,393.9l1.7-1.4-.9-1-1.7,1.3z" fill="#d78f95" stroke="#2c1b1d"/><path d="M184.9,393.8l1.8-1.5-.9-1.3-1.7,1.5z" fill="#d9868d" stroke="#361519"/><path d="M187.6,393.8l1.8-1.5-1-1.6-1.8,1.6z" fill="#de838a" stroke="#361519"/><path d="M190.3,394.1l1.8-1.5-1-1.9-1.8,1.6z" fill="#e5868d" stroke="#361519"/><path d="M193.1,394.6l1.8-1.4-1-2.1-1.8,1.5z" fill="#e89097" stroke="#361519"/><path d="M195.9,395.3l1.8-1.2-1-2.2-1.8,1.4z" fill="#eb9fa6" stroke="#361519"/><path d="M198.6,396.1l1.8-1-1-2.2-1.8,1.2z" fill="#efb0b6" stroke="#2c1b1d"/><path d="M201.4,396.9l1.8-.9-1-2-1.8,1z" fill="#f3c1c6" stroke="#2c1b1d"/><path d="M204.3,397.7l1.8-.8-1-1.7-1.8,.8z" fill="#f6d1d5" stroke="#222222"/><path d="M207.1,398.3l1.9-.7-1-1.4-1.9,.7z" fill="#fbe2e5" stroke="#222222"/><path d="M172.6,395.0l1.7-.8-.9-.9-1.7,.8z" fill="#e8dede" stroke="#222222"/><path d="M175.2,395.1l1.7-.9-.9-.9-1.7,.9z" fill="#eac9cd" stroke="#222222"/><path d="M177.8,395.2l1.7-1.1-.9-.9-1.7,1z" fill="#e4b4b9" stroke="#222222"/><path d="M180.4,395.1l1.7-1.2-.9-1-1.7,1.2z" fill="#e1a6ab" stroke="#2c1b1d"/><path d="M183.1,395.1l1.8-1.3-.9-1.3-1.7,1.4z" fill="#e19da3" stroke="#2c1b1d"/><path d="M185.8,395.2l1.8-1.4-1-1.5-1.8,1.5z" fill="#e59aa0" stroke="#2c1b1d"/><path d="M188.5,395.5l1.8-1.4-1-1.8-1.8,1.5z" fill="#ea9ba2" stroke="#361519"/><path d="M191.3,395.9l1.8-1.3-1-2-1.8,1.5z" fill="#eca2a8" stroke="#361519"/><path d="M194.0,396.4l1.8-1.2-1-2-1.8,1.4z" fill="#eeadb2" stroke="#2c1b1d"/><path d="M196.8,397.1l1.8-1-1-2-1.8,1.2z" fill="#f1babf" stroke="#2c1b1d"/><path d="M199.6,397.8l1.8-.9-1-1.8-1.8,1z" fill="#f4c8cd" stroke="#2c1b1d"/><path d="M202.4,398.4l1.8-.8-1-1.6-1.8,.9z" fill="#f8d6da" stroke="#222222"/><path d="M205.2,399.0l1.9-.7-1-1.4-1.8,.8z" fill="#f6f4f4" stroke="#222222"/><path d="M173.4,396.0l1.7-.8-.9-.9-1.7,.8z" fill="#e9e0e0" stroke="#222222"/><path d="M176.1,396.1l1.7-.9-.9-1-1.7,.9z" fill="#edccd0" stroke="#222222"/><path d="M178.7,396.2l1.7-1.1-.9-1.1-1.7,1.1z" fill="#eabdc2" stroke="#222222"/><path d="M181.4,396.3l1.8-1.2-.9-1.2-1.7,1.2z" fill="#e9b4b9" stroke="#2c1b1d"/><path d="M184.0,396.4l1.8-1.2-.9-1.4-1.8,1.3z" fill="#ebb0b5" stroke="#2c1b1d"/><path d="M186.7,396.7l1.8-1.2-1-1.6-1.8,1.4z" fill="#f0b1b7" stroke="#2c1b1d"/><path d="M189.5,397.0l1.8-1.2-1-1.8-1.8,1.4z" fill="#f0b4b9" stroke="#2c1b1d"/><path d="M192.2,397.5l1.8-1.1-1-1.9-1.8,1.3z" fill="#f2bbc0" stroke="#2c1b1d"/><path d="M195.0,398.1l1.8-1-1-1.8-1.8,1.2z" fill="#f4c5ca" stroke="#2c1b1d"/><path d="M197.8,398.7l1.8-.9-1-1.7-1.8,1z" fill="#f7d0d5" stroke="#222222"/><path d="M200.6,399.2l1.8-.8-1-1.5-1.8,.9z" fill="#fadde1" stroke="#222222"/><path d="M203.4,399.7l1.9-.7-1-1.3-1.8,.8z" fill="#f6f4f4" stroke="#222222"/><path d="M174.3,396.9l1.7-.8-.9-1-1.7,.8z" fill="#ebe4e4" stroke="#222222"/><path d="M176.9,397.1l1.8-.9-.9-1-1.7,.9z" fill="#ece4e5" stroke="#222222"/><path d="M179.6,397.3l1.8-1-.9-1.2-1.7,1.1z" fill="#f0c9ce" stroke="#222222"/><path d="M182.3,397.5l1.8-1.1-.9-1.3-1.8,1.2z" fill="#f1c5ca" stroke="#222222"/><path d="M185.0,397.8l1.8-1.1-.9-1.5-1.8,1.2z" fill="#f4c4ca" stroke="#222222"/><path d="M187.7,398.1l1.8-1.1-.9-1.6-1.8,1.2z" fill="#f4c5ca" stroke="#2c1b1d"/><path d="M190.4,398.5l1.8-1-1-1.7-1.8,1.2z" fill="#f5c9ce" stroke="#222222"/><path d="M193.2,399.0l1.8-.9-1-1.6-1.8,1.1z" fill="#f7d1d5" stroke="#222222"/><path d="M195.9,399.5l1.8-.8-1-1.6-1.8,1z" fill="#f9dade" stroke="#222222"/><path d="M198.7,400.0l1.8-.8-1-1.4-1.8,.9z" fill="#f6f4f4" stroke="#222222"/><path d="M201.5,400.4l1.8-.7-1-1.3-1.8,.8z" fill="#f5f4f3" stroke="#222222"/><path d="M175.2,398.0l1.8-.8-.9-1-1.7,.8z" fill="#eee8e8" stroke="#222222"/><path d="M177.8,398.2l1.8-.9-.9-1.1-1.8,.9z" fill="#f0eaea" stroke="#222222"/><path d="M180.5,398.5l1.8-.9-.9-1.2-1.8,1z" fill="#f7d9de" stroke="#222222"/><path d="M183.2,398.7l1.8-1-.9-1.3-1.8,1.1z" fill="#f9d7db" stroke="#222222"/><path d="M185.9,399.1l1.8-1-.9-1.4-1.8,1.1z" fill="#f9d6da" stroke="#222222"/><path d="M188.6,399.4l1.8-.9-.9-1.5-1.8,1.1z" fill="#f9d8dc" stroke="#222222"/><path d="M191.4,399.9l1.8-.9-.9-1.5-1.8,1z" fill="#fadee2" stroke="#222222"/><path d="M194.1,400.3l1.8-.8-.9-1.4-1.8,.9z" fill="#f6f4f4" stroke="#222222"/><path d="M196.9,400.7l1.8-.7-1-1.3-1.8,.8z" fill="#f5f4f3" stroke="#222222"/><path d="M199.7,401.1l1.8-.7-1-1.2-1.8,.8z" fill="#f5f3f3" stroke="#222222"/><path d="M176.1,399.0l1.8-.8-.9-1.1-1.8,.8z" fill="#f0ebeb" stroke="#222222"/><path d="M178.7,399.3l1.8-.8-.9-1.1-1.8,.9z" fill="#f2eeee" stroke="#222222"/><path d="M181.4,399.6l1.8-.9-.9-1.2-1.8,.9z" fill="#f4f2f2" stroke="#222222"/><path d="M184.1,399.9l1.8-.9-.9-1.3-1.8,1z" fill="#f5f3f3" stroke="#222222"/><path d="M186.8,400.3l1.8-.8-.9-1.3-1.8,1z" fill="#f5f4f3" stroke="#222222"/><path d="M189.5,400.7l1.8-.8-.9-1.3-1.8,.9z" fill="#f5f4f3" stroke="#222222"/><path d="M192.3,401.1l1.8-.8-.9-1.3-1.8,.9z" fill="#f5f4f3" stroke="#222222"/><path d="M195.0,401.4l1.8-.7-.9-1.2-1.8,.8z" fill="#f5f3f3" stroke="#222222"/><path d="M197.8,401.8l1.8-.7-.9-1.1-1.8,.7z" fill="#f4f3f2" stroke="#222222"/><path d="M176.9,400.0l1.8-.7-.9-1.1-1.8,.8z" fill="#f1eeed" stroke="#222222"/><path d="M179.6,400.4l1.8-.8-.9-1.1-1.8,.8z" fill="#f3f0f0" stroke="#222222"/><path d="M182.3,400.7l1.8-.8-.9-1.2-1.8,.9z" fill="#f5f3f2" stroke="#222222"/><path d="M185.0,401.0l1.8-.8-.9-1.2-1.8,.9z" fill="#f5f3f3" stroke="#222222"/><path d="M187.7,401.4l1.8-.7-.9-1.2-1.8,.8z" fill="#f5f3f3" stroke="#222222"/><path d="M190.5,401.8l1.8-.7-.9-1.2-1.8,.8z" fill="#f5f3f2" stroke="#222222"/><path d="M193.2,402.1l1.8-.7-.9-1.1-1.8,.8z" fill="#f4f3f2" stroke="#222222"/><path d="M196.0,402.5l1.8-.7-.9-1.1-1.8,.7z" fill="#f4f3f2" stroke="#222222"/><path d="M177.8,401.1l1.8-.7-.9-1.1-1.8,.7z" fill="#f2efee" stroke="#222222"/><path d="M180.5,401.4l1.8-.7-.9-1.1-1.8,.8z" fill="#f3f1f0" stroke="#222222"/><path d="M183.2,401.8l1.8-.7-.9-1.1-1.8,.8z" fill="#f4f3f2" stroke="#222222"/><path d="M185.9,402.1l1.8-.7-.9-1.1-1.8,.8z" fill="#f4f3f2" stroke="#222222"/><path d="M188.6,402.5l1.8-.7-.9-1.1-1.8,.7z" fill="#f4f3f2" stroke="#222222"/><path d="M191.4,402.8l1.8-.7-.9-1.1-1.8,.7z" fill="#f4f3f2" stroke="#222222"/><path d="M194.1,403.1l1.8-.7-.9-1-1.8,.7z" fill="#f4f2f1" stroke="#222222"/><path d="M178.7,402.1l1.8-.7-.9-1.1-1.8,.7z" fill="#f2efee" stroke="#222222"/><path d="M181.4,402.4l1.8-.7-.9-1.1-1.8,.7z" fill="#f2f0ef" stroke="#222222"/><path d="M184.1,402.8l1.8-.7-.9-1.1-1.8,.7z" fill="#f3f1f0" stroke="#222222"/><path d="M186.8,403.1l1.8-.7-.9-1.1-1.8,.7z" fill="#f3f1f0" stroke="#222222"/><path d="M189.5,403.5l1.8-.7-.9-1-1.8,.7z" fill="#f3f1f0" stroke="#222222"/><path d="M192.3,403.8l1.8-.7-.9-1-1.8,.7z" fill="#f2f0ef" stroke="#222222"/><path d="M179.6,403.1l1.8-.6-.9-1-1.8,.7z" fill="#f1eeee" stroke="#222222"/><path d="M182.3,403.4l1.8-.6-.9-1-1.8,.7z" fill="#f2efee" stroke="#222222"/><path d="M185.0,403.8l1.8-.6-.9-1-1.8,.7z" fill="#f2efee" stroke="#222222"/><path d="M187.7,404.1l1.8-.6-.9-1-1.8,.7z" fill="#f2efee" stroke="#222222"/><path d="M190.4,404.4l1.8-.6-.9-1-1.8,.7z" fill="#f1efee" stroke="#222222"/><path d="M180.4,404.1l1.8-.6-.9-1-1.8,.6z" fill="#f1eeed" stroke="#222222"/><path d="M183.1,404.4l1.8-.6-.9-1-1.8,.6z" fill="#f1eeed" stroke="#222222"/><path d="M185.9,404.7l1.8-.6-.9-1-1.8,.6z" fill="#f1eeed" stroke="#222222"/><path d="M188.6,405.1l1.8-.6-.9-1-1.8,.6z" fill="#f1eeed" stroke="#222222"/><path d="M181.3,405.0l1.8-.6-.9-1-1.8,.6z" fill="#f0edec" stroke="#222222"/><path d="M184.0,405.4l1.8-.6-.9-1-1.8,.6z" fill="#f0edec" stroke="#222222"/><path d="M186.8,405.7l1.8-.6-.9-1-1.8,.6z" fill="#f0edec" stroke="#222222"/><path d="M182.2,406.0l1.8-.6-.9-1-1.8,.6z" fill="#f0edec" stroke="#222222"/><path d="M184.9,406.3l1.8-.6-.9-1-1.8,.6z" fill="#f0edec" stroke="#222222"/><path d="M183.1,407.0l1.8-.6-.9-1-1.8,.6z" fill="#f0eceb" stroke="#222222"/></g>
<text x="153.60" y="373.72" font-size="7.0" fill="#333" stroke="#333" stroke-width="0.2" textLength="6.80" lengthAdjust="spacingAndGlyphs">30</text>
<text x="154.37" y="384.22" font-size="7.0" fill="#333" stroke="#333" stroke-width="0.2" textLength="6.80" lengthAdjust="spacingAndGlyphs">10</text>
<text x="151.73" y="394.72" font-size="7.0" fill="#333" stroke="#333" stroke-width="0.2" textLength="10.20" lengthAdjust="spacingAndGlyphs">&#8722;10</text>
<text x="152.50" y="405.22" font-size="7.0" fill="#333" stroke="#333" stroke-width="0.2" textLength="10.20" lengthAdjust="spacingAndGlyphs">&#8722;30</text>
<text x="155.83" y="410.92" font-size="7.0" fill="#333" stroke="#333" stroke-width="0.2" textLength="9.75" lengthAdjust="spacingAndGlyphs">200</text>
<text x="161.47" y="416.32" font-size="7.0" fill="#333" stroke="#333" stroke-width="0.2" textLength="9.75" lengthAdjust="spacingAndGlyphs">100</text>
<text x="167.50" y="422.52" font-size="7.0" fill="#333" stroke="#333" stroke-width="0.2" textLength="6.50" lengthAdjust="spacingAndGlyphs">50</text>
<text x="172.80" y="428.72" font-size="7.0" fill="#333" stroke="#333" stroke-width="0.2" textLength="6.50" lengthAdjust="spacingAndGlyphs">25</text>
<text x="189.95" y="430.22" font-size="7.0" fill="#333" stroke="#333" stroke-width="0.2" textLength="7.00" lengthAdjust="spacingAndGlyphs">50</text>
<text x="197.65" y="427.22" font-size="7.0" fill="#333" stroke="#333" stroke-width="0.2" textLength="10.50" lengthAdjust="spacingAndGlyphs">100</text>
<text x="208.40" y="422.82" font-size="7.0" fill="#333" stroke="#333" stroke-width="0.2" textLength="10.50" lengthAdjust="spacingAndGlyphs">200</text>
<text x="217.85" y="418.32" font-size="7.0" fill="#333" stroke="#333" stroke-width="0.2" textLength="10.50" lengthAdjust="spacingAndGlyphs">400</text>
<g transform="translate(143.40,386.80) rotate(-90)"><text x="-13.35" y="2.84" font-size="7.9" fill="#2a2a2a" stroke="#2a2a2a" stroke-width="0.25" textLength="26.70" lengthAdjust="spacingAndGlyphs">&#948;&#8722;score</text></g>
<g transform="translate(155.60,425.90) rotate(46)"><text x="-13.50" y="3.02" font-size="8.4" fill="#2a2a2a" stroke="#2a2a2a" stroke-width="0.25" textLength="27.00" lengthAdjust="spacingAndGlyphs">BETi (nM)</text></g>
<g transform="translate(211.90,435.10) rotate(-25)"><text x="-16.65" y="3.10" font-size="8.6" fill="#2a2a2a" stroke="#2a2a2a" stroke-width="0.25" textLength="33.30" lengthAdjust="spacingAndGlyphs">p300i (nM)</text></g>
<rect x="166.50" y="357.70" width="55.00" height="2.20" fill="url(#cbar)"/>
<text x="161.20" y="354.42" font-size="7.0" fill="#333" stroke="#333" stroke-width="0.15" textLength="11.40" lengthAdjust="spacingAndGlyphs">&#8722;30</text>
<text x="178.90" y="354.42" font-size="7.0" fill="#333" stroke="#333" stroke-width="0.15" textLength="12.00" lengthAdjust="spacingAndGlyphs">&#8722;10</text>
<text x="199.90" y="354.42" font-size="7.0" fill="#333" stroke="#333" stroke-width="0.15" textLength="6.80" lengthAdjust="spacingAndGlyphs">10</text>
<text x="217.70" y="354.42" font-size="7.0" fill="#333" stroke="#333" stroke-width="0.15" textLength="7.20" lengthAdjust="spacingAndGlyphs">30</text>
<line x1="271.90" y1="403.40" x2="289.40" y2="425.20" stroke="#808080" stroke-width="0.6"/>
<line x1="289.40" y1="425.20" x2="323.90" y2="409.20" stroke="#808080" stroke-width="0.6"/>
<line x1="269.60" y1="371.90" x2="271.90" y2="403.40" stroke="#808080" stroke-width="0.6"/>
<line x1="326.60" y1="379.60" x2="323.90" y2="409.20" stroke="#808080" stroke-width="0.6"/>
<line x1="287.00" y1="388.30" x2="289.40" y2="425.20" stroke="#808080" stroke-width="0.6"/>
<line x1="269.60" y1="371.90" x2="303.90" y2="364.20" stroke="#808080" stroke-width="0.6"/>
<line x1="303.90" y1="364.20" x2="326.60" y2="379.60" stroke="#808080" stroke-width="0.6"/>
<line x1="269.60" y1="371.90" x2="287.00" y2="388.30" stroke="#808080" stroke-width="0.6"/>
<line x1="287.00" y1="388.30" x2="326.60" y2="379.60" stroke="#808080" stroke-width="0.6"/>
<line x1="271.90" y1="403.40" x2="304.90" y2="390.20" stroke="#999" stroke-width="0.5" stroke-dasharray="0.8 1.6"/>
<line x1="304.90" y1="390.20" x2="323.90" y2="409.20" stroke="#999" stroke-width="0.5" stroke-dasharray="0.8 1.6"/>
<line x1="303.90" y1="364.20" x2="304.90" y2="390.20" stroke="#999" stroke-width="0.5" stroke-dasharray="0.8 1.6"/>
<g stroke="#4a0810" stroke-width="0.5" stroke-opacity="0.48" stroke-linejoin="round"><path d="M303.5,371.3l1.8,1.6-1.1-.1-1.8-1.4z" fill="#b52f38"/><path d="M301.8,370.5l1.8,.8-1,.1-1.7-.6z" fill="#a72028"/><path d="M304.6,371.6l1.8,1.8-1.1-.5-1.8-1.6z" fill="#be252f"/><path d="M300.0,371.1l1.7-.6-1,.3-1.7,.6z" fill="#952329"/><path d="M302.8,370.7l1.8,.9-1.1-.3-1.8-.8z" fill="#ba1c27"/><path d="M305.7,372.5l1.8,1.8-1.1-.9-1.8-1.8z" fill="#ca212c"/><path d="M298.4,373.0l1.7-1.9-1,.3-1.6,1.7z" fill="#952329"/><path d="M301.1,371.3l1.7-.6-1.1-.2-1.7,.6z" fill="#ab1f28"/><path d="M303.9,371.6l1.8,.9-1.1-.9-1.8-.9z" fill="#ce2430"/><path d="M306.8,374.0l1.8,1.6-1.1-1.3-1.8-1.8z" fill="#d33b45"/><path d="M296.8,375.6l1.6-2.7-1,.1-1.6,2.4z" fill="#982e34"/><path d="M299.4,373.3l1.7-2-1-.2-1.7,1.9z" fill="#952329"/><path d="M302.2,372.2l1.7-.6-1.1-.9-1.7,.6z" fill="#ca1a26"/><path d="M305.0,373.2l1.8,.8-1.1-1.5-1.8-.9z" fill="#d74e57"/><path d="M307.8,375.9l1.8,1.3-1.1-1.7-1.8-1.6z" fill="#db5f67"/><path d="M295.2,378.3l1.6-2.6-1-.1-1.6,2.4z" fill="#9c3f44" stroke="#400e14"/><path d="M297.8,376.1l1.6-2.8-1-.3-1.6,2.7z" fill="#962930"/><path d="M300.5,374.2l1.7-2-1.1-.9-1.7,2z" fill="#a62028"/><path d="M303.2,373.8l1.7-.6-1.1-1.6-1.7,.6z" fill="#d54952"/><path d="M306.1,375.3l1.8,.6-1.1-2-1.8-.8z" fill="#db626a"/><path d="M308.9,378.2l1.7,1-1.1-1.9-1.8-1.3z" fill="#e28087"/><path d="M293.5,380.3l1.6-2-1-.4-1.6,1.8z" fill="#a6545a" stroke="#361519"/><path d="M296.2,378.9l1.6-2.8-1-.5-1.6,2.6z" fill="#9b3b41"/><path d="M298.8,377.0l1.7-2.8-1.1-.9-1.6,2.8z" fill="#9b282f"/><path d="M301.5,375.7l1.7-1.9-1.1-1.6-1.7,2z" fill="#b71d27"/><path d="M304.3,375.9l1.8-.6-1.1-2.1-1.7,.6z" fill="#d8565f"/><path d="M307.2,377.9l1.8,.4-1.1-2.3-1.8-.6z" fill="#e17a81"/><path d="M310.0,380.7l1.7,.6-1.1-2.1-1.7-1z" fill="#ea9fa5" stroke="#400e14"/><path d="M291.9,381.5l1.7-1.2-1-.6-1.7,1.1z" fill="#c58388" stroke="#2c1b1d"/><path d="M294.5,381.0l1.6-2.1-1-.6-1.6,2z" fill="#aa555b" stroke="#361519"/><path d="M297.2,379.8l1.6-2.8-1-.9-1.6,2.8z" fill="#a13d43"/><path d="M299.9,378.4l1.7-2.7-1.1-1.5-1.7,2.8z" fill="#a92c34"/><path d="M302.6,377.7l1.7-1.8-1.1-2.1-1.7,1.9z" fill="#c51d29"/><path d="M305.4,378.5l1.8-.6-1.1-2.5-1.8,.6z" fill="#dc666e"/><path d="M308.2,380.6l1.8,.1-1.1-2.5-1.8-.4z" fill="#e79399"/><path d="M311.0,383.1l1.7,.2-1-2.1-1.7-.6z" fill="#f0bcc0" stroke="#361519"/><path d="M290.2,381.8l1.7-.3-1-.6-1.7,.4z" fill="#dfa5aa" stroke="#2c1b1d"/><path d="M292.8,382.1l1.7-1.2-1-.7-1.7,1.2z" fill="#c98389" stroke="#2c1b1d"/><path d="M295.5,381.8l1.7-2.1-1-.9-1.6,2.1z" fill="#b25c61" stroke="#361519"/><path d="M298.2,381.0l1.7-2.6-1-1.3-1.6,2.8z" fill="#ad464c"/><path d="M300.9,380.1l1.7-2.4-1.1-2-1.7,2.7z" fill="#ba3942"/><path d="M303.7,380.1l1.7-1.6-1.1-2.6-1.7,1.8z" fill="#d5404a"/><path d="M306.5,381.3l1.8-.7-1.1-2.7-1.8,.6z" fill="#e38289"/><path d="M309.3,383.3l1.8-.2-1-2.5-1.8-.1z" fill="#edafb4" stroke="#361519"/><path d="M312.0,385.5l1.8-.2-1-2-1.7-.2z" fill="#f7dadd" stroke="#222222"/><path d="M288.4,381.5l1.7,.3-1-.6-1.7-.1z" fill="#df9ca2" stroke="#2c1b1d"/><path d="M291.1,382.4l1.7-.3-1-.7-1.7,.3z" fill="#e2a4a9" stroke="#2c1b1d"/><path d="M293.8,382.9l1.7-1.1-1-.8-1.7,1.2z" fill="#d28b90" stroke="#2c1b1d"/><path d="M296.5,382.9l1.7-1.9-1-1.2-1.7,2.1z" fill="#be686e" stroke="#361519"/><path d="M299.2,382.4l1.7-2.3-1-1.7-1.7,2.6z" fill="#bd565d" stroke="#400e14"/><path d="M301.9,382.2l1.7-2.1-1.1-2.4-1.7,2.4z" fill="#cc535c"/><path d="M304.7,382.7l1.8-1.4-1.1-2.8-1.7,1.6z" fill="#e07179" stroke="#400e14"/><path d="M307.5,384.1l1.8-.7-1-2.8-1.8,.7z" fill="#eba4a9" stroke="#361519"/><path d="M310.3,386.0l1.8-.5-1-2.4-1.8,.2z" fill="#f5cfd3" stroke="#2c1b1d"/><path d="M313.0,387.7l1.8-.6-1-1.9-1.8,.2z" fill="#f6f5f4" stroke="#222222"/><path d="M286.7,380.9l1.8,.6-.9-.4-1.7-.5z" fill="#d38086" stroke="#361519"/><path d="M289.4,382.0l1.7,.4-1-.6-1.7-.3z" fill="#df969c" stroke="#2c1b1d"/><path d="M292.1,383.1l1.7-.2-1-.8-1.7,.3z" fill="#e8a6ac" stroke="#2c1b1d"/><path d="M294.8,383.8l1.7-1-1-1-1.7,1.1z" fill="#df999f" stroke="#2c1b1d"/><path d="M297.5,384.1l1.7-1.7-1-1.5-1.7,1.9z" fill="#cf7d83" stroke="#361519"/><path d="M300.2,384.1l1.7-2-1-2-1.7,2.3z" fill="#d07279" stroke="#361519"/><path d="M303.0,384.4l1.7-1.7-1-2.6-1.7,2.1z" fill="#e07b83" stroke="#361519"/><path d="M305.7,385.3l1.8-1.2-1-2.8-1.8,1.4z" fill="#eba0a6" stroke="#361519"/><path d="M308.5,386.8l1.8-.8-1-2.6-1.8,.7z" fill="#f4cbcf" stroke="#2c1b1d"/><path d="M311.3,388.5l1.8-.7-1-2.2-1.8,.5z" fill="#f6f5f4" stroke="#222222"/><path d="M314.0,389.8l1.8-.9-1-1.7-1.8,.6z" fill="#f2f2ef" stroke="#222222"/><path d="M284.9,380.2l1.8,.7-.9-.3-1.8-.5z" fill="#c6636b" stroke="#400e14"/><path d="M287.6,381.2l1.8,.8-.9-.5-1.8-.6z" fill="#d3777e" stroke="#361519"/><path d="M290.3,382.6l1.8,.5-1-.7-1.7-.4z" fill="#e29299" stroke="#361519"/><path d="M293.1,383.9l1.7-0-1-.9-1.7,.2z" fill="#efacb2" stroke="#2c1b1d"/><path d="M295.8,384.9l1.7-.8-1-1.2-1.7,1z" fill="#eeaeb4" stroke="#2c1b1d"/><path d="M298.5,385.5l1.7-1.4-1-1.7-1.7,1.7z" fill="#e49da3" stroke="#2c1b1d"/><path d="M301.2,386.0l1.7-1.6-1-2.2-1.7,2z" fill="#e69ba1" stroke="#2c1b1d"/><path d="M304.0,386.7l1.7-1.4-1-2.7-1.7,1.7z" fill="#efafb5" stroke="#2c1b1d"/><path d="M306.7,387.9l1.8-1.1-1-2.7-1.8,1.2z" fill="#f7d3d7" stroke="#222222"/><path d="M309.5,389.4l1.8-.9-1-2.5-1.8,.8z" fill="#f5f4f3" stroke="#222222"/><path d="M312.2,390.7l1.8-1-1-2-1.8,.7z" fill="#f1f2ee" stroke="#222222"/><path d="M315.0,391.6l1.8-1.1-1-1.6-1.8,.9z" fill="#edefe9" stroke="#222222"/><path d="M283.1,379.6l1.8,.5-.9-.1-1.7-.4z" fill="#b94d54" stroke="#400e14"/><path d="M285.8,380.3l1.8,.9-.9-.3-1.8-.7z" fill="#c65961" stroke="#400e14"/><path d="M288.5,381.6l1.8,1-.9-.5-1.8-.8z" fill="#d47078" stroke="#400e14"/><path d="M291.3,383.2l1.8,.7-1-.8-1.8-.5z" fill="#e59198" stroke="#361519"/><path d="M294.0,384.8l1.8,.1-1-1-1.7,0z" fill="#f0b2b7" stroke="#2c1b1d"/><path d="M296.8,386.1l1.7-.6-1-1.4-1.7,.8z" fill="#f3c0c5" stroke="#2c1b1d"/><path d="M299.5,387.1l1.7-1.1-1-1.9-1.7,1.4z" fill="#f4c3c8" stroke="#2c1b1d"/><path d="M302.2,388.0l1.7-1.3-1-2.3-1.7,1.6z" fill="#f6ced2" stroke="#222222"/><path d="M305.0,389.1l1.8-1.2-1-2.6-1.7,1.4z" fill="#f6f4f4" stroke="#222222"/><path d="M307.7,390.5l1.8-1.1-1-2.6-1.8,1.1z" fill="#f3f3f1" stroke="#222222"/><path d="M310.5,391.8l1.8-1.1-1-2.3-1.8,.9z" fill="#f0f1ed" stroke="#222222"/><path d="M313.2,392.8l1.8-1.2-1-1.8-1.8,1z" fill="#eceee8" stroke="#222222"/><path d="M316.0,393.2l1.8-1.3-1-1.4-1.8,1.1z" fill="#e8ebe3" stroke="#222222"/><path d="M281.4,379.6l1.7,.1-.9,.1-1.7,0z" fill="#ad3f46"/><path d="M284.0,379.6l1.8,.7-.9-.1-1.8-.5z" fill="#ba424a"/><path d="M286.7,380.5l1.8,1.1-.9-.4-1.8-.9z" fill="#c75159"/><path d="M289.5,382.1l1.8,1.1-1-.6-1.8-1z" fill="#d76c74" stroke="#400e14"/><path d="M292.2,384.0l1.8,.8-1-.9-1.8-.7z" fill="#e9939a" stroke="#361519"/><path d="M295.0,385.8l1.8,.2-1-1.2-1.8-.1z" fill="#f1bbc0" stroke="#2c1b1d"/><path d="M297.8,387.4l1.7-.3-1-1.6-1.7,.6z" fill="#f7d5d8" stroke="#222222"/><path d="M300.5,388.8l1.7-.8-1-2-1.7,1.1z" fill="#f6f5f5" stroke="#222222"/><path d="M303.2,390.1l1.7-1-1-2.4-1.7,1.3z" fill="#f4f4f2" stroke="#222222"/><path d="M306.0,391.5l1.8-1-1-2.5-1.8,1.2z" fill="#f2f2ef" stroke="#222222"/><path d="M308.7,392.8l1.8-1-1-2.4-1.8,1.1z" fill="#eef0eb" stroke="#222222"/><path d="M311.4,393.9l1.8-1.2-1-2-1.8,1.1z" fill="#eaede6" stroke="#222222"/><path d="M314.2,394.5l1.8-1.3-1-1.6-1.8,1.2z" fill="#e6eae0" stroke="#222222"/><path d="M317.0,394.5l1.8-1.4-1-1.2-1.8,1.3z" fill="#dcd9d0" stroke="#222222"/><path d="M279.7,380.1l1.7-.5-.9,.2-1.7,.5z" fill="#a2383f"/><path d="M282.3,379.4l1.8,.2-.9,0-1.7-.1z" fill="#ae343c"/><path d="M284.9,379.7l1.8,.8-.9-.2-1.8-.7z" fill="#bc3941"/><path d="M287.7,380.9l1.8,1.2-.9-.5-1.8-1.1z" fill="#ca4a53"/><path d="M290.4,382.7l1.8,1.2-1-.8-1.8-1.1z" fill="#db6b73" stroke="#400e14"/><path d="M293.2,384.9l1.8,.9-1-1-1.8-.8z" fill="#ea99a0" stroke="#361519"/><path d="M296.0,387.0l1.8,.4-1-1.3-1.8-.2z" fill="#f4c6cb" stroke="#2c1b1d"/><path d="M298.7,388.9l1.8-.1-1-1.7-1.7,.3z" fill="#f7f5f5" stroke="#222222"/><path d="M301.5,390.6l1.8-.5-1-2.1-1.7,.8z" fill="#f4f4f2" stroke="#222222"/><path d="M304.2,392.2l1.8-.7-1-2.3-1.7,1z" fill="#f1f2ee" stroke="#222222"/><path d="M307.0,393.7l1.8-.9-1-2.4-1.8,1z" fill="#edefe9" stroke="#222222"/><path d="M309.7,395.0l1.8-1.1-1-2.2-1.8,1z" fill="#e9ece4" stroke="#222222"/><path d="M312.4,395.8l1.8-1.3-1-1.8-1.8,1.2z" fill="#e4e9de" stroke="#222222"/><path d="M315.2,396.0l1.8-1.5-1-1.3-1.8,1.3z" fill="#dbdcd1" stroke="#222222"/><path d="M318.0,395.6l1.8-1.5-1-1-1.8,1.4z" fill="#cec2ba" stroke="#222222"/><path d="M278.0,381.2l1.7-1.2-.9,.2-1.7,1.1z" fill="#9b383e"/><path d="M280.6,380.0l1.7-.5-.9,.1-1.7,.5z" fill="#a22f36"/><path d="M283.2,379.4l1.8,.2-.9-.1-1.8-.2z" fill="#b12a33"/><path d="M285.8,379.9l1.8,.9-.9-.4-1.8-.8z" fill="#c0303a"/><path d="M288.6,381.4l1.8,1.3-1-.7-1.8-1.2z" fill="#cf4650"/><path d="M291.4,383.6l1.8,1.3-1-.9-1.8-1.2z" fill="#e06d76" stroke="#400e14"/><path d="M294.2,386.1l1.8,1-1-1.2-1.8-.9z" fill="#eca2a9" stroke="#361519"/><path d="M297.0,388.4l1.8,.5-1-1.5-1.8-.4z" fill="#f7d5d9" stroke="#222222"/><path d="M299.7,390.6l1.8,0-1-1.8-1.8,.1z" fill="#f5f5f3" stroke="#222222"/><path d="M302.5,392.5l1.8-.3-1-2.1-1.8,.5z" fill="#f2f2ef" stroke="#222222"/><path d="M305.2,394.3l1.8-.6-1-2.3-1.8,.7z" fill="#edf0ea" stroke="#222222"/><path d="M307.9,395.9l1.8-.8-1-2.2-1.8,.9z" fill="#e9ece4" stroke="#222222"/><path d="M310.6,396.9l1.8-1.1-1-1.9-1.8,1.1z" fill="#e3e9dd" stroke="#222222"/><path d="M313.4,397.3l1.8-1.4-1-1.5-1.8,1.3z" fill="#dde4d6" stroke="#222222"/><path d="M316.1,397.1l1.8-1.5-1-1.1-1.8,1.5z" fill="#ccc3b9" stroke="#222222"/><path d="M319.0,396.4l1.8-1.5-1-.8-1.8,1.5z" fill="#c3aea8" stroke="#222222"/><path d="M276.4,382.9l1.6-1.6-.8,.1-1.6,1.5z" fill="#9b3d43" stroke="#400e14"/><path d="M278.9,381.2l1.7-1.2-.9,.1-1.7,1.2z" fill="#9a3137"/><path d="M281.4,380.0l1.7-.5-.9-0-1.7,.5z" fill="#a5272f"/><path d="M284.1,379.6l1.8,.3-.9-.3-1.8-.2z" fill="#b7202a"/><path d="M286.8,380.4l1.8,1-.9-.6-1.8-.9z" fill="#c62934"/><path d="M289.6,382.2l1.8,1.4-1-.9-1.8-1.3z" fill="#d4454f"/><path d="M292.4,384.7l1.8,1.4-1-1.1-1.8-1.3z" fill="#e2777f" stroke="#400e14"/><path d="M295.2,387.4l1.8,1-1-1.4-1.8-1z" fill="#eeafb5" stroke="#2c1b1d"/><path d="M297.9,390.0l1.8,.6-1-1.6-1.8-.5z" fill="#f7f5f5" stroke="#222222"/><path d="M300.7,392.3l1.8,.2-1-1.9-1.8-0z" fill="#f3f3f1" stroke="#222222"/><path d="M303.5,394.5l1.8-.2-1-2.1-1.8,.3z" fill="#eff1eb" stroke="#222222"/><path d="M306.2,396.4l1.8-.5-1-2.1-1.8,.6z" fill="#eaede5" stroke="#222222"/><path d="M308.9,397.8l1.8-.8-1-1.9-1.8,.8z" fill="#e4e9de" stroke="#222222"/><path d="M311.6,398.5l1.8-1.2-1-1.5-1.8,1.1z" fill="#dde4d6" stroke="#222222"/><path d="M314.4,398.5l1.8-1.4-1-1.1-1.8,1.4z" fill="#cec9bc" stroke="#222222"/><path d="M317.1,397.9l1.8-1.5-1-.8-1.8,1.5z" fill="#bfaba3" stroke="#222222"/><path d="M320.0,397.0l1.8-1.4-1-.7-1.8,1.5z" fill="#bca19c" stroke="#222222"/><path d="M274.8,384.7l1.6-1.8-.8-.1-1.6,1.6z" fill="#a0484e" stroke="#361519"/><path d="M277.3,383.0l1.6-1.8-.9,0-1.6,1.6z" fill="#9a373d"/><path d="M279.8,381.3l1.7-1.3-.9-0-1.7,1.2z" fill="#9b2a31"/><path d="M282.3,380.2l1.7-.5-.9-.2-1.7,.5z" fill="#ab1f28"/><path d="M285.0,380.1l1.8,.3-.9-.5-1.8-.3z" fill="#c01b26"/><path d="M287.7,381.2l1.8,1.1-1-.8-1.8-1z" fill="#cd2530"/><path d="M290.5,383.3l1.8,1.4-1-1.1-1.8-1.4z" fill="#d85059"/><path d="M293.3,386.0l1.8,1.4-1-1.3-1.8-1.4z" fill="#e5858c" stroke="#400e14"/><path d="M296.1,388.9l1.8,1.1-1-1.5-1.8-1z" fill="#f2bfc4" stroke="#2c1b1d"/><path d="M298.9,391.7l1.8,.7-1-1.8-1.8-.6z" fill="#f5f4f3" stroke="#222222"/><path d="M301.7,394.2l1.8,.3-1-2-1.8-.2z" fill="#f0f2ed" stroke="#222222"/><path d="M304.4,396.4l1.8-.1-1-2-1.8,.2z" fill="#ebeee7" stroke="#222222"/><path d="M307.1,398.2l1.8-.4-1-1.9-1.8,.5z" fill="#e6ebe0" stroke="#222222"/><path d="M309.8,399.3l1.8-.8-1-1.6-1.8,.8z" fill="#dfe6d8" stroke="#222222"/><path d="M312.6,399.7l1.8-1.2-1-1.2-1.8,1.2z" fill="#d3d7c7" stroke="#222222"/><path d="M315.3,399.3l1.8-1.4-1-.8-1.8,1.4z" fill="#bfaea4" stroke="#222222"/><path d="M318.2,398.5l1.8-1.4-1-.6-1.8,1.5z" fill="#b69993" stroke="#222222"/><path d="M321.0,397.5l1.9-1.3-1-.5-1.8,1.4z" fill="#b89a96" stroke="#222222"/><path d="M273.2,386.5l1.6-1.8-.8-.3-1.6,1.6z" fill="#ab5c61" stroke="#2c1b1d"/><path d="M275.7,385.0l1.6-2-.9-.1-1.6,1.8z" fill="#9d4147" stroke="#400e14"/><path d="M278.1,383.2l1.6-1.9-.9-.1-1.6,1.8z" fill="#993138"/><path d="M280.6,381.6l1.7-1.4-.9-.2-1.7,1.3z" fill="#9f242c"/><path d="M283.2,380.6l1.8-.5-.9-.4-1.7,.5z" fill="#b61d27"/><path d="M285.9,380.8l1.8,.4-.9-.8-1.8-.3z" fill="#cb1a26"/><path d="M288.7,382.2l1.8,1.1-1-1.1-1.8-1.1z" fill="#d23640"/><path d="M291.5,384.6l1.8,1.4-1-1.3-1.8-1.4z" fill="#dc6069"/><path d="M294.3,387.5l1.8,1.4-1-1.5-1.8-1.4z" fill="#e8959c" stroke="#361519"/><path d="M297.1,390.6l1.8,1.1-1-1.7-1.8-1.1z" fill="#f7d3d7" stroke="#222222"/><path d="M299.9,393.4l1.8,.7-1-1.8-1.8-.7z" fill="#f3f3f0" stroke="#222222"/><path d="M302.7,396.0l1.8,.4-1-1.9-1.8-.3z" fill="#edf0ea" stroke="#222222"/><path d="M305.4,398.2l1.8,0-1-1.8-1.8,.1z" fill="#e8ece3" stroke="#222222"/><path d="M308.1,399.8l1.8-.4-1-1.6-1.8,.4z" fill="#e1e8db" stroke="#222222"/><path d="M310.8,400.5l1.8-.8-1-1.2-1.8,.8z" fill="#d8e1d0" stroke="#222222"/><path d="M313.5,400.5l1.8-1.2-1-.8-1.8,1.2z" fill="#c2b8ab" stroke="#222222"/><path d="M316.3,399.8l1.8-1.3-1-.5-1.8,1.4z" fill="#b39790" stroke="#222222"/><path d="M319.2,398.8l1.8-1.3-1-.4-1.8,1.4z" fill="#b18f8a" stroke="#222222"/><path d="M322.1,397.8l1.9-1.2-1.1-.5-1.9,1.3z" fill="#b99a97" stroke="#222222"/><path d="M271.6,388.2l1.6-1.6-.8-.5-1.6,1.5z" fill="#bc7b7f" stroke="#2c1b1d"/><path d="M274.1,387.1l1.6-2-.9-.3-1.6,1.8z" fill="#a7545a" stroke="#361519"/><path d="M276.5,385.4l1.6-2.2-.9-.2-1.6,2z" fill="#9c3d43" stroke="#400e14"/><path d="M279.0,383.6l1.6-2-.9-.3-1.6,1.9z" fill="#9b2e34"/><path d="M281.5,382.0l1.7-1.4-.9-.4-1.7,1.4z" fill="#a62028"/><path d="M284.1,381.3l1.8-.5-.9-.7-1.8,.5z" fill="#c21b26"/><path d="M286.9,381.8l1.8,.4-1-1-1.8-.4z" fill="#d1343f"/><path d="M289.6,383.5l1.8,1.1-1-1.3-1.8-1.1z" fill="#d64b55"/><path d="M292.5,386.2l1.8,1.4-1-1.5-1.8-1.4z" fill="#e0737b"/><path d="M295.3,389.2l1.8,1.3-1-1.7-1.8-1.4z" fill="#eca8ad" stroke="#361519"/><path d="M298.1,392.3l1.8,1.1-1-1.8-1.8-1.1z" fill="#f6f5f5" stroke="#222222"/><path d="M300.9,395.2l1.8,.8-1-1.8-1.8-.7z" fill="#f0f1ed" stroke="#222222"/><path d="M303.6,397.8l1.8,.4-1-1.8-1.8-.4z" fill="#eaede5" stroke="#222222"/><path d="M306.3,399.7l1.8,0-1-1.6-1.8-0z" fill="#e3e9dd" stroke="#222222"/><path d="M309.1,401.0l1.8-.4-1-1.2-1.8,.4z" fill="#dbe4d3" stroke="#222222"/><path d="M311.8,401.3l1.8-.8-1-.8-1.8,.8z" fill="#c9c7b7" stroke="#222222"/><path d="M314.5,400.9l1.8-1.1-1-.5-1.8,1.2z" fill="#b59c93" stroke="#222222"/><path d="M317.4,400.0l1.8-1.2-1-.3-1.8,1.3z" fill="#ad8984" stroke="#222222"/><path d="M320.2,399.0l1.9-1.2-1-.4-1.8,1.3z" fill="#b18d8a" stroke="#222222"/><path d="M323.1,398.2l1.9-1.1-1.1-.5-1.9,1.2z" fill="#bea19e" stroke="#222222"/><path d="M272.4,388.8l1.6-1.8-.9-.5-1.6,1.6z" fill="#b77176" stroke="#2c1b1d"/><path d="M274.9,387.6l1.6-2.2-.9-.4-1.6,2z" fill="#a64f54" stroke="#361519"/><path d="M277.4,385.9l1.6-2.3-.9-.4-1.6,2.2z" fill="#9d3a40"/><path d="M279.9,384.2l1.7-2.1-.9-.5-1.6,2z" fill="#9f2a32"/><path d="M282.4,382.8l1.7-1.4-.9-.7-1.7,1.4z" fill="#af1e28"/><path d="M285.1,382.4l1.8-.5-.9-1-1.8,.5z" fill="#cd202c"/><path d="M287.8,383.2l1.8,.4-1-1.3-1.8-.4z" fill="#d64952"/><path d="M290.6,385.2l1.8,1-1-1.6-1.8-1.1z" fill="#db6068"/><path d="M293.5,387.9l1.8,1.3-1-1.7-1.8-1.4z" fill="#e4868d" stroke="#400e14"/><path d="M296.3,391.1l1.8,1.3-1-1.8-1.8-1.3z" fill="#f1bcc1" stroke="#2c1b1d"/><path d="M299.1,394.2l1.8,1.1-1-1.8-1.8-1.1z" fill="#f4f4f2" stroke="#222222"/><path d="M301.8,397.0l1.8,.8-1-1.7-1.8-.8z" fill="#edefe9" stroke="#222222"/><path d="M304.6,399.3l1.8,.4-1-1.5-1.8-.4z" fill="#e6ebe1" stroke="#222222"/><path d="M307.3,401.0l1.8,0-1-1.2-1.8-0z" fill="#dee6d7" stroke="#222222"/><path d="M310.0,401.8l1.8-.4-1-.8-1.8,.4z" fill="#d1d7c5" stroke="#222222"/><path d="M312.8,401.8l1.8-.8-1-.4-1.8,.8z" fill="#b9a79c" stroke="#222222"/><path d="M315.6,401.1l1.8-1.1-1-.2-1.8,1.1z" fill="#ac8a84" stroke="#222222"/><path d="M318.4,400.2l1.8-1.1-1-.2-1.8,1.2z" fill="#ac8582" stroke="#222222"/><path d="M321.3,399.2l1.9-1.1-1.1-.3-1.9,1.2z" fill="#b59491" stroke="#222222"/><path d="M273.3,389.6l1.6-1.9-.9-.6-1.6,1.8z" fill="#b46b70" stroke="#2c1b1d"/><path d="M275.8,388.3l1.6-2.3-.9-.5-1.6,2.2z" fill="#a64c52" stroke="#400e14"/><path d="M278.3,386.6l1.6-2.4-.9-.6-1.6,2.3z" fill="#a0383f"/><path d="M280.8,384.9l1.7-2.1-.9-.7-1.7,2.1z" fill="#a52930"/><path d="M283.4,383.8l1.7-1.4-.9-1-1.7,1.4z" fill="#b81d27"/><path d="M286.0,383.7l1.8-.5-1-1.3-1.8,.5z" fill="#d23943"/><path d="M288.8,384.8l1.8,.4-1-1.6-1.8-.4z" fill="#da5c65"/><path d="M291.6,387.0l1.8,1-1-1.8-1.8-1z" fill="#e0747b"/><path d="M294.4,389.8l1.8,1.2-1-1.8-1.8-1.3z" fill="#e99aa0" stroke="#361519"/><path d="M297.3,392.9l1.8,1.2-1-1.8-1.8-1.3z" fill="#f7d4d7" stroke="#222222"/><path d="M300.0,395.9l1.8,1-1-1.7-1.8-1.1z" fill="#f1f2ef" stroke="#222222"/><path d="M302.8,398.5l1.8,.8-1-1.5-1.8-.8z" fill="#eaede5" stroke="#222222"/><path d="M305.5,400.6l1.8,.4-1-1.2-1.8-.4z" fill="#e2e8db" stroke="#222222"/><path d="M308.3,401.8l1.8-0-1-.8-1.8-0z" fill="#d9e1d0" stroke="#222222"/><path d="M311.0,402.2l1.8-.5-1-.4-1.8,.4z" fill="#c1b5a8" stroke="#222222"/><path d="M313.8,401.9l1.8-.8-1-.2-1.8,.8z" fill="#af918a" stroke="#222222"/><path d="M316.6,401.2l1.8-1-1-.1-1.8,1.1z" fill="#aa837f" stroke="#222222"/><path d="M319.4,400.3l1.8-1-1.1-.2-1.8,1.1z" fill="#b08b88" stroke="#222222"/><path d="M274.2,390.3l1.6-2.1-.9-.6-1.6,1.9z" fill="#b4676c" stroke="#2c1b1d"/><path d="M276.6,389.0l1.6-2.4-.9-.7-1.6,2.3z" fill="#a74b51" stroke="#400e14"/><path d="M279.1,387.4l1.6-2.5-.9-.8-1.6,2.4z" fill="#a4383f"/><path d="M281.7,385.9l1.7-2.1-.9-1-1.7,2.1z" fill="#ac2931"/><path d="M284.3,385.1l1.7-1.4-1-1.3-1.7,1.4z" fill="#c11b26"/><path d="M287.0,385.3l1.8-.5-1-1.6-1.8,.5z" fill="#d64953"/><path d="M289.8,386.6l1.8,.3-1-1.8-1.8-.4z" fill="#de6f76"/><path d="M292.6,389.0l1.8,.9-1-1.9-1.8-1z" fill="#e4878e"/><path d="M295.4,391.8l1.8,1.1-1-1.9-1.8-1.2z" fill="#eeaeb3" stroke="#361519"/><path d="M298.2,394.8l1.8,1.1-1-1.8-1.8-1.2z" fill="#f6f5f4" stroke="#222222"/><path d="M301.0,397.6l1.8,1-1-1.6-1.8-1z" fill="#eff0eb" stroke="#222222"/><path d="M303.8,399.9l1.8,.7-1-1.3-1.8-.8z" fill="#e6ebe1" stroke="#222222"/><path d="M306.5,401.5l1.8,.3-1-.9-1.8-.4z" fill="#dee5d6" stroke="#222222"/><path d="M309.2,402.3l1.8-.1-1-.5-1.8,0z" fill="#cac3b6" stroke="#222222"/><path d="M312.0,402.4l1.8-.5-1-.2-1.8,.5z" fill="#b69d95" stroke="#222222"/><path d="M314.8,401.9l1.8-.8-1-0-1.8,.8z" fill="#ac8783" stroke="#222222"/><path d="M317.6,401.2l1.8-.9-1-.1-1.8,1z" fill="#ad8784" stroke="#222222"/><path d="M275.0,391.1l1.6-2.1-.9-.7-1.6,2.1z" fill="#b4666b" stroke="#2c1b1d"/><path d="M277.5,389.9l1.6-2.5-.9-.8-1.6,2.4z" fill="#ab4c52" stroke="#400e14"/><path d="M280.0,388.4l1.6-2.5-.9-1-1.6,2.5z" fill="#aa3b42"/><path d="M282.6,387.2l1.7-2.1-.9-1.3-1.7,2.1z" fill="#b42c35"/><path d="M285.2,386.6l1.8-1.3-1-1.6-1.7,1.4z" fill="#cb222d"/><path d="M288.0,387.1l1.8-.5-1-1.9-1.8,.5z" fill="#da5e67"/><path d="M290.8,388.7l1.8,.3-1-2-1.8-.3z" fill="#e27f86"/><path d="M293.6,391.0l1.8,.8-1-2-1.8-.9z" fill="#e8999f" stroke="#400e14"/><path d="M296.4,393.8l1.8,1-1-1.9-1.8-1.1z" fill="#f3c3c7" stroke="#2c1b1d"/><path d="M299.2,396.5l1.8,1-1-1.6-1.8-1.1z" fill="#f4f3f2" stroke="#222222"/><path d="M302.0,399.0l1.8,.9-1-1.3-1.8-1z" fill="#eceee8" stroke="#222222"/><path d="M304.7,400.9l1.8,.6-1-.9-1.8-.7z" fill="#e3e8dd" stroke="#222222"/><path d="M307.4,402.1l1.8,.2-1-.5-1.8-.3z" fill="#d3d1c5" stroke="#222222"/><path d="M310.2,402.6l1.8-.2-1-.2-1.8,.1z" fill="#bfaca3" stroke="#222222"/><path d="M313.0,402.5l1.8-.5-1-0-1.8,.5z" fill="#b1918c" stroke="#222222"/><path d="M315.8,401.9l1.8-.7-1-0-1.8,.8z" fill="#ae8986" stroke="#222222"/><path d="M275.9,392.1l1.6-2.2-.9-.9-1.6,2.1z" fill="#b7676d" stroke="#361519"/><path d="M278.4,390.9l1.6-2.5-.9-1-1.6,2.5z" fill="#af5056" stroke="#400e14"/><path d="M280.9,389.6l1.7-2.4-.9-1.2-1.6,2.5z" fill="#b13f47"/><path d="M283.5,388.6l1.7-2-1-1.5-1.7,2.1z" fill="#bd343d"/><path d="M286.2,388.4l1.8-1.3-1-1.8-1.8,1.3z" fill="#d33943"/><path d="M288.9,389.1l1.8-.4-1-2-1.8,.5z" fill="#df7179"/><path d="M291.7,390.8l1.8,.3-1-2.1-1.8-.3z" fill="#e69096"/><path d="M294.6,393.1l1.8,.7-1-2-1.8-.8z" fill="#edacb1" stroke="#361519"/><path d="M297.4,395.6l1.8,.9-1-1.7-1.8-1z" fill="#f8d9dd" stroke="#222222"/><path d="M300.2,398.1l1.8,.9-1-1.4-1.8-1z" fill="#f2f2ef" stroke="#222222"/><path d="M302.9,400.2l1.8,.7-1-1.1-1.8-.9z" fill="#eaede5" stroke="#222222"/><path d="M305.7,401.7l1.8,.4-1-.6-1.8-.6z" fill="#dedfd5" stroke="#222222"/><path d="M308.4,402.5l1.8,.1-1-.3-1.8-.2z" fill="#cabdb4" stroke="#222222"/><path d="M311.2,402.7l1.8-.3-1-0-1.8,.2z" fill="#baa099" stroke="#222222"/><path d="M314.0,402.5l1.8-.6-1,0-1.8,.5z" fill="#b2918d" stroke="#222222"/><path d="M276.8,393.0l1.6-2.2-.9-1-1.6,2.2z" fill="#ba6b71" stroke="#361519"/><path d="M279.3,392.0l1.6-2.4-.9-1.2-1.6,2.5z" fill="#b5555c" stroke="#400e14"/><path d="M281.9,390.9l1.7-2.3-.9-1.4-1.7,2.4z" fill="#b9474f"/><path d="M284.5,390.2l1.7-1.9-1-1.7-1.7,2z" fill="#c74049"/><path d="M287.2,390.3l1.8-1.2-1-2-1.8,1.3z" fill="#d9545e"/><path d="M289.9,391.2l1.8-.4-1-2.1-1.8,.4z" fill="#e3838a"/><path d="M292.7,392.9l1.8,.2-1-2.1-1.8-.3z" fill="#eaa0a6" stroke="#400e14"/><path d="M295.5,395.1l1.8,.6-1-1.9-1.8-.7z" fill="#f1bec2" stroke="#2c1b1d"/><path d="M298.3,397.4l1.8,.7-1-1.6-1.8-.9z" fill="#f6f5f4" stroke="#222222"/><path d="M301.1,399.5l1.8,.7-1-1.2-1.8-.9z" fill="#f0f0ec" stroke="#222222"/><path d="M303.9,401.2l1.8,.5-1-.8-1.8-.7z" fill="#e8ebe3" stroke="#222222"/><path d="M306.6,402.3l1.8,.2-1-.4-1.8-.4z" fill="#d6cfc7" stroke="#222222"/><path d="M309.4,402.8l1.8-.1-1-.1-1.8-.1z" fill="#c4b1aa" stroke="#222222"/><path d="M312.2,402.9l1.8-.4-1-0-1.8,.3z" fill="#ba9e99" stroke="#222222"/><path d="M277.6,394.1l1.7-2.1-.9-1.1-1.6,2.2z" fill="#c07177" stroke="#2c1b1d"/><path d="M280.2,393.2l1.7-2.3-.9-1.3-1.6,2.4z" fill="#bc5e64" stroke="#400e14"/><path d="M282.8,392.4l1.7-2.2-.9-1.6-1.7,2.3z" fill="#c2535b" stroke="#400e14"/><path d="M285.4,392.0l1.7-1.7-1-1.9-1.7,1.9z" fill="#d1515a"/><path d="M288.1,392.2l1.8-1.1-1-2.1-1.8,1.2z" fill="#df6e76"/><path d="M290.9,393.3l1.8-.4-1-2.1-1.8,.4z" fill="#e7959b" stroke="#400e14"/><path d="M293.7,394.9l1.8,.1-1-2-1.8-.2z" fill="#eeb0b5" stroke="#361519"/><path d="M296.5,396.9l1.8,.5-1-1.7-1.8-.6z" fill="#f6d0d4" stroke="#2c1b1d"/><path d="M299.3,398.9l1.8,.6-1-1.4-1.8-.7z" fill="#f4f4f2" stroke="#222222"/><path d="M302.0,400.7l1.8,.5-.9-1-1.8-.7z" fill="#eeefea" stroke="#222222"/><path d="M304.8,402.0l1.8,.3-1-.6-1.8-.5z" fill="#e3e2db" stroke="#222222"/><path d="M307.6,402.8l1.8,0-1-.3-1.8-.2z" fill="#d1c4be" stroke="#222222"/><path d="M310.4,403.1l1.8-.2-1-.1-1.8,.1z" fill="#c4aea9" stroke="#222222"/><path d="M278.5,395.2l1.7-2-.9-1.2-1.7,2.1z" fill="#c67a80" stroke="#2c1b1d"/><path d="M281.1,394.5l1.7-2.1-.9-1.5-1.7,2.3z" fill="#c46970" stroke="#361519"/><path d="M283.7,393.9l1.7-2-.9-1.7-1.7,2.2z" fill="#cc626a" stroke="#400e14"/><path d="M286.4,393.8l1.8-1.5-1-2-1.7,1.7z" fill="#dc666f" stroke="#400e14"/><path d="M289.1,394.2l1.8-1-1-2.1-1.8,1.1z" fill="#e4868d" stroke="#400e14"/><path d="M291.9,395.3l1.8-.4-1-2-1.8,.4z" fill="#eba6ab" stroke="#361519"/><path d="M294.6,396.8l1.8,.1-1-1.9-1.8-.1z" fill="#f2c0c5" stroke="#2c1b1d"/><path d="M297.4,398.6l1.8,.3-1-1.6-1.8-.5z" fill="#fbe6e9" stroke="#222222"/><path d="M300.2,400.3l1.8,.4-.9-1.2-1.8-.6z" fill="#f3f2f0" stroke="#222222"/><path d="M303.0,401.7l1.8,.3-.9-.8-1.8-.5z" fill="#edeee9" stroke="#222222"/><path d="M305.8,402.7l1.8,.1-1-.5-1.8-.3z" fill="#ded8d2" stroke="#222222"/><path d="M308.5,403.2l1.8-.1-1-.3-1.8-0z" fill="#cfc0bb" stroke="#222222"/><path d="M279.4,396.4l1.7-1.9-.9-1.3-1.7,2z" fill="#cd868c" stroke="#2c1b1d"/><path d="M282.0,395.9l1.7-2-.9-1.6-1.7,2.1z" fill="#cd787e" stroke="#361519"/><path d="M284.6,395.6l1.7-1.8-.9-1.8-1.7,2z" fill="#d6757c" stroke="#361519"/><path d="M287.3,395.6l1.8-1.4-1-2-1.8,1.5z" fill="#e47f87" stroke="#400e14"/><path d="M290.1,396.1l1.8-.9-1-2-1.8,1z" fill="#e99ba1" stroke="#361519"/><path d="M292.8,397.2l1.8-.4-1-1.9-1.8,.4z" fill="#efb6bb" stroke="#361519"/><path d="M295.6,398.6l1.8-0-1-1.7-1.8-.1z" fill="#f6d0d4" stroke="#2c1b1d"/><path d="M298.4,400.1l1.8,.2-.9-1.4-1.8-.3z" fill="#f6f5f4" stroke="#222222"/><path d="M301.2,401.5l1.8,.2-.9-1-1.8-.4z" fill="#f1f1ef" stroke="#222222"/><path d="M303.9,402.6l1.8,.1-.9-.7-1.8-.3z" fill="#ecece7" stroke="#222222"/><path d="M306.7,403.3l1.8-.1-1-.4-1.8-.1z" fill="#dcd3ce" stroke="#222222"/><path d="M280.3,397.7l1.7-1.8-.9-1.4-1.7,1.9z" fill="#d59499" stroke="#2c1b1d"/><path d="M282.9,397.3l1.7-1.8-.9-1.6-1.7,2z" fill="#d78990" stroke="#2c1b1d"/><path d="M285.6,397.2l1.7-1.6-.9-1.8-1.7,1.8z" fill="#e08a91" stroke="#361519"/><path d="M288.3,397.4l1.8-1.2-1-1.9-1.8,1.4z" fill="#e9989f" stroke="#361519"/><path d="M291.0,398.0l1.8-.8-1-1.9-1.8,.9z" fill="#eeafb4" stroke="#361519"/><path d="M293.8,399.0l1.8-.4-1-1.8-1.8,.4z" fill="#f3c6ca" stroke="#2c1b1d"/><path d="M296.5,400.2l1.8-.1-.9-1.5-1.8,0z" fill="#fae3e6" stroke="#222222"/><path d="M299.3,401.5l1.8,0-.9-1.2-1.8-.2z" fill="#f4f3f2" stroke="#222222"/><path d="M302.1,402.6l1.8,0-.9-.9-1.8-.2z" fill="#f0f1ed" stroke="#222222"/><path d="M304.9,403.4l1.8-.1-1-.6-1.8-.1z" fill="#e8e6e1" stroke="#222222"/><path d="M281.2,399.0l1.7-1.6-.9-1.4-1.7,1.8z" fill="#dea4aa" stroke="#2c1b1d"/><path d="M283.8,398.8l1.7-1.6-.9-1.6-1.7,1.8z" fill="#e09da3" stroke="#2c1b1d"/><path d="M286.5,398.8l1.8-1.4-.9-1.8-1.7,1.6z" fill="#eaa1a8" stroke="#2c1b1d"/><path d="M289.2,399.1l1.8-1.1-1-1.8-1.8,1.2z" fill="#efaeb4" stroke="#2c1b1d"/><path d="M291.9,399.7l1.8-.7-1-1.8-1.8,.8z" fill="#f2c1c6" stroke="#2c1b1d"/><path d="M294.7,400.6l1.8-.4-.9-1.6-1.8,.4z" fill="#f7d6da" stroke="#222222"/><path d="M297.5,401.7l1.8-.2-.9-1.4-1.8,.1z" fill="#f6f5f4" stroke="#222222"/><path d="M300.3,402.7l1.8-.1-.9-1.1-1.8-0z" fill="#f3f3f1" stroke="#222222"/><path d="M303.0,403.6l1.8-.2-.9-.8-1.8-0z" fill="#f0f0ed" stroke="#222222"/><path d="M282.1,400.2l1.7-1.5-.9-1.4-1.7,1.6z" fill="#e6b7bc" stroke="#222222"/><path d="M284.8,400.2l1.8-1.4-.9-1.6-1.7,1.6z" fill="#eab2b8" stroke="#2c1b1d"/><path d="M287.4,400.3l1.8-1.2-.9-1.7-1.8,1.4z" fill="#f1b8be" stroke="#2c1b1d"/><path d="M290.1,400.7l1.8-1-.9-1.7-1.8,1.1z" fill="#f3c2c7" stroke="#2c1b1d"/><path d="M292.9,401.3l1.8-.7-.9-1.6-1.8,.7z" fill="#f7d2d6" stroke="#222222"/><path d="M295.6,402.1l1.8-.4-.9-1.5-1.8,.4z" fill="#f6f5f5" stroke="#222222"/><path d="M298.4,403.0l1.8-.3-.9-1.2-1.8,.2z" fill="#f5f4f2" stroke="#222222"/><path d="M301.2,403.8l1.8-.3-.9-1-1.8,.1z" fill="#f2f2ef" stroke="#222222"/><path d="M283.0,401.5l1.8-1.3-.9-1.4-1.7,1.5z" fill="#efccd0" stroke="#222222"/><path d="M285.7,401.6l1.8-1.3-.9-1.5-1.8,1.4z" fill="#f3c8cd" stroke="#222222"/><path d="M288.3,401.8l1.8-1.1-.9-1.6-1.8,1.2z" fill="#f6cdd1" stroke="#222222"/><path d="M291.1,402.2l1.8-.9-.9-1.6-1.8,1z" fill="#f8d6da" stroke="#222222"/><path d="M293.8,402.8l1.8-.6-.9-1.5-1.8,.7z" fill="#f6f5f5" stroke="#222222"/><path d="M296.6,403.5l1.8-.5-.9-1.3-1.8,.4z" fill="#f5f4f3" stroke="#222222"/><path d="M299.3,404.2l1.8-.4-.9-1.1-1.8,.3z" fill="#f3f3f1" stroke="#222222"/><path d="M283.9,402.7l1.8-1.2-.9-1.4-1.8,1.3z" fill="#eee9e9" stroke="#222222"/><path d="M286.6,402.9l1.8-1.1-.9-1.5-1.8,1.3z" fill="#f5f2f2" stroke="#222222"/><path d="M289.3,403.2l1.8-1-.9-1.5-1.8,1.1z" fill="#f6f4f4" stroke="#222222"/><path d="M292.0,403.6l1.8-.8-.9-1.5-1.8,.9z" fill="#f6f4f4" stroke="#222222"/><path d="M294.7,404.1l1.8-.6-.9-1.4-1.8,.6z" fill="#f5f4f3" stroke="#222222"/><path d="M297.5,404.8l1.8-.5-.9-1.2-1.8,.5z" fill="#f4f3f2" stroke="#222222"/><path d="M284.8,403.9l1.8-1-.9-1.3-1.8,1.2z" fill="#f1edec" stroke="#222222"/><path d="M287.5,404.1l1.8-1-.9-1.4-1.8,1.1z" fill="#f5f3f2" stroke="#222222"/><path d="M290.2,404.5l1.8-.9-.9-1.4-1.8,1z" fill="#f5f3f3" stroke="#222222"/><path d="M292.9,404.9l1.8-.7-.9-1.4-1.8,.8z" fill="#f5f3f2" stroke="#222222"/><path d="M295.7,405.4l1.8-.6-.9-1.3-1.8,.6z" fill="#f4f3f2" stroke="#222222"/><path d="M285.7,405.1l1.8-.9-.9-1.3-1.8,1z" fill="#f2efee" stroke="#222222"/><path d="M288.4,405.4l1.8-.9-.9-1.3-1.8,1z" fill="#f4f2f1" stroke="#222222"/><path d="M291.1,405.7l1.8-.8-.9-1.3-1.8,.9z" fill="#f4f3f1" stroke="#222222"/><path d="M293.8,406.1l1.8-.7-.9-1.2-1.8,.7z" fill="#f4f3f1" stroke="#222222"/><path d="M286.5,406.2l1.8-.9-.9-1.2-1.8,.9z" fill="#f2f0ee" stroke="#222222"/><path d="M289.3,406.5l1.8-.8-.9-1.2-1.8,.9z" fill="#f3f2f0" stroke="#222222"/><path d="M292.0,406.9l1.8-.8-.9-1.2-1.8,.8z" fill="#f3f2f0" stroke="#222222"/><path d="M287.4,407.3l1.8-.8-.9-1.2-1.8,.9z" fill="#f1f0ee" stroke="#222222"/><path d="M290.1,407.6l1.8-.8-.9-1.2-1.8,.8z" fill="#f2f2f0" stroke="#222222"/><path d="M288.3,408.4l1.8-.7-.9-1.1-1.8,.8z" fill="#f1efed" stroke="#222222"/></g>
<text x="258.80" y="374.42" font-size="7.0" fill="#333" stroke="#333" stroke-width="0.2" textLength="6.80" lengthAdjust="spacingAndGlyphs">20</text>
<text x="263.35" y="390.17" font-size="7.0" fill="#333" stroke="#333" stroke-width="0.2" textLength="3.40" lengthAdjust="spacingAndGlyphs">0</text>
<text x="257.70" y="405.92" font-size="7.0" fill="#333" stroke="#333" stroke-width="0.2" textLength="10.20" lengthAdjust="spacingAndGlyphs">&#8722;20</text>
<text x="261.03" y="411.62" font-size="7.0" fill="#333" stroke="#333" stroke-width="0.2" textLength="9.75" lengthAdjust="spacingAndGlyphs">200</text>
<text x="266.68" y="417.02" font-size="7.0" fill="#333" stroke="#333" stroke-width="0.2" textLength="9.75" lengthAdjust="spacingAndGlyphs">100</text>
<text x="272.70" y="423.22" font-size="7.0" fill="#333" stroke="#333" stroke-width="0.2" textLength="6.50" lengthAdjust="spacingAndGlyphs">50</text>
<text x="278.00" y="429.42" font-size="7.0" fill="#333" stroke="#333" stroke-width="0.2" textLength="6.50" lengthAdjust="spacingAndGlyphs">25</text>
<text x="295.15" y="430.92" font-size="7.0" fill="#333" stroke="#333" stroke-width="0.2" textLength="7.00" lengthAdjust="spacingAndGlyphs">50</text>
<text x="302.85" y="427.92" font-size="7.0" fill="#333" stroke="#333" stroke-width="0.2" textLength="10.50" lengthAdjust="spacingAndGlyphs">100</text>
<text x="313.60" y="423.52" font-size="7.0" fill="#333" stroke="#333" stroke-width="0.2" textLength="10.50" lengthAdjust="spacingAndGlyphs">200</text>
<text x="323.05" y="419.02" font-size="7.0" fill="#333" stroke="#333" stroke-width="0.2" textLength="10.50" lengthAdjust="spacingAndGlyphs">400</text>
<g transform="translate(248.60,387.50) rotate(-90)"><text x="-13.35" y="2.84" font-size="7.9" fill="#2a2a2a" stroke="#2a2a2a" stroke-width="0.25" textLength="26.70" lengthAdjust="spacingAndGlyphs">&#948;&#8722;score</text></g>
<g transform="translate(260.80,426.60) rotate(46)"><text x="-13.50" y="3.02" font-size="8.4" fill="#2a2a2a" stroke="#2a2a2a" stroke-width="0.25" textLength="27.00" lengthAdjust="spacingAndGlyphs">BETi (nM)</text></g>
<g transform="translate(317.10,435.80) rotate(-25)"><text x="-16.65" y="3.10" font-size="8.6" fill="#2a2a2a" stroke="#2a2a2a" stroke-width="0.25" textLength="33.30" lengthAdjust="spacingAndGlyphs">p300i (nM)</text></g>
<rect x="273.80" y="357.70" width="50.20" height="2.20" fill="url(#cbar)"/>
<text x="268.90" y="354.42" font-size="7.0" fill="#333" stroke="#333" stroke-width="0.15" textLength="11.00" lengthAdjust="spacingAndGlyphs">&#8722;20</text>
<text x="297.20" y="354.42" font-size="7.0" fill="#333" stroke="#333" stroke-width="0.15" textLength="3.00" lengthAdjust="spacingAndGlyphs">0</text>
<text x="320.70" y="354.42" font-size="7.0" fill="#333" stroke="#333" stroke-width="0.15" textLength="6.90" lengthAdjust="spacingAndGlyphs">20</text>
<text x="387.50" y="128.14" font-size="7.6" fill="#222" stroke="#222" textLength="35.30" lengthAdjust="spacingAndGlyphs">KASUMI-1</text>
<line x1="387.90" y1="177.60" x2="428.50" y2="177.60" stroke="#333" stroke-width="0.8" stroke-dasharray="1 1.6"/>
<line x1="387.90" y1="191.60" x2="428.50" y2="191.60" stroke="#333" stroke-width="0.8" stroke-dasharray="1 1.6"/>
<rect x="400.30" y="171.20" width="4.90" height="20.40" fill="#1d4f8c"/>
<line x1="402.75" y1="171.20" x2="402.75" y2="165.50" stroke="#1d4f8c" stroke-width="0.9"/>
<line x1="400.79" y1="165.50" x2="404.71" y2="165.50" stroke="#1d4f8c" stroke-width="0.9"/>
<rect x="409.50" y="172.10" width="4.30" height="19.50" fill="#f2a125"/>
<line x1="411.65" y1="172.10" x2="411.65" y2="165.50" stroke="#f2a125" stroke-width="0.9"/>
<line x1="409.93" y1="165.50" x2="413.37" y2="165.50" stroke="#f2a125" stroke-width="0.9"/>
<rect x="418.20" y="183.90" width="4.30" height="7.70" fill="#c41c3f"/>
<line x1="420.35" y1="183.90" x2="420.35" y2="177.00" stroke="#c41c3f" stroke-width="0.9"/>
<line x1="418.63" y1="177.00" x2="422.07" y2="177.00" stroke="#c41c3f" stroke-width="0.9"/>
<line x1="385.80" y1="132.30" x2="385.80" y2="205.80" stroke="#222" stroke-width="1.1"/>
<line x1="383.50" y1="134.90" x2="385.80" y2="134.90" stroke="#222" stroke-width="0.9"/>
<text x="372.23" y="137.28" font-size="6.6" fill="#444" stroke="#444" textLength="6.97" lengthAdjust="spacingAndGlyphs">40</text>
<line x1="383.50" y1="163.40" x2="385.80" y2="163.40" stroke="#222" stroke-width="0.9"/>
<text x="372.23" y="165.78" font-size="6.6" fill="#444" stroke="#444" textLength="6.97" lengthAdjust="spacingAndGlyphs">20</text>
<line x1="383.50" y1="191.60" x2="385.80" y2="191.60" stroke="#222" stroke-width="0.9"/>
<text x="375.71" y="193.98" font-size="6.6" fill="#444" stroke="#444" textLength="3.49" lengthAdjust="spacingAndGlyphs">0</text>
<line x1="385.80" y1="205.80" x2="425.60" y2="205.80" stroke="#222" stroke-width="1.2"/>
<text x="431.90" y="179.08" font-size="6.6" fill="#333" stroke="#333" textLength="28.60" lengthAdjust="spacingAndGlyphs">Cutoff for</text>
<text x="431.90" y="188.58" font-size="6.6" fill="#333" stroke="#333" textLength="22.50" lengthAdjust="spacingAndGlyphs">synergy</text>
<g transform="translate(365.70,169.50) rotate(-90)"><text x="-26.80" y="2.52" font-size="7.0" fill="#333" stroke="#333" textLength="53.60" lengthAdjust="spacingAndGlyphs">ZIP synergy score</text></g>
<text x="391.70" y="245.94" font-size="7.6" fill="#222" stroke="#222" textLength="27.30" lengthAdjust="spacingAndGlyphs">SKNO-1</text>
<line x1="387.90" y1="296.00" x2="428.50" y2="296.00" stroke="#333" stroke-width="0.8" stroke-dasharray="1 1.6"/>
<line x1="387.90" y1="310.10" x2="428.50" y2="310.10" stroke="#333" stroke-width="0.8" stroke-dasharray="1 1.6"/>
<rect x="400.80" y="279.00" width="4.40" height="31.10" fill="#1d4f8c"/>
<line x1="403.00" y1="279.00" x2="403.00" y2="274.80" stroke="#1d4f8c" stroke-width="0.9"/>
<line x1="401.24" y1="274.80" x2="404.76" y2="274.80" stroke="#1d4f8c" stroke-width="0.9"/>
<rect x="409.50" y="288.10" width="4.30" height="22.00" fill="#f2a125"/>
<line x1="411.65" y1="288.10" x2="411.65" y2="282.10" stroke="#f2a125" stroke-width="0.9"/>
<line x1="409.93" y1="282.10" x2="413.37" y2="282.10" stroke="#f2a125" stroke-width="0.9"/>
<rect x="418.20" y="294.20" width="4.30" height="15.90" fill="#c41c3f"/>
<line x1="420.35" y1="294.20" x2="420.35" y2="287.60" stroke="#c41c3f" stroke-width="0.9"/>
<line x1="418.63" y1="287.60" x2="422.07" y2="287.60" stroke="#c41c3f" stroke-width="0.9"/>
<line x1="385.80" y1="251.00" x2="385.80" y2="324.50" stroke="#222" stroke-width="1.1"/>
<line x1="383.50" y1="253.50" x2="385.80" y2="253.50" stroke="#222" stroke-width="0.9"/>
<text x="372.23" y="255.88" font-size="6.6" fill="#444" stroke="#444" textLength="6.97" lengthAdjust="spacingAndGlyphs">40</text>
<line x1="383.50" y1="282.10" x2="385.80" y2="282.10" stroke="#222" stroke-width="0.9"/>
<text x="372.23" y="284.48" font-size="6.6" fill="#444" stroke="#444" textLength="6.97" lengthAdjust="spacingAndGlyphs">20</text>
<line x1="383.50" y1="310.10" x2="385.80" y2="310.10" stroke="#222" stroke-width="0.9"/>
<text x="375.71" y="312.48" font-size="6.6" fill="#444" stroke="#444" textLength="3.49" lengthAdjust="spacingAndGlyphs">0</text>
<line x1="385.80" y1="324.50" x2="425.80" y2="324.50" stroke="#222" stroke-width="1.2"/>
<text x="432.00" y="297.58" font-size="6.6" fill="#333" stroke="#333" textLength="28.60" lengthAdjust="spacingAndGlyphs">Cutoff for</text>
<text x="432.00" y="306.88" font-size="6.6" fill="#333" stroke="#333" textLength="22.50" lengthAdjust="spacingAndGlyphs">synergy</text>
<g transform="translate(365.70,287.20) rotate(-90)"><text x="-26.00" y="2.52" font-size="7.0" fill="#333" stroke="#333" textLength="52.00" lengthAdjust="spacingAndGlyphs">ZIP synergy score</text></g>
<text x="392.00" y="365.44" font-size="7.6" fill="#222" stroke="#222" textLength="36.90" lengthAdjust="spacingAndGlyphs">OCI-AML3</text>
<line x1="387.90" y1="395.00" x2="428.50" y2="395.00" stroke="#333" stroke-width="0.8" stroke-dasharray="1 1.6"/>
<line x1="387.90" y1="408.90" x2="428.50" y2="408.90" stroke="#333" stroke-width="0.8" stroke-dasharray="1 1.6"/>
<rect x="400.70" y="393.40" width="4.60" height="15.50" fill="#1d4f8c"/>
<line x1="403.00" y1="393.40" x2="403.00" y2="384.60" stroke="#1d4f8c" stroke-width="0.9"/>
<line x1="401.16" y1="384.60" x2="404.84" y2="384.60" stroke="#1d4f8c" stroke-width="0.9"/>
<rect x="409.30" y="403.60" width="4.60" height="5.30" fill="#f2a125"/>
<line x1="411.60" y1="403.60" x2="411.60" y2="400.80" stroke="#f2a125" stroke-width="0.9"/>
<line x1="409.76" y1="400.80" x2="413.44" y2="400.80" stroke="#f2a125" stroke-width="0.9"/>
<rect x="418.50" y="403.80" width="4.60" height="5.10" fill="#c41c3f"/>
<line x1="420.80" y1="403.80" x2="420.80" y2="400.30" stroke="#c41c3f" stroke-width="0.9"/>
<line x1="418.96" y1="400.30" x2="422.64" y2="400.30" stroke="#c41c3f" stroke-width="0.9"/>
<line x1="385.70" y1="378.90" x2="385.70" y2="423.90" stroke="#222" stroke-width="1.1"/>
<line x1="383.40" y1="380.70" x2="385.70" y2="380.70" stroke="#222" stroke-width="0.9"/>
<text x="372.13" y="383.08" font-size="6.6" fill="#444" stroke="#444" textLength="6.97" lengthAdjust="spacingAndGlyphs">20</text>
<line x1="383.40" y1="408.90" x2="385.70" y2="408.90" stroke="#222" stroke-width="0.9"/>
<text x="375.61" y="411.28" font-size="6.6" fill="#444" stroke="#444" textLength="3.49" lengthAdjust="spacingAndGlyphs">0</text>
<line x1="385.70" y1="423.90" x2="424.30" y2="423.90" stroke="#222" stroke-width="1.2"/>
<text x="432.40" y="397.88" font-size="6.6" fill="#333" stroke="#333" textLength="28.60" lengthAdjust="spacingAndGlyphs">Cutoff for</text>
<text x="432.40" y="407.78" font-size="6.6" fill="#333" stroke="#333" textLength="22.50" lengthAdjust="spacingAndGlyphs">synergy</text>
<g transform="translate(364.20,400.20) rotate(-90)"><text x="-26.00" y="2.52" font-size="7.0" fill="#333" stroke="#333" textLength="52.00" lengthAdjust="spacingAndGlyphs">ZIP synergy score</text></g>
<rect x="465.70" y="140.40" width="6.00" height="4.50" fill="#1d4f8c"/>
<rect x="465.70" y="148.40" width="6.00" height="4.50" fill="#f2a125"/>
<rect x="465.70" y="156.30" width="6.00" height="4.50" fill="#c41c3f"/>
<text x="475.20" y="144.95" font-size="6.8" fill="#333" stroke="#333" textLength="25.80" lengthAdjust="spacingAndGlyphs">BETi first</text>
<text x="475.20" y="152.85" font-size="6.8" fill="#333" stroke="#333" textLength="38.00" lengthAdjust="spacingAndGlyphs">Concomitant</text>
<text x="475.20" y="160.65" font-size="6.8" fill="#333" stroke="#333" textLength="28.50" lengthAdjust="spacingAndGlyphs">p300i first</text>
<line x1="45.00" y1="513.20" x2="156.20" y2="513.20" stroke="#333" stroke-width="0.8" stroke-dasharray="1 1.6"/>
<line x1="45.00" y1="527.40" x2="156.20" y2="527.40" stroke="#333" stroke-width="0.8" stroke-dasharray="1 1.6"/>
<rect x="57.70" y="507.70" width="4.80" height="19.70" fill="#1d4f8c"/>
<line x1="60.10" y1="507.70" x2="60.10" y2="494.20" stroke="#1d4f8c" stroke-width="0.9"/>
<line x1="58.18" y1="494.20" x2="62.02" y2="494.20" stroke="#1d4f8c" stroke-width="0.9"/>
<rect x="66.30" y="527.40" width="4.90" height="7.60" fill="#f2a125"/>
<line x1="68.75" y1="535.00" x2="68.75" y2="552.90" stroke="#f2a125" stroke-width="0.9"/>
<line x1="66.79" y1="552.90" x2="70.71" y2="552.90" stroke="#f2a125" stroke-width="0.9"/>
<rect x="75.40" y="527.40" width="4.40" height="11.40" fill="#c41c3f"/>
<line x1="77.60" y1="538.80" x2="77.60" y2="552.90" stroke="#c41c3f" stroke-width="0.9"/>
<line x1="75.84" y1="552.90" x2="79.36" y2="552.90" stroke="#c41c3f" stroke-width="0.9"/>
<rect x="89.70" y="490.80" width="4.60" height="36.60" fill="#1d4f8c"/>
<line x1="92.00" y1="490.80" x2="92.00" y2="476.20" stroke="#1d4f8c" stroke-width="0.9"/>
<line x1="90.16" y1="476.20" x2="93.84" y2="476.20" stroke="#1d4f8c" stroke-width="0.9"/>
<rect x="98.50" y="486.20" width="4.60" height="41.20" fill="#f2a125"/>
<line x1="100.80" y1="486.20" x2="100.80" y2="478.10" stroke="#f2a125" stroke-width="0.9"/>
<line x1="98.96" y1="478.10" x2="102.64" y2="478.10" stroke="#f2a125" stroke-width="0.9"/>
<rect x="107.30" y="506.30" width="4.60" height="21.10" fill="#c41c3f"/>
<line x1="109.60" y1="506.30" x2="109.60" y2="495.40" stroke="#c41c3f" stroke-width="0.9"/>
<line x1="107.76" y1="495.40" x2="111.44" y2="495.40" stroke="#c41c3f" stroke-width="0.9"/>
<rect x="122.00" y="506.30" width="4.70" height="21.10" fill="#1d4f8c"/>
<line x1="124.35" y1="506.30" x2="124.35" y2="499.30" stroke="#1d4f8c" stroke-width="0.9"/>
<line x1="122.47" y1="499.30" x2="126.23" y2="499.30" stroke="#1d4f8c" stroke-width="0.9"/>
<rect x="130.80" y="509.30" width="4.60" height="18.10" fill="#f2a125"/>
<line x1="133.10" y1="509.30" x2="133.10" y2="502.30" stroke="#f2a125" stroke-width="0.9"/>
<line x1="131.26" y1="502.30" x2="134.94" y2="502.30" stroke="#f2a125" stroke-width="0.9"/>
<rect x="139.60" y="508.60" width="4.60" height="18.80" fill="#c41c3f"/>
<line x1="141.90" y1="508.60" x2="141.90" y2="498.40" stroke="#c41c3f" stroke-width="0.9"/>
<line x1="140.06" y1="498.40" x2="143.74" y2="498.40" stroke="#c41c3f" stroke-width="0.9"/>
<line x1="43.80" y1="468.30" x2="43.80" y2="557.30" stroke="#222" stroke-width="1.1"/>
<line x1="41.50" y1="470.20" x2="43.80" y2="470.20" stroke="#222" stroke-width="0.9"/>
<text x="30.53" y="472.58" font-size="6.6" fill="#444" stroke="#444" textLength="6.97" lengthAdjust="spacingAndGlyphs">40</text>
<line x1="41.50" y1="498.70" x2="43.80" y2="498.70" stroke="#222" stroke-width="0.9"/>
<text x="30.53" y="501.08" font-size="6.6" fill="#444" stroke="#444" textLength="6.97" lengthAdjust="spacingAndGlyphs">20</text>
<line x1="41.50" y1="527.30" x2="43.80" y2="527.30" stroke="#222" stroke-width="0.9"/>
<text x="34.01" y="529.68" font-size="6.6" fill="#444" stroke="#444" textLength="3.49" lengthAdjust="spacingAndGlyphs">0</text>
<line x1="43.80" y1="557.30" x2="155.70" y2="557.30" stroke="#222" stroke-width="1.2"/>
<line x1="68.40" y1="557.30" x2="68.40" y2="559.90" stroke="#222" stroke-width="0.9"/>
<line x1="100.70" y1="557.30" x2="100.70" y2="559.90" stroke="#222" stroke-width="0.9"/>
<line x1="133.10" y1="557.30" x2="133.10" y2="559.90" stroke="#222" stroke-width="0.9"/>
<g transform="translate(62.00,573.60) rotate(-45)"><text x="-10.75" y="2.59" font-size="7.2" fill="#333" stroke="#333" textLength="21.50" lengthAdjust="spacingAndGlyphs">SKM-1</text></g>
<g transform="translate(96.00,570.80) rotate(-45)"><text x="-6.90" y="2.59" font-size="7.2" fill="#333" stroke="#333" textLength="13.80" lengthAdjust="spacingAndGlyphs">KG-1</text></g>
<g transform="translate(122.50,576.00) rotate(-45)"><text x="-14.85" y="2.59" font-size="7.2" fill="#333" stroke="#333" textLength="29.70" lengthAdjust="spacingAndGlyphs">MOLM-13</text></g>
<g transform="translate(22.10,512.00) rotate(-90)"><text x="-26.50" y="2.38" font-size="6.6" fill="#333" stroke="#333" textLength="53.00" lengthAdjust="spacingAndGlyphs">ZIP synergy score</text></g>
<rect x="153.40" y="473.00" width="5.60" height="4.60" fill="#1d4f8c"/>
<rect x="153.40" y="481.60" width="5.60" height="4.60" fill="#f2a125"/>
<rect x="153.40" y="489.60" width="5.60" height="4.60" fill="#c41c3f"/>
<text x="162.00" y="477.75" font-size="6.8" fill="#333" stroke="#333" textLength="26.50" lengthAdjust="spacingAndGlyphs">BETi first</text>
<text x="162.00" y="486.35" font-size="6.8" fill="#333" stroke="#333" textLength="38.20" lengthAdjust="spacingAndGlyphs">Concomitant</text>
<text x="162.00" y="494.45" font-size="6.8" fill="#333" stroke="#333" textLength="30.00" lengthAdjust="spacingAndGlyphs">p300i first</text>
<text x="158.00" y="515.58" font-size="6.6" fill="#333" stroke="#333" textLength="28.60" lengthAdjust="spacingAndGlyphs">Cutoff for</text>
<text x="158.00" y="525.48" font-size="6.6" fill="#333" stroke="#333" textLength="22.50" lengthAdjust="spacingAndGlyphs">synergy</text>
<text x="264.30" y="477.15" font-size="8.2" fill="#222" stroke="#222" textLength="47.30" lengthAdjust="spacingAndGlyphs">Aml1-Eto9a</text>
<rect x="263.20" y="495.90" width="11.70" height="62.80" fill="#a98060"/>
<rect x="282.00" y="533.20" width="11.70" height="25.50" fill="#ea8b80"/>
<rect x="300.90" y="545.30" width="11.30" height="13.40" fill="#8e9ccb"/>
<line x1="269.10" y1="489.20" x2="269.10" y2="495.90" stroke="#333" stroke-width="0.8"/>
<line x1="287.70" y1="525.10" x2="287.70" y2="533.20" stroke="#333" stroke-width="0.8"/>
<line x1="306.50" y1="538.60" x2="306.50" y2="545.30" stroke="#333" stroke-width="0.8"/>
<line x1="304.30" y1="538.60" x2="308.70" y2="538.60" stroke="#333" stroke-width="0.8"/>
<circle cx="265.10" cy="496.60" r="2.25" fill="#553418"/>
<circle cx="269.10" cy="489.20" r="2.25" fill="#553418"/>
<circle cx="273.10" cy="494.80" r="2.25" fill="#553418"/>
<circle cx="283.60" cy="532.50" r="2.25" fill="#b8142c"/>
<circle cx="287.70" cy="525.10" r="2.25" fill="#b8142c"/>
<circle cx="292.00" cy="532.20" r="2.25" fill="#b8142c"/>
<circle cx="302.50" cy="539.00" r="2.25" fill="#17406e"/>
<circle cx="306.50" cy="550.00" r="2.25" fill="#17406e"/>
<circle cx="310.80" cy="542.60" r="2.25" fill="#17406e"/>
<line x1="256.50" y1="488.70" x2="256.50" y2="558.70" stroke="#222" stroke-width="1.1"/>
<line x1="254.20" y1="495.10" x2="256.50" y2="495.10" stroke="#222" stroke-width="0.9"/>
<text x="242.24" y="497.48" font-size="6.6" fill="#444" stroke="#444" textLength="10.46" lengthAdjust="spacingAndGlyphs">100</text>
<line x1="254.20" y1="527.10" x2="256.50" y2="527.10" stroke="#222" stroke-width="0.9"/>
<text x="245.73" y="529.48" font-size="6.6" fill="#444" stroke="#444" textLength="6.97" lengthAdjust="spacingAndGlyphs">50</text>
<line x1="254.20" y1="558.70" x2="256.50" y2="558.70" stroke="#222" stroke-width="0.9"/>
<text x="249.21" y="561.08" font-size="6.6" fill="#444" stroke="#444" textLength="3.49" lengthAdjust="spacingAndGlyphs">0</text>
<line x1="256.50" y1="558.70" x2="312.60" y2="558.70" stroke="#222" stroke-width="1.4"/>
<line x1="269.05" y1="558.70" x2="269.05" y2="561.50" stroke="#222" stroke-width="0.9"/>
<line x1="287.85" y1="558.70" x2="287.85" y2="561.50" stroke="#222" stroke-width="0.9"/>
<line x1="306.55" y1="558.70" x2="306.55" y2="561.50" stroke="#222" stroke-width="0.9"/>
<path d="M286.3,518.6 L286.3,515.3 L306.5,515.3 L306.5,518.6" fill="none" stroke="#333" stroke-width="0.9"/>
<text x="286.3" y="511.28" font-size="6.6" fill="#333" stroke="#333" textLength="20.90" lengthAdjust="spacingAndGlyphs"><tspan font-style="italic">P</tspan> = .02</text>
<g transform="translate(232.00,524.50) rotate(-90)"><text x="-34.00" y="2.81" font-size="7.8" fill="#333" stroke="#333" textLength="68.00" lengthAdjust="spacingAndGlyphs">% Colonies (to DMSO)</text></g>
<g transform="translate(263.10,575.40) rotate(-45)"><text x="-8.65" y="2.66" font-size="7.4" fill="#333" stroke="#333" textLength="17.30" lengthAdjust="spacingAndGlyphs">DMSO</text></g>
<g transform="translate(278.50,578.90) rotate(-45)"><text x="-12.95" y="2.66" font-size="7.4" fill="#333" stroke="#333" textLength="25.90" lengthAdjust="spacingAndGlyphs">p300i first</text></g>
<g transform="translate(298.00,576.90) rotate(-45)"><text x="-12.25" y="2.66" font-size="7.4" fill="#333" stroke="#333" textLength="24.50" lengthAdjust="spacingAndGlyphs">BETi first</text></g>
<text x="374.50" y="477.75" font-size="8.2" fill="#222" stroke="#222" textLength="67.40" lengthAdjust="spacingAndGlyphs">NPM1c/FLT3-ITD</text>
<rect x="383.80" y="508.50" width="11.60" height="50.00" fill="#a98060"/>
<rect x="402.80" y="516.20" width="11.00" height="42.30" fill="#ea8b80"/>
<rect x="421.50" y="538.50" width="10.80" height="20.00" fill="#8e9ccb"/>
<line x1="390.00" y1="494.60" x2="390.00" y2="508.50" stroke="#333" stroke-width="0.8"/>
<line x1="387.80" y1="494.60" x2="392.20" y2="494.60" stroke="#333" stroke-width="0.8"/>
<line x1="408.50" y1="512.00" x2="408.50" y2="516.20" stroke="#333" stroke-width="0.8"/>
<line x1="426.50" y1="534.40" x2="426.50" y2="538.50" stroke="#333" stroke-width="0.8"/>
<line x1="424.30" y1="534.40" x2="428.70" y2="534.40" stroke="#333" stroke-width="0.8"/>
<circle cx="386.20" cy="514.60" r="2.25" fill="#553418"/>
<circle cx="390.00" cy="494.60" r="2.25" fill="#553418"/>
<circle cx="393.50" cy="513.50" r="2.25" fill="#553418"/>
<circle cx="404.60" cy="516.20" r="2.25" fill="#b8142c"/>
<circle cx="408.50" cy="512.00" r="2.25" fill="#b8142c"/>
<circle cx="412.30" cy="516.20" r="2.25" fill="#b8142c"/>
<circle cx="423.00" cy="534.60" r="2.25" fill="#17406e"/>
<circle cx="423.00" cy="539.20" r="2.25" fill="#17406e"/>
<circle cx="430.50" cy="538.90" r="2.25" fill="#17406e"/>
<line x1="376.60" y1="488.50" x2="376.60" y2="558.50" stroke="#222" stroke-width="1.1"/>
<line x1="374.30" y1="494.60" x2="376.60" y2="494.60" stroke="#222" stroke-width="0.9"/>
<text x="361.04" y="496.98" font-size="6.6" fill="#444" stroke="#444" textLength="10.46" lengthAdjust="spacingAndGlyphs">100</text>
<line x1="374.30" y1="526.50" x2="376.60" y2="526.50" stroke="#222" stroke-width="0.9"/>
<text x="364.53" y="528.88" font-size="6.6" fill="#444" stroke="#444" textLength="6.97" lengthAdjust="spacingAndGlyphs">50</text>
<line x1="374.30" y1="558.50" x2="376.60" y2="558.50" stroke="#222" stroke-width="0.9"/>
<text x="368.01" y="560.88" font-size="6.6" fill="#444" stroke="#444" textLength="3.49" lengthAdjust="spacingAndGlyphs">0</text>
<line x1="376.60" y1="558.50" x2="440.00" y2="558.50" stroke="#222" stroke-width="1.4"/>
<line x1="389.60" y1="558.50" x2="389.60" y2="561.30" stroke="#222" stroke-width="0.9"/>
<line x1="408.30" y1="558.50" x2="408.30" y2="561.30" stroke="#222" stroke-width="0.9"/>
<line x1="426.90" y1="558.50" x2="426.90" y2="561.30" stroke="#222" stroke-width="0.9"/>
<path d="M407.4,507.8 L407.4,504.3 L427.7,504.3 L427.7,507.8" fill="none" stroke="#333" stroke-width="0.9"/>
<text x="403.0" y="500.58" font-size="6.6" fill="#333" stroke="#333" textLength="28.50" lengthAdjust="spacingAndGlyphs"><tspan font-style="italic">P</tspan> = .0004</text>
<g transform="translate(350.20,524.80) rotate(-90)"><text x="-33.00" y="2.81" font-size="7.8" fill="#333" stroke="#333" textLength="66.00" lengthAdjust="spacingAndGlyphs">% Colonies (to DMSO)</text></g>
<g transform="translate(383.90,575.40) rotate(-45)"><text x="-8.55" y="2.66" font-size="7.4" fill="#333" stroke="#333" textLength="17.10" lengthAdjust="spacingAndGlyphs">DMSO</text></g>
<g transform="translate(399.30,579.10) rotate(-45)"><text x="-13.35" y="2.66" font-size="7.4" fill="#333" stroke="#333" textLength="26.70" lengthAdjust="spacingAndGlyphs">p300i first</text></g>
<g transform="translate(418.30,577.30) rotate(-45)"><text x="-12.65" y="2.66" font-size="7.4" fill="#333" stroke="#333" textLength="25.30" lengthAdjust="spacingAndGlyphs">BETi first</text></g>
<path d="M48.40,607.10 L150.90,607.10 L150.90,633.11 L159.10,633.11 L159.10,659.19 L163.20,659.19 L163.20,685.20" fill="none" stroke="#4f5c9c" stroke-width="1.15"/>
<path d="M48.40,607.10 L142.70,607.10 L142.70,626.62 L146.80,626.62 L146.80,646.15 L150.90,646.15 L150.90,665.68 L155.00,665.68 L155.00,685.20" fill="none" stroke="#ec5e4c" stroke-width="1.15"/>
<path d="M48.40,607.10 L126.30,607.10 L126.30,626.62 L138.60,626.62 L138.60,646.15 L142.70,646.15 L142.70,665.68 L150.90,665.68 L150.90,685.20" fill="none" stroke="#6a9c58" stroke-width="1.15"/>
<path d="M48.40,607.10 L118.10,607.10 L118.10,622.72 L126.30,622.72 L126.30,638.34 L130.40,638.34 L130.40,653.96 L134.50,653.96 L134.50,685.20" fill="none" stroke="#6c5a92" stroke-width="1.15"/>
<line x1="47.80" y1="604.30" x2="47.80" y2="685.20" stroke="#222" stroke-width="1.1"/>
<line x1="45.50" y1="607.00" x2="47.80" y2="607.00" stroke="#222" stroke-width="0.9"/>
<text x="30.19" y="609.59" font-size="7.2" fill="#444" stroke="#444" textLength="11.41" lengthAdjust="spacingAndGlyphs">100</text>
<line x1="45.50" y1="646.10" x2="47.80" y2="646.10" stroke="#222" stroke-width="0.9"/>
<text x="33.99" y="648.69" font-size="7.2" fill="#444" stroke="#444" textLength="7.61" lengthAdjust="spacingAndGlyphs">50</text>
<line x1="45.50" y1="685.20" x2="47.80" y2="685.20" stroke="#222" stroke-width="0.9"/>
<text x="37.80" y="687.79" font-size="7.2" fill="#444" stroke="#444" textLength="3.80" lengthAdjust="spacingAndGlyphs">0</text>
<line x1="47.80" y1="685.20" x2="174.80" y2="685.20" stroke="#222" stroke-width="1.2"/>
<line x1="48.40" y1="685.20" x2="48.40" y2="688.00" stroke="#222" stroke-width="0.9"/>
<text x="46.50" y="697.86" font-size="7.4" fill="#555" stroke="#555" textLength="3.80" lengthAdjust="spacingAndGlyphs">0</text>
<line x1="68.90" y1="685.20" x2="68.90" y2="688.00" stroke="#222" stroke-width="0.9"/>
<text x="67.00" y="697.86" font-size="7.4" fill="#555" stroke="#555" textLength="3.80" lengthAdjust="spacingAndGlyphs">5</text>
<line x1="89.40" y1="685.20" x2="89.40" y2="688.00" stroke="#222" stroke-width="0.9"/>
<text x="85.60" y="697.86" font-size="7.4" fill="#555" stroke="#555" textLength="7.61" lengthAdjust="spacingAndGlyphs">10</text>
<line x1="109.90" y1="685.20" x2="109.90" y2="688.00" stroke="#222" stroke-width="0.9"/>
<text x="106.10" y="697.86" font-size="7.4" fill="#555" stroke="#555" textLength="7.61" lengthAdjust="spacingAndGlyphs">15</text>
<line x1="130.40" y1="685.20" x2="130.40" y2="688.00" stroke="#222" stroke-width="0.9"/>
<text x="126.60" y="697.86" font-size="7.4" fill="#555" stroke="#555" textLength="7.61" lengthAdjust="spacingAndGlyphs">20</text>
<line x1="150.90" y1="685.20" x2="150.90" y2="688.00" stroke="#222" stroke-width="0.9"/>
<text x="147.10" y="697.86" font-size="7.4" fill="#555" stroke="#555" textLength="7.61" lengthAdjust="spacingAndGlyphs">25</text>
<line x1="171.40" y1="685.20" x2="171.40" y2="688.00" stroke="#222" stroke-width="0.9"/>
<text x="167.60" y="697.86" font-size="7.4" fill="#555" stroke="#555" textLength="7.61" lengthAdjust="spacingAndGlyphs">30</text>
<text x="80.00" y="710.97" font-size="10.2" fill="#333" stroke="#333" textLength="61.90" lengthAdjust="spacingAndGlyphs">Days post transplant</text>
<g transform="translate(21.90,644.20) rotate(-90)"><text x="-16.15" y="3.60" font-size="10.0" fill="#333" stroke="#333" textLength="32.30" lengthAdjust="spacingAndGlyphs">% Survival</text></g>
<text x="52.70" y="625.80" font-size="6.4" fill="#333" stroke="#333" textLength="38.50" lengthAdjust="spacingAndGlyphs">log-rank 0.0003</text>
<text x="52.70" y="632.20" font-size="6.4" fill="#333" stroke="#333" textLength="65.00" lengthAdjust="spacingAndGlyphs">log-rank for trend &lt;0.0001</text>
<text x="101.20" y="658.28" font-size="6.6" fill="#333" stroke="#333" textLength="17.30" lengthAdjust="spacingAndGlyphs">Start of</text>
<text x="97.80" y="664.88" font-size="6.6" fill="#333" stroke="#333" textLength="24.20" lengthAdjust="spacingAndGlyphs">treatment</text>
<text x="115.10" y="673.18" font-size="6.6" fill="#333" stroke="#333" textLength="17.30" lengthAdjust="spacingAndGlyphs">Combo</text>
<path d="M109.9,669.4 L109.9,681" stroke="#222" stroke-width="0.8" marker-end="url(#ahK)"/>
<path d="M126.0,673.7 L126.0,681" stroke="#222" stroke-width="0.8" marker-end="url(#ahK)"/>
<line x1="183.40" y1="608.40" x2="191.90" y2="608.40" stroke="#6c5a92" stroke-width="0.9"/>
<line x1="187.60" y1="607.20" x2="187.60" y2="609.60" stroke="#6c5a92" stroke-width="0.8"/>
<text x="195.00" y="610.85" font-size="6.8" fill="#333" stroke="#333" textLength="30.00" lengthAdjust="spacingAndGlyphs">Untreated</text>
<line x1="183.40" y1="620.00" x2="191.90" y2="620.00" stroke="#6a9c58" stroke-width="0.9"/>
<line x1="187.60" y1="618.80" x2="187.60" y2="621.20" stroke="#6a9c58" stroke-width="0.8"/>
<text x="195.00" y="622.45" font-size="6.8" fill="#333" stroke="#333" textLength="14.50" lengthAdjust="spacingAndGlyphs">p300i</text>
<line x1="183.40" y1="631.50" x2="191.90" y2="631.50" stroke="#ec5e4c" stroke-width="0.9"/>
<line x1="187.60" y1="630.30" x2="187.60" y2="632.70" stroke="#ec5e4c" stroke-width="0.8"/>
<text x="195.00" y="633.95" font-size="6.8" fill="#333" stroke="#333" textLength="13.00" lengthAdjust="spacingAndGlyphs">BETi</text>
<line x1="183.40" y1="643.00" x2="191.90" y2="643.00" stroke="#4f5c9c" stroke-width="0.9"/>
<line x1="187.60" y1="641.80" x2="187.60" y2="644.20" stroke="#4f5c9c" stroke-width="0.8"/>
<text x="195.00" y="645.45" font-size="6.8" fill="#333" stroke="#333" textLength="53.50" lengthAdjust="spacingAndGlyphs">Sequential combo</text>
<rect x="0" y="0" width="520" height="1" fill="#4a4a4a"/>
<rect x="0" y="0" width="1" height="719" fill="#4a4a4a"/>
<rect x="518.8" y="0" width="1.2" height="719" fill="#3e3e3e"/>
<rect x="0" y="717.6" width="520" height="1.4" fill="#3e3e3e"/>
</svg>
</body></html>
